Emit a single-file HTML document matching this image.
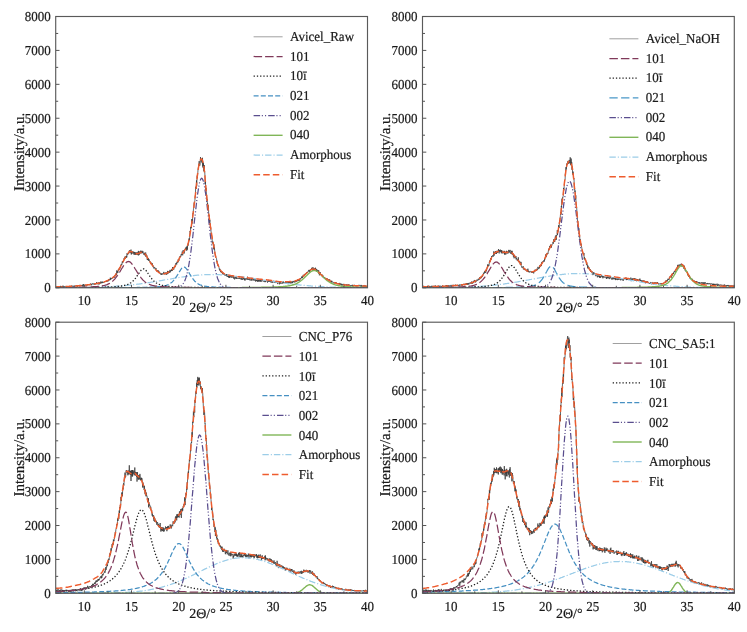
<!DOCTYPE html>
<html><head><meta charset="utf-8"><style>
html,body{margin:0;padding:0;background:#fff;}
svg{display:block;text-rendering:geometricPrecision;will-change:transform;}
.t{font-family:"Liberation Serif", serif;font-size:13px;fill:#1a1a1a;stroke:#1a1a1a;stroke-width:0.2px;}
.xl{font-family:"Liberation Serif", serif;font-size:14px;fill:#1a1a1a;stroke:#1a1a1a;stroke-width:0.2px;}
.yl{font-family:"Liberation Serif", serif;font-size:15px;fill:#1a1a1a;stroke:#1a1a1a;stroke-width:0.2px;}
</style></head><body>
<svg width="747" height="632" viewBox="0 0 747 632">
<clipPath id="c1"><rect x="56" y="16.5" width="311.5" height="271.3"/></clipPath>
<g clip-path="url(#c1)">
<path d="M56,286.8 56.2,286.6 56.4,286.7 56.7,287.4 56.9,286.5 57.1,286.7 57.3,287.1 57.6,286.6 57.8,286.7 58,286.7 58.2,286.8 58.4,286.6 58.7,287.1 58.9,286.9 59.1,287 59.3,286.6 59.6,286.8 59.8,286.9 60,287.1 60.2,286.9 60.5,286.8 60.7,286.9 60.9,286.2 61.1,286.3 61.3,287.8 61.6,287.5 61.8,286.8 62,286.9 62.2,286.6 62.5,286.6 62.7,285.8 62.9,287.1 63.1,286.8 63.3,285.8 63.6,286.4 63.8,286.4 64,286.8 64.2,287.3 64.5,286.5 64.7,286.5 64.9,287.1 65.1,286.8 65.4,286.6 65.6,286.9 65.8,286.6 66,286.5 66.2,286.5 66.5,286.7 66.7,286.2 66.9,286.1 67.1,286.3 67.4,286.8 67.6,286.1 67.8,286.6 68,286.1 68.2,286.9 68.5,286 68.7,286.4 68.9,286.9 69.1,286.5 69.4,286.3 69.6,286.2 69.8,286.7 70,286.8 70.3,286.2 70.5,286.5 70.7,286.2 70.9,285.9 71.1,286.9 71.4,286.1 71.6,285.7 71.8,286.3 72,286.5 72.3,285.9 72.5,286.1 72.7,285.8 72.9,286.3 73.1,286.8 73.4,286.2 73.6,286.3 73.8,285.8 74,286 74.3,286.8 74.5,286.6 74.7,285.6 74.9,285.7 75.1,286.3 75.4,286 75.6,285.8 75.8,285.7 76,285.5 76.3,285.8 76.5,285.9 76.7,286 76.9,285.4 77.2,286.8 77.4,285.9 77.6,285.8 77.8,286.4 78,285.6 78.3,286.1 78.5,285.4 78.7,285.8 78.9,285.4 79.2,285.1 79.4,285.5 79.6,286 79.8,286.3 80,284.8 80.3,285.6 80.5,285.9 80.7,285.5 80.9,285.6 81.2,285.1 81.4,285.5 81.6,285.5 81.8,285.8 82.1,285.2 82.3,285.9 82.5,285.1 82.7,284.6 82.9,286 83.2,286.5 83.4,285 83.6,284.1 83.8,285.7 84.1,285.8 84.3,284.9 84.5,285.6 84.7,285.4 84.9,285.3 85.2,284.8 85.4,285.3 85.6,284.9 85.8,285.1 86.1,285.4 86.3,285.1 86.5,285.4 86.7,284.9 86.9,285.4 87.2,285.4 87.4,284.1 87.6,284.8 87.8,284.8 88.1,284.5 88.3,284.9 88.5,284.8 88.7,284.5 89,284.5 89.2,285.2 89.4,284.2 89.6,284.9 89.8,285.1 90.1,285 90.3,284.7 90.5,283.6 90.7,285 91,284.3 91.2,285.4 91.4,284.3 91.6,283.8 91.8,284.4 92.1,284.6 92.3,284.1 92.5,283.8 92.7,283.8 93,283.1 93.2,284 93.4,284.4 93.6,284.1 93.9,284 94.1,283.9 94.3,283.9 94.5,283.8 94.7,284.7 95,283.4 95.2,284.1 95.4,284.4 95.6,283.4 95.9,283 96.1,283.4 96.3,283.5 96.5,284.1 96.7,282 97,283 97.2,284.1 97.4,283.8 97.6,283.3 97.9,284.2 98.1,283.2 98.3,283.5 98.5,282.5 98.8,282.6 99,284.6 99.2,283.1 99.4,283.9 99.6,282.4 99.9,282.9 100.1,282.6 100.3,283.5 100.5,281.8 100.8,281.6 101,283.3 101.2,282.5 101.4,283 101.6,282.6 101.9,283.2 102.1,281.4 102.3,282.9 102.5,282.5 102.8,282 103,282.6 103.2,282.3 103.4,282.4 103.6,282.1 103.9,282.6 104.1,282.1 104.3,281.9 104.5,281.9 104.8,281.6 105,281.8 105.2,281.1 105.4,281.6 105.7,281.4 105.9,281.7 106.1,281.5 106.3,281.9 106.5,280.7 106.8,281.6 107,281.2 107.2,280.5 107.4,280.3 107.7,280.7 107.9,281.6 108.1,280 108.3,279.9 108.5,280.9 108.8,279.4 109,280.2 109.2,280.3 109.4,279.4 109.7,279.4 109.9,279 110.1,280.1 110.3,277.7 110.6,279.2 110.8,279.7 111,278.2 111.2,278.7 111.4,278.1 111.7,278.5 111.9,278.2 112.1,277.8 112.3,278.4 112.6,277.3 112.8,277.9 113,278.1 113.2,277.2 113.4,276.8 113.7,277.1 113.9,277.4 114.1,276.1 114.3,277.6 114.6,276.8 114.8,275.7 115,276.5 115.2,275.2 115.4,274.9 115.7,273.9 115.9,275 116.1,274.4 116.3,273.3 116.6,275.3 116.8,270.4 117,273.2 117.2,272.8 117.5,271.1 117.7,271.5 117.9,272.7 118.1,270.2 118.3,269.6 118.6,270.4 118.8,269.8 119,268.8 119.2,269.6 119.5,268 119.7,267.8 119.9,268.2 120.1,268.5 120.3,267 120.6,267.2 120.8,264.9 121,265.3 121.2,264.3 121.5,264.5 121.7,263.9 121.9,264.6 122.1,262.7 122.4,261.1 122.6,262.8 122.8,262.7 123,261.9 123.2,261.8 123.5,261.6 123.7,260.3 123.9,260.4 124.1,258.1 124.4,259.3 124.6,258.6 124.8,257.5 125,258.6 125.2,256.3 125.5,258.3 125.7,258.1 125.9,257.3 126.1,256.6 126.4,257.7 126.6,255.8 126.8,257.3 127,253.3 127.3,254.6 127.5,254.9 127.7,254.9 127.9,253.9 128.1,253.3 128.4,254 128.6,253.6 128.8,252.4 129,252.6 129.3,250.6 129.5,250.3 129.7,251.5 129.9,250.9 130.1,253.1 130.4,250.7 130.6,251.6 130.8,251 131,249.6 131.3,254.5 131.5,251.4 131.7,253.2 131.9,251.2 132.1,253.6 132.4,252.7 132.6,252 132.8,251.6 133,252.3 133.3,253.5 133.5,253.3 133.7,251.7 133.9,252.9 134.2,255 134.4,252.1 134.6,252.7 134.8,252.2 135,253.8 135.3,252.5 135.5,254.8 135.7,252.9 135.9,254.2 136.2,252.9 136.4,252.5 136.6,254.6 136.8,253.8 137,253.7 137.3,252.3 137.5,252.8 137.7,255.1 137.9,253 138.2,252.6 138.4,250.9 138.6,255.4 138.8,253.9 139.1,251.6 139.3,254.7 139.5,254.4 139.7,252.3 139.9,251.6 140.2,253.5 140.4,251.9 140.6,252.4 140.8,250.6 141.1,252.4 141.3,251.1 141.5,253.3 141.7,252.4 141.9,252.3 142.2,250.8 142.4,251.5 142.6,253.2 142.8,251.5 143.1,251.4 143.3,252.6 143.5,252.9 143.7,253 144,254.9 144.2,252.9 144.4,253 144.6,254.5 144.8,252.8 145.1,255.6 145.3,254.9 145.5,255.1 145.7,252.5 146,257 146.2,254.8 146.4,254.7 146.6,255.7 146.8,255.2 147.1,258.1 147.3,259.9 147.5,256.9 147.7,259.5 148,258.9 148.2,260.2 148.4,258.2 148.6,258.8 148.8,260.9 149.1,259.5 149.3,260.7 149.5,261.3 149.7,261.5 150,262.1 150.2,261.6 150.4,262.3 150.6,263.3 150.9,262.2 151.1,264.2 151.3,263.6 151.5,263.8 151.7,263 152,265.2 152.2,263.3 152.4,265.1 152.6,265.8 152.9,266.5 153.1,265.6 153.3,266.4 153.5,267.8 153.7,268.2 154,267.9 154.2,268.3 154.4,267 154.6,267 154.9,267.8 155.1,268.6 155.3,269.5 155.5,269.4 155.8,268.9 156,268.1 156.2,269.4 156.4,270.7 156.6,270.7 156.9,271.3 157.1,271.8 157.3,271.5 157.5,271.3 157.8,270.1 158,271.8 158.2,270.9 158.4,270.7 158.6,272.3 158.9,271.2 159.1,272 159.3,273.1 159.5,272.7 159.8,273.1 160,273.4 160.2,273.5 160.4,273.3 160.6,273.2 160.9,274.4 161.1,273.7 161.3,275 161.5,273.7 161.8,273.4 162,273.9 162.2,273.8 162.4,273.6 162.7,274.6 162.9,274.2 163.1,273.6 163.3,273.2 163.5,273.6 163.8,271.9 164,274 164.2,273 164.4,272.8 164.7,273.8 164.9,274.3 165.1,274.6 165.3,273.4 165.5,272.6 165.8,273.2 166,273.2 166.2,273.5 166.4,272.7 166.7,274.8 166.9,272.8 167.1,272.9 167.3,273.9 167.6,270.9 167.8,273.7 168,273.4 168.2,273.4 168.4,271.3 168.7,272.9 168.9,271.5 169.1,271.4 169.3,271.5 169.6,272.7 169.8,272 170,269.9 170.2,272.3 170.4,271.8 170.7,271 170.9,270 171.1,270.3 171.3,269.7 171.6,271.1 171.8,269.1 172,269.2 172.2,271 172.5,267.9 172.7,267 172.9,269.5 173.1,268.5 173.3,267.1 173.6,269.4 173.8,269.6 174,268.7 174.2,267.8 174.5,267.5 174.7,266.1 174.9,266.1 175.1,267.2 175.3,265.1 175.6,263.5 175.8,263.8 176,263.6 176.2,264.2 176.5,262.9 176.7,264.5 176.9,262.3 177.1,262.8 177.3,261.1 177.6,261.4 177.8,262.6 178,260.9 178.2,259.4 178.5,261.4 178.7,260.4 178.9,260.2 179.1,260.6 179.4,257.4 179.6,256.6 179.8,256.8 180,257 180.2,257 180.5,256.2 180.7,257 180.9,254.7 181.1,254.2 181.4,254 181.6,255.3 181.8,254.3 182,254.2 182.2,251.6 182.5,253.2 182.7,255.3 182.9,252.3 183.1,250.2 183.4,251.3 183.6,250.7 183.8,251.5 184,253.6 184.3,253.1 184.5,252.1 184.7,250.4 184.9,249.6 185.1,248.8 185.4,249.8 185.6,247.8 185.8,249 186,249.2 186.3,246.9 186.5,248.7 186.7,250.7 186.9,248.1 187.1,246.1 187.4,249.7 187.6,245.6 187.8,244.9 188,245.7 188.3,245.1 188.5,242.9 188.7,242.1 188.9,238.5 189.2,238.6 189.4,240.3 189.6,237.9 189.8,234.3 190,231.1 190.3,232 190.5,230.7 190.7,226.9 190.9,228.5 191.2,227.6 191.4,228 191.6,225.1 191.8,219.1 192,223.7 192.3,219.6 192.5,220.5 192.7,216.2 192.9,213.1 193.2,213.5 193.4,209.9 193.6,208.2 193.8,206.9 194,202.6 194.3,202.6 194.5,202.9 194.7,201.8 194.9,200.3 195.2,195.7 195.4,195.4 195.6,187 195.8,186.7 196.1,189 196.3,187 196.5,180.4 196.7,186.2 196.9,180.9 197.2,175.6 197.4,177.9 197.6,174.9 197.8,172.8 198.1,168.6 198.3,168.3 198.5,166.2 198.7,164.5 198.9,164.8 199.2,161.1 199.4,164.7 199.6,165.7 199.8,165.8 200.1,164.8 200.3,161.5 200.5,157.1 200.7,158.9 201,160.6 201.2,161.7 201.4,160.2 201.6,160 201.8,160.6 202.1,163.1 202.3,161.1 202.5,157.8 202.7,166.6 203,162.5 203.2,168.1 203.4,163.3 203.6,166.7 203.8,171.3 204.1,167.4 204.3,165.1 204.5,171.3 204.7,171.1 205,176.5 205.2,183.9 205.4,180.6 205.6,185.4 205.8,190.3 206.1,188.1 206.3,191.7 206.5,195.8 206.7,195.1 207,200.5 207.2,199.4 207.4,204.4 207.6,203.3 207.9,208.3 208.1,205.1 208.3,209.2 208.5,208.8 208.7,214.7 209,215.8 209.2,215.2 209.4,223.1 209.6,221.9 209.9,219.9 210.1,222.6 210.3,223.4 210.5,227.1 210.7,227.3 211,231 211.2,233.5 211.4,235.5 211.6,235.1 211.9,236.5 212.1,237.9 212.3,243.4 212.5,242.4 212.8,241.5 213,241.6 213.2,244 213.4,245.6 213.6,248.7 213.9,244.3 214.1,249.6 214.3,247.4 214.5,248.9 214.8,251.7 215,253.9 215.2,254.2 215.4,256.8 215.6,256.2 215.9,257.5 216.1,257.9 216.3,258.3 216.5,258.4 216.8,261.5 217,260.8 217.2,263.5 217.4,264.3 217.7,264.7 217.9,265.8 218.1,264.5 218.3,265.1 218.5,265.4 218.8,267.2 219,267.4 219.2,268.7 219.4,269.7 219.7,268.7 219.9,269.2 220.1,270.9 220.3,269.7 220.5,272.1 220.8,271.1 221,271.8 221.2,272 221.4,272.7 221.7,271.3 221.9,271.9 222.1,271.6 222.3,272.7 222.5,274.1 222.8,273.5 223,274.3 223.2,273.2 223.4,272.7 223.7,273.6 223.9,274.5 224.1,274.5 224.3,274.1 224.6,275.6 224.8,274.4 225,274.5 225.2,275.2 225.4,275.2 225.7,274.8 225.9,275.7 226.1,275.8 226.3,274.6 226.6,275.1 226.8,274 227,276.2 227.2,276.9 227.4,274.8 227.7,274.9 227.9,276.3 228.1,276.9 228.3,275.9 228.6,277.3 228.8,276.2 229,277.7 229.2,276.3 229.5,277.8 229.7,276.4 229.9,275.1 230.1,276.6 230.3,275.8 230.6,277 230.8,277.2 231,277.7 231.2,275.9 231.5,276.7 231.7,275.5 231.9,277.7 232.1,277 232.3,276.9 232.6,275.9 232.8,275.7 233,277.6 233.2,278 233.5,278.5 233.7,276.3 233.9,277.4 234.1,277.8 234.3,277.5 234.6,279.4 234.8,278.8 235,276.9 235.2,277.3 235.5,277.6 235.7,278.5 235.9,277.3 236.1,276.5 236.4,278.8 236.6,277.9 236.8,278.3 237,277.7 237.2,278 237.5,278.2 237.7,278.7 237.9,278.2 238.1,278.6 238.4,278.3 238.6,278.3 238.8,277.8 239,278.7 239.2,278.6 239.5,277.6 239.7,278.6 239.9,278.6 240.1,277.9 240.4,278.3 240.6,278.5 240.8,278.4 241,279.5 241.3,278.3 241.5,277.7 241.7,278.3 241.9,279.8 242.1,278.5 242.4,279.4 242.6,278.9 242.8,278.7 243,279.7 243.3,277.9 243.5,278.9 243.7,278.3 243.9,278.5 244.1,278 244.4,278.1 244.6,280.1 244.8,279 245,280.6 245.3,279.4 245.5,278.6 245.7,278.5 245.9,278.2 246.2,279.4 246.4,279 246.6,279.2 246.8,278.4 247,278.2 247.3,279.6 247.5,276.7 247.7,279.4 247.9,279.6 248.2,279 248.4,278.9 248.6,279.1 248.8,279.9 249,278.5 249.3,279.5 249.5,278.5 249.7,278.6 249.9,280.5 250.2,280.3 250.4,280.3 250.6,279.5 250.8,279.6 251,279.5 251.3,280.3 251.5,279.5 251.7,278.8 251.9,280.7 252.2,279.9 252.4,279.7 252.6,280 252.8,280 253.1,278.7 253.3,279.1 253.5,279.4 253.7,280.5 253.9,278.5 254.2,279.8 254.4,280.4 254.6,280.3 254.8,280.4 255.1,278.7 255.3,280 255.5,280.1 255.7,281.6 255.9,279.7 256.2,280.9 256.4,281 256.6,279.9 256.8,280.9 257.1,279.8 257.3,279.6 257.5,281.6 257.7,280.5 258,281.5 258.2,280.5 258.4,279.9 258.6,281.4 258.8,279.3 259.1,280.7 259.3,281.3 259.5,280.7 259.7,280.1 260,281.5 260.2,280.6 260.4,281.6 260.6,279.9 260.8,280.6 261.1,281 261.3,280 261.5,281.6 261.7,281 262,279.6 262.2,280.9 262.4,279.9 262.6,280.7 262.9,281.3 263.1,281 263.3,280.8 263.5,281.2 263.7,281.4 264,281.4 264.2,281.9 264.4,280.9 264.6,280.7 264.9,280.5 265.1,282.2 265.3,280.5 265.5,281.1 265.7,282 266,281 266.2,280.6 266.4,280.8 266.6,280.7 266.9,280.5 267.1,280.6 267.3,281.2 267.5,282.6 267.7,281.7 268,281 268.2,281.6 268.4,280.9 268.6,280.8 268.9,281.3 269.1,280.2 269.3,282 269.5,280.9 269.8,281.8 270,282 270.2,281.2 270.4,282 270.6,281.1 270.9,282.4 271.1,281.7 271.3,282.2 271.5,281.9 271.8,282 272,282.5 272.2,281.4 272.4,282.7 272.6,282.5 272.9,281.4 273.1,281.4 273.3,281.6 273.5,281.9 273.8,280.7 274,282.9 274.2,282.6 274.4,282.8 274.7,281.7 274.9,282.1 275.1,281.6 275.3,281.7 275.5,282.5 275.8,282.9 276,283 276.2,281.1 276.4,281.9 276.7,282.2 276.9,282.8 277.1,282.7 277.3,282.8 277.5,282.8 277.8,284.1 278,282.7 278.2,282.9 278.4,282.5 278.7,282.6 278.9,282.2 279.1,282.8 279.3,282.3 279.5,284.3 279.8,283.4 280,281.8 280.2,283.5 280.4,283 280.7,282.4 280.9,283.3 281.1,282.4 281.3,283.6 281.6,283.9 281.8,283.6 282,283.8 282.2,282.8 282.4,283 282.7,282.6 282.9,283.4 283.1,281.3 283.3,282.8 283.6,282.8 283.8,282.5 284,282.9 284.2,283.1 284.4,282.6 284.7,282.1 284.9,282.3 285.1,282.1 285.3,283 285.6,283.1 285.8,281.4 286,282.8 286.2,282.3 286.5,282.2 286.7,281.7 286.9,283.4 287.1,282.8 287.3,282.8 287.6,282.7 287.8,284 288,282.6 288.2,284.2 288.5,282.3 288.7,282.2 288.9,282.1 289.1,283.2 289.3,281.9 289.6,282.9 289.8,283.1 290,283 290.2,282.9 290.5,282.3 290.7,281.9 290.9,283.6 291.1,282.6 291.4,281.7 291.6,282.1 291.8,281.9 292,283.1 292.2,281.6 292.5,283.1 292.7,282 292.9,281.2 293.1,280.9 293.4,281.7 293.6,281.4 293.8,282.3 294,282.2 294.2,281.1 294.5,281.8 294.7,281.8 294.9,282.5 295.1,281.5 295.4,281.1 295.6,281.9 295.8,281.7 296,280.3 296.2,281.1 296.5,281.3 296.7,281.8 296.9,281.4 297.1,281 297.4,279.9 297.6,281.1 297.8,279.4 298,281 298.3,280.6 298.5,279.7 298.7,280.2 298.9,280.5 299.1,279.9 299.4,279.3 299.6,280.6 299.8,279.5 300,279.2 300.3,279.3 300.5,278.3 300.7,279 300.9,278.7 301.1,278.2 301.4,277.6 301.6,278 301.8,276.6 302,278.1 302.3,276.3 302.5,277.7 302.7,277 302.9,276.4 303.2,274.9 303.4,275.5 303.6,276.3 303.8,274.8 304,275.7 304.3,275.9 304.5,274.7 304.7,274.8 304.9,273.9 305.2,274.9 305.4,273.9 305.6,273.5 305.8,273.6 306,273.6 306.3,273.9 306.5,272.4 306.7,272.9 306.9,272.4 307.2,272.9 307.4,272.4 307.6,273 307.8,271.9 308.1,271.2 308.3,271.5 308.5,270.7 308.7,271 308.9,269.9 309.2,271.1 309.4,272.1 309.6,270.2 309.8,270.6 310.1,271.1 310.3,269.6 310.5,269.8 310.7,269.5 310.9,270 311.2,269.5 311.4,269.3 311.6,267.8 311.8,270 312.1,269.3 312.3,268.9 312.5,270.7 312.7,270.5 312.9,267.1 313.2,270.6 313.4,268.5 313.6,269.8 313.8,269.7 314.1,270.8 314.3,269.9 314.5,268.5 314.7,270.5 315,268.8 315.2,269.1 315.4,267.7 315.6,270 315.8,268.6 316.1,269.1 316.3,270.3 316.5,271.7 316.7,269.1 317,271.7 317.2,271.2 317.4,270.2 317.6,270.2 317.8,272.1 318.1,271.6 318.3,272 318.5,271 318.7,270.2 319,274 319.2,271.9 319.4,275.3 319.6,273.2 319.9,274.3 320.1,272 320.3,273.7 320.5,274.7 320.7,274.7 321,275 321.2,274.6 321.4,275.1 321.6,274.7 321.9,274.2 322.1,275 322.3,276.7 322.5,277.2 322.7,276.7 323,275.6 323.2,276.8 323.4,277.2 323.6,276.8 323.9,278.1 324.1,278.1 324.3,277.1 324.5,277.8 324.7,278.1 325,277.7 325.2,278.5 325.4,278.7 325.6,278.7 325.9,278.1 326.1,278.6 326.3,279.6 326.5,279.1 326.8,278.6 327,278 327.2,280.1 327.4,279.3 327.6,279.8 327.9,279.2 328.1,279.6 328.3,279.1 328.5,279.8 328.8,280.6 329,280.8 329.2,280.3 329.4,280.4 329.6,279.3 329.9,279.9 330.1,281.7 330.3,280.9 330.5,282 330.8,282.3 331,281 331.2,281.2 331.4,282.2 331.7,280.7 331.9,282.4 332.1,282.6 332.3,281.6 332.5,281.9 332.8,282.2 333,282.2 333.2,282.2 333.4,282.4 333.7,282.5 333.9,283.6 334.1,283.4 334.3,282.3 334.5,283.1 334.8,282.5 335,282.2 335.2,283.2 335.4,282.9 335.7,282 335.9,282.8 336.1,282.3 336.3,282.5 336.6,283 336.8,283.5 337,284 337.2,284.2 337.4,283.4 337.7,283.5 337.9,283.9 338.1,283.4 338.3,284.2 338.6,283.4 338.8,284 339,284 339.2,284.1 339.4,284.2 339.7,282.9 339.9,285 340.1,284.2 340.3,283.7 340.6,284 340.8,284.5 341,283.5 341.2,285 341.4,285.1 341.7,284.2 341.9,285.3 342.1,285.8 342.3,284.2 342.6,284.3 342.8,284.3 343,284.9 343.2,284.6 343.5,285.2 343.7,283.9 343.9,284.4 344.1,284.5 344.3,285.8 344.6,284.5 344.8,284.2 345,284.3 345.2,284.6 345.5,285 345.7,285.2 345.9,284.7 346.1,284.9 346.3,285 346.6,285.2 346.8,284.3 347,285.7 347.2,285.2 347.5,285.4 347.7,284.7 347.9,284.5 348.1,284.6 348.4,284.9 348.6,285.9 348.8,284.3 349,285 349.2,285.4 349.5,285.3 349.7,285.5 349.9,285.2 350.1,285.2 350.4,285.5 350.6,286.6 350.8,285.4 351,285.2 351.2,285.2 351.5,285.5 351.7,285.3 351.9,285 352.1,285.7 352.4,284.8 352.6,286.4 352.8,286.1 353,286 353.2,286.7 353.5,286 353.7,285 353.9,285 354.1,285.6 354.4,284.8 354.6,285.5 354.8,285.9 355,285.5 355.3,285.7 355.5,285.3 355.7,286.4 355.9,285.2 356.1,285.9 356.4,285.3 356.6,286.4 356.8,285.9 357,285.7 357.3,285.3 357.5,286.3 357.7,285 357.9,285.6 358.1,286 358.4,285.3 358.6,285.8 358.8,285.3 359,284.8 359.3,285.5 359.5,286.1 359.7,286 359.9,285.6 360.2,285.7 360.4,286.2 360.6,286.2 360.8,285.6 361,284.9 361.3,287.1 361.5,285.6 361.7,286 361.9,285.6 362.2,285.6 362.4,285.9 362.6,286.4 362.8,286.6 363,286.8 363.3,285.4 363.5,286.1 363.7,286.2 363.9,286.1 364.2,286.6 364.4,285.9 364.6,285.4 364.8,285.5 365.1,286.7 365.3,285.5 365.5,286.4 365.7,286.9 365.9,286.6 366.2,286.5 366.4,286.1 366.6,286.5 366.8,286.7 367.1,286.2 367.3,285.3 367.5,286.4" fill="none" stroke="#383838" stroke-width="0.75"/>
<path d="M56,287.8 56.5,287.8 57,287.8 57.6,287.8 58.1,287.7 58.6,287.7 59.1,287.7 59.6,287.7 60.2,287.7 60.7,287.7 61.2,287.7 61.7,287.7 62.2,287.7 62.8,287.7 63.3,287.7 63.8,287.7 64.3,287.7 64.8,287.7 65.4,287.7 65.9,287.7 66.4,287.7 66.9,287.7 67.4,287.7 68,287.7 68.5,287.7 69,287.7 69.5,287.7 70,287.7 70.6,287.7 71.1,287.7 71.6,287.7 72.1,287.7 72.6,287.7 73.2,287.7 73.7,287.7 74.2,287.6 74.7,287.6 75.2,287.6 75.8,287.6 76.3,287.6 76.8,287.6 77.3,287.6 77.8,287.6 78.4,287.6 78.9,287.6 79.4,287.6 79.9,287.6 80.4,287.6 81,287.6 81.5,287.6 82,287.5 82.5,287.5 83,287.5 83.6,287.5 84.1,287.5 84.6,287.5 85.1,287.5 85.6,287.5 86.2,287.5 86.7,287.5 87.2,287.5 87.7,287.4 88.2,287.4 88.8,287.4 89.3,287.4 89.8,287.4 90.3,287.4 90.8,287.4 91.4,287.4 91.9,287.4 92.4,287.3 92.9,287.3 93.4,287.3 94,287.3 94.5,287.3 95,287.3 95.5,287.2 96,287.2 96.6,287.2 97.1,287.2 97.6,287.2 98.1,287.2 98.6,287.1 99.2,287.1 99.7,287.1 100.2,287.1 100.7,287.1 101.2,287.1 101.8,287 102.3,287 102.8,287 103.3,287 103.8,286.9 104.4,286.9 104.9,286.9 105.4,286.9 105.9,286.9 106.4,286.8 107,286.8 107.5,286.8 108,286.7 108.5,286.7 109,286.7 109.6,286.7 110.1,286.6 110.6,286.6 111.1,286.6 111.6,286.5 112.2,286.5 112.7,286.5 113.2,286.5 113.7,286.4 114.2,286.4 114.8,286.4 115.3,286.3 115.8,286.3 116.3,286.2 116.8,286.2 117.4,286.2 117.9,286.1 118.4,286.1 118.9,286.1 119.4,286 120,286 120.5,285.9 121,285.9 121.5,285.9 122,285.8 122.6,285.8 123.1,285.7 123.6,285.7 124.1,285.6 124.6,285.6 125.2,285.5 125.7,285.5 126.2,285.4 126.7,285.4 127.2,285.3 127.8,285.3 128.3,285.2 128.8,285.2 129.3,285.1 129.8,285.1 130.4,285 130.9,285 131.4,284.9 131.9,284.8 132.4,284.8 133,284.7 133.5,284.7 134,284.6 134.5,284.5 135,284.5 135.6,284.4 136.1,284.4 136.6,284.3 137.1,284.2 137.6,284.2 138.2,284.1 138.7,284 139.2,284 139.7,283.9 140.2,283.8 140.8,283.8 141.3,283.7 141.8,283.6 142.3,283.5 142.8,283.5 143.4,283.4 143.9,283.3 144.4,283.3 144.9,283.2 145.4,283.1 146,283 146.5,282.9 147,282.9 147.5,282.8 148,282.7 148.6,282.6 149.1,282.5 149.6,282.5 150.1,282.4 150.6,282.3 151.2,282.2 151.7,282.1 152.2,282.1 152.7,282 153.2,281.9 153.8,281.8 154.3,281.7 154.8,281.6 155.3,281.5 155.8,281.5 156.4,281.4 156.9,281.3 157.4,281.2 157.9,281.1 158.4,281 159,280.9 159.5,280.8 160,280.8 160.5,280.7 161,280.6 161.6,280.5 162.1,280.4 162.6,280.3 163.1,280.2 163.6,280.1 164.2,280 164.7,279.9 165.2,279.9 165.7,279.8 166.2,279.7 166.8,279.6 167.3,279.5 167.8,279.4 168.3,279.3 168.8,279.2 169.4,279.1 169.9,279 170.4,279 170.9,278.9 171.4,278.8 172,278.7 172.5,278.6 173,278.5 173.5,278.4 174,278.3 174.6,278.2 175.1,278.2 175.6,278.1 176.1,278 176.6,277.9 177.2,277.8 177.7,277.7 178.2,277.7 178.7,277.6 179.2,277.5 179.8,277.4 180.3,277.3 180.8,277.2 181.3,277.2 181.8,277.1 182.4,277 182.9,276.9 183.4,276.9 183.9,276.8 184.4,276.7 185,276.6 185.5,276.6 186,276.5 186.5,276.4 187,276.3 187.6,276.3 188.1,276.2 188.6,276.1 189.1,276.1 189.6,276 190.2,275.9 190.7,275.9 191.2,275.8 191.7,275.8 192.2,275.7 192.8,275.6 193.3,275.6 193.8,275.5 194.3,275.5 194.8,275.4 195.4,275.4 195.9,275.3 196.4,275.3 196.9,275.2 197.4,275.2 198,275.2 198.5,275.1 199,275.1 199.5,275 200,275 200.6,275 201.1,274.9 201.6,274.9 202.1,274.9 202.6,274.8 203.2,274.8 203.7,274.8 204.2,274.7 204.7,274.7 205.2,274.7 205.8,274.7 206.3,274.7 206.8,274.6 207.3,274.6 207.8,274.6 208.4,274.6 208.9,274.6 209.4,274.6 209.9,274.6 210.4,274.6 211,274.6 211.5,274.6 212,274.6 212.5,274.6 213.1,274.6 213.6,274.6 214.1,274.6 214.6,274.6 215.1,274.6 215.7,274.6 216.2,274.6 216.7,274.6 217.2,274.7 217.7,274.7 218.3,274.7 218.8,274.7 219.3,274.7 219.8,274.7 220.3,274.8 220.9,274.8 221.4,274.8 221.9,274.8 222.4,274.9 222.9,274.9 223.5,274.9 224,275 224.5,275 225,275 225.5,275.1 226.1,275.1 226.6,275.1 227.1,275.2 227.6,275.2 228.1,275.3 228.7,275.3 229.2,275.3 229.7,275.4 230.2,275.4 230.7,275.5 231.3,275.5 231.8,275.6 232.3,275.6 232.8,275.7 233.3,275.7 233.9,275.8 234.4,275.9 234.9,275.9 235.4,276 235.9,276 236.5,276.1 237,276.1 237.5,276.2 238,276.3 238.5,276.3 239.1,276.4 239.6,276.5 240.1,276.5 240.6,276.6 241.1,276.7 241.7,276.7 242.2,276.8 242.7,276.9 243.2,276.9 243.7,277 244.3,277.1 244.8,277.2 245.3,277.2 245.8,277.3 246.3,277.4 246.9,277.5 247.4,277.5 247.9,277.6 248.4,277.7 248.9,277.8 249.5,277.8 250,277.9 250.5,278 251,278.1 251.5,278.1 252.1,278.2 252.6,278.3 253.1,278.4 253.6,278.5 254.1,278.6 254.7,278.6 255.2,278.7 255.7,278.8 256.2,278.9 256.7,279 257.3,279 257.8,279.1 258.3,279.2 258.8,279.3 259.3,279.4 259.9,279.5 260.4,279.5 260.9,279.6 261.4,279.7 261.9,279.8 262.5,279.9 263,280 263.5,280 264,280.1 264.5,280.2 265.1,280.3 265.6,280.4 266.1,280.5 266.6,280.5 267.1,280.6 267.7,280.7 268.2,280.8 268.7,280.9 269.2,280.9 269.7,281 270.3,281.1 270.8,281.2 271.3,281.3 271.8,281.4 272.3,281.4 272.9,281.5 273.4,281.6 273.9,281.7 274.4,281.7 274.9,281.8 275.5,281.9 276,282 276.5,282.1 277,282.1 277.5,282.2 278.1,282.3 278.6,282.4 279.1,282.4 279.6,282.5 280.1,282.6 280.7,282.7 281.2,282.7 281.7,282.8 282.2,282.9 282.7,283 283.3,283 283.8,283.1 284.3,283.2 284.8,283.2 285.3,283.3 285.9,283.4 286.4,283.4 286.9,283.5 287.4,283.6 287.9,283.6 288.5,283.7 289,283.8 289.5,283.8 290,283.9 290.5,284 291.1,284 291.6,284.1 292.1,284.1 292.6,284.2 293.1,284.3 293.7,284.3 294.2,284.4 294.7,284.4 295.2,284.5 295.7,284.6 296.3,284.6 296.8,284.7 297.3,284.7 297.8,284.8 298.3,284.8 298.9,284.9 299.4,284.9 299.9,285 300.4,285 300.9,285.1 301.5,285.1 302,285.2 302.5,285.2 303,285.3 303.5,285.3 304.1,285.4 304.6,285.4 305.1,285.5 305.6,285.5 306.1,285.6 306.7,285.6 307.2,285.6 307.7,285.7 308.2,285.7 308.7,285.8 309.3,285.8 309.8,285.8 310.3,285.9 310.8,285.9 311.3,286 311.9,286 312.4,286 312.9,286.1 313.4,286.1 313.9,286.1 314.5,286.2 315,286.2 315.5,286.2 316,286.3 316.5,286.3 317.1,286.3 317.6,286.4 318.1,286.4 318.6,286.4 319.1,286.5 319.7,286.5 320.2,286.5 320.7,286.6 321.2,286.6 321.7,286.6 322.3,286.6 322.8,286.7 323.3,286.7 323.8,286.7 324.3,286.7 324.9,286.8 325.4,286.8 325.9,286.8 326.4,286.8 326.9,286.9 327.5,286.9 328,286.9 328.5,286.9 329,286.9 329.5,287 330.1,287 330.6,287 331.1,287 331.6,287 332.1,287.1 332.7,287.1 333.2,287.1 333.7,287.1 334.2,287.1 334.7,287.1 335.3,287.2 335.8,287.2 336.3,287.2 336.8,287.2 337.3,287.2 337.9,287.2 338.4,287.3 338.9,287.3 339.4,287.3 339.9,287.3 340.5,287.3 341,287.3 341.5,287.3 342,287.3 342.5,287.4 343.1,287.4 343.6,287.4 344.1,287.4 344.6,287.4 345.1,287.4 345.7,287.4 346.2,287.4 346.7,287.4 347.2,287.5 347.7,287.5 348.3,287.5 348.8,287.5 349.3,287.5 349.8,287.5 350.3,287.5 350.9,287.5 351.4,287.5 351.9,287.5 352.4,287.5 352.9,287.6 353.5,287.6 354,287.6 354.5,287.6 355,287.6 355.5,287.6 356.1,287.6 356.6,287.6 357.1,287.6 357.6,287.6 358.1,287.6 358.7,287.6 359.2,287.6 359.7,287.6 360.2,287.6 360.7,287.6 361.3,287.6 361.8,287.7 362.3,287.7 362.8,287.7 363.3,287.7 363.9,287.7 364.4,287.7 364.9,287.7 365.4,287.7 365.9,287.7 366.5,287.7 367,287.7 367.5,287.7" fill="none" stroke="#9ccde8" stroke-width="1.25" stroke-dasharray="6.4 2 1.1 2"/>
<path d="M56,287.8 56.5,287.8 57,287.8 57.6,287.8 58.1,287.8 58.6,287.8 59.1,287.8 59.6,287.8 60.2,287.8 60.7,287.8 61.2,287.8 61.7,287.8 62.2,287.8 62.8,287.8 63.3,287.8 63.8,287.8 64.3,287.8 64.8,287.8 65.4,287.8 65.9,287.8 66.4,287.8 66.9,287.8 67.4,287.8 68,287.8 68.5,287.8 69,287.8 69.5,287.8 70,287.8 70.6,287.8 71.1,287.8 71.6,287.8 72.1,287.8 72.6,287.8 73.2,287.8 73.7,287.8 74.2,287.8 74.7,287.8 75.2,287.8 75.8,287.8 76.3,287.8 76.8,287.8 77.3,287.8 77.8,287.8 78.4,287.8 78.9,287.8 79.4,287.8 79.9,287.8 80.4,287.8 81,287.8 81.5,287.8 82,287.8 82.5,287.8 83,287.8 83.6,287.8 84.1,287.8 84.6,287.8 85.1,287.8 85.6,287.8 86.2,287.8 86.7,287.8 87.2,287.8 87.7,287.8 88.2,287.8 88.8,287.8 89.3,287.8 89.8,287.8 90.3,287.8 90.8,287.8 91.4,287.8 91.9,287.8 92.4,287.8 92.9,287.8 93.4,287.8 94,287.8 94.5,287.8 95,287.8 95.5,287.8 96,287.8 96.6,287.8 97.1,287.8 97.6,287.8 98.1,287.8 98.6,287.8 99.2,287.8 99.7,287.8 100.2,287.8 100.7,287.8 101.2,287.8 101.8,287.8 102.3,287.8 102.8,287.8 103.3,287.8 103.8,287.8 104.4,287.8 104.9,287.8 105.4,287.8 105.9,287.8 106.4,287.8 107,287.8 107.5,287.8 108,287.8 108.5,287.8 109,287.8 109.6,287.8 110.1,287.8 110.6,287.8 111.1,287.8 111.6,287.8 112.2,287.8 112.7,287.8 113.2,287.8 113.7,287.8 114.2,287.8 114.8,287.8 115.3,287.8 115.8,287.8 116.3,287.8 116.8,287.8 117.4,287.8 117.9,287.8 118.4,287.8 118.9,287.8 119.4,287.8 120,287.8 120.5,287.8 121,287.8 121.5,287.8 122,287.8 122.6,287.8 123.1,287.8 123.6,287.8 124.1,287.8 124.6,287.8 125.2,287.8 125.7,287.8 126.2,287.8 126.7,287.8 127.2,287.8 127.8,287.8 128.3,287.8 128.8,287.8 129.3,287.8 129.8,287.8 130.4,287.8 130.9,287.8 131.4,287.8 131.9,287.8 132.4,287.8 133,287.8 133.5,287.8 134,287.8 134.5,287.8 135,287.8 135.6,287.8 136.1,287.8 136.6,287.8 137.1,287.8 137.6,287.8 138.2,287.8 138.7,287.8 139.2,287.8 139.7,287.8 140.2,287.8 140.8,287.8 141.3,287.8 141.8,287.8 142.3,287.8 142.8,287.8 143.4,287.8 143.9,287.8 144.4,287.8 144.9,287.8 145.4,287.8 146,287.8 146.5,287.8 147,287.8 147.5,287.8 148,287.8 148.6,287.8 149.1,287.8 149.6,287.8 150.1,287.8 150.6,287.8 151.2,287.8 151.7,287.7 152.2,287.7 152.7,287.7 153.2,287.7 153.8,287.7 154.3,287.7 154.8,287.7 155.3,287.7 155.8,287.7 156.4,287.7 156.9,287.7 157.4,287.7 157.9,287.7 158.4,287.7 159,287.7 159.5,287.7 160,287.7 160.5,287.7 161,287.7 161.6,287.7 162.1,287.7 162.6,287.7 163.1,287.7 163.6,287.7 164.2,287.7 164.7,287.7 165.2,287.7 165.7,287.7 166.2,287.7 166.8,287.7 167.3,287.7 167.8,287.7 168.3,287.7 168.8,287.7 169.4,287.7 169.9,287.7 170.4,287.7 170.9,287.7 171.4,287.7 172,287.7 172.5,287.7 173,287.7 173.5,287.7 174,287.7 174.6,287.7 175.1,287.7 175.6,287.7 176.1,287.7 176.6,287.7 177.2,287.7 177.7,287.7 178.2,287.7 178.7,287.7 179.2,287.7 179.8,287.7 180.3,287.7 180.8,287.7 181.3,287.7 181.8,287.7 182.4,287.7 182.9,287.7 183.4,287.7 183.9,287.7 184.4,287.7 185,287.7 185.5,287.7 186,287.7 186.5,287.7 187,287.7 187.6,287.7 188.1,287.7 188.6,287.7 189.1,287.7 189.6,287.7 190.2,287.7 190.7,287.7 191.2,287.7 191.7,287.7 192.2,287.7 192.8,287.7 193.3,287.7 193.8,287.7 194.3,287.7 194.8,287.7 195.4,287.7 195.9,287.7 196.4,287.7 196.9,287.7 197.4,287.7 198,287.7 198.5,287.7 199,287.7 199.5,287.7 200,287.7 200.6,287.7 201.1,287.7 201.6,287.7 202.1,287.7 202.6,287.7 203.2,287.7 203.7,287.7 204.2,287.7 204.7,287.7 205.2,287.7 205.8,287.7 206.3,287.7 206.8,287.7 207.3,287.7 207.8,287.7 208.4,287.7 208.9,287.7 209.4,287.7 209.9,287.7 210.4,287.7 211,287.7 211.5,287.7 212,287.7 212.5,287.7 213.1,287.7 213.6,287.7 214.1,287.7 214.6,287.7 215.1,287.7 215.7,287.7 216.2,287.7 216.7,287.7 217.2,287.7 217.7,287.7 218.3,287.7 218.8,287.7 219.3,287.7 219.8,287.7 220.3,287.7 220.9,287.6 221.4,287.6 221.9,287.6 222.4,287.6 222.9,287.6 223.5,287.6 224,287.6 224.5,287.6 225,287.6 225.5,287.6 226.1,287.6 226.6,287.6 227.1,287.6 227.6,287.6 228.1,287.6 228.7,287.6 229.2,287.6 229.7,287.6 230.2,287.6 230.7,287.6 231.3,287.6 231.8,287.6 232.3,287.6 232.8,287.6 233.3,287.6 233.9,287.6 234.4,287.6 234.9,287.6 235.4,287.6 235.9,287.6 236.5,287.6 237,287.6 237.5,287.6 238,287.6 238.5,287.6 239.1,287.6 239.6,287.6 240.1,287.6 240.6,287.6 241.1,287.6 241.7,287.6 242.2,287.5 242.7,287.5 243.2,287.5 243.7,287.5 244.3,287.5 244.8,287.5 245.3,287.5 245.8,287.5 246.3,287.5 246.9,287.5 247.4,287.5 247.9,287.5 248.4,287.5 248.9,287.5 249.5,287.5 250,287.5 250.5,287.5 251,287.5 251.5,287.5 252.1,287.5 252.6,287.5 253.1,287.5 253.6,287.4 254.1,287.4 254.7,287.4 255.2,287.4 255.7,287.4 256.2,287.4 256.7,287.4 257.3,287.4 257.8,287.4 258.3,287.4 258.8,287.4 259.3,287.4 259.9,287.4 260.4,287.4 260.9,287.4 261.4,287.3 261.9,287.3 262.5,287.3 263,287.3 263.5,287.3 264,287.3 264.5,287.3 265.1,287.3 265.6,287.3 266.1,287.3 266.6,287.2 267.1,287.2 267.7,287.2 268.2,287.2 268.7,287.2 269.2,287.2 269.7,287.2 270.3,287.2 270.8,287.1 271.3,287.1 271.8,287.1 272.3,287.1 272.9,287.1 273.4,287.1 273.9,287 274.4,287 274.9,287 275.5,287 276,287 276.5,286.9 277,286.9 277.5,286.9 278.1,286.9 278.6,286.8 279.1,286.8 279.6,286.8 280.1,286.8 280.7,286.7 281.2,286.7 281.7,286.7 282.2,286.6 282.7,286.6 283.3,286.5 283.8,286.5 284.3,286.4 284.8,286.4 285.3,286.3 285.9,286.3 286.4,286.2 286.9,286.1 287.4,286.1 287.9,286 288.5,285.9 289,285.8 289.5,285.7 290,285.6 290.5,285.5 291.1,285.4 291.6,285.3 292.1,285.1 292.6,285 293.1,284.8 293.7,284.7 294.2,284.5 294.7,284.3 295.2,284.1 295.7,283.9 296.3,283.6 296.8,283.4 297.3,283.1 297.8,282.8 298.3,282.5 298.9,282.2 299.4,281.8 299.9,281.5 300.4,281.1 300.9,280.7 301.5,280.3 302,279.9 302.5,279.5 303,279 303.5,278.5 304.1,278 304.6,277.5 305.1,277 305.6,276.5 306.1,276 306.7,275.5 307.2,275 307.7,274.5 308.2,274 308.7,273.5 309.3,273 309.8,272.5 310.3,272.1 310.8,271.7 311.3,271.4 311.9,271.1 312.4,270.9 312.9,270.7 313.4,270.6 313.9,270.5 314.5,270.5 315,270.6 315.5,270.7 316,270.9 316.5,271.1 317.1,271.4 317.6,271.8 318.1,272.2 318.6,272.6 319.1,273 319.7,273.5 320.2,274 320.7,274.5 321.2,275 321.7,275.5 322.3,276.1 322.8,276.6 323.3,277.1 323.8,277.6 324.3,278.1 324.9,278.6 325.4,279 325.9,279.5 326.4,279.9 326.9,280.4 327.5,280.8 328,281.2 328.5,281.5 329,281.9 329.5,282.2 330.1,282.5 330.6,282.8 331.1,283.1 331.6,283.4 332.1,283.6 332.7,283.9 333.2,284.1 333.7,284.3 334.2,284.5 334.7,284.7 335.3,284.9 335.8,285 336.3,285.2 336.8,285.3 337.3,285.4 337.9,285.5 338.4,285.6 338.9,285.7 339.4,285.8 339.9,285.9 340.5,286 341,286.1 341.5,286.2 342,286.2 342.5,286.3 343.1,286.3 343.6,286.4 344.1,286.4 344.6,286.5 345.1,286.5 345.7,286.6 346.2,286.6 346.7,286.7 347.2,286.7 347.7,286.7 348.3,286.8 348.8,286.8 349.3,286.8 349.8,286.8 350.3,286.9 350.9,286.9 351.4,286.9 351.9,286.9 352.4,287 352.9,287 353.5,287 354,287 354.5,287 355,287.1 355.5,287.1 356.1,287.1 356.6,287.1 357.1,287.1 357.6,287.1 358.1,287.2 358.7,287.2 359.2,287.2 359.7,287.2 360.2,287.2 360.7,287.2 361.3,287.2 361.8,287.2 362.3,287.3 362.8,287.3 363.3,287.3 363.9,287.3 364.4,287.3 364.9,287.3 365.4,287.3 365.9,287.3 366.5,287.3 367,287.3 367.5,287.4" fill="none" stroke="#80b658" stroke-width="1.4"/>
<path d="M56,287.8 56.5,287.8 57,287.8 57.6,287.8 58.1,287.7 58.6,287.7 59.1,287.7 59.6,287.7 60.2,287.7 60.7,287.7 61.2,287.7 61.7,287.7 62.2,287.7 62.8,287.7 63.3,287.7 63.8,287.7 64.3,287.7 64.8,287.7 65.4,287.7 65.9,287.7 66.4,287.7 66.9,287.7 67.4,287.7 68,287.7 68.5,287.7 69,287.7 69.5,287.7 70,287.7 70.6,287.7 71.1,287.7 71.6,287.7 72.1,287.7 72.6,287.7 73.2,287.7 73.7,287.7 74.2,287.7 74.7,287.7 75.2,287.7 75.8,287.7 76.3,287.7 76.8,287.7 77.3,287.7 77.8,287.7 78.4,287.7 78.9,287.7 79.4,287.7 79.9,287.7 80.4,287.7 81,287.7 81.5,287.7 82,287.7 82.5,287.7 83,287.7 83.6,287.7 84.1,287.7 84.6,287.7 85.1,287.7 85.6,287.7 86.2,287.7 86.7,287.7 87.2,287.7 87.7,287.7 88.2,287.7 88.8,287.7 89.3,287.7 89.8,287.7 90.3,287.7 90.8,287.7 91.4,287.7 91.9,287.7 92.4,287.7 92.9,287.7 93.4,287.7 94,287.7 94.5,287.7 95,287.7 95.5,287.7 96,287.7 96.6,287.7 97.1,287.7 97.6,287.7 98.1,287.7 98.6,287.7 99.2,287.7 99.7,287.7 100.2,287.7 100.7,287.7 101.2,287.7 101.8,287.7 102.3,287.7 102.8,287.7 103.3,287.7 103.8,287.7 104.4,287.7 104.9,287.7 105.4,287.7 105.9,287.7 106.4,287.7 107,287.7 107.5,287.7 108,287.7 108.5,287.7 109,287.7 109.6,287.7 110.1,287.7 110.6,287.7 111.1,287.7 111.6,287.6 112.2,287.6 112.7,287.6 113.2,287.6 113.7,287.6 114.2,287.6 114.8,287.6 115.3,287.6 115.8,287.6 116.3,287.6 116.8,287.6 117.4,287.6 117.9,287.6 118.4,287.6 118.9,287.6 119.4,287.6 120,287.6 120.5,287.6 121,287.6 121.5,287.6 122,287.6 122.6,287.6 123.1,287.6 123.6,287.6 124.1,287.6 124.6,287.6 125.2,287.6 125.7,287.6 126.2,287.6 126.7,287.6 127.2,287.6 127.8,287.6 128.3,287.5 128.8,287.5 129.3,287.5 129.8,287.5 130.4,287.5 130.9,287.5 131.4,287.5 131.9,287.5 132.4,287.5 133,287.5 133.5,287.5 134,287.5 134.5,287.5 135,287.5 135.6,287.5 136.1,287.5 136.6,287.5 137.1,287.4 137.6,287.4 138.2,287.4 138.7,287.4 139.2,287.4 139.7,287.4 140.2,287.4 140.8,287.4 141.3,287.4 141.8,287.4 142.3,287.4 142.8,287.3 143.4,287.3 143.9,287.3 144.4,287.3 144.9,287.3 145.4,287.3 146,287.3 146.5,287.3 147,287.2 147.5,287.2 148,287.2 148.6,287.2 149.1,287.2 149.6,287.2 150.1,287.1 150.6,287.1 151.2,287.1 151.7,287.1 152.2,287.1 152.7,287 153.2,287 153.8,287 154.3,287 154.8,286.9 155.3,286.9 155.8,286.9 156.4,286.8 156.9,286.8 157.4,286.8 157.9,286.7 158.4,286.7 159,286.6 159.5,286.6 160,286.5 160.5,286.5 161,286.4 161.6,286.3 162.1,286.3 162.6,286.2 163.1,286.1 163.6,286 164.2,285.9 164.7,285.8 165.2,285.7 165.7,285.5 166.2,285.4 166.8,285.2 167.3,285 167.8,284.8 168.3,284.6 168.8,284.3 169.4,284.1 169.9,283.7 170.4,283.4 170.9,283 171.4,282.6 172,282.2 172.5,281.7 173,281.1 173.5,280.6 174,279.9 174.6,279.3 175.1,278.6 175.6,277.9 176.1,277.1 176.6,276.3 177.2,275.4 177.7,274.6 178.2,273.7 178.7,272.8 179.2,272 179.8,271.1 180.3,270.3 180.8,269.5 181.3,268.8 181.8,268.2 182.4,267.8 182.9,267.4 183.4,267.2 183.9,267.1 184.4,267.2 185,267.4 185.5,267.8 186,268.3 186.5,268.9 187,269.6 187.6,270.4 188.1,271.2 188.6,272 189.1,272.9 189.6,273.8 190.2,274.7 190.7,275.5 191.2,276.4 191.7,277.2 192.2,277.9 192.8,278.7 193.3,279.4 193.8,280 194.3,280.6 194.8,281.2 195.4,281.7 195.9,282.2 196.4,282.6 196.9,283.1 197.4,283.4 198,283.8 198.5,284.1 199,284.4 199.5,284.6 200,284.8 200.6,285 201.1,285.2 201.6,285.4 202.1,285.6 202.6,285.7 203.2,285.8 203.7,285.9 204.2,286 204.7,286.1 205.2,286.2 205.8,286.3 206.3,286.3 206.8,286.4 207.3,286.5 207.8,286.5 208.4,286.6 208.9,286.6 209.4,286.7 209.9,286.7 210.4,286.8 211,286.8 211.5,286.8 212,286.9 212.5,286.9 213.1,286.9 213.6,287 214.1,287 214.6,287 215.1,287 215.7,287.1 216.2,287.1 216.7,287.1 217.2,287.1 217.7,287.1 218.3,287.2 218.8,287.2 219.3,287.2 219.8,287.2 220.3,287.2 220.9,287.2 221.4,287.3 221.9,287.3 222.4,287.3 222.9,287.3 223.5,287.3 224,287.3 224.5,287.3 225,287.3 225.5,287.4 226.1,287.4 226.6,287.4 227.1,287.4 227.6,287.4 228.1,287.4 228.7,287.4 229.2,287.4 229.7,287.4 230.2,287.4 230.7,287.4 231.3,287.5 231.8,287.5 232.3,287.5 232.8,287.5 233.3,287.5 233.9,287.5 234.4,287.5 234.9,287.5 235.4,287.5 235.9,287.5 236.5,287.5 237,287.5 237.5,287.5 238,287.5 238.5,287.5 239.1,287.5 239.6,287.5 240.1,287.6 240.6,287.6 241.1,287.6 241.7,287.6 242.2,287.6 242.7,287.6 243.2,287.6 243.7,287.6 244.3,287.6 244.8,287.6 245.3,287.6 245.8,287.6 246.3,287.6 246.9,287.6 247.4,287.6 247.9,287.6 248.4,287.6 248.9,287.6 249.5,287.6 250,287.6 250.5,287.6 251,287.6 251.5,287.6 252.1,287.6 252.6,287.6 253.1,287.6 253.6,287.6 254.1,287.6 254.7,287.6 255.2,287.6 255.7,287.6 256.2,287.6 256.7,287.7 257.3,287.7 257.8,287.7 258.3,287.7 258.8,287.7 259.3,287.7 259.9,287.7 260.4,287.7 260.9,287.7 261.4,287.7 261.9,287.7 262.5,287.7 263,287.7 263.5,287.7 264,287.7 264.5,287.7 265.1,287.7 265.6,287.7 266.1,287.7 266.6,287.7 267.1,287.7 267.7,287.7 268.2,287.7 268.7,287.7 269.2,287.7 269.7,287.7 270.3,287.7 270.8,287.7 271.3,287.7 271.8,287.7 272.3,287.7 272.9,287.7 273.4,287.7 273.9,287.7 274.4,287.7 274.9,287.7 275.5,287.7 276,287.7 276.5,287.7 277,287.7 277.5,287.7 278.1,287.7 278.6,287.7 279.1,287.7 279.6,287.7 280.1,287.7 280.7,287.7 281.2,287.7 281.7,287.7 282.2,287.7 282.7,287.7 283.3,287.7 283.8,287.7 284.3,287.7 284.8,287.7 285.3,287.7 285.9,287.7 286.4,287.7 286.9,287.7 287.4,287.7 287.9,287.7 288.5,287.7 289,287.7 289.5,287.7 290,287.7 290.5,287.7 291.1,287.7 291.6,287.7 292.1,287.7 292.6,287.7 293.1,287.7 293.7,287.7 294.2,287.7 294.7,287.7 295.2,287.7 295.7,287.7 296.3,287.7 296.8,287.7 297.3,287.7 297.8,287.7 298.3,287.7 298.9,287.7 299.4,287.7 299.9,287.7 300.4,287.7 300.9,287.7 301.5,287.7 302,287.7 302.5,287.7 303,287.7 303.5,287.7 304.1,287.7 304.6,287.7 305.1,287.7 305.6,287.7 306.1,287.7 306.7,287.7 307.2,287.7 307.7,287.7 308.2,287.7 308.7,287.7 309.3,287.7 309.8,287.7 310.3,287.8 310.8,287.8 311.3,287.8 311.9,287.8 312.4,287.8 312.9,287.8 313.4,287.8 313.9,287.8 314.5,287.8 315,287.8 315.5,287.8 316,287.8 316.5,287.8 317.1,287.8 317.6,287.8 318.1,287.8 318.6,287.8 319.1,287.8 319.7,287.8 320.2,287.8 320.7,287.8 321.2,287.8 321.7,287.8 322.3,287.8 322.8,287.8 323.3,287.8 323.8,287.8 324.3,287.8 324.9,287.8 325.4,287.8 325.9,287.8 326.4,287.8 326.9,287.8 327.5,287.8 328,287.8 328.5,287.8 329,287.8 329.5,287.8 330.1,287.8 330.6,287.8 331.1,287.8 331.6,287.8 332.1,287.8 332.7,287.8 333.2,287.8 333.7,287.8 334.2,287.8 334.7,287.8 335.3,287.8 335.8,287.8 336.3,287.8 336.8,287.8 337.3,287.8 337.9,287.8 338.4,287.8 338.9,287.8 339.4,287.8 339.9,287.8 340.5,287.8 341,287.8 341.5,287.8 342,287.8 342.5,287.8 343.1,287.8 343.6,287.8 344.1,287.8 344.6,287.8 345.1,287.8 345.7,287.8 346.2,287.8 346.7,287.8 347.2,287.8 347.7,287.8 348.3,287.8 348.8,287.8 349.3,287.8 349.8,287.8 350.3,287.8 350.9,287.8 351.4,287.8 351.9,287.8 352.4,287.8 352.9,287.8 353.5,287.8 354,287.8 354.5,287.8 355,287.8 355.5,287.8 356.1,287.8 356.6,287.8 357.1,287.8 357.6,287.8 358.1,287.8 358.7,287.8 359.2,287.8 359.7,287.8 360.2,287.8 360.7,287.8 361.3,287.8 361.8,287.8 362.3,287.8 362.8,287.8 363.3,287.8 363.9,287.8 364.4,287.8 364.9,287.8 365.4,287.8 365.9,287.8 366.5,287.8 367,287.8 367.5,287.8" fill="none" stroke="#4690c2" stroke-width="1.25" stroke-dasharray="5 2.2"/>
<path d="M56,287.7 56.5,287.7 57,287.7 57.6,287.7 58.1,287.7 58.6,287.7 59.1,287.7 59.6,287.7 60.2,287.7 60.7,287.7 61.2,287.7 61.7,287.7 62.2,287.7 62.8,287.7 63.3,287.6 63.8,287.6 64.3,287.6 64.8,287.6 65.4,287.6 65.9,287.6 66.4,287.6 66.9,287.6 67.4,287.6 68,287.6 68.5,287.6 69,287.6 69.5,287.6 70,287.6 70.6,287.6 71.1,287.6 71.6,287.6 72.1,287.6 72.6,287.6 73.2,287.6 73.7,287.6 74.2,287.6 74.7,287.6 75.2,287.6 75.8,287.6 76.3,287.6 76.8,287.6 77.3,287.6 77.8,287.6 78.4,287.6 78.9,287.6 79.4,287.6 79.9,287.6 80.4,287.6 81,287.6 81.5,287.6 82,287.5 82.5,287.5 83,287.5 83.6,287.5 84.1,287.5 84.6,287.5 85.1,287.5 85.6,287.5 86.2,287.5 86.7,287.5 87.2,287.5 87.7,287.5 88.2,287.5 88.8,287.5 89.3,287.5 89.8,287.5 90.3,287.5 90.8,287.5 91.4,287.4 91.9,287.4 92.4,287.4 92.9,287.4 93.4,287.4 94,287.4 94.5,287.4 95,287.4 95.5,287.4 96,287.4 96.6,287.4 97.1,287.4 97.6,287.3 98.1,287.3 98.6,287.3 99.2,287.3 99.7,287.3 100.2,287.3 100.7,287.3 101.2,287.3 101.8,287.3 102.3,287.2 102.8,287.2 103.3,287.2 103.8,287.2 104.4,287.2 104.9,287.2 105.4,287.2 105.9,287.1 106.4,287.1 107,287.1 107.5,287.1 108,287.1 108.5,287 109,287 109.6,287 110.1,287 110.6,286.9 111.1,286.9 111.6,286.9 112.2,286.9 112.7,286.8 113.2,286.8 113.7,286.8 114.2,286.7 114.8,286.7 115.3,286.7 115.8,286.6 116.3,286.6 116.8,286.5 117.4,286.5 117.9,286.4 118.4,286.4 118.9,286.3 119.4,286.3 120,286.2 120.5,286.1 121,286.1 121.5,286 122,285.9 122.6,285.8 123.1,285.7 123.6,285.6 124.1,285.5 124.6,285.4 125.2,285.2 125.7,285.1 126.2,284.9 126.7,284.8 127.2,284.6 127.8,284.4 128.3,284.2 128.8,283.9 129.3,283.6 129.8,283.4 130.4,283 130.9,282.7 131.4,282.3 131.9,281.9 132.4,281.5 133,281 133.5,280.5 134,280 134.5,279.4 135,278.8 135.6,278.1 136.1,277.4 136.6,276.7 137.1,275.9 137.6,275.2 138.2,274.4 138.7,273.6 139.2,272.8 139.7,272 140.2,271.3 140.8,270.6 141.3,270 141.8,269.6 142.3,269.2 142.8,269 143.4,268.9 143.9,268.9 144.4,269.1 144.9,269.5 145.4,270 146,270.5 146.5,271.2 147,271.9 147.5,272.7 148,273.4 148.6,274.2 149.1,275 149.6,275.8 150.1,276.6 150.6,277.3 151.2,278 151.7,278.7 152.2,279.3 152.7,279.9 153.2,280.4 153.8,280.9 154.3,281.4 154.8,281.8 155.3,282.3 155.8,282.6 156.4,283 156.9,283.3 157.4,283.6 157.9,283.9 158.4,284.1 159,284.3 159.5,284.5 160,284.7 160.5,284.9 161,285.1 161.6,285.2 162.1,285.4 162.6,285.5 163.1,285.6 163.6,285.7 164.2,285.8 164.7,285.9 165.2,286 165.7,286 166.2,286.1 166.8,286.2 167.3,286.3 167.8,286.3 168.3,286.4 168.8,286.4 169.4,286.5 169.9,286.5 170.4,286.6 170.9,286.6 171.4,286.7 172,286.7 172.5,286.7 173,286.8 173.5,286.8 174,286.8 174.6,286.9 175.1,286.9 175.6,286.9 176.1,286.9 176.6,287 177.2,287 177.7,287 178.2,287 178.7,287.1 179.2,287.1 179.8,287.1 180.3,287.1 180.8,287.1 181.3,287.2 181.8,287.2 182.4,287.2 182.9,287.2 183.4,287.2 183.9,287.2 184.4,287.2 185,287.3 185.5,287.3 186,287.3 186.5,287.3 187,287.3 187.6,287.3 188.1,287.3 188.6,287.3 189.1,287.3 189.6,287.4 190.2,287.4 190.7,287.4 191.2,287.4 191.7,287.4 192.2,287.4 192.8,287.4 193.3,287.4 193.8,287.4 194.3,287.4 194.8,287.4 195.4,287.4 195.9,287.5 196.4,287.5 196.9,287.5 197.4,287.5 198,287.5 198.5,287.5 199,287.5 199.5,287.5 200,287.5 200.6,287.5 201.1,287.5 201.6,287.5 202.1,287.5 202.6,287.5 203.2,287.5 203.7,287.5 204.2,287.5 204.7,287.5 205.2,287.5 205.8,287.6 206.3,287.6 206.8,287.6 207.3,287.6 207.8,287.6 208.4,287.6 208.9,287.6 209.4,287.6 209.9,287.6 210.4,287.6 211,287.6 211.5,287.6 212,287.6 212.5,287.6 213.1,287.6 213.6,287.6 214.1,287.6 214.6,287.6 215.1,287.6 215.7,287.6 216.2,287.6 216.7,287.6 217.2,287.6 217.7,287.6 218.3,287.6 218.8,287.6 219.3,287.6 219.8,287.6 220.3,287.6 220.9,287.6 221.4,287.6 221.9,287.6 222.4,287.6 222.9,287.6 223.5,287.6 224,287.7 224.5,287.7 225,287.7 225.5,287.7 226.1,287.7 226.6,287.7 227.1,287.7 227.6,287.7 228.1,287.7 228.7,287.7 229.2,287.7 229.7,287.7 230.2,287.7 230.7,287.7 231.3,287.7 231.8,287.7 232.3,287.7 232.8,287.7 233.3,287.7 233.9,287.7 234.4,287.7 234.9,287.7 235.4,287.7 235.9,287.7 236.5,287.7 237,287.7 237.5,287.7 238,287.7 238.5,287.7 239.1,287.7 239.6,287.7 240.1,287.7 240.6,287.7 241.1,287.7 241.7,287.7 242.2,287.7 242.7,287.7 243.2,287.7 243.7,287.7 244.3,287.7 244.8,287.7 245.3,287.7 245.8,287.7 246.3,287.7 246.9,287.7 247.4,287.7 247.9,287.7 248.4,287.7 248.9,287.7 249.5,287.7 250,287.7 250.5,287.7 251,287.7 251.5,287.7 252.1,287.7 252.6,287.7 253.1,287.7 253.6,287.7 254.1,287.7 254.7,287.7 255.2,287.7 255.7,287.7 256.2,287.7 256.7,287.7 257.3,287.7 257.8,287.7 258.3,287.7 258.8,287.7 259.3,287.7 259.9,287.7 260.4,287.7 260.9,287.7 261.4,287.7 261.9,287.7 262.5,287.7 263,287.7 263.5,287.7 264,287.7 264.5,287.7 265.1,287.7 265.6,287.7 266.1,287.7 266.6,287.7 267.1,287.7 267.7,287.7 268.2,287.7 268.7,287.7 269.2,287.7 269.7,287.7 270.3,287.7 270.8,287.7 271.3,287.7 271.8,287.7 272.3,287.7 272.9,287.7 273.4,287.7 273.9,287.7 274.4,287.7 274.9,287.7 275.5,287.7 276,287.7 276.5,287.7 277,287.7 277.5,287.7 278.1,287.7 278.6,287.7 279.1,287.7 279.6,287.7 280.1,287.7 280.7,287.7 281.2,287.7 281.7,287.7 282.2,287.7 282.7,287.7 283.3,287.8 283.8,287.8 284.3,287.8 284.8,287.8 285.3,287.8 285.9,287.8 286.4,287.8 286.9,287.8 287.4,287.8 287.9,287.8 288.5,287.8 289,287.8 289.5,287.8 290,287.8 290.5,287.8 291.1,287.8 291.6,287.8 292.1,287.8 292.6,287.8 293.1,287.8 293.7,287.8 294.2,287.8 294.7,287.8 295.2,287.8 295.7,287.8 296.3,287.8 296.8,287.8 297.3,287.8 297.8,287.8 298.3,287.8 298.9,287.8 299.4,287.8 299.9,287.8 300.4,287.8 300.9,287.8 301.5,287.8 302,287.8 302.5,287.8 303,287.8 303.5,287.8 304.1,287.8 304.6,287.8 305.1,287.8 305.6,287.8 306.1,287.8 306.7,287.8 307.2,287.8 307.7,287.8 308.2,287.8 308.7,287.8 309.3,287.8 309.8,287.8 310.3,287.8 310.8,287.8 311.3,287.8 311.9,287.8 312.4,287.8 312.9,287.8 313.4,287.8 313.9,287.8 314.5,287.8 315,287.8 315.5,287.8 316,287.8 316.5,287.8 317.1,287.8 317.6,287.8 318.1,287.8 318.6,287.8 319.1,287.8 319.7,287.8 320.2,287.8 320.7,287.8 321.2,287.8 321.7,287.8 322.3,287.8 322.8,287.8 323.3,287.8 323.8,287.8 324.3,287.8 324.9,287.8 325.4,287.8 325.9,287.8 326.4,287.8 326.9,287.8 327.5,287.8 328,287.8 328.5,287.8 329,287.8 329.5,287.8 330.1,287.8 330.6,287.8 331.1,287.8 331.6,287.8 332.1,287.8 332.7,287.8 333.2,287.8 333.7,287.8 334.2,287.8 334.7,287.8 335.3,287.8 335.8,287.8 336.3,287.8 336.8,287.8 337.3,287.8 337.9,287.8 338.4,287.8 338.9,287.8 339.4,287.8 339.9,287.8 340.5,287.8 341,287.8 341.5,287.8 342,287.8 342.5,287.8 343.1,287.8 343.6,287.8 344.1,287.8 344.6,287.8 345.1,287.8 345.7,287.8 346.2,287.8 346.7,287.8 347.2,287.8 347.7,287.8 348.3,287.8 348.8,287.8 349.3,287.8 349.8,287.8 350.3,287.8 350.9,287.8 351.4,287.8 351.9,287.8 352.4,287.8 352.9,287.8 353.5,287.8 354,287.8 354.5,287.8 355,287.8 355.5,287.8 356.1,287.8 356.6,287.8 357.1,287.8 357.6,287.8 358.1,287.8 358.7,287.8 359.2,287.8 359.7,287.8 360.2,287.8 360.7,287.8 361.3,287.8 361.8,287.8 362.3,287.8 362.8,287.8 363.3,287.8 363.9,287.8 364.4,287.8 364.9,287.8 365.4,287.8 365.9,287.8 366.5,287.8 367,287.8 367.5,287.8" fill="none" stroke="#1e1e1e" stroke-width="1.3" stroke-dasharray="1.3 1.95"/>
<path d="M56,287.5 56.5,287.5 57,287.5 57.6,287.5 58.1,287.5 58.6,287.5 59.1,287.5 59.6,287.5 60.2,287.5 60.7,287.5 61.2,287.5 61.7,287.5 62.2,287.5 62.8,287.5 63.3,287.5 63.8,287.5 64.3,287.5 64.8,287.5 65.4,287.5 65.9,287.4 66.4,287.4 66.9,287.4 67.4,287.4 68,287.4 68.5,287.4 69,287.4 69.5,287.4 70,287.4 70.6,287.4 71.1,287.4 71.6,287.4 72.1,287.4 72.6,287.4 73.2,287.4 73.7,287.3 74.2,287.3 74.7,287.3 75.2,287.3 75.8,287.3 76.3,287.3 76.8,287.3 77.3,287.3 77.8,287.3 78.4,287.3 78.9,287.2 79.4,287.2 79.9,287.2 80.4,287.2 81,287.2 81.5,287.2 82,287.2 82.5,287.2 83,287.1 83.6,287.1 84.1,287.1 84.6,287.1 85.1,287.1 85.6,287.1 86.2,287.1 86.7,287 87.2,287 87.7,287 88.2,287 88.8,287 89.3,286.9 89.8,286.9 90.3,286.9 90.8,286.9 91.4,286.8 91.9,286.8 92.4,286.8 92.9,286.8 93.4,286.7 94,286.7 94.5,286.7 95,286.6 95.5,286.6 96,286.6 96.6,286.5 97.1,286.5 97.6,286.4 98.1,286.4 98.6,286.3 99.2,286.3 99.7,286.2 100.2,286.2 100.7,286.1 101.2,286 101.8,285.9 102.3,285.8 102.8,285.7 103.3,285.6 103.8,285.5 104.4,285.4 104.9,285.3 105.4,285.1 105.9,285 106.4,284.8 107,284.6 107.5,284.4 108,284.2 108.5,283.9 109,283.7 109.6,283.4 110.1,283.1 110.6,282.7 111.1,282.4 111.6,282 112.2,281.6 112.7,281.1 113.2,280.6 113.7,280.1 114.2,279.6 114.8,279 115.3,278.4 115.8,277.7 116.3,277.1 116.8,276.4 117.4,275.6 117.9,274.9 118.4,274.1 118.9,273.3 119.4,272.4 120,271.6 120.5,270.7 121,269.8 121.5,269 122,268.1 122.6,267.3 123.1,266.4 123.6,265.6 124.1,264.9 124.6,264.2 125.2,263.5 125.7,263 126.2,262.5 126.7,262.1 127.2,261.8 127.8,261.6 128.3,261.5 128.8,261.6 129.3,261.7 129.8,261.9 130.4,262.3 130.9,262.7 131.4,263.3 131.9,263.9 132.4,264.6 133,265.3 133.5,266.1 134,266.9 134.5,267.7 135,268.6 135.6,269.5 136.1,270.3 136.6,271.2 137.1,272 137.6,272.9 138.2,273.7 138.7,274.5 139.2,275.3 139.7,276 140.2,276.8 140.8,277.4 141.3,278.1 141.8,278.7 142.3,279.3 142.8,279.9 143.4,280.4 143.9,280.9 144.4,281.4 144.9,281.8 145.4,282.2 146,282.6 146.5,282.9 147,283.3 147.5,283.6 148,283.8 148.6,284.1 149.1,284.3 149.6,284.5 150.1,284.7 150.6,284.9 151.2,285.1 151.7,285.2 152.2,285.4 152.7,285.5 153.2,285.6 153.8,285.7 154.3,285.8 154.8,285.9 155.3,286 155.8,286.1 156.4,286.1 156.9,286.2 157.4,286.2 157.9,286.3 158.4,286.4 159,286.4 159.5,286.5 160,286.5 160.5,286.5 161,286.6 161.6,286.6 162.1,286.7 162.6,286.7 163.1,286.7 163.6,286.7 164.2,286.8 164.7,286.8 165.2,286.8 165.7,286.9 166.2,286.9 166.8,286.9 167.3,286.9 167.8,286.9 168.3,287 168.8,287 169.4,287 169.9,287 170.4,287 170.9,287.1 171.4,287.1 172,287.1 172.5,287.1 173,287.1 173.5,287.1 174,287.2 174.6,287.2 175.1,287.2 175.6,287.2 176.1,287.2 176.6,287.2 177.2,287.2 177.7,287.2 178.2,287.3 178.7,287.3 179.2,287.3 179.8,287.3 180.3,287.3 180.8,287.3 181.3,287.3 181.8,287.3 182.4,287.3 182.9,287.3 183.4,287.3 183.9,287.4 184.4,287.4 185,287.4 185.5,287.4 186,287.4 186.5,287.4 187,287.4 187.6,287.4 188.1,287.4 188.6,287.4 189.1,287.4 189.6,287.4 190.2,287.4 190.7,287.4 191.2,287.5 191.7,287.5 192.2,287.5 192.8,287.5 193.3,287.5 193.8,287.5 194.3,287.5 194.8,287.5 195.4,287.5 195.9,287.5 196.4,287.5 196.9,287.5 197.4,287.5 198,287.5 198.5,287.5 199,287.5 199.5,287.5 200,287.5 200.6,287.5 201.1,287.5 201.6,287.5 202.1,287.5 202.6,287.5 203.2,287.6 203.7,287.6 204.2,287.6 204.7,287.6 205.2,287.6 205.8,287.6 206.3,287.6 206.8,287.6 207.3,287.6 207.8,287.6 208.4,287.6 208.9,287.6 209.4,287.6 209.9,287.6 210.4,287.6 211,287.6 211.5,287.6 212,287.6 212.5,287.6 213.1,287.6 213.6,287.6 214.1,287.6 214.6,287.6 215.1,287.6 215.7,287.6 216.2,287.6 216.7,287.6 217.2,287.6 217.7,287.6 218.3,287.6 218.8,287.6 219.3,287.6 219.8,287.6 220.3,287.6 220.9,287.6 221.4,287.6 221.9,287.6 222.4,287.6 222.9,287.6 223.5,287.6 224,287.6 224.5,287.6 225,287.6 225.5,287.7 226.1,287.7 226.6,287.7 227.1,287.7 227.6,287.7 228.1,287.7 228.7,287.7 229.2,287.7 229.7,287.7 230.2,287.7 230.7,287.7 231.3,287.7 231.8,287.7 232.3,287.7 232.8,287.7 233.3,287.7 233.9,287.7 234.4,287.7 234.9,287.7 235.4,287.7 235.9,287.7 236.5,287.7 237,287.7 237.5,287.7 238,287.7 238.5,287.7 239.1,287.7 239.6,287.7 240.1,287.7 240.6,287.7 241.1,287.7 241.7,287.7 242.2,287.7 242.7,287.7 243.2,287.7 243.7,287.7 244.3,287.7 244.8,287.7 245.3,287.7 245.8,287.7 246.3,287.7 246.9,287.7 247.4,287.7 247.9,287.7 248.4,287.7 248.9,287.7 249.5,287.7 250,287.7 250.5,287.7 251,287.7 251.5,287.7 252.1,287.7 252.6,287.7 253.1,287.7 253.6,287.7 254.1,287.7 254.7,287.7 255.2,287.7 255.7,287.7 256.2,287.7 256.7,287.7 257.3,287.7 257.8,287.7 258.3,287.7 258.8,287.7 259.3,287.7 259.9,287.7 260.4,287.7 260.9,287.7 261.4,287.7 261.9,287.7 262.5,287.7 263,287.7 263.5,287.7 264,287.7 264.5,287.7 265.1,287.7 265.6,287.7 266.1,287.7 266.6,287.7 267.1,287.7 267.7,287.7 268.2,287.7 268.7,287.7 269.2,287.7 269.7,287.7 270.3,287.7 270.8,287.7 271.3,287.7 271.8,287.7 272.3,287.7 272.9,287.7 273.4,287.7 273.9,287.7 274.4,287.7 274.9,287.7 275.5,287.7 276,287.7 276.5,287.7 277,287.7 277.5,287.7 278.1,287.7 278.6,287.7 279.1,287.7 279.6,287.7 280.1,287.7 280.7,287.7 281.2,287.7 281.7,287.7 282.2,287.7 282.7,287.7 283.3,287.7 283.8,287.7 284.3,287.7 284.8,287.7 285.3,287.7 285.9,287.7 286.4,287.7 286.9,287.7 287.4,287.7 287.9,287.7 288.5,287.7 289,287.7 289.5,287.7 290,287.7 290.5,287.7 291.1,287.7 291.6,287.7 292.1,287.7 292.6,287.7 293.1,287.7 293.7,287.7 294.2,287.7 294.7,287.7 295.2,287.7 295.7,287.7 296.3,287.7 296.8,287.8 297.3,287.8 297.8,287.8 298.3,287.8 298.9,287.8 299.4,287.8 299.9,287.8 300.4,287.8 300.9,287.8 301.5,287.8 302,287.8 302.5,287.8 303,287.8 303.5,287.8 304.1,287.8 304.6,287.8 305.1,287.8 305.6,287.8 306.1,287.8 306.7,287.8 307.2,287.8 307.7,287.8 308.2,287.8 308.7,287.8 309.3,287.8 309.8,287.8 310.3,287.8 310.8,287.8 311.3,287.8 311.9,287.8 312.4,287.8 312.9,287.8 313.4,287.8 313.9,287.8 314.5,287.8 315,287.8 315.5,287.8 316,287.8 316.5,287.8 317.1,287.8 317.6,287.8 318.1,287.8 318.6,287.8 319.1,287.8 319.7,287.8 320.2,287.8 320.7,287.8 321.2,287.8 321.7,287.8 322.3,287.8 322.8,287.8 323.3,287.8 323.8,287.8 324.3,287.8 324.9,287.8 325.4,287.8 325.9,287.8 326.4,287.8 326.9,287.8 327.5,287.8 328,287.8 328.5,287.8 329,287.8 329.5,287.8 330.1,287.8 330.6,287.8 331.1,287.8 331.6,287.8 332.1,287.8 332.7,287.8 333.2,287.8 333.7,287.8 334.2,287.8 334.7,287.8 335.3,287.8 335.8,287.8 336.3,287.8 336.8,287.8 337.3,287.8 337.9,287.8 338.4,287.8 338.9,287.8 339.4,287.8 339.9,287.8 340.5,287.8 341,287.8 341.5,287.8 342,287.8 342.5,287.8 343.1,287.8 343.6,287.8 344.1,287.8 344.6,287.8 345.1,287.8 345.7,287.8 346.2,287.8 346.7,287.8 347.2,287.8 347.7,287.8 348.3,287.8 348.8,287.8 349.3,287.8 349.8,287.8 350.3,287.8 350.9,287.8 351.4,287.8 351.9,287.8 352.4,287.8 352.9,287.8 353.5,287.8 354,287.8 354.5,287.8 355,287.8 355.5,287.8 356.1,287.8 356.6,287.8 357.1,287.8 357.6,287.8 358.1,287.8 358.7,287.8 359.2,287.8 359.7,287.8 360.2,287.8 360.7,287.8 361.3,287.8 361.8,287.8 362.3,287.8 362.8,287.8 363.3,287.8 363.9,287.8 364.4,287.8 364.9,287.8 365.4,287.8 365.9,287.8 366.5,287.8 367,287.8 367.5,287.8" fill="none" stroke="#80395a" stroke-width="1.25" stroke-dasharray="8.5 3"/>
<path d="M56,287.8 56.5,287.8 57,287.8 57.6,287.8 58.1,287.8 58.6,287.8 59.1,287.8 59.6,287.8 60.2,287.8 60.7,287.8 61.2,287.8 61.7,287.8 62.2,287.8 62.8,287.8 63.3,287.8 63.8,287.8 64.3,287.8 64.8,287.8 65.4,287.8 65.9,287.8 66.4,287.8 66.9,287.8 67.4,287.8 68,287.8 68.5,287.8 69,287.8 69.5,287.8 70,287.8 70.6,287.8 71.1,287.8 71.6,287.8 72.1,287.8 72.6,287.8 73.2,287.8 73.7,287.8 74.2,287.8 74.7,287.8 75.2,287.8 75.8,287.8 76.3,287.8 76.8,287.8 77.3,287.8 77.8,287.8 78.4,287.8 78.9,287.8 79.4,287.8 79.9,287.8 80.4,287.8 81,287.8 81.5,287.8 82,287.8 82.5,287.8 83,287.8 83.6,287.8 84.1,287.8 84.6,287.8 85.1,287.8 85.6,287.8 86.2,287.8 86.7,287.8 87.2,287.8 87.7,287.8 88.2,287.8 88.8,287.8 89.3,287.8 89.8,287.8 90.3,287.8 90.8,287.8 91.4,287.8 91.9,287.8 92.4,287.8 92.9,287.8 93.4,287.8 94,287.8 94.5,287.8 95,287.8 95.5,287.8 96,287.8 96.6,287.8 97.1,287.8 97.6,287.8 98.1,287.8 98.6,287.8 99.2,287.8 99.7,287.8 100.2,287.8 100.7,287.8 101.2,287.8 101.8,287.8 102.3,287.8 102.8,287.8 103.3,287.8 103.8,287.8 104.4,287.8 104.9,287.8 105.4,287.8 105.9,287.8 106.4,287.8 107,287.8 107.5,287.8 108,287.8 108.5,287.8 109,287.8 109.6,287.8 110.1,287.8 110.6,287.8 111.1,287.8 111.6,287.8 112.2,287.8 112.7,287.8 113.2,287.8 113.7,287.8 114.2,287.8 114.8,287.8 115.3,287.8 115.8,287.8 116.3,287.8 116.8,287.8 117.4,287.8 117.9,287.8 118.4,287.8 118.9,287.8 119.4,287.8 120,287.8 120.5,287.8 121,287.8 121.5,287.8 122,287.8 122.6,287.8 123.1,287.8 123.6,287.8 124.1,287.8 124.6,287.8 125.2,287.8 125.7,287.8 126.2,287.8 126.7,287.8 127.2,287.8 127.8,287.8 128.3,287.8 128.8,287.8 129.3,287.8 129.8,287.8 130.4,287.8 130.9,287.8 131.4,287.8 131.9,287.8 132.4,287.8 133,287.8 133.5,287.8 134,287.8 134.5,287.8 135,287.8 135.6,287.8 136.1,287.8 136.6,287.8 137.1,287.8 137.6,287.8 138.2,287.8 138.7,287.8 139.2,287.8 139.7,287.8 140.2,287.8 140.8,287.8 141.3,287.8 141.8,287.8 142.3,287.8 142.8,287.8 143.4,287.8 143.9,287.8 144.4,287.8 144.9,287.8 145.4,287.8 146,287.8 146.5,287.8 147,287.8 147.5,287.8 148,287.8 148.6,287.8 149.1,287.8 149.6,287.8 150.1,287.8 150.6,287.8 151.2,287.8 151.7,287.8 152.2,287.8 152.7,287.8 153.2,287.8 153.8,287.8 154.3,287.8 154.8,287.8 155.3,287.8 155.8,287.8 156.4,287.8 156.9,287.8 157.4,287.8 157.9,287.8 158.4,287.8 159,287.8 159.5,287.8 160,287.8 160.5,287.8 161,287.8 161.6,287.8 162.1,287.8 162.6,287.8 163.1,287.8 163.6,287.8 164.2,287.8 164.7,287.8 165.2,287.8 165.7,287.8 166.2,287.8 166.8,287.8 167.3,287.8 167.8,287.8 168.3,287.8 168.8,287.8 169.4,287.8 169.9,287.8 170.4,287.8 170.9,287.8 171.4,287.8 172,287.8 172.5,287.8 173,287.8 173.5,287.7 174,287.7 174.6,287.7 175.1,287.7 175.6,287.6 176.1,287.6 176.6,287.5 177.2,287.5 177.7,287.4 178.2,287.2 178.7,287.1 179.2,286.9 179.8,286.7 180.3,286.4 180.8,286.1 181.3,285.7 181.8,285.3 182.4,284.7 182.9,284.1 183.4,283.3 183.9,282.4 184.4,281.4 185,280.2 185.5,278.9 186,277.4 186.5,275.6 187,273.7 187.6,271.5 188.1,269.1 188.6,266.4 189.1,263.5 189.6,260.3 190.2,256.9 190.7,253.3 191.2,249.4 191.7,245.2 192.2,240.9 192.8,236.4 193.3,231.8 193.8,227.1 194.3,222.3 194.8,217.6 195.4,212.8 195.9,208.2 196.4,203.7 196.9,199.4 197.4,195.3 198,191.6 198.5,188.3 199,185.4 199.5,182.9 200,180.9 200.6,179.5 201.1,178.6 201.6,178.3 202.1,178.5 202.6,179.3 203.2,180.7 203.7,182.6 204.2,184.9 204.7,187.8 205.2,191.1 205.8,194.7 206.3,198.7 206.8,203 207.3,207.4 207.8,212.1 208.4,216.8 208.9,221.6 209.4,226.4 209.9,231.1 210.4,235.7 211,240.2 211.5,244.6 212,248.7 212.5,252.7 213.1,256.4 213.6,259.8 214.1,263 214.6,266 215.1,268.7 215.7,271.1 216.2,273.3 216.7,275.3 217.2,277.1 217.7,278.7 218.3,280 218.8,281.2 219.3,282.3 219.8,283.2 220.3,284 220.9,284.6 221.4,285.2 221.9,285.7 222.4,286.1 222.9,286.4 223.5,286.7 224,286.9 224.5,287.1 225,287.2 225.5,287.3 226.1,287.4 226.6,287.5 227.1,287.6 227.6,287.6 228.1,287.7 228.7,287.7 229.2,287.7 229.7,287.7 230.2,287.8 230.7,287.8 231.3,287.8 231.8,287.8 232.3,287.8 232.8,287.8 233.3,287.8 233.9,287.8 234.4,287.8 234.9,287.8 235.4,287.8 235.9,287.8 236.5,287.8 237,287.8 237.5,287.8 238,287.8 238.5,287.8 239.1,287.8 239.6,287.8 240.1,287.8 240.6,287.8 241.1,287.8 241.7,287.8 242.2,287.8 242.7,287.8 243.2,287.8 243.7,287.8 244.3,287.8 244.8,287.8 245.3,287.8 245.8,287.8 246.3,287.8 246.9,287.8 247.4,287.8 247.9,287.8 248.4,287.8 248.9,287.8 249.5,287.8 250,287.8 250.5,287.8 251,287.8 251.5,287.8 252.1,287.8 252.6,287.8 253.1,287.8 253.6,287.8 254.1,287.8 254.7,287.8 255.2,287.8 255.7,287.8 256.2,287.8 256.7,287.8 257.3,287.8 257.8,287.8 258.3,287.8 258.8,287.8 259.3,287.8 259.9,287.8 260.4,287.8 260.9,287.8 261.4,287.8 261.9,287.8 262.5,287.8 263,287.8 263.5,287.8 264,287.8 264.5,287.8 265.1,287.8 265.6,287.8 266.1,287.8 266.6,287.8 267.1,287.8 267.7,287.8 268.2,287.8 268.7,287.8 269.2,287.8 269.7,287.8 270.3,287.8 270.8,287.8 271.3,287.8 271.8,287.8 272.3,287.8 272.9,287.8 273.4,287.8 273.9,287.8 274.4,287.8 274.9,287.8 275.5,287.8 276,287.8 276.5,287.8 277,287.8 277.5,287.8 278.1,287.8 278.6,287.8 279.1,287.8 279.6,287.8 280.1,287.8 280.7,287.8 281.2,287.8 281.7,287.8 282.2,287.8 282.7,287.8 283.3,287.8 283.8,287.8 284.3,287.8 284.8,287.8 285.3,287.8 285.9,287.8 286.4,287.8 286.9,287.8 287.4,287.8 287.9,287.8 288.5,287.8 289,287.8 289.5,287.8 290,287.8 290.5,287.8 291.1,287.8 291.6,287.8 292.1,287.8 292.6,287.8 293.1,287.8 293.7,287.8 294.2,287.8 294.7,287.8 295.2,287.8 295.7,287.8 296.3,287.8 296.8,287.8 297.3,287.8 297.8,287.8 298.3,287.8 298.9,287.8 299.4,287.8 299.9,287.8 300.4,287.8 300.9,287.8 301.5,287.8 302,287.8 302.5,287.8 303,287.8 303.5,287.8 304.1,287.8 304.6,287.8 305.1,287.8 305.6,287.8 306.1,287.8 306.7,287.8 307.2,287.8 307.7,287.8 308.2,287.8 308.7,287.8 309.3,287.8 309.8,287.8 310.3,287.8 310.8,287.8 311.3,287.8 311.9,287.8 312.4,287.8 312.9,287.8 313.4,287.8 313.9,287.8 314.5,287.8 315,287.8 315.5,287.8 316,287.8 316.5,287.8 317.1,287.8 317.6,287.8 318.1,287.8 318.6,287.8 319.1,287.8 319.7,287.8 320.2,287.8 320.7,287.8 321.2,287.8 321.7,287.8 322.3,287.8 322.8,287.8 323.3,287.8 323.8,287.8 324.3,287.8 324.9,287.8 325.4,287.8 325.9,287.8 326.4,287.8 326.9,287.8 327.5,287.8 328,287.8 328.5,287.8 329,287.8 329.5,287.8 330.1,287.8 330.6,287.8 331.1,287.8 331.6,287.8 332.1,287.8 332.7,287.8 333.2,287.8 333.7,287.8 334.2,287.8 334.7,287.8 335.3,287.8 335.8,287.8 336.3,287.8 336.8,287.8 337.3,287.8 337.9,287.8 338.4,287.8 338.9,287.8 339.4,287.8 339.9,287.8 340.5,287.8 341,287.8 341.5,287.8 342,287.8 342.5,287.8 343.1,287.8 343.6,287.8 344.1,287.8 344.6,287.8 345.1,287.8 345.7,287.8 346.2,287.8 346.7,287.8 347.2,287.8 347.7,287.8 348.3,287.8 348.8,287.8 349.3,287.8 349.8,287.8 350.3,287.8 350.9,287.8 351.4,287.8 351.9,287.8 352.4,287.8 352.9,287.8 353.5,287.8 354,287.8 354.5,287.8 355,287.8 355.5,287.8 356.1,287.8 356.6,287.8 357.1,287.8 357.6,287.8 358.1,287.8 358.7,287.8 359.2,287.8 359.7,287.8 360.2,287.8 360.7,287.8 361.3,287.8 361.8,287.8 362.3,287.8 362.8,287.8 363.3,287.8 363.9,287.8 364.4,287.8 364.9,287.8 365.4,287.8 365.9,287.8 366.5,287.8 367,287.8 367.5,287.8" fill="none" stroke="#5a4e8e" stroke-width="1.25" stroke-dasharray="6.5 1.7 1.1 2.1 1.1 2.1"/>
<path d="M56,286.9 56.5,286.9 57,286.9 57.6,286.8 58.1,286.8 58.6,286.8 59.1,286.8 59.6,286.8 60.2,286.8 60.7,286.7 61.2,286.7 61.7,286.7 62.2,286.7 62.8,286.7 63.3,286.6 63.8,286.6 64.3,286.6 64.8,286.6 65.4,286.6 65.9,286.5 66.4,286.5 66.9,286.5 67.4,286.5 68,286.4 68.5,286.4 69,286.4 69.5,286.3 70,286.3 70.6,286.3 71.1,286.3 71.6,286.2 72.1,286.2 72.6,286.2 73.2,286.1 73.7,286.1 74.2,286.1 74.7,286 75.2,286 75.8,286 76.3,285.9 76.8,285.9 77.3,285.8 77.8,285.8 78.4,285.8 78.9,285.7 79.4,285.7 79.9,285.6 80.4,285.6 81,285.5 81.5,285.5 82,285.4 82.5,285.4 83,285.3 83.6,285.3 84.1,285.2 84.6,285.1 85.1,285.1 85.6,285 86.2,285 86.7,284.9 87.2,284.9 87.7,284.8 88.2,284.7 88.8,284.7 89.3,284.6 89.8,284.5 90.3,284.5 90.8,284.4 91.4,284.3 91.9,284.3 92.4,284.2 92.9,284.1 93.4,284 94,284 94.5,283.9 95,283.8 95.5,283.7 96,283.6 96.6,283.6 97.1,283.5 97.6,283.4 98.1,283.3 98.6,283.2 99.2,283.1 99.7,283 100.2,282.9 100.7,282.8 101.2,282.7 101.8,282.5 102.3,282.4 102.8,282.3 103.3,282.1 103.8,282 104.4,281.8 104.9,281.6 105.4,281.4 105.9,281.2 106.4,281 107,280.8 107.5,280.6 108,280.3 108.5,280 109,279.7 109.6,279.4 110.1,279 110.6,278.8 111.1,278.5 111.6,278.3 112.2,278 112.7,277.7 113.2,277.3 113.7,276.9 114.2,276.4 114.8,275.8 115.3,275.1 115.8,274.4 116.3,273.6 116.8,272.8 117.4,272 117.9,271.2 118.4,270.3 118.9,269.4 119.4,268.4 120,267.5 120.5,266.5 121,265.5 121.5,264.5 122,263.5 122.6,262.5 123.1,261.6 123.6,260.6 124.1,259.7 124.6,258.8 125.2,258 125.7,257.2 126.2,256.4 126.7,255.5 127.2,254.6 127.8,253.7 128.3,252.9 128.8,252.2 129.3,251.7 129.8,251.5 130.4,251.5 130.9,251.6 131.4,251.7 131.9,251.9 132.4,252.1 133,252.4 133.5,252.7 134,252.9 134.5,253.2 135,253.4 135.6,253.5 136.1,253.7 136.6,253.7 137.1,253.7 137.6,253.6 138.2,253.5 138.7,253.3 139.2,253.1 139.7,252.9 140.2,252.7 140.8,252.5 141.3,252.3 141.8,252.2 142.3,252.2 142.8,252.3 143.4,252.5 143.9,252.9 144.4,253.3 144.9,253.8 145.4,254.4 146,255.1 146.5,255.9 147,256.8 147.5,257.8 148,258.7 148.6,259.6 149.1,260.5 149.6,261.3 150.1,262.2 150.6,263 151.2,263.7 151.7,264.4 152.2,265 152.7,265.7 153.2,266.4 153.8,267.1 154.3,267.8 154.8,268.5 155.3,269.2 155.8,269.8 156.4,270.4 156.9,270.9 157.4,271.4 157.9,271.8 158.4,272.2 159,272.6 159.5,272.9 160,273.2 160.5,273.5 161,273.7 161.6,273.9 162.1,274 162.6,274 163.1,274 163.6,273.9 164.2,273.8 164.7,273.7 165.2,273.6 165.7,273.4 166.2,273.2 166.8,273 167.3,272.8 167.8,272.6 168.3,272.3 168.8,272 169.4,271.7 169.9,271.4 170.4,271.1 170.9,270.7 171.4,270.3 172,269.8 172.5,269.3 173,268.7 173.5,268.1 174,267.5 174.6,266.8 175.1,266 175.6,265.3 176.1,264.4 176.6,263.6 177.2,262.6 177.7,261.7 178.2,260.7 178.7,259.7 179.2,258.7 179.8,257.7 180.3,256.8 180.8,255.9 181.3,255.1 181.8,254.3 182.4,253.5 182.9,252.8 183.4,252.1 183.9,251.3 184.4,250.6 185,249.9 185.5,249.2 186,248.4 186.5,247.5 187,246.4 187.6,245.1 188.1,243.6 188.6,241.8 189.1,239.3 189.6,236.4 190.2,233.2 190.7,230 191.2,226.8 191.7,223.4 192.2,219.8 192.8,216 193.3,212 193.8,207.9 194.3,203.6 194.8,199.3 195.4,194.9 195.9,190.1 196.4,185 196.9,180 197.4,175.2 198,170.9 198.5,167.3 199,164.6 199.5,162.4 200,160.7 200.6,159.6 201.1,159 201.6,159 202.1,159.6 202.6,160.8 203.2,162.7 203.7,165.2 204.2,168.8 204.7,173.8 205.2,179.8 205.8,186.2 206.3,192.3 206.8,197.5 207.3,201.8 207.8,206.1 208.4,210.3 208.9,214.4 209.4,218.3 209.9,222.2 210.4,226 211,229.8 211.5,233.4 212,236.6 212.5,239.5 213.1,242.4 213.6,245.3 214.1,248.2 214.6,251.2 215.1,254 215.7,256.5 216.2,258.8 216.7,260.8 217.2,262.6 217.7,264.3 218.3,265.7 218.8,267 219.3,268.1 219.8,269.1 220.3,270 220.9,270.7 221.4,271.4 221.9,272 222.4,272.4 222.9,272.9 223.5,273.2 224,273.5 224.5,273.8 225,274 225.5,274.2 226.1,274.4 226.6,274.5 227.1,274.7 227.6,274.8 228.1,274.9 228.7,275.1 229.2,275.2 229.7,275.3 230.2,275.4 230.7,275.5 231.3,275.6 231.8,275.6 232.3,275.7 232.8,275.8 233.3,275.9 233.9,276 234.4,276.1 234.9,276.2 235.4,276.2 235.9,276.3 236.5,276.4 237,276.5 237.5,276.6 238,276.6 238.5,276.7 239.1,276.8 239.6,276.8 240.1,276.9 240.6,277 241.1,277 241.7,277.1 242.2,277.2 242.7,277.2 243.2,277.3 243.7,277.4 244.3,277.4 244.8,277.5 245.3,277.5 245.8,277.6 246.3,277.7 246.9,277.7 247.4,277.8 247.9,277.8 248.4,277.9 248.9,278 249.5,278 250,278.1 250.5,278.1 251,278.2 251.5,278.3 252.1,278.3 252.6,278.4 253.1,278.4 253.6,278.5 254.1,278.6 254.7,278.6 255.2,278.7 255.7,278.7 256.2,278.8 256.7,278.8 257.3,278.9 257.8,279 258.3,279 258.8,279.1 259.3,279.1 259.9,279.2 260.4,279.2 260.9,279.3 261.4,279.3 261.9,279.4 262.5,279.4 263,279.5 263.5,279.5 264,279.6 264.5,279.6 265.1,279.6 265.6,279.7 266.1,279.7 266.6,279.8 267.1,279.9 267.7,279.9 268.2,280 268.7,280 269.2,280.1 269.7,280.2 270.3,280.3 270.8,280.4 271.3,280.5 271.8,280.5 272.3,280.6 272.9,280.7 273.4,280.8 273.9,280.9 274.4,281 274.9,281.1 275.5,281.2 276,281.3 276.5,281.3 277,281.4 277.5,281.5 278.1,281.5 278.6,281.6 279.1,281.6 279.6,281.7 280.1,281.7 280.7,281.7 281.2,281.7 281.7,281.7 282.2,281.7 282.7,281.7 283.3,281.7 283.8,281.7 284.3,281.7 284.8,281.7 285.3,281.7 285.9,281.7 286.4,281.6 286.9,281.6 287.4,281.6 287.9,281.6 288.5,281.6 289,281.6 289.5,281.5 290,281.5 290.5,281.5 291.1,281.5 291.6,281.4 292.1,281.4 292.6,281.3 293.1,281.2 293.7,281.2 294.2,281.1 294.7,281 295.2,280.8 295.7,280.7 296.3,280.5 296.8,280.4 297.3,280.2 297.8,279.9 298.3,279.7 298.9,279.4 299.4,279.1 299.9,278.8 300.4,278.5 300.9,278.1 301.5,277.7 302,277.3 302.5,276.8 303,276.4 303.5,275.9 304.1,275.4 304.6,275 305.1,274.5 305.6,274 306.1,273.5 306.7,273 307.2,272.6 307.7,272.1 308.2,271.7 308.7,271.2 309.3,270.8 309.8,270.5 310.3,270.1 310.8,269.8 311.3,269.5 311.9,269.3 312.4,269.2 312.9,269.1 313.4,269 313.9,269.1 314.5,269.1 315,269.3 315.5,269.6 316,269.9 316.5,270.2 317.1,270.6 317.6,271.1 318.1,271.6 318.6,272.1 319.1,272.7 319.7,273.2 320.2,273.7 320.7,274.3 321.2,274.8 321.7,275.3 322.3,275.7 322.8,276.2 323.3,276.6 323.8,277 324.3,277.4 324.9,277.8 325.4,278.2 325.9,278.5 326.4,278.9 326.9,279.2 327.5,279.5 328,279.8 328.5,280.1 329,280.4 329.5,280.7 330.1,281 330.6,281.2 331.1,281.5 331.6,281.7 332.1,281.9 332.7,282.1 333.2,282.3 333.7,282.5 334.2,282.6 334.7,282.8 335.3,283 335.8,283.2 336.3,283.3 336.8,283.5 337.3,283.6 337.9,283.8 338.4,283.9 338.9,284 339.4,284.1 339.9,284.2 340.5,284.3 341,284.4 341.5,284.5 342,284.6 342.5,284.6 343.1,284.7 343.6,284.8 344.1,284.8 344.6,284.9 345.1,284.9 345.7,285 346.2,285.1 346.7,285.1 347.2,285.1 347.7,285.2 348.3,285.2 348.8,285.3 349.3,285.3 349.8,285.3 350.3,285.4 350.9,285.4 351.4,285.4 351.9,285.5 352.4,285.5 352.9,285.5 353.5,285.6 354,285.6 354.5,285.6 355,285.6 355.5,285.7 356.1,285.7 356.6,285.7 357.1,285.7 357.6,285.8 358.1,285.8 358.7,285.8 359.2,285.8 359.7,285.9 360.2,285.9 360.7,285.9 361.3,285.9 361.8,285.9 362.3,285.9 362.8,286 363.3,286 363.9,286 364.4,286 364.9,286 365.4,286 365.9,286.1 366.5,286.1 367,286.1 367.5,286.1" fill="none" stroke="#ee5c2e" stroke-width="1.45" stroke-dasharray="6.5 3.1"/>
</g>
<rect x="55.7" y="16.5" width="311.8" height="271.3" fill="none" stroke="#5a5a5a" stroke-width="1.15"/>
<line x1="56" y1="287.8" x2="59.5" y2="287.8" stroke="#555" stroke-width="1"/>
<text transform="translate(50.8,292.4) scale(1,1.05)" text-anchor="end" class="t">0</text>
<line x1="56" y1="270.84" x2="58.2" y2="270.84" stroke="#555" stroke-width="1"/>
<line x1="56" y1="253.89" x2="59.5" y2="253.89" stroke="#555" stroke-width="1"/>
<text transform="translate(50.8,258.49) scale(1,1.05)" text-anchor="end" class="t">1000</text>
<line x1="56" y1="236.93" x2="58.2" y2="236.93" stroke="#555" stroke-width="1"/>
<line x1="56" y1="219.98" x2="59.5" y2="219.98" stroke="#555" stroke-width="1"/>
<text transform="translate(50.8,224.58) scale(1,1.05)" text-anchor="end" class="t">2000</text>
<line x1="56" y1="203.02" x2="58.2" y2="203.02" stroke="#555" stroke-width="1"/>
<line x1="56" y1="186.06" x2="59.5" y2="186.06" stroke="#555" stroke-width="1"/>
<text transform="translate(50.8,190.66) scale(1,1.05)" text-anchor="end" class="t">3000</text>
<line x1="56" y1="169.11" x2="58.2" y2="169.11" stroke="#555" stroke-width="1"/>
<line x1="56" y1="152.15" x2="59.5" y2="152.15" stroke="#555" stroke-width="1"/>
<text transform="translate(50.8,156.75) scale(1,1.05)" text-anchor="end" class="t">4000</text>
<line x1="56" y1="135.19" x2="58.2" y2="135.19" stroke="#555" stroke-width="1"/>
<line x1="56" y1="118.24" x2="59.5" y2="118.24" stroke="#555" stroke-width="1"/>
<text transform="translate(50.8,122.84) scale(1,1.05)" text-anchor="end" class="t">5000</text>
<line x1="56" y1="101.28" x2="58.2" y2="101.28" stroke="#555" stroke-width="1"/>
<line x1="56" y1="84.33" x2="59.5" y2="84.33" stroke="#555" stroke-width="1"/>
<text transform="translate(50.8,88.93) scale(1,1.05)" text-anchor="end" class="t">6000</text>
<line x1="56" y1="67.37" x2="58.2" y2="67.37" stroke="#555" stroke-width="1"/>
<line x1="56" y1="50.41" x2="59.5" y2="50.41" stroke="#555" stroke-width="1"/>
<text transform="translate(50.8,55.01) scale(1,1.05)" text-anchor="end" class="t">7000</text>
<line x1="56" y1="33.46" x2="58.2" y2="33.46" stroke="#555" stroke-width="1"/>
<line x1="56" y1="16.5" x2="59.5" y2="16.5" stroke="#555" stroke-width="1"/>
<text transform="translate(50.8,21.1) scale(1,1.05)" text-anchor="end" class="t">8000</text>
<line x1="60.72" y1="287.8" x2="60.72" y2="285.8" stroke="#555" stroke-width="1"/>
<line x1="84.32" y1="287.8" x2="84.32" y2="284.8" stroke="#555" stroke-width="1"/>
<text transform="translate(84.32,305.1) scale(1,1.05)" text-anchor="middle" class="t">10</text>
<line x1="107.92" y1="287.8" x2="107.92" y2="285.8" stroke="#555" stroke-width="1"/>
<line x1="131.52" y1="287.8" x2="131.52" y2="284.8" stroke="#555" stroke-width="1"/>
<text transform="translate(131.52,305.1) scale(1,1.05)" text-anchor="middle" class="t">15</text>
<line x1="155.11" y1="287.8" x2="155.11" y2="285.8" stroke="#555" stroke-width="1"/>
<line x1="178.71" y1="287.8" x2="178.71" y2="284.8" stroke="#555" stroke-width="1"/>
<text transform="translate(178.71,305.1) scale(1,1.05)" text-anchor="middle" class="t">20</text>
<line x1="202.31" y1="287.8" x2="202.31" y2="285.8" stroke="#555" stroke-width="1"/>
<line x1="225.91" y1="287.8" x2="225.91" y2="284.8" stroke="#555" stroke-width="1"/>
<text transform="translate(225.91,305.1) scale(1,1.05)" text-anchor="middle" class="t">25</text>
<line x1="249.51" y1="287.8" x2="249.51" y2="285.8" stroke="#555" stroke-width="1"/>
<line x1="273.11" y1="287.8" x2="273.11" y2="284.8" stroke="#555" stroke-width="1"/>
<text transform="translate(273.11,305.1) scale(1,1.05)" text-anchor="middle" class="t">30</text>
<line x1="296.7" y1="287.8" x2="296.7" y2="285.8" stroke="#555" stroke-width="1"/>
<line x1="320.3" y1="287.8" x2="320.3" y2="284.8" stroke="#555" stroke-width="1"/>
<text transform="translate(320.3,305.1) scale(1,1.05)" text-anchor="middle" class="t">35</text>
<line x1="343.9" y1="287.8" x2="343.9" y2="285.8" stroke="#555" stroke-width="1"/>
<line x1="367.5" y1="287.8" x2="367.5" y2="284.8" stroke="#555" stroke-width="1"/>
<text transform="translate(367.5,305.1) scale(1,1.05)" text-anchor="middle" class="t">40</text>
<text x="202.5" y="312.1" text-anchor="middle" class="xl">2Θ/°</text>
<text transform="translate(23.5,151.85) rotate(-90)" text-anchor="middle" class="yl">Intensity/a.u.</text>
<line x1="253.6" y1="36.8" x2="282.6" y2="36.8" fill="none" stroke="#a0a0a0" stroke-width="1.0"/>
<text transform="translate(290,40.8) scale(1,1.05)" class="t">Avicel_Raw</text>
<line x1="253.6" y1="56.5" x2="282.6" y2="56.5" fill="none" stroke="#80395a" stroke-width="1.25" stroke-dasharray="8.5 3"/>
<text transform="translate(290,60.5) scale(1,1.05)" class="t">101</text>
<line x1="253.6" y1="76.2" x2="282.6" y2="76.2" fill="none" stroke="#1e1e1e" stroke-width="1.3" stroke-dasharray="1.3 1.95"/>
<text transform="translate(290,80.2) scale(1,1.05)" class="t">10ī</text>
<line x1="253.6" y1="95.9" x2="282.6" y2="95.9" fill="none" stroke="#4690c2" stroke-width="1.25" stroke-dasharray="5 2.2"/>
<text transform="translate(290,99.9) scale(1,1.05)" class="t">021</text>
<line x1="253.6" y1="115.6" x2="282.6" y2="115.6" fill="none" stroke="#5a4e8e" stroke-width="1.25" stroke-dasharray="6.5 1.7 1.1 2.1 1.1 2.1"/>
<text transform="translate(290,119.6) scale(1,1.05)" class="t">002</text>
<line x1="253.6" y1="135.3" x2="282.6" y2="135.3" fill="none" stroke="#80b658" stroke-width="1.4"/>
<text transform="translate(290,139.3) scale(1,1.05)" class="t">040</text>
<line x1="253.6" y1="155" x2="282.6" y2="155" fill="none" stroke="#9ccde8" stroke-width="1.25" stroke-dasharray="6.4 2 1.1 2"/>
<text transform="translate(290,159) scale(1,1.05)" class="t">Amorphous</text>
<line x1="253.6" y1="174.7" x2="282.6" y2="174.7" fill="none" stroke="#ee5c2e" stroke-width="1.45" stroke-dasharray="6.5 3.1"/>
<text transform="translate(290,178.7) scale(1,1.05)" class="t">Fit</text>
<clipPath id="c2"><rect x="422.8" y="16.5" width="311.5" height="271.3"/></clipPath>
<g clip-path="url(#c2)">
<path d="M422.8,286.5 423,286.8 423.2,286.7 423.5,287.6 423.7,285.8 423.9,286.1 424.1,286.7 424.4,286.3 424.6,286.5 424.8,286.8 425,286.2 425.2,286.7 425.5,286.7 425.7,286.9 425.9,286.4 426.1,286.6 426.4,286.3 426.6,286.8 426.8,286.5 427,286.9 427.3,286.2 427.5,286.5 427.7,286.4 427.9,286.4 428.1,286.9 428.4,286.2 428.6,285.7 428.8,287.2 429,287.2 429.3,287.1 429.5,286.2 429.7,286.5 429.9,286.1 430.1,286.2 430.4,286.4 430.6,286.4 430.8,286.6 431,286.1 431.3,287 431.5,286.7 431.7,286.4 431.9,285.7 432.2,286.8 432.4,286.9 432.6,286.7 432.8,286.1 433,286.6 433.3,285.9 433.5,287.2 433.7,286 433.9,286 434.2,287 434.4,286.4 434.6,285.9 434.8,286.4 435,286 435.3,285.4 435.5,286.3 435.7,286.5 435.9,286.7 436.2,286.1 436.4,286.5 436.6,286.5 436.8,286.4 437.1,286.1 437.3,286.8 437.5,287 437.7,287.4 437.9,285.8 438.2,286.3 438.4,285.7 438.6,286.3 438.8,286.6 439.1,286.1 439.3,286.3 439.5,286.8 439.7,286.7 439.9,285.6 440.2,286.1 440.4,286.1 440.6,286.4 440.8,286.6 441.1,285.9 441.3,286.3 441.5,286.6 441.7,286.3 441.9,286.6 442.2,286.1 442.4,285.7 442.6,286.6 442.8,285.6 443.1,286.5 443.3,286.1 443.5,286.5 443.7,286.3 444,286.1 444.2,286.3 444.4,286.4 444.6,286.4 444.8,286.5 445.1,286.8 445.3,286.2 445.5,285.9 445.7,285.7 446,285.8 446.2,285 446.4,285.9 446.6,286.2 446.8,285.2 447.1,286.5 447.3,285.6 447.5,286.4 447.7,285.8 448,286.8 448.2,285.6 448.4,286 448.6,286.4 448.9,285.2 449.1,285.6 449.3,285.9 449.5,286.2 449.7,285.9 450,285.9 450.2,285.5 450.4,285.5 450.6,286.1 450.9,286 451.1,286 451.3,286.4 451.5,286 451.7,285.8 452,285.4 452.2,285.1 452.4,286.1 452.6,285.4 452.9,285.9 453.1,284.7 453.3,285.7 453.5,285.4 453.7,286 454,285.9 454.2,285.5 454.4,285.7 454.6,285.4 454.9,286.2 455.1,285.2 455.3,285.9 455.5,284.7 455.8,285.6 456,284.9 456.2,286 456.4,285.2 456.6,285.8 456.9,285.6 457.1,285.3 457.3,285.4 457.5,285.2 457.8,284.9 458,284.9 458.2,285.3 458.4,285.8 458.6,285.5 458.9,285.2 459.1,286.1 459.3,284.7 459.5,285.2 459.8,285.2 460,284.6 460.2,284.7 460.4,284.9 460.7,285.4 460.9,284.8 461.1,284.7 461.3,285.3 461.5,284.3 461.8,284.6 462,285.7 462.2,284.7 462.4,285.3 462.7,284.1 462.9,284.3 463.1,285.2 463.3,285 463.5,284.5 463.8,284.7 464,283.7 464.2,284.1 464.4,284.6 464.7,284.1 464.9,285.4 465.1,284.2 465.3,283.9 465.6,284.3 465.8,284.6 466,283.9 466.2,283.1 466.4,284 466.7,284.6 466.9,283.3 467.1,284.9 467.3,283.7 467.6,284.2 467.8,283.3 468,284.2 468.2,283 468.4,283.5 468.7,284.5 468.9,284.6 469.1,283.7 469.3,282.8 469.6,283.3 469.8,283.3 470,283.4 470.2,282.8 470.4,282.9 470.7,282.9 470.9,283.6 471.1,282.3 471.3,282.1 471.6,283.5 471.8,281.4 472,282.2 472.2,282.8 472.5,283.6 472.7,282 472.9,282 473.1,282.5 473.3,283.1 473.6,281.3 473.8,282.2 474,282.1 474.2,280 474.5,280.3 474.7,280.9 474.9,281.6 475.1,280.8 475.3,282.5 475.6,280.9 475.8,281.3 476,281.5 476.2,281.6 476.5,280.2 476.7,280.3 476.9,280.2 477.1,279.6 477.4,280.5 477.6,280.7 477.8,280.9 478,279.8 478.2,278.9 478.5,279.4 478.7,278.7 478.9,279.7 479.1,279.1 479.4,279.1 479.6,279.3 479.8,277 480,277.5 480.2,278.4 480.5,278.2 480.7,277.5 480.9,278.3 481.1,276.7 481.4,277.7 481.6,276.8 481.8,277 482,276.4 482.2,276.7 482.5,276.7 482.7,275.9 482.9,275.4 483.1,274.8 483.4,274.2 483.6,272.8 483.8,273 484,273.5 484.3,272.4 484.5,273.2 484.7,271 484.9,271.4 485.1,272.7 485.4,270.5 485.6,270 485.8,272.7 486,270.6 486.3,270 486.5,270.8 486.7,269.7 486.9,269.1 487.1,267.4 487.4,267.1 487.6,264.5 487.8,266.8 488,264.9 488.3,265.4 488.5,264.7 488.7,265.6 488.9,265.9 489.2,264.2 489.4,262.1 489.6,260.7 489.8,261.2 490,260.8 490.3,261.6 490.5,258.6 490.7,258.2 490.9,259.8 491.2,258.7 491.4,259.3 491.6,256.1 491.8,256.8 492,256.9 492.3,255.9 492.5,255.4 492.7,256 492.9,256.6 493.2,256.3 493.4,256.5 493.6,253.6 493.8,251.3 494.1,255.7 494.3,253.2 494.5,252.7 494.7,254.1 494.9,252.5 495.2,253.9 495.4,251 495.6,253 495.8,252 496.1,251.2 496.3,252.5 496.5,254 496.7,252.4 496.9,250.8 497.2,251.8 497.4,251.3 497.6,252.9 497.8,251.4 498.1,250.6 498.3,251.4 498.5,249.1 498.7,251.7 498.9,252.7 499.2,253.4 499.4,250.1 499.6,251.6 499.8,250.3 500.1,251 500.3,249.6 500.5,250.1 500.7,252.1 501,251.4 501.2,250.4 501.4,253.3 501.6,250.1 501.8,250.4 502.1,250.7 502.3,252.2 502.5,251.6 502.7,253.4 503,252 503.2,252.8 503.4,252 503.6,252.8 503.8,251.8 504.1,250.8 504.3,253.8 504.5,251.1 504.7,254.7 505,254.9 505.2,252.5 505.4,252.3 505.6,251.8 505.9,254.4 506.1,252.4 506.3,252.2 506.5,250.8 506.7,252.5 507,251.7 507.2,253.5 507.4,252.5 507.6,252.8 507.9,251.4 508.1,253.4 508.3,253.2 508.5,251.5 508.7,249.9 509,251.6 509.2,251.7 509.4,252.5 509.6,250.7 509.9,251.4 510.1,249.9 510.3,251.7 510.5,253.3 510.8,252.9 511,253.5 511.2,253.9 511.4,250.9 511.6,251.6 511.9,254.3 512.1,250.8 512.3,252.8 512.5,254.5 512.8,253.1 513,253.9 513.2,255 513.4,256.6 513.6,254.6 513.9,254.6 514.1,258.3 514.3,254.9 514.5,255.1 514.8,256.7 515,256.3 515.2,257 515.4,257.9 515.6,257.6 515.9,256 516.1,259.4 516.3,257.8 516.5,258.1 516.8,259.3 517,259.3 517.2,260.6 517.4,260.3 517.7,259.6 517.9,259.6 518.1,261.2 518.3,257.3 518.5,261.5 518.8,261.1 519,261.8 519.2,262.3 519.4,260.9 519.7,263.1 519.9,261.6 520.1,262.1 520.3,264.7 520.5,262.9 520.8,265 521,261.9 521.2,265.3 521.4,266.2 521.7,267.4 521.9,267.1 522.1,266.7 522.3,267.4 522.6,267.9 522.8,267.7 523,267.5 523.2,266.2 523.4,269.3 523.7,268.5 523.9,269.1 524.1,269.8 524.3,269.8 524.6,269.7 524.8,268.4 525,269.4 525.2,269.9 525.4,269.1 525.7,269.6 525.9,270.2 526.1,269.8 526.3,271 526.6,269.9 526.8,270.2 527,271.2 527.2,272 527.4,269.8 527.7,271.1 527.9,268.7 528.1,272 528.3,270.8 528.6,272 528.8,271.5 529,271.1 529.2,272.5 529.5,271.9 529.7,271.8 529.9,271.8 530.1,271.4 530.3,271.1 530.6,271.2 530.8,271.7 531,272.2 531.2,272.8 531.5,272.5 531.7,272.3 531.9,271.2 532.1,272.1 532.3,272.8 532.6,271.2 532.8,272.3 533,272.2 533.2,271.7 533.5,271.1 533.7,273.4 533.9,272.3 534.1,271.1 534.4,271.5 534.6,271.8 534.8,271.4 535,269.7 535.2,271.1 535.5,270 535.7,269.8 535.9,270.7 536.1,269.8 536.4,270.4 536.6,270.4 536.8,270.6 537,268.7 537.2,269.6 537.5,269.5 537.7,269.8 537.9,266.9 538.1,267.6 538.4,268.2 538.6,268.4 538.8,269 539,267 539.3,266.7 539.5,268.1 539.7,265.4 539.9,265.4 540.1,266.8 540.4,266.2 540.6,265.8 540.8,264.9 541,264.9 541.3,266.1 541.5,262.7 541.7,263.5 541.9,262.3 542.1,261.9 542.4,263.1 542.6,262.2 542.8,261.4 543,261 543.3,261.6 543.5,261.7 543.7,260.6 543.9,261 544.1,260.4 544.4,261.5 544.6,258.8 544.8,259.6 545,258.6 545.3,257.6 545.5,256.7 545.7,254.4 545.9,255.8 546.2,257.2 546.4,254.9 546.6,255.2 546.8,253.6 547,254.4 547.3,254 547.5,253.2 547.7,252.9 547.9,253.9 548.2,252.1 548.4,250.8 548.6,248.8 548.8,250.3 549,249.9 549.3,248.3 549.5,247.9 549.7,246.1 549.9,247 550.2,247.4 550.4,245.2 550.6,244.6 550.8,246.8 551.1,245.6 551.3,247.7 551.5,245.6 551.7,245.9 551.9,244.6 552.2,244.6 552.4,243.8 552.6,243.4 552.8,242.2 553.1,242.2 553.3,242.9 553.5,243.6 553.7,239.7 553.9,239.1 554.2,241.3 554.4,239.4 554.6,242 554.8,241.7 555.1,239.5 555.3,236.6 555.5,239.9 555.7,239.2 556,235.2 556.2,239.9 556.4,235.6 556.6,235.3 556.8,235.7 557.1,234.5 557.3,230.1 557.5,234.9 557.7,232.8 558,231.7 558.2,231.3 558.4,231.2 558.6,225.2 558.8,226.1 559.1,228 559.3,224.9 559.5,221.6 559.7,220.1 560,221.8 560.2,217.9 560.4,215.6 560.6,213.8 560.8,212.1 561.1,214.5 561.3,206 561.5,207.3 561.7,202.5 562,198.6 562.2,202.8 562.4,203.2 562.6,197.2 562.9,197.6 563.1,196.3 563.3,195.6 563.5,187.9 563.7,190.4 564,190.4 564.2,186.2 564.4,185.7 564.6,180.7 564.9,180 565.1,179.5 565.3,173.8 565.5,174.9 565.7,169.9 566,167.1 566.2,169.6 566.4,169.1 566.6,166 566.9,163.4 567.1,164.8 567.3,163.8 567.5,163.6 567.8,162.2 568,160.9 568.2,163.9 568.4,163 568.6,161.5 568.9,163.1 569.1,161 569.3,159.9 569.5,161.4 569.8,163 570,163.5 570.2,157.3 570.4,159.8 570.6,165.2 570.9,164.9 571.1,158.5 571.3,160 571.5,164.2 571.8,162.4 572,169.8 572.2,167.2 572.4,166.7 572.6,174.5 572.9,173.5 573.1,171.6 573.3,172.7 573.5,178.8 573.8,178.9 574,178.2 574.2,184.9 574.4,189.3 574.7,188.8 574.9,191.9 575.1,190.6 575.3,195.3 575.5,199.5 575.8,195.3 576,203.4 576.2,203.8 576.4,205.7 576.7,207.9 576.9,211.3 577.1,212.9 577.3,216.4 577.5,221 577.8,221.1 578,223.2 578.2,225.2 578.4,226.6 578.7,229.7 578.9,228.4 579.1,229.8 579.3,237.2 579.6,235.4 579.8,238 580,242.2 580.2,239.3 580.4,242.1 580.7,243.1 580.9,244.8 581.1,243.8 581.3,244.8 581.6,247.2 581.8,247.7 582,249.6 582.2,250.2 582.4,252.1 582.7,251.9 582.9,253.7 583.1,253.2 583.3,253.4 583.6,254.7 583.8,254.3 584,253.1 584.2,259.2 584.5,257.3 584.7,258.4 584.9,258.8 585.1,260.3 585.3,259.3 585.6,260.2 585.8,261.2 586,261.4 586.2,262.4 586.5,264.9 586.7,262.1 586.9,264.1 587.1,265.3 587.3,264.7 587.6,266.2 587.8,268.2 588,265.7 588.2,268.6 588.5,267.7 588.7,267.9 588.9,267.2 589.1,267.7 589.3,269 589.6,270.2 589.8,270.3 590,269.3 590.2,269 590.5,270.4 590.7,271.7 590.9,270.5 591.1,271.9 591.4,272.2 591.6,272.3 591.8,271.8 592,272.2 592.2,271.8 592.5,271.8 592.7,272.6 592.9,275.1 593.1,274.8 593.4,273.4 593.6,273.7 593.8,272.1 594,274 594.2,274.3 594.5,273.5 594.7,273.6 594.9,274.7 595.1,274.3 595.4,275.7 595.6,275.6 595.8,274 596,276.2 596.3,274.5 596.5,274.7 596.7,274.8 596.9,274.7 597.1,275.1 597.4,277.3 597.6,276.4 597.8,276.2 598,275.1 598.3,276.7 598.5,276.4 598.7,276.2 598.9,275 599.1,277.2 599.4,277.2 599.6,275.7 599.8,277.9 600,276 600.3,276.7 600.5,277.6 600.7,276.7 600.9,277.2 601.1,276.4 601.4,276.3 601.6,275.4 601.8,276.6 602,276.6 602.3,277.1 602.5,276.8 602.7,276 602.9,278.3 603.2,276.4 603.4,277.3 603.6,276.9 603.8,276.8 604,276.4 604.3,276.9 604.5,277.4 604.7,276.9 604.9,277.2 605.2,277.4 605.4,277.1 605.6,276.7 605.8,277.3 606,277.3 606.3,278.4 606.5,277.6 606.7,278.9 606.9,277 607.2,278.3 607.4,276.7 607.6,275.4 607.8,278 608.1,276.7 608.3,277.5 608.5,278.2 608.7,278.5 608.9,277.5 609.2,276.9 609.4,277.7 609.6,279.1 609.8,278.8 610.1,278.2 610.3,277.1 610.5,277.9 610.7,277.9 610.9,277.3 611.2,278.4 611.4,278.3 611.6,278.4 611.8,279.6 612.1,278 612.3,278.1 612.5,277.7 612.7,279.3 613,279.1 613.2,277.8 613.4,278.3 613.6,277.6 613.8,279.2 614.1,278.5 614.3,279.2 614.5,278.5 614.7,279.1 615,278.4 615.2,278 615.4,278.3 615.6,280.1 615.8,278.2 616.1,278.5 616.3,279.6 616.5,279.5 616.7,278.9 617,278.5 617.2,279.3 617.4,280.1 617.6,278.8 617.8,278.9 618.1,277.3 618.3,280 618.5,277.3 618.7,277.9 619,278.9 619.2,278 619.4,279.1 619.6,278.5 619.9,279.7 620.1,279.1 620.3,279.9 620.5,280.3 620.7,279.4 621,279.7 621.2,278.8 621.4,278.4 621.6,279.4 621.9,279.2 622.1,279.1 622.3,280.4 622.5,279.1 622.7,279.3 623,279.3 623.2,280 623.4,280.7 623.6,279.5 623.9,279.1 624.1,278.4 624.3,278.5 624.5,278.3 624.8,279 625,278.5 625.2,279.4 625.4,278.8 625.6,278.6 625.9,277.4 626.1,279.1 626.3,280.1 626.5,278.3 626.8,279.8 627,279.3 627.2,279.4 627.4,279.9 627.6,278.3 627.9,278.8 628.1,279.6 628.3,279.1 628.5,279.5 628.8,278.8 629,279.4 629.2,279.7 629.4,279.6 629.7,279.5 629.9,279 630.1,279.8 630.3,279.2 630.5,278.9 630.8,277.6 631,278.6 631.2,281.2 631.4,279.5 631.7,279.5 631.9,279 632.1,278.2 632.3,278.7 632.5,280.8 632.8,279.1 633,279.2 633.2,279 633.4,278.4 633.7,280.1 633.9,278.7 634.1,280.5 634.3,279.4 634.5,279.3 634.8,278 635,280 635.2,280.7 635.4,279.2 635.7,280.1 635.9,278.7 636.1,280.3 636.3,280.4 636.6,279.1 636.8,279.9 637,279.3 637.2,281 637.4,279 637.7,280.5 637.9,279.7 638.1,280.9 638.3,281.2 638.6,280.5 638.8,280.2 639,279.4 639.2,280.2 639.4,280 639.7,280.1 639.9,278.6 640.1,281.1 640.3,279.9 640.6,280.8 640.8,280.6 641,281.1 641.2,280.1 641.5,281.7 641.7,281.8 641.9,281.1 642.1,281.7 642.3,280.6 642.6,280.6 642.8,281.6 643,280.7 643.2,281.7 643.5,281.3 643.7,281.4 643.9,280.3 644.1,281.5 644.3,282.1 644.6,282.1 644.8,280.9 645,282.7 645.2,282 645.5,282 645.7,283.3 645.9,282.2 646.1,281.4 646.3,281.9 646.6,282.6 646.8,281.7 647,281.9 647.2,281.1 647.5,282.7 647.7,282.6 647.9,282.4 648.1,282.5 648.4,282.4 648.6,282.6 648.8,283 649,283.5 649.2,283 649.5,283.5 649.7,283.4 649.9,283.1 650.1,282.6 650.4,282.4 650.6,283.5 650.8,282.8 651,282.5 651.2,283 651.5,284 651.7,284.3 651.9,282.7 652.1,282.6 652.4,283 652.6,283.7 652.8,282.4 653,282.5 653.3,283.2 653.5,283.3 653.7,284.3 653.9,282.8 654.1,284.1 654.4,282.8 654.6,282.8 654.8,283.1 655,282.3 655.3,283.3 655.5,282.8 655.7,282.7 655.9,283 656.1,283.4 656.4,282.5 656.6,283 656.8,283.3 657,283.3 657.3,283.2 657.5,282.1 657.7,283.3 657.9,283.5 658.2,284 658.4,284.1 658.6,284.5 658.8,283.4 659,283.5 659.3,284.1 659.5,284.4 659.7,283.8 659.9,284 660.2,284.4 660.4,283.6 660.6,283.7 660.8,283.8 661,283.4 661.3,284.1 661.5,283 661.7,284.3 661.9,283.5 662.2,283.4 662.4,283.8 662.6,283.4 662.8,284.3 663,284.3 663.3,283.5 663.5,283.7 663.7,282.9 663.9,283 664.2,282.6 664.4,282.6 664.6,282.5 664.8,282.4 665.1,282.5 665.3,282.4 665.5,280.7 665.7,282.8 665.9,281.7 666.2,280.8 666.4,280.9 666.6,280.1 666.8,280.5 667.1,281.4 667.3,280.6 667.5,281.1 667.7,279.3 667.9,278.8 668.2,279.8 668.4,278.9 668.6,279.3 668.8,279.7 669.1,278.7 669.3,279.3 669.5,278.3 669.7,277.4 670,276.8 670.2,276.1 670.4,277 670.6,276.3 670.8,275.8 671.1,275.4 671.3,277.7 671.5,275.8 671.7,274.3 672,275.5 672.2,274.2 672.4,273.4 672.6,275.3 672.8,273.7 673.1,273.1 673.3,273 673.5,274 673.7,272.2 674,272.6 674.2,271.2 674.4,271.3 674.6,271.8 674.9,270.9 675.1,271.4 675.3,271.1 675.5,271.6 675.7,270.1 676,268.9 676.2,269.2 676.4,269 676.6,269.3 676.9,268.9 677.1,267.4 677.3,269.2 677.5,265.5 677.7,267.2 678,264.8 678.2,265.4 678.4,266.7 678.6,265.3 678.9,265.5 679.1,265.1 679.3,264.5 679.5,265.7 679.7,265.5 680,265.2 680.2,266 680.4,264.8 680.6,264.2 680.9,264.2 681.1,264.2 681.3,264.8 681.5,263.7 681.8,266.6 682,265 682.2,265.1 682.4,264.1 682.6,264.5 682.9,264.6 683.1,265.6 683.3,265 683.5,267.2 683.8,266.5 684,268.9 684.2,265.6 684.4,266.1 684.6,268.6 684.9,269.2 685.1,270.7 685.3,270.6 685.5,269.5 685.8,270.2 686,271.7 686.2,271.3 686.4,271.8 686.7,271.3 686.9,271.5 687.1,272.7 687.3,272.8 687.5,273.3 687.8,275.4 688,274 688.2,274.6 688.4,274.3 688.7,276.7 688.9,275.1 689.1,276.6 689.3,276.3 689.5,275.9 689.8,278.2 690,278.4 690.2,277.2 690.4,279 690.7,279.1 690.9,278.4 691.1,279.2 691.3,278.8 691.5,279.4 691.8,279.8 692,279.4 692.2,278.8 692.4,280.4 692.7,279.6 692.9,280 693.1,280.7 693.3,280.6 693.6,281.6 693.8,281.5 694,281 694.2,281.3 694.4,280.6 694.7,282.2 694.9,281.7 695.1,281.9 695.3,281.7 695.6,281 695.8,282.4 696,281.3 696.2,282.2 696.4,282.1 696.7,281.4 696.9,282.2 697.1,281.7 697.3,282.1 697.6,282.3 697.8,282.5 698,283.3 698.2,282.8 698.5,282.4 698.7,282.4 698.9,283.4 699.1,282.1 699.3,282.3 699.6,283.4 699.8,283.3 700,282.5 700.2,283.7 700.5,283.2 700.7,282.9 700.9,282.9 701.1,282.9 701.3,282.7 701.6,283.4 701.8,283.2 702,282 702.2,283.7 702.5,283.3 702.7,283 702.9,283.4 703.1,282.5 703.4,283.1 703.6,282.7 703.8,284.4 704,282.6 704.2,282.6 704.5,283.6 704.7,282.6 704.9,283.1 705.1,282.8 705.4,282.4 705.6,283.3 705.8,283.8 706,283.4 706.2,284 706.5,283.8 706.7,283.8 706.9,283.8 707.1,283 707.4,283.2 707.6,284 707.8,283.1 708,284.4 708.2,284 708.5,283.8 708.7,283.2 708.9,283.4 709.1,283.6 709.4,283.2 709.6,283.5 709.8,283.2 710,284.3 710.3,284.7 710.5,284.1 710.7,283.6 710.9,283.9 711.1,283.6 711.4,283.7 711.6,283.9 711.8,283.8 712,284.5 712.3,283.7 712.5,284.7 712.7,284.3 712.9,284.9 713.1,284.1 713.4,285 713.6,283.7 713.8,285 714,284.3 714.3,284.5 714.5,284.8 714.7,283.9 714.9,284.7 715.2,283.9 715.4,285 715.6,284.9 715.8,285.5 716,284.4 716.3,284.2 716.5,284.5 716.7,284.7 716.9,285.1 717.2,283.7 717.4,284.4 717.6,285.6 717.8,284.9 718,286 718.3,284.2 718.5,284 718.7,284.3 718.9,285 719.2,285.2 719.4,285.6 719.6,284.8 719.8,285.4 720,285.2 720.3,285.4 720.5,285.3 720.7,284.8 720.9,284.4 721.2,285.1 721.4,285.2 721.6,285.7 721.8,285.8 722.1,285.8 722.3,284.9 722.5,285.2 722.7,285 722.9,285.2 723.2,285.6 723.4,286 723.6,285.6 723.8,286.1 724.1,284.6 724.3,285.4 724.5,285.7 724.7,284.7 724.9,285.7 725.2,285.3 725.4,285.7 725.6,285.5 725.8,285.8 726.1,285.4 726.3,285.1 726.5,286.2 726.7,286.6 727,285.1 727.2,285.6 727.4,285.4 727.6,285.9 727.8,285.1 728.1,285 728.3,286.3 728.5,285.5 728.7,286.1 729,286.5 729.2,286 729.4,285.6 729.6,286.4 729.8,286.4 730.1,285.4 730.3,285.9 730.5,285.7 730.7,286.4 731,286.2 731.2,285.9 731.4,285.9 731.6,285.9 731.9,285.3 732.1,285.9 732.3,286.6 732.5,286.4 732.7,286 733,285.5 733.2,286.3 733.4,286.2 733.6,286.1 733.9,286.3 734.1,286.4 734.3,286.2" fill="none" stroke="#383838" stroke-width="0.75"/>
<path d="M422.8,287.8 423.3,287.8 423.8,287.7 424.4,287.7 424.9,287.7 425.4,287.7 425.9,287.7 426.4,287.7 427,287.7 427.5,287.7 428,287.7 428.5,287.7 429,287.7 429.6,287.7 430.1,287.7 430.6,287.7 431.1,287.7 431.6,287.7 432.2,287.7 432.7,287.7 433.2,287.7 433.7,287.7 434.2,287.7 434.8,287.7 435.3,287.7 435.8,287.7 436.3,287.7 436.8,287.7 437.4,287.7 437.9,287.7 438.4,287.7 438.9,287.7 439.4,287.6 440,287.6 440.5,287.6 441,287.6 441.5,287.6 442,287.6 442.6,287.6 443.1,287.6 443.6,287.6 444.1,287.6 444.6,287.6 445.2,287.6 445.7,287.6 446.2,287.6 446.7,287.6 447.2,287.6 447.8,287.5 448.3,287.5 448.8,287.5 449.3,287.5 449.8,287.5 450.4,287.5 450.9,287.5 451.4,287.5 451.9,287.5 452.4,287.5 453,287.5 453.5,287.4 454,287.4 454.5,287.4 455,287.4 455.6,287.4 456.1,287.4 456.6,287.4 457.1,287.4 457.6,287.3 458.2,287.3 458.7,287.3 459.2,287.3 459.7,287.3 460.2,287.3 460.8,287.3 461.3,287.2 461.8,287.2 462.3,287.2 462.8,287.2 463.4,287.2 463.9,287.2 464.4,287.1 464.9,287.1 465.4,287.1 466,287.1 466.5,287.1 467,287 467.5,287 468,287 468.6,287 469.1,287 469.6,286.9 470.1,286.9 470.6,286.9 471.2,286.9 471.7,286.8 472.2,286.8 472.7,286.8 473.2,286.8 473.8,286.7 474.3,286.7 474.8,286.7 475.3,286.6 475.8,286.6 476.4,286.6 476.9,286.5 477.4,286.5 477.9,286.5 478.4,286.5 479,286.4 479.5,286.4 480,286.4 480.5,286.3 481,286.3 481.6,286.2 482.1,286.2 482.6,286.2 483.1,286.1 483.6,286.1 484.2,286 484.7,286 485.2,286 485.7,285.9 486.2,285.9 486.8,285.8 487.3,285.8 487.8,285.7 488.3,285.7 488.8,285.7 489.4,285.6 489.9,285.6 490.4,285.5 490.9,285.5 491.4,285.4 492,285.4 492.5,285.3 493,285.3 493.5,285.2 494,285.1 494.6,285.1 495.1,285 495.6,285 496.1,284.9 496.6,284.9 497.2,284.8 497.7,284.7 498.2,284.7 498.7,284.6 499.2,284.6 499.8,284.5 500.3,284.4 500.8,284.4 501.3,284.3 501.8,284.2 502.4,284.2 502.9,284.1 503.4,284 503.9,284 504.4,283.9 505,283.8 505.5,283.7 506,283.7 506.5,283.6 507,283.5 507.6,283.4 508.1,283.4 508.6,283.3 509.1,283.2 509.6,283.1 510.2,283.1 510.7,283 511.2,282.9 511.7,282.8 512.2,282.7 512.8,282.7 513.3,282.6 513.8,282.5 514.3,282.4 514.8,282.3 515.4,282.2 515.9,282.1 516.4,282.1 516.9,282 517.4,281.9 518,281.8 518.5,281.7 519,281.6 519.5,281.5 520,281.4 520.6,281.3 521.1,281.3 521.6,281.2 522.1,281.1 522.6,281 523.2,280.9 523.7,280.8 524.2,280.7 524.7,280.6 525.2,280.5 525.8,280.4 526.3,280.3 526.8,280.2 527.3,280.1 527.8,280 528.4,279.9 528.9,279.8 529.4,279.7 529.9,279.6 530.4,279.5 531,279.4 531.5,279.3 532,279.2 532.5,279.1 533,279 533.6,279 534.1,278.9 534.6,278.8 535.1,278.7 535.6,278.6 536.2,278.5 536.7,278.4 537.2,278.3 537.7,278.2 538.2,278.1 538.8,278 539.3,277.9 539.8,277.8 540.3,277.7 540.8,277.6 541.4,277.5 541.9,277.4 542.4,277.3 542.9,277.2 543.4,277.1 544,277.1 544.5,277 545,276.9 545.5,276.8 546,276.7 546.6,276.6 547.1,276.5 547.6,276.4 548.1,276.3 548.6,276.3 549.2,276.2 549.7,276.1 550.2,276 550.7,275.9 551.2,275.8 551.8,275.8 552.3,275.7 552.8,275.6 553.3,275.5 553.8,275.5 554.4,275.4 554.9,275.3 555.4,275.2 555.9,275.2 556.4,275.1 557,275 557.5,275 558,274.9 558.5,274.8 559,274.8 559.6,274.7 560.1,274.7 560.6,274.6 561.1,274.5 561.6,274.5 562.2,274.4 562.7,274.4 563.2,274.3 563.7,274.3 564.2,274.2 564.8,274.2 565.3,274.1 565.8,274.1 566.3,274 566.8,274 567.4,274 567.9,273.9 568.4,273.9 568.9,273.9 569.4,273.8 570,273.8 570.5,273.8 571,273.7 571.5,273.7 572,273.7 572.6,273.7 573.1,273.7 573.6,273.6 574.1,273.6 574.6,273.6 575.2,273.6 575.7,273.6 576.2,273.6 576.7,273.6 577.2,273.6 577.8,273.6 578.3,273.6 578.8,273.6 579.3,273.6 579.9,273.6 580.4,273.6 580.9,273.6 581.4,273.6 581.9,273.6 582.5,273.6 583,273.6 583.5,273.6 584,273.7 584.5,273.7 585.1,273.7 585.6,273.7 586.1,273.7 586.6,273.8 587.1,273.8 587.7,273.8 588.2,273.9 588.7,273.9 589.2,273.9 589.7,274 590.3,274 590.8,274 591.3,274.1 591.8,274.1 592.3,274.2 592.9,274.2 593.4,274.3 593.9,274.3 594.4,274.4 594.9,274.4 595.5,274.5 596,274.5 596.5,274.6 597,274.7 597.5,274.7 598.1,274.8 598.6,274.8 599.1,274.9 599.6,275 600.1,275 600.7,275.1 601.2,275.2 601.7,275.2 602.2,275.3 602.7,275.4 603.3,275.5 603.8,275.5 604.3,275.6 604.8,275.7 605.3,275.8 605.9,275.8 606.4,275.9 606.9,276 607.4,276.1 607.9,276.2 608.5,276.3 609,276.3 609.5,276.4 610,276.5 610.5,276.6 611.1,276.7 611.6,276.8 612.1,276.9 612.6,277 613.1,277.1 613.7,277.1 614.2,277.2 614.7,277.3 615.2,277.4 615.7,277.5 616.3,277.6 616.8,277.7 617.3,277.8 617.8,277.9 618.3,278 618.9,278.1 619.4,278.2 619.9,278.3 620.4,278.4 620.9,278.5 621.5,278.6 622,278.7 622.5,278.8 623,278.9 623.5,279 624.1,279 624.6,279.1 625.1,279.2 625.6,279.3 626.1,279.4 626.7,279.5 627.2,279.6 627.7,279.7 628.2,279.8 628.7,279.9 629.3,280 629.8,280.1 630.3,280.2 630.8,280.3 631.3,280.4 631.9,280.5 632.4,280.6 632.9,280.7 633.4,280.8 633.9,280.9 634.5,281 635,281.1 635.5,281.2 636,281.3 636.5,281.3 637.1,281.4 637.6,281.5 638.1,281.6 638.6,281.7 639.1,281.8 639.7,281.9 640.2,282 640.7,282.1 641.2,282.1 641.7,282.2 642.3,282.3 642.8,282.4 643.3,282.5 643.8,282.6 644.3,282.7 644.9,282.7 645.4,282.8 645.9,282.9 646.4,283 646.9,283.1 647.5,283.1 648,283.2 648.5,283.3 649,283.4 649.5,283.4 650.1,283.5 650.6,283.6 651.1,283.7 651.6,283.7 652.1,283.8 652.7,283.9 653.2,284 653.7,284 654.2,284.1 654.7,284.2 655.3,284.2 655.8,284.3 656.3,284.4 656.8,284.4 657.3,284.5 657.9,284.6 658.4,284.6 658.9,284.7 659.4,284.7 659.9,284.8 660.5,284.9 661,284.9 661.5,285 662,285 662.5,285.1 663.1,285.1 663.6,285.2 664.1,285.3 664.6,285.3 665.1,285.4 665.7,285.4 666.2,285.5 666.7,285.5 667.2,285.6 667.7,285.6 668.3,285.7 668.8,285.7 669.3,285.7 669.8,285.8 670.3,285.8 670.9,285.9 671.4,285.9 671.9,286 672.4,286 672.9,286 673.5,286.1 674,286.1 674.5,286.2 675,286.2 675.5,286.2 676.1,286.3 676.6,286.3 677.1,286.4 677.6,286.4 678.1,286.4 678.7,286.5 679.2,286.5 679.7,286.5 680.2,286.5 680.7,286.6 681.3,286.6 681.8,286.6 682.3,286.7 682.8,286.7 683.3,286.7 683.9,286.8 684.4,286.8 684.9,286.8 685.4,286.8 685.9,286.9 686.5,286.9 687,286.9 687.5,286.9 688,287 688.5,287 689.1,287 689.6,287 690.1,287 690.6,287.1 691.1,287.1 691.7,287.1 692.2,287.1 692.7,287.1 693.2,287.2 693.7,287.2 694.3,287.2 694.8,287.2 695.3,287.2 695.8,287.2 696.3,287.3 696.9,287.3 697.4,287.3 697.9,287.3 698.4,287.3 698.9,287.3 699.5,287.3 700,287.4 700.5,287.4 701,287.4 701.5,287.4 702.1,287.4 702.6,287.4 703.1,287.4 703.6,287.4 704.1,287.5 704.7,287.5 705.2,287.5 705.7,287.5 706.2,287.5 706.7,287.5 707.3,287.5 707.8,287.5 708.3,287.5 708.8,287.5 709.3,287.5 709.9,287.6 710.4,287.6 710.9,287.6 711.4,287.6 711.9,287.6 712.5,287.6 713,287.6 713.5,287.6 714,287.6 714.5,287.6 715.1,287.6 715.6,287.6 716.1,287.6 716.6,287.6 717.1,287.6 717.7,287.6 718.2,287.7 718.7,287.7 719.2,287.7 719.7,287.7 720.3,287.7 720.8,287.7 721.3,287.7 721.8,287.7 722.3,287.7 722.9,287.7 723.4,287.7 723.9,287.7 724.4,287.7 724.9,287.7 725.5,287.7 726,287.7 726.5,287.7 727,287.7 727.5,287.7 728.1,287.7 728.6,287.7 729.1,287.7 729.6,287.7 730.1,287.7 730.7,287.7 731.2,287.7 731.7,287.7 732.2,287.7 732.7,287.7 733.3,287.7 733.8,287.8 734.3,287.8" fill="none" stroke="#9ccde8" stroke-width="1.25" stroke-dasharray="6.4 2 1.1 2"/>
<path d="M422.8,287.8 423.3,287.8 423.8,287.8 424.4,287.8 424.9,287.8 425.4,287.8 425.9,287.8 426.4,287.8 427,287.8 427.5,287.8 428,287.8 428.5,287.8 429,287.8 429.6,287.8 430.1,287.8 430.6,287.8 431.1,287.8 431.6,287.8 432.2,287.8 432.7,287.8 433.2,287.8 433.7,287.8 434.2,287.8 434.8,287.8 435.3,287.8 435.8,287.8 436.3,287.8 436.8,287.8 437.4,287.8 437.9,287.8 438.4,287.8 438.9,287.8 439.4,287.8 440,287.8 440.5,287.8 441,287.8 441.5,287.8 442,287.8 442.6,287.8 443.1,287.8 443.6,287.8 444.1,287.8 444.6,287.8 445.2,287.8 445.7,287.8 446.2,287.8 446.7,287.8 447.2,287.8 447.8,287.8 448.3,287.8 448.8,287.8 449.3,287.8 449.8,287.8 450.4,287.8 450.9,287.8 451.4,287.8 451.9,287.8 452.4,287.8 453,287.8 453.5,287.8 454,287.8 454.5,287.8 455,287.8 455.6,287.8 456.1,287.8 456.6,287.8 457.1,287.8 457.6,287.8 458.2,287.8 458.7,287.8 459.2,287.8 459.7,287.8 460.2,287.8 460.8,287.8 461.3,287.8 461.8,287.8 462.3,287.8 462.8,287.8 463.4,287.8 463.9,287.8 464.4,287.8 464.9,287.8 465.4,287.8 466,287.8 466.5,287.8 467,287.8 467.5,287.8 468,287.8 468.6,287.8 469.1,287.8 469.6,287.8 470.1,287.8 470.6,287.8 471.2,287.8 471.7,287.8 472.2,287.8 472.7,287.8 473.2,287.8 473.8,287.8 474.3,287.8 474.8,287.8 475.3,287.8 475.8,287.8 476.4,287.8 476.9,287.8 477.4,287.8 477.9,287.8 478.4,287.8 479,287.8 479.5,287.8 480,287.8 480.5,287.8 481,287.8 481.6,287.8 482.1,287.8 482.6,287.8 483.1,287.8 483.6,287.8 484.2,287.8 484.7,287.8 485.2,287.8 485.7,287.8 486.2,287.8 486.8,287.8 487.3,287.8 487.8,287.8 488.3,287.8 488.8,287.8 489.4,287.8 489.9,287.8 490.4,287.8 490.9,287.8 491.4,287.8 492,287.8 492.5,287.8 493,287.8 493.5,287.8 494,287.8 494.6,287.8 495.1,287.8 495.6,287.8 496.1,287.8 496.6,287.8 497.2,287.8 497.7,287.8 498.2,287.8 498.7,287.8 499.2,287.8 499.8,287.8 500.3,287.8 500.8,287.8 501.3,287.8 501.8,287.8 502.4,287.8 502.9,287.8 503.4,287.8 503.9,287.8 504.4,287.8 505,287.8 505.5,287.8 506,287.8 506.5,287.8 507,287.8 507.6,287.8 508.1,287.8 508.6,287.8 509.1,287.8 509.6,287.8 510.2,287.8 510.7,287.8 511.2,287.8 511.7,287.8 512.2,287.8 512.8,287.8 513.3,287.8 513.8,287.8 514.3,287.8 514.8,287.8 515.4,287.8 515.9,287.8 516.4,287.8 516.9,287.8 517.4,287.8 518,287.8 518.5,287.8 519,287.8 519.5,287.8 520,287.8 520.6,287.8 521.1,287.8 521.6,287.8 522.1,287.8 522.6,287.8 523.2,287.8 523.7,287.8 524.2,287.8 524.7,287.8 525.2,287.8 525.8,287.8 526.3,287.8 526.8,287.8 527.3,287.8 527.8,287.8 528.4,287.8 528.9,287.8 529.4,287.8 529.9,287.8 530.4,287.8 531,287.8 531.5,287.8 532,287.8 532.5,287.8 533,287.8 533.6,287.8 534.1,287.8 534.6,287.8 535.1,287.8 535.6,287.8 536.2,287.8 536.7,287.8 537.2,287.8 537.7,287.8 538.2,287.8 538.8,287.8 539.3,287.8 539.8,287.8 540.3,287.8 540.8,287.8 541.4,287.8 541.9,287.8 542.4,287.8 542.9,287.8 543.4,287.8 544,287.8 544.5,287.8 545,287.8 545.5,287.8 546,287.8 546.6,287.8 547.1,287.8 547.6,287.7 548.1,287.7 548.6,287.7 549.2,287.7 549.7,287.7 550.2,287.7 550.7,287.7 551.2,287.7 551.8,287.7 552.3,287.7 552.8,287.7 553.3,287.7 553.8,287.7 554.4,287.7 554.9,287.7 555.4,287.7 555.9,287.7 556.4,287.7 557,287.7 557.5,287.7 558,287.7 558.5,287.7 559,287.7 559.6,287.7 560.1,287.7 560.6,287.7 561.1,287.7 561.6,287.7 562.2,287.7 562.7,287.7 563.2,287.7 563.7,287.7 564.2,287.7 564.8,287.7 565.3,287.7 565.8,287.7 566.3,287.7 566.8,287.7 567.4,287.7 567.9,287.7 568.4,287.7 568.9,287.7 569.4,287.7 570,287.7 570.5,287.7 571,287.7 571.5,287.7 572,287.7 572.6,287.7 573.1,287.7 573.6,287.7 574.1,287.7 574.6,287.7 575.2,287.7 575.7,287.7 576.2,287.7 576.7,287.7 577.2,287.7 577.8,287.7 578.3,287.7 578.8,287.7 579.3,287.7 579.9,287.7 580.4,287.7 580.9,287.7 581.4,287.7 581.9,287.7 582.5,287.7 583,287.7 583.5,287.7 584,287.7 584.5,287.7 585.1,287.7 585.6,287.7 586.1,287.7 586.6,287.7 587.1,287.7 587.7,287.7 588.2,287.7 588.7,287.7 589.2,287.7 589.7,287.7 590.3,287.7 590.8,287.7 591.3,287.7 591.8,287.7 592.3,287.7 592.9,287.7 593.4,287.7 593.9,287.7 594.4,287.7 594.9,287.7 595.5,287.7 596,287.7 596.5,287.7 597,287.7 597.5,287.7 598.1,287.7 598.6,287.7 599.1,287.7 599.6,287.7 600.1,287.7 600.7,287.7 601.2,287.7 601.7,287.7 602.2,287.7 602.7,287.7 603.3,287.7 603.8,287.7 604.3,287.7 604.8,287.6 605.3,287.6 605.9,287.6 606.4,287.6 606.9,287.6 607.4,287.6 607.9,287.6 608.5,287.6 609,287.6 609.5,287.6 610,287.6 610.5,287.6 611.1,287.6 611.6,287.6 612.1,287.6 612.6,287.6 613.1,287.6 613.7,287.6 614.2,287.6 614.7,287.6 615.2,287.6 615.7,287.6 616.3,287.6 616.8,287.6 617.3,287.6 617.8,287.6 618.3,287.6 618.9,287.6 619.4,287.6 619.9,287.6 620.4,287.6 620.9,287.6 621.5,287.6 622,287.5 622.5,287.5 623,287.5 623.5,287.5 624.1,287.5 624.6,287.5 625.1,287.5 625.6,287.5 626.1,287.5 626.7,287.5 627.2,287.5 627.7,287.5 628.2,287.5 628.7,287.5 629.3,287.5 629.8,287.5 630.3,287.5 630.8,287.5 631.3,287.5 631.9,287.4 632.4,287.4 632.9,287.4 633.4,287.4 633.9,287.4 634.5,287.4 635,287.4 635.5,287.4 636,287.4 636.5,287.4 637.1,287.4 637.6,287.3 638.1,287.3 638.6,287.3 639.1,287.3 639.7,287.3 640.2,287.3 640.7,287.3 641.2,287.3 641.7,287.3 642.3,287.2 642.8,287.2 643.3,287.2 643.8,287.2 644.3,287.2 644.9,287.2 645.4,287.1 645.9,287.1 646.4,287.1 646.9,287.1 647.5,287.1 648,287 648.5,287 649,287 649.5,287 650.1,286.9 650.6,286.9 651.1,286.9 651.6,286.9 652.1,286.8 652.7,286.8 653.2,286.8 653.7,286.7 654.2,286.7 654.7,286.6 655.3,286.6 655.8,286.5 656.3,286.5 656.8,286.4 657.3,286.4 657.9,286.3 658.4,286.3 658.9,286.2 659.4,286.1 659.9,286 660.5,285.9 661,285.8 661.5,285.7 662,285.6 662.5,285.4 663.1,285.3 663.6,285.1 664.1,284.9 664.6,284.7 665.1,284.5 665.7,284.3 666.2,284 666.7,283.7 667.2,283.3 667.7,283 668.3,282.6 668.8,282.1 669.3,281.6 669.8,281.1 670.3,280.6 670.9,280 671.4,279.3 671.9,278.6 672.4,277.9 672.9,277.2 673.5,276.3 674,275.5 674.5,274.6 675,273.8 675.5,272.9 676.1,271.9 676.6,271 677.1,270.2 677.6,269.3 678.1,268.5 678.7,267.8 679.2,267.1 679.7,266.6 680.2,266.2 680.7,265.9 681.3,265.8 681.8,265.8 682.3,266 682.8,266.3 683.3,266.7 683.9,267.3 684.4,268 684.9,268.7 685.4,269.6 685.9,270.4 686.5,271.3 687,272.2 687.5,273.1 688,274 688.5,274.9 689.1,275.8 689.6,276.6 690.1,277.4 690.6,278.1 691.1,278.8 691.7,279.5 692.2,280.2 692.7,280.7 693.2,281.3 693.7,281.8 694.3,282.3 694.8,282.7 695.3,283.1 695.8,283.4 696.3,283.8 696.9,284.1 697.4,284.3 697.9,284.6 698.4,284.8 698.9,285 699.5,285.2 700,285.3 700.5,285.5 701,285.6 701.5,285.7 702.1,285.9 702.6,286 703.1,286 703.6,286.1 704.1,286.2 704.7,286.3 705.2,286.3 705.7,286.4 706.2,286.5 706.7,286.5 707.3,286.6 707.8,286.6 708.3,286.7 708.8,286.7 709.3,286.7 709.9,286.8 710.4,286.8 710.9,286.8 711.4,286.9 711.9,286.9 712.5,286.9 713,287 713.5,287 714,287 714.5,287 715.1,287 715.6,287.1 716.1,287.1 716.6,287.1 717.1,287.1 717.7,287.1 718.2,287.2 718.7,287.2 719.2,287.2 719.7,287.2 720.3,287.2 720.8,287.2 721.3,287.3 721.8,287.3 722.3,287.3 722.9,287.3 723.4,287.3 723.9,287.3 724.4,287.3 724.9,287.3 725.5,287.4 726,287.4 726.5,287.4 727,287.4 727.5,287.4 728.1,287.4 728.6,287.4 729.1,287.4 729.6,287.4 730.1,287.4 730.7,287.4 731.2,287.4 731.7,287.5 732.2,287.5 732.7,287.5 733.3,287.5 733.8,287.5 734.3,287.5" fill="none" stroke="#80b658" stroke-width="1.4"/>
<path d="M422.8,287.8 423.3,287.8 423.8,287.8 424.4,287.8 424.9,287.8 425.4,287.8 425.9,287.8 426.4,287.8 427,287.8 427.5,287.8 428,287.8 428.5,287.8 429,287.8 429.6,287.8 430.1,287.7 430.6,287.7 431.1,287.7 431.6,287.7 432.2,287.7 432.7,287.7 433.2,287.7 433.7,287.7 434.2,287.7 434.8,287.7 435.3,287.7 435.8,287.7 436.3,287.7 436.8,287.7 437.4,287.7 437.9,287.7 438.4,287.7 438.9,287.7 439.4,287.7 440,287.7 440.5,287.7 441,287.7 441.5,287.7 442,287.7 442.6,287.7 443.1,287.7 443.6,287.7 444.1,287.7 444.6,287.7 445.2,287.7 445.7,287.7 446.2,287.7 446.7,287.7 447.2,287.7 447.8,287.7 448.3,287.7 448.8,287.7 449.3,287.7 449.8,287.7 450.4,287.7 450.9,287.7 451.4,287.7 451.9,287.7 452.4,287.7 453,287.7 453.5,287.7 454,287.7 454.5,287.7 455,287.7 455.6,287.7 456.1,287.7 456.6,287.7 457.1,287.7 457.6,287.7 458.2,287.7 458.7,287.7 459.2,287.7 459.7,287.7 460.2,287.7 460.8,287.7 461.3,287.7 461.8,287.7 462.3,287.7 462.8,287.7 463.4,287.7 463.9,287.7 464.4,287.7 464.9,287.7 465.4,287.7 466,287.7 466.5,287.7 467,287.7 467.5,287.7 468,287.7 468.6,287.7 469.1,287.7 469.6,287.7 470.1,287.7 470.6,287.7 471.2,287.7 471.7,287.7 472.2,287.7 472.7,287.7 473.2,287.7 473.8,287.7 474.3,287.7 474.8,287.7 475.3,287.7 475.8,287.7 476.4,287.7 476.9,287.7 477.4,287.7 477.9,287.7 478.4,287.7 479,287.7 479.5,287.7 480,287.7 480.5,287.7 481,287.7 481.6,287.6 482.1,287.6 482.6,287.6 483.1,287.6 483.6,287.6 484.2,287.6 484.7,287.6 485.2,287.6 485.7,287.6 486.2,287.6 486.8,287.6 487.3,287.6 487.8,287.6 488.3,287.6 488.8,287.6 489.4,287.6 489.9,287.6 490.4,287.6 490.9,287.6 491.4,287.6 492,287.6 492.5,287.6 493,287.6 493.5,287.6 494,287.6 494.6,287.6 495.1,287.6 495.6,287.6 496.1,287.6 496.6,287.6 497.2,287.6 497.7,287.5 498.2,287.5 498.7,287.5 499.2,287.5 499.8,287.5 500.3,287.5 500.8,287.5 501.3,287.5 501.8,287.5 502.4,287.5 502.9,287.5 503.4,287.5 503.9,287.5 504.4,287.5 505,287.5 505.5,287.5 506,287.4 506.5,287.4 507,287.4 507.6,287.4 508.1,287.4 508.6,287.4 509.1,287.4 509.6,287.4 510.2,287.4 510.7,287.4 511.2,287.4 511.7,287.3 512.2,287.3 512.8,287.3 513.3,287.3 513.8,287.3 514.3,287.3 514.8,287.3 515.4,287.2 515.9,287.2 516.4,287.2 516.9,287.2 517.4,287.2 518,287.2 518.5,287.1 519,287.1 519.5,287.1 520,287.1 520.6,287.1 521.1,287 521.6,287 522.1,287 522.6,287 523.2,286.9 523.7,286.9 524.2,286.9 524.7,286.8 525.2,286.8 525.8,286.7 526.3,286.7 526.8,286.7 527.3,286.6 527.8,286.6 528.4,286.5 528.9,286.4 529.4,286.4 529.9,286.3 530.4,286.2 531,286.2 531.5,286.1 532,286 532.5,285.9 533,285.7 533.6,285.6 534.1,285.4 534.6,285.3 535.1,285.1 535.6,284.9 536.2,284.6 536.7,284.4 537.2,284.1 537.7,283.7 538.2,283.4 538.8,283 539.3,282.5 539.8,282.1 540.3,281.5 540.8,280.9 541.4,280.3 541.9,279.6 542.4,278.9 542.9,278.1 543.4,277.3 544,276.5 544.5,275.6 545,274.6 545.5,273.7 546,272.7 546.6,271.7 547.1,270.8 547.6,269.9 548.1,269 548.6,268.2 549.2,267.5 549.7,267 550.2,266.6 550.7,266.3 551.2,266.3 551.8,266.4 552.3,266.7 552.8,267.1 553.3,267.7 553.8,268.4 554.4,269.2 554.9,270.1 555.4,271 555.9,272 556.4,273 557,273.9 557.5,274.9 558,275.8 558.5,276.7 559,277.6 559.6,278.4 560.1,279.1 560.6,279.8 561.1,280.5 561.6,281.1 562.2,281.7 562.7,282.2 563.2,282.7 563.7,283.1 564.2,283.5 564.8,283.8 565.3,284.2 565.8,284.4 566.3,284.7 566.8,284.9 567.4,285.1 567.9,285.3 568.4,285.5 568.9,285.6 569.4,285.8 570,285.9 570.5,286 571,286.1 571.5,286.2 572,286.3 572.6,286.3 573.1,286.4 573.6,286.5 574.1,286.5 574.6,286.6 575.2,286.6 575.7,286.7 576.2,286.7 576.7,286.8 577.2,286.8 577.8,286.8 578.3,286.9 578.8,286.9 579.3,286.9 579.9,287 580.4,287 580.9,287 581.4,287 581.9,287.1 582.5,287.1 583,287.1 583.5,287.1 584,287.2 584.5,287.2 585.1,287.2 585.6,287.2 586.1,287.2 586.6,287.2 587.1,287.3 587.7,287.3 588.2,287.3 588.7,287.3 589.2,287.3 589.7,287.3 590.3,287.3 590.8,287.3 591.3,287.4 591.8,287.4 592.3,287.4 592.9,287.4 593.4,287.4 593.9,287.4 594.4,287.4 594.9,287.4 595.5,287.4 596,287.4 596.5,287.5 597,287.5 597.5,287.5 598.1,287.5 598.6,287.5 599.1,287.5 599.6,287.5 600.1,287.5 600.7,287.5 601.2,287.5 601.7,287.5 602.2,287.5 602.7,287.5 603.3,287.5 603.8,287.5 604.3,287.5 604.8,287.5 605.3,287.6 605.9,287.6 606.4,287.6 606.9,287.6 607.4,287.6 607.9,287.6 608.5,287.6 609,287.6 609.5,287.6 610,287.6 610.5,287.6 611.1,287.6 611.6,287.6 612.1,287.6 612.6,287.6 613.1,287.6 613.7,287.6 614.2,287.6 614.7,287.6 615.2,287.6 615.7,287.6 616.3,287.6 616.8,287.6 617.3,287.6 617.8,287.6 618.3,287.6 618.9,287.6 619.4,287.6 619.9,287.6 620.4,287.6 620.9,287.7 621.5,287.7 622,287.7 622.5,287.7 623,287.7 623.5,287.7 624.1,287.7 624.6,287.7 625.1,287.7 625.6,287.7 626.1,287.7 626.7,287.7 627.2,287.7 627.7,287.7 628.2,287.7 628.7,287.7 629.3,287.7 629.8,287.7 630.3,287.7 630.8,287.7 631.3,287.7 631.9,287.7 632.4,287.7 632.9,287.7 633.4,287.7 633.9,287.7 634.5,287.7 635,287.7 635.5,287.7 636,287.7 636.5,287.7 637.1,287.7 637.6,287.7 638.1,287.7 638.6,287.7 639.1,287.7 639.7,287.7 640.2,287.7 640.7,287.7 641.2,287.7 641.7,287.7 642.3,287.7 642.8,287.7 643.3,287.7 643.8,287.7 644.3,287.7 644.9,287.7 645.4,287.7 645.9,287.7 646.4,287.7 646.9,287.7 647.5,287.7 648,287.7 648.5,287.7 649,287.7 649.5,287.7 650.1,287.7 650.6,287.7 651.1,287.7 651.6,287.7 652.1,287.7 652.7,287.7 653.2,287.7 653.7,287.7 654.2,287.7 654.7,287.7 655.3,287.7 655.8,287.7 656.3,287.7 656.8,287.7 657.3,287.7 657.9,287.7 658.4,287.7 658.9,287.7 659.4,287.7 659.9,287.7 660.5,287.7 661,287.7 661.5,287.7 662,287.7 662.5,287.7 663.1,287.7 663.6,287.7 664.1,287.7 664.6,287.7 665.1,287.7 665.7,287.7 666.2,287.7 666.7,287.7 667.2,287.7 667.7,287.7 668.3,287.7 668.8,287.7 669.3,287.7 669.8,287.7 670.3,287.7 670.9,287.7 671.4,287.7 671.9,287.7 672.4,287.8 672.9,287.8 673.5,287.8 674,287.8 674.5,287.8 675,287.8 675.5,287.8 676.1,287.8 676.6,287.8 677.1,287.8 677.6,287.8 678.1,287.8 678.7,287.8 679.2,287.8 679.7,287.8 680.2,287.8 680.7,287.8 681.3,287.8 681.8,287.8 682.3,287.8 682.8,287.8 683.3,287.8 683.9,287.8 684.4,287.8 684.9,287.8 685.4,287.8 685.9,287.8 686.5,287.8 687,287.8 687.5,287.8 688,287.8 688.5,287.8 689.1,287.8 689.6,287.8 690.1,287.8 690.6,287.8 691.1,287.8 691.7,287.8 692.2,287.8 692.7,287.8 693.2,287.8 693.7,287.8 694.3,287.8 694.8,287.8 695.3,287.8 695.8,287.8 696.3,287.8 696.9,287.8 697.4,287.8 697.9,287.8 698.4,287.8 698.9,287.8 699.5,287.8 700,287.8 700.5,287.8 701,287.8 701.5,287.8 702.1,287.8 702.6,287.8 703.1,287.8 703.6,287.8 704.1,287.8 704.7,287.8 705.2,287.8 705.7,287.8 706.2,287.8 706.7,287.8 707.3,287.8 707.8,287.8 708.3,287.8 708.8,287.8 709.3,287.8 709.9,287.8 710.4,287.8 710.9,287.8 711.4,287.8 711.9,287.8 712.5,287.8 713,287.8 713.5,287.8 714,287.8 714.5,287.8 715.1,287.8 715.6,287.8 716.1,287.8 716.6,287.8 717.1,287.8 717.7,287.8 718.2,287.8 718.7,287.8 719.2,287.8 719.7,287.8 720.3,287.8 720.8,287.8 721.3,287.8 721.8,287.8 722.3,287.8 722.9,287.8 723.4,287.8 723.9,287.8 724.4,287.8 724.9,287.8 725.5,287.8 726,287.8 726.5,287.8 727,287.8 727.5,287.8 728.1,287.8 728.6,287.8 729.1,287.8 729.6,287.8 730.1,287.8 730.7,287.8 731.2,287.8 731.7,287.8 732.2,287.8 732.7,287.8 733.3,287.8 733.8,287.8 734.3,287.8" fill="none" stroke="#4a98c8" stroke-width="1.25" stroke-dasharray="8.3 3.4"/>
<path d="M422.8,287.7 423.3,287.7 423.8,287.7 424.4,287.7 424.9,287.7 425.4,287.7 425.9,287.6 426.4,287.6 427,287.6 427.5,287.6 428,287.6 428.5,287.6 429,287.6 429.6,287.6 430.1,287.6 430.6,287.6 431.1,287.6 431.6,287.6 432.2,287.6 432.7,287.6 433.2,287.6 433.7,287.6 434.2,287.6 434.8,287.6 435.3,287.6 435.8,287.6 436.3,287.6 436.8,287.6 437.4,287.6 437.9,287.6 438.4,287.6 438.9,287.6 439.4,287.6 440,287.6 440.5,287.6 441,287.6 441.5,287.6 442,287.6 442.6,287.6 443.1,287.6 443.6,287.6 444.1,287.6 444.6,287.6 445.2,287.5 445.7,287.5 446.2,287.5 446.7,287.5 447.2,287.5 447.8,287.5 448.3,287.5 448.8,287.5 449.3,287.5 449.8,287.5 450.4,287.5 450.9,287.5 451.4,287.5 451.9,287.5 452.4,287.5 453,287.5 453.5,287.5 454,287.5 454.5,287.5 455,287.5 455.6,287.4 456.1,287.4 456.6,287.4 457.1,287.4 457.6,287.4 458.2,287.4 458.7,287.4 459.2,287.4 459.7,287.4 460.2,287.4 460.8,287.4 461.3,287.4 461.8,287.4 462.3,287.3 462.8,287.3 463.4,287.3 463.9,287.3 464.4,287.3 464.9,287.3 465.4,287.3 466,287.3 466.5,287.3 467,287.3 467.5,287.2 468,287.2 468.6,287.2 469.1,287.2 469.6,287.2 470.1,287.2 470.6,287.2 471.2,287.1 471.7,287.1 472.2,287.1 472.7,287.1 473.2,287.1 473.8,287.1 474.3,287 474.8,287 475.3,287 475.8,287 476.4,286.9 476.9,286.9 477.4,286.9 477.9,286.9 478.4,286.8 479,286.8 479.5,286.8 480,286.7 480.5,286.7 481,286.7 481.6,286.6 482.1,286.6 482.6,286.6 483.1,286.5 483.6,286.5 484.2,286.4 484.7,286.4 485.2,286.3 485.7,286.3 486.2,286.2 486.8,286.1 487.3,286.1 487.8,286 488.3,285.9 488.8,285.8 489.4,285.7 489.9,285.7 490.4,285.5 490.9,285.4 491.4,285.3 492,285.2 492.5,285 493,284.9 493.5,284.7 494,284.5 494.6,284.3 495.1,284 495.6,283.8 496.1,283.5 496.6,283.2 497.2,282.9 497.7,282.5 498.2,282.1 498.7,281.7 499.2,281.2 499.8,280.7 500.3,280.2 500.8,279.6 501.3,279 501.8,278.3 502.4,277.6 502.9,276.9 503.4,276.1 503.9,275.3 504.4,274.5 505,273.7 505.5,272.8 506,271.9 506.5,271 507,270.1 507.6,269.3 508.1,268.5 508.6,267.8 509.1,267.1 509.6,266.5 510.2,266.1 510.7,265.8 511.2,265.6 511.7,265.6 512.2,265.7 512.8,266 513.3,266.4 513.8,267 514.3,267.6 514.8,268.3 515.4,269.1 515.9,269.9 516.4,270.8 516.9,271.7 517.4,272.6 518,273.4 518.5,274.3 519,275.1 519.5,275.9 520,276.7 520.6,277.5 521.1,278.2 521.6,278.8 522.1,279.4 522.6,280 523.2,280.6 523.7,281.1 524.2,281.6 524.7,282 525.2,282.4 525.8,282.8 526.3,283.1 526.8,283.4 527.3,283.7 527.8,284 528.4,284.2 528.9,284.4 529.4,284.6 529.9,284.8 530.4,285 531,285.1 531.5,285.3 532,285.4 532.5,285.5 533,285.6 533.6,285.7 534.1,285.8 534.6,285.9 535.1,286 535.6,286.1 536.2,286.1 536.7,286.2 537.2,286.3 537.7,286.3 538.2,286.4 538.8,286.4 539.3,286.5 539.8,286.5 540.3,286.6 540.8,286.6 541.4,286.6 541.9,286.7 542.4,286.7 542.9,286.7 543.4,286.8 544,286.8 544.5,286.8 545,286.9 545.5,286.9 546,286.9 546.6,286.9 547.1,287 547.6,287 548.1,287 548.6,287 549.2,287 549.7,287.1 550.2,287.1 550.7,287.1 551.2,287.1 551.8,287.1 552.3,287.2 552.8,287.2 553.3,287.2 553.8,287.2 554.4,287.2 554.9,287.2 555.4,287.2 555.9,287.3 556.4,287.3 557,287.3 557.5,287.3 558,287.3 558.5,287.3 559,287.3 559.6,287.3 560.1,287.3 560.6,287.3 561.1,287.4 561.6,287.4 562.2,287.4 562.7,287.4 563.2,287.4 563.7,287.4 564.2,287.4 564.8,287.4 565.3,287.4 565.8,287.4 566.3,287.4 566.8,287.4 567.4,287.4 567.9,287.5 568.4,287.5 568.9,287.5 569.4,287.5 570,287.5 570.5,287.5 571,287.5 571.5,287.5 572,287.5 572.6,287.5 573.1,287.5 573.6,287.5 574.1,287.5 574.6,287.5 575.2,287.5 575.7,287.5 576.2,287.5 576.7,287.5 577.2,287.5 577.8,287.5 578.3,287.6 578.8,287.6 579.3,287.6 579.9,287.6 580.4,287.6 580.9,287.6 581.4,287.6 581.9,287.6 582.5,287.6 583,287.6 583.5,287.6 584,287.6 584.5,287.6 585.1,287.6 585.6,287.6 586.1,287.6 586.6,287.6 587.1,287.6 587.7,287.6 588.2,287.6 588.7,287.6 589.2,287.6 589.7,287.6 590.3,287.6 590.8,287.6 591.3,287.6 591.8,287.6 592.3,287.6 592.9,287.6 593.4,287.6 593.9,287.6 594.4,287.6 594.9,287.6 595.5,287.6 596,287.6 596.5,287.6 597,287.6 597.5,287.6 598.1,287.7 598.6,287.7 599.1,287.7 599.6,287.7 600.1,287.7 600.7,287.7 601.2,287.7 601.7,287.7 602.2,287.7 602.7,287.7 603.3,287.7 603.8,287.7 604.3,287.7 604.8,287.7 605.3,287.7 605.9,287.7 606.4,287.7 606.9,287.7 607.4,287.7 607.9,287.7 608.5,287.7 609,287.7 609.5,287.7 610,287.7 610.5,287.7 611.1,287.7 611.6,287.7 612.1,287.7 612.6,287.7 613.1,287.7 613.7,287.7 614.2,287.7 614.7,287.7 615.2,287.7 615.7,287.7 616.3,287.7 616.8,287.7 617.3,287.7 617.8,287.7 618.3,287.7 618.9,287.7 619.4,287.7 619.9,287.7 620.4,287.7 620.9,287.7 621.5,287.7 622,287.7 622.5,287.7 623,287.7 623.5,287.7 624.1,287.7 624.6,287.7 625.1,287.7 625.6,287.7 626.1,287.7 626.7,287.7 627.2,287.7 627.7,287.7 628.2,287.7 628.7,287.7 629.3,287.7 629.8,287.7 630.3,287.7 630.8,287.7 631.3,287.7 631.9,287.7 632.4,287.7 632.9,287.7 633.4,287.7 633.9,287.7 634.5,287.7 635,287.7 635.5,287.7 636,287.7 636.5,287.7 637.1,287.7 637.6,287.7 638.1,287.7 638.6,287.7 639.1,287.7 639.7,287.7 640.2,287.7 640.7,287.7 641.2,287.7 641.7,287.7 642.3,287.7 642.8,287.7 643.3,287.7 643.8,287.7 644.3,287.7 644.9,287.7 645.4,287.7 645.9,287.7 646.4,287.7 646.9,287.7 647.5,287.7 648,287.7 648.5,287.7 649,287.7 649.5,287.7 650.1,287.7 650.6,287.7 651.1,287.7 651.6,287.7 652.1,287.7 652.7,287.7 653.2,287.7 653.7,287.7 654.2,287.7 654.7,287.7 655.3,287.7 655.8,287.7 656.3,287.7 656.8,287.7 657.3,287.7 657.9,287.7 658.4,287.7 658.9,287.7 659.4,287.7 659.9,287.7 660.5,287.7 661,287.7 661.5,287.8 662,287.8 662.5,287.8 663.1,287.8 663.6,287.8 664.1,287.8 664.6,287.8 665.1,287.8 665.7,287.8 666.2,287.8 666.7,287.8 667.2,287.8 667.7,287.8 668.3,287.8 668.8,287.8 669.3,287.8 669.8,287.8 670.3,287.8 670.9,287.8 671.4,287.8 671.9,287.8 672.4,287.8 672.9,287.8 673.5,287.8 674,287.8 674.5,287.8 675,287.8 675.5,287.8 676.1,287.8 676.6,287.8 677.1,287.8 677.6,287.8 678.1,287.8 678.7,287.8 679.2,287.8 679.7,287.8 680.2,287.8 680.7,287.8 681.3,287.8 681.8,287.8 682.3,287.8 682.8,287.8 683.3,287.8 683.9,287.8 684.4,287.8 684.9,287.8 685.4,287.8 685.9,287.8 686.5,287.8 687,287.8 687.5,287.8 688,287.8 688.5,287.8 689.1,287.8 689.6,287.8 690.1,287.8 690.6,287.8 691.1,287.8 691.7,287.8 692.2,287.8 692.7,287.8 693.2,287.8 693.7,287.8 694.3,287.8 694.8,287.8 695.3,287.8 695.8,287.8 696.3,287.8 696.9,287.8 697.4,287.8 697.9,287.8 698.4,287.8 698.9,287.8 699.5,287.8 700,287.8 700.5,287.8 701,287.8 701.5,287.8 702.1,287.8 702.6,287.8 703.1,287.8 703.6,287.8 704.1,287.8 704.7,287.8 705.2,287.8 705.7,287.8 706.2,287.8 706.7,287.8 707.3,287.8 707.8,287.8 708.3,287.8 708.8,287.8 709.3,287.8 709.9,287.8 710.4,287.8 710.9,287.8 711.4,287.8 711.9,287.8 712.5,287.8 713,287.8 713.5,287.8 714,287.8 714.5,287.8 715.1,287.8 715.6,287.8 716.1,287.8 716.6,287.8 717.1,287.8 717.7,287.8 718.2,287.8 718.7,287.8 719.2,287.8 719.7,287.8 720.3,287.8 720.8,287.8 721.3,287.8 721.8,287.8 722.3,287.8 722.9,287.8 723.4,287.8 723.9,287.8 724.4,287.8 724.9,287.8 725.5,287.8 726,287.8 726.5,287.8 727,287.8 727.5,287.8 728.1,287.8 728.6,287.8 729.1,287.8 729.6,287.8 730.1,287.8 730.7,287.8 731.2,287.8 731.7,287.8 732.2,287.8 732.7,287.8 733.3,287.8 733.8,287.8 734.3,287.8" fill="none" stroke="#1e1e1e" stroke-width="1.3" stroke-dasharray="1.3 1.95"/>
<path d="M422.8,287.6 423.3,287.6 423.8,287.6 424.4,287.6 424.9,287.6 425.4,287.6 425.9,287.5 426.4,287.5 427,287.5 427.5,287.5 428,287.5 428.5,287.5 429,287.5 429.6,287.5 430.1,287.5 430.6,287.5 431.1,287.5 431.6,287.5 432.2,287.5 432.7,287.5 433.2,287.5 433.7,287.5 434.2,287.5 434.8,287.5 435.3,287.5 435.8,287.5 436.3,287.5 436.8,287.5 437.4,287.4 437.9,287.4 438.4,287.4 438.9,287.4 439.4,287.4 440,287.4 440.5,287.4 441,287.4 441.5,287.4 442,287.4 442.6,287.4 443.1,287.4 443.6,287.4 444.1,287.4 444.6,287.3 445.2,287.3 445.7,287.3 446.2,287.3 446.7,287.3 447.2,287.3 447.8,287.3 448.3,287.3 448.8,287.3 449.3,287.2 449.8,287.2 450.4,287.2 450.9,287.2 451.4,287.2 451.9,287.2 452.4,287.2 453,287.2 453.5,287.1 454,287.1 454.5,287.1 455,287.1 455.6,287.1 456.1,287.1 456.6,287 457.1,287 457.6,287 458.2,287 458.7,287 459.2,286.9 459.7,286.9 460.2,286.9 460.8,286.9 461.3,286.8 461.8,286.8 462.3,286.8 462.8,286.8 463.4,286.7 463.9,286.7 464.4,286.7 464.9,286.6 465.4,286.6 466,286.5 466.5,286.5 467,286.4 467.5,286.4 468,286.3 468.6,286.3 469.1,286.2 469.6,286.1 470.1,286.1 470.6,286 471.2,285.9 471.7,285.8 472.2,285.7 472.7,285.6 473.2,285.5 473.8,285.3 474.3,285.2 474.8,285 475.3,284.8 475.8,284.7 476.4,284.4 476.9,284.2 477.4,284 477.9,283.7 478.4,283.4 479,283 479.5,282.7 480,282.3 480.5,281.9 481,281.4 481.6,280.9 482.1,280.4 482.6,279.9 483.1,279.3 483.6,278.7 484.2,278 484.7,277.3 485.2,276.6 485.7,275.8 486.2,275 486.8,274.2 487.3,273.4 487.8,272.5 488.3,271.6 488.8,270.8 489.4,269.9 489.9,269 490.4,268.1 490.9,267.2 491.4,266.4 492,265.6 492.5,264.9 493,264.2 493.5,263.6 494,263.1 494.6,262.6 495.1,262.3 495.6,262.1 496.1,262 496.6,262.1 497.2,262.2 497.7,262.5 498.2,262.9 498.7,263.3 499.2,263.9 499.8,264.6 500.3,265.3 500.8,266 501.3,266.9 501.8,267.7 502.4,268.6 502.9,269.5 503.4,270.4 503.9,271.3 504.4,272.1 505,273 505.5,273.9 506,274.7 506.5,275.5 507,276.3 507.6,277 508.1,277.7 508.6,278.4 509.1,279 509.6,279.6 510.2,280.2 510.7,280.7 511.2,281.2 511.7,281.7 512.2,282.1 512.8,282.5 513.3,282.9 513.8,283.2 514.3,283.5 514.8,283.8 515.4,284.1 515.9,284.3 516.4,284.6 516.9,284.8 517.4,285 518,285.1 518.5,285.3 519,285.4 519.5,285.5 520,285.7 520.6,285.8 521.1,285.9 521.6,286 522.1,286 522.6,286.1 523.2,286.2 523.7,286.3 524.2,286.3 524.7,286.4 525.2,286.4 525.8,286.5 526.3,286.5 526.8,286.6 527.3,286.6 527.8,286.6 528.4,286.7 528.9,286.7 529.4,286.7 529.9,286.8 530.4,286.8 531,286.8 531.5,286.9 532,286.9 532.5,286.9 533,286.9 533.6,287 534.1,287 534.6,287 535.1,287 535.6,287 536.2,287.1 536.7,287.1 537.2,287.1 537.7,287.1 538.2,287.1 538.8,287.1 539.3,287.2 539.8,287.2 540.3,287.2 540.8,287.2 541.4,287.2 541.9,287.2 542.4,287.2 542.9,287.2 543.4,287.3 544,287.3 544.5,287.3 545,287.3 545.5,287.3 546,287.3 546.6,287.3 547.1,287.3 547.6,287.3 548.1,287.3 548.6,287.4 549.2,287.4 549.7,287.4 550.2,287.4 550.7,287.4 551.2,287.4 551.8,287.4 552.3,287.4 552.8,287.4 553.3,287.4 553.8,287.4 554.4,287.4 554.9,287.4 555.4,287.4 555.9,287.5 556.4,287.5 557,287.5 557.5,287.5 558,287.5 558.5,287.5 559,287.5 559.6,287.5 560.1,287.5 560.6,287.5 561.1,287.5 561.6,287.5 562.2,287.5 562.7,287.5 563.2,287.5 563.7,287.5 564.2,287.5 564.8,287.5 565.3,287.5 565.8,287.5 566.3,287.5 566.8,287.6 567.4,287.6 567.9,287.6 568.4,287.6 568.9,287.6 569.4,287.6 570,287.6 570.5,287.6 571,287.6 571.5,287.6 572,287.6 572.6,287.6 573.1,287.6 573.6,287.6 574.1,287.6 574.6,287.6 575.2,287.6 575.7,287.6 576.2,287.6 576.7,287.6 577.2,287.6 577.8,287.6 578.3,287.6 578.8,287.6 579.3,287.6 579.9,287.6 580.4,287.6 580.9,287.6 581.4,287.6 581.9,287.6 582.5,287.6 583,287.6 583.5,287.6 584,287.6 584.5,287.6 585.1,287.6 585.6,287.6 586.1,287.6 586.6,287.6 587.1,287.6 587.7,287.7 588.2,287.7 588.7,287.7 589.2,287.7 589.7,287.7 590.3,287.7 590.8,287.7 591.3,287.7 591.8,287.7 592.3,287.7 592.9,287.7 593.4,287.7 593.9,287.7 594.4,287.7 594.9,287.7 595.5,287.7 596,287.7 596.5,287.7 597,287.7 597.5,287.7 598.1,287.7 598.6,287.7 599.1,287.7 599.6,287.7 600.1,287.7 600.7,287.7 601.2,287.7 601.7,287.7 602.2,287.7 602.7,287.7 603.3,287.7 603.8,287.7 604.3,287.7 604.8,287.7 605.3,287.7 605.9,287.7 606.4,287.7 606.9,287.7 607.4,287.7 607.9,287.7 608.5,287.7 609,287.7 609.5,287.7 610,287.7 610.5,287.7 611.1,287.7 611.6,287.7 612.1,287.7 612.6,287.7 613.1,287.7 613.7,287.7 614.2,287.7 614.7,287.7 615.2,287.7 615.7,287.7 616.3,287.7 616.8,287.7 617.3,287.7 617.8,287.7 618.3,287.7 618.9,287.7 619.4,287.7 619.9,287.7 620.4,287.7 620.9,287.7 621.5,287.7 622,287.7 622.5,287.7 623,287.7 623.5,287.7 624.1,287.7 624.6,287.7 625.1,287.7 625.6,287.7 626.1,287.7 626.7,287.7 627.2,287.7 627.7,287.7 628.2,287.7 628.7,287.7 629.3,287.7 629.8,287.7 630.3,287.7 630.8,287.7 631.3,287.7 631.9,287.7 632.4,287.7 632.9,287.7 633.4,287.7 633.9,287.7 634.5,287.7 635,287.7 635.5,287.7 636,287.7 636.5,287.7 637.1,287.7 637.6,287.7 638.1,287.7 638.6,287.7 639.1,287.7 639.7,287.7 640.2,287.7 640.7,287.7 641.2,287.7 641.7,287.7 642.3,287.7 642.8,287.7 643.3,287.7 643.8,287.7 644.3,287.7 644.9,287.7 645.4,287.7 645.9,287.7 646.4,287.7 646.9,287.7 647.5,287.7 648,287.7 648.5,287.7 649,287.7 649.5,287.7 650.1,287.7 650.6,287.7 651.1,287.7 651.6,287.7 652.1,287.7 652.7,287.7 653.2,287.7 653.7,287.7 654.2,287.7 654.7,287.7 655.3,287.8 655.8,287.8 656.3,287.8 656.8,287.8 657.3,287.8 657.9,287.8 658.4,287.8 658.9,287.8 659.4,287.8 659.9,287.8 660.5,287.8 661,287.8 661.5,287.8 662,287.8 662.5,287.8 663.1,287.8 663.6,287.8 664.1,287.8 664.6,287.8 665.1,287.8 665.7,287.8 666.2,287.8 666.7,287.8 667.2,287.8 667.7,287.8 668.3,287.8 668.8,287.8 669.3,287.8 669.8,287.8 670.3,287.8 670.9,287.8 671.4,287.8 671.9,287.8 672.4,287.8 672.9,287.8 673.5,287.8 674,287.8 674.5,287.8 675,287.8 675.5,287.8 676.1,287.8 676.6,287.8 677.1,287.8 677.6,287.8 678.1,287.8 678.7,287.8 679.2,287.8 679.7,287.8 680.2,287.8 680.7,287.8 681.3,287.8 681.8,287.8 682.3,287.8 682.8,287.8 683.3,287.8 683.9,287.8 684.4,287.8 684.9,287.8 685.4,287.8 685.9,287.8 686.5,287.8 687,287.8 687.5,287.8 688,287.8 688.5,287.8 689.1,287.8 689.6,287.8 690.1,287.8 690.6,287.8 691.1,287.8 691.7,287.8 692.2,287.8 692.7,287.8 693.2,287.8 693.7,287.8 694.3,287.8 694.8,287.8 695.3,287.8 695.8,287.8 696.3,287.8 696.9,287.8 697.4,287.8 697.9,287.8 698.4,287.8 698.9,287.8 699.5,287.8 700,287.8 700.5,287.8 701,287.8 701.5,287.8 702.1,287.8 702.6,287.8 703.1,287.8 703.6,287.8 704.1,287.8 704.7,287.8 705.2,287.8 705.7,287.8 706.2,287.8 706.7,287.8 707.3,287.8 707.8,287.8 708.3,287.8 708.8,287.8 709.3,287.8 709.9,287.8 710.4,287.8 710.9,287.8 711.4,287.8 711.9,287.8 712.5,287.8 713,287.8 713.5,287.8 714,287.8 714.5,287.8 715.1,287.8 715.6,287.8 716.1,287.8 716.6,287.8 717.1,287.8 717.7,287.8 718.2,287.8 718.7,287.8 719.2,287.8 719.7,287.8 720.3,287.8 720.8,287.8 721.3,287.8 721.8,287.8 722.3,287.8 722.9,287.8 723.4,287.8 723.9,287.8 724.4,287.8 724.9,287.8 725.5,287.8 726,287.8 726.5,287.8 727,287.8 727.5,287.8 728.1,287.8 728.6,287.8 729.1,287.8 729.6,287.8 730.1,287.8 730.7,287.8 731.2,287.8 731.7,287.8 732.2,287.8 732.7,287.8 733.3,287.8 733.8,287.8 734.3,287.8" fill="none" stroke="#80395a" stroke-width="1.25" stroke-dasharray="8.5 3"/>
<path d="M422.8,287.8 423.3,287.8 423.8,287.8 424.4,287.8 424.9,287.8 425.4,287.8 425.9,287.8 426.4,287.8 427,287.8 427.5,287.8 428,287.8 428.5,287.8 429,287.8 429.6,287.8 430.1,287.8 430.6,287.8 431.1,287.8 431.6,287.8 432.2,287.8 432.7,287.8 433.2,287.8 433.7,287.8 434.2,287.8 434.8,287.8 435.3,287.8 435.8,287.8 436.3,287.8 436.8,287.8 437.4,287.8 437.9,287.8 438.4,287.8 438.9,287.8 439.4,287.8 440,287.8 440.5,287.8 441,287.8 441.5,287.8 442,287.8 442.6,287.8 443.1,287.8 443.6,287.8 444.1,287.8 444.6,287.8 445.2,287.8 445.7,287.8 446.2,287.8 446.7,287.8 447.2,287.8 447.8,287.8 448.3,287.8 448.8,287.8 449.3,287.8 449.8,287.8 450.4,287.8 450.9,287.8 451.4,287.8 451.9,287.8 452.4,287.8 453,287.8 453.5,287.8 454,287.8 454.5,287.8 455,287.8 455.6,287.8 456.1,287.8 456.6,287.8 457.1,287.8 457.6,287.8 458.2,287.8 458.7,287.8 459.2,287.8 459.7,287.8 460.2,287.8 460.8,287.8 461.3,287.8 461.8,287.8 462.3,287.8 462.8,287.8 463.4,287.8 463.9,287.8 464.4,287.8 464.9,287.8 465.4,287.8 466,287.8 466.5,287.8 467,287.8 467.5,287.8 468,287.8 468.6,287.8 469.1,287.8 469.6,287.8 470.1,287.8 470.6,287.8 471.2,287.8 471.7,287.8 472.2,287.8 472.7,287.8 473.2,287.8 473.8,287.8 474.3,287.8 474.8,287.8 475.3,287.8 475.8,287.8 476.4,287.8 476.9,287.8 477.4,287.8 477.9,287.8 478.4,287.8 479,287.8 479.5,287.8 480,287.8 480.5,287.8 481,287.8 481.6,287.8 482.1,287.8 482.6,287.8 483.1,287.8 483.6,287.8 484.2,287.8 484.7,287.8 485.2,287.8 485.7,287.8 486.2,287.8 486.8,287.8 487.3,287.8 487.8,287.8 488.3,287.8 488.8,287.8 489.4,287.8 489.9,287.8 490.4,287.8 490.9,287.8 491.4,287.8 492,287.8 492.5,287.8 493,287.8 493.5,287.8 494,287.8 494.6,287.8 495.1,287.8 495.6,287.8 496.1,287.8 496.6,287.8 497.2,287.8 497.7,287.8 498.2,287.8 498.7,287.8 499.2,287.8 499.8,287.8 500.3,287.8 500.8,287.8 501.3,287.8 501.8,287.8 502.4,287.8 502.9,287.8 503.4,287.8 503.9,287.8 504.4,287.8 505,287.8 505.5,287.8 506,287.8 506.5,287.8 507,287.8 507.6,287.8 508.1,287.8 508.6,287.8 509.1,287.8 509.6,287.8 510.2,287.8 510.7,287.8 511.2,287.8 511.7,287.8 512.2,287.8 512.8,287.8 513.3,287.8 513.8,287.8 514.3,287.8 514.8,287.8 515.4,287.8 515.9,287.8 516.4,287.8 516.9,287.8 517.4,287.8 518,287.8 518.5,287.8 519,287.8 519.5,287.8 520,287.8 520.6,287.8 521.1,287.8 521.6,287.8 522.1,287.8 522.6,287.8 523.2,287.8 523.7,287.8 524.2,287.8 524.7,287.8 525.2,287.8 525.8,287.8 526.3,287.8 526.8,287.8 527.3,287.8 527.8,287.8 528.4,287.8 528.9,287.8 529.4,287.8 529.9,287.8 530.4,287.8 531,287.8 531.5,287.8 532,287.8 532.5,287.8 533,287.8 533.6,287.8 534.1,287.8 534.6,287.8 535.1,287.8 535.6,287.8 536.2,287.8 536.7,287.8 537.2,287.8 537.7,287.8 538.2,287.7 538.8,287.7 539.3,287.7 539.8,287.7 540.3,287.7 540.8,287.6 541.4,287.6 541.9,287.5 542.4,287.4 542.9,287.3 543.4,287.2 544,287.1 544.5,286.9 545,286.8 545.5,286.5 546,286.3 546.6,285.9 547.1,285.6 547.6,285.1 548.1,284.6 548.6,284 549.2,283.4 549.7,282.6 550.2,281.7 550.7,280.7 551.2,279.6 551.8,278.3 552.3,276.8 552.8,275.2 553.3,273.5 553.8,271.5 554.4,269.4 554.9,267 555.4,264.5 555.9,261.8 556.4,258.8 557,255.7 557.5,252.4 558,248.9 558.5,245.2 559,241.4 559.6,237.5 560.1,233.4 560.6,229.3 561.1,225.1 561.6,220.9 562.2,216.7 562.7,212.6 563.2,208.6 563.7,204.7 564.2,201 564.8,197.5 565.3,194.2 565.8,191.3 566.3,188.6 566.8,186.4 567.4,184.5 567.9,183 568.4,181.9 568.9,181.3 569.4,181.1 570,181.4 570.5,182.1 571,183.3 571.5,184.8 572,186.8 572.6,189.2 573.1,191.9 573.6,194.9 574.1,198.2 574.6,201.7 575.2,205.5 575.7,209.4 576.2,213.5 576.7,217.6 577.2,221.8 577.8,226 578.3,230.2 578.8,234.3 579.3,238.3 579.9,242.2 580.4,246 580.9,249.6 581.4,253.1 581.9,256.4 582.5,259.5 583,262.4 583.5,265.1 584,267.6 584.5,269.9 585.1,272 585.6,273.9 586.1,275.6 586.6,277.2 587.1,278.6 587.7,279.8 588.2,280.9 588.7,281.9 589.2,282.8 589.7,283.5 590.3,284.2 590.8,284.8 591.3,285.2 591.8,285.7 592.3,286 592.9,286.3 593.4,286.6 593.9,286.8 594.4,287 594.9,287.1 595.5,287.3 596,287.4 596.5,287.4 597,287.5 597.5,287.6 598.1,287.6 598.6,287.7 599.1,287.7 599.6,287.7 600.1,287.7 600.7,287.7 601.2,287.8 601.7,287.8 602.2,287.8 602.7,287.8 603.3,287.8 603.8,287.8 604.3,287.8 604.8,287.8 605.3,287.8 605.9,287.8 606.4,287.8 606.9,287.8 607.4,287.8 607.9,287.8 608.5,287.8 609,287.8 609.5,287.8 610,287.8 610.5,287.8 611.1,287.8 611.6,287.8 612.1,287.8 612.6,287.8 613.1,287.8 613.7,287.8 614.2,287.8 614.7,287.8 615.2,287.8 615.7,287.8 616.3,287.8 616.8,287.8 617.3,287.8 617.8,287.8 618.3,287.8 618.9,287.8 619.4,287.8 619.9,287.8 620.4,287.8 620.9,287.8 621.5,287.8 622,287.8 622.5,287.8 623,287.8 623.5,287.8 624.1,287.8 624.6,287.8 625.1,287.8 625.6,287.8 626.1,287.8 626.7,287.8 627.2,287.8 627.7,287.8 628.2,287.8 628.7,287.8 629.3,287.8 629.8,287.8 630.3,287.8 630.8,287.8 631.3,287.8 631.9,287.8 632.4,287.8 632.9,287.8 633.4,287.8 633.9,287.8 634.5,287.8 635,287.8 635.5,287.8 636,287.8 636.5,287.8 637.1,287.8 637.6,287.8 638.1,287.8 638.6,287.8 639.1,287.8 639.7,287.8 640.2,287.8 640.7,287.8 641.2,287.8 641.7,287.8 642.3,287.8 642.8,287.8 643.3,287.8 643.8,287.8 644.3,287.8 644.9,287.8 645.4,287.8 645.9,287.8 646.4,287.8 646.9,287.8 647.5,287.8 648,287.8 648.5,287.8 649,287.8 649.5,287.8 650.1,287.8 650.6,287.8 651.1,287.8 651.6,287.8 652.1,287.8 652.7,287.8 653.2,287.8 653.7,287.8 654.2,287.8 654.7,287.8 655.3,287.8 655.8,287.8 656.3,287.8 656.8,287.8 657.3,287.8 657.9,287.8 658.4,287.8 658.9,287.8 659.4,287.8 659.9,287.8 660.5,287.8 661,287.8 661.5,287.8 662,287.8 662.5,287.8 663.1,287.8 663.6,287.8 664.1,287.8 664.6,287.8 665.1,287.8 665.7,287.8 666.2,287.8 666.7,287.8 667.2,287.8 667.7,287.8 668.3,287.8 668.8,287.8 669.3,287.8 669.8,287.8 670.3,287.8 670.9,287.8 671.4,287.8 671.9,287.8 672.4,287.8 672.9,287.8 673.5,287.8 674,287.8 674.5,287.8 675,287.8 675.5,287.8 676.1,287.8 676.6,287.8 677.1,287.8 677.6,287.8 678.1,287.8 678.7,287.8 679.2,287.8 679.7,287.8 680.2,287.8 680.7,287.8 681.3,287.8 681.8,287.8 682.3,287.8 682.8,287.8 683.3,287.8 683.9,287.8 684.4,287.8 684.9,287.8 685.4,287.8 685.9,287.8 686.5,287.8 687,287.8 687.5,287.8 688,287.8 688.5,287.8 689.1,287.8 689.6,287.8 690.1,287.8 690.6,287.8 691.1,287.8 691.7,287.8 692.2,287.8 692.7,287.8 693.2,287.8 693.7,287.8 694.3,287.8 694.8,287.8 695.3,287.8 695.8,287.8 696.3,287.8 696.9,287.8 697.4,287.8 697.9,287.8 698.4,287.8 698.9,287.8 699.5,287.8 700,287.8 700.5,287.8 701,287.8 701.5,287.8 702.1,287.8 702.6,287.8 703.1,287.8 703.6,287.8 704.1,287.8 704.7,287.8 705.2,287.8 705.7,287.8 706.2,287.8 706.7,287.8 707.3,287.8 707.8,287.8 708.3,287.8 708.8,287.8 709.3,287.8 709.9,287.8 710.4,287.8 710.9,287.8 711.4,287.8 711.9,287.8 712.5,287.8 713,287.8 713.5,287.8 714,287.8 714.5,287.8 715.1,287.8 715.6,287.8 716.1,287.8 716.6,287.8 717.1,287.8 717.7,287.8 718.2,287.8 718.7,287.8 719.2,287.8 719.7,287.8 720.3,287.8 720.8,287.8 721.3,287.8 721.8,287.8 722.3,287.8 722.9,287.8 723.4,287.8 723.9,287.8 724.4,287.8 724.9,287.8 725.5,287.8 726,287.8 726.5,287.8 727,287.8 727.5,287.8 728.1,287.8 728.6,287.8 729.1,287.8 729.6,287.8 730.1,287.8 730.7,287.8 731.2,287.8 731.7,287.8 732.2,287.8 732.7,287.8 733.3,287.8 733.8,287.8 734.3,287.8" fill="none" stroke="#5a4e8e" stroke-width="1.25" stroke-dasharray="6.5 1.7 1.1 2.1 1.1 2.1"/>
<path d="M422.8,286.6 423.3,286.6 423.8,286.6 424.4,286.6 424.9,286.6 425.4,286.6 425.9,286.6 426.4,286.6 427,286.6 427.5,286.5 428,286.5 428.5,286.5 429,286.5 429.6,286.5 430.1,286.5 430.6,286.5 431.1,286.5 431.6,286.5 432.2,286.5 432.7,286.5 433.2,286.5 433.7,286.4 434.2,286.4 434.8,286.4 435.3,286.4 435.8,286.4 436.3,286.4 436.8,286.4 437.4,286.4 437.9,286.4 438.4,286.3 438.9,286.3 439.4,286.3 440,286.3 440.5,286.3 441,286.3 441.5,286.2 442,286.2 442.6,286.2 443.1,286.2 443.6,286.2 444.1,286.1 444.6,286.1 445.2,286.1 445.7,286.1 446.2,286.1 446.7,286 447.2,286 447.8,286 448.3,286 448.8,285.9 449.3,285.9 449.8,285.9 450.4,285.8 450.9,285.8 451.4,285.8 451.9,285.7 452.4,285.7 453,285.7 453.5,285.6 454,285.6 454.5,285.5 455,285.5 455.6,285.5 456.1,285.4 456.6,285.4 457.1,285.3 457.6,285.3 458.2,285.2 458.7,285.2 459.2,285.1 459.7,285.1 460.2,285 460.8,284.9 461.3,284.9 461.8,284.8 462.3,284.7 462.8,284.7 463.4,284.6 463.9,284.5 464.4,284.4 464.9,284.4 465.4,284.3 466,284.2 466.5,284.1 467,284 467.5,283.9 468,283.8 468.6,283.6 469.1,283.5 469.6,283.4 470.1,283.2 470.6,283.1 471.2,282.9 471.7,282.8 472.2,282.6 472.7,282.4 473.2,282.1 473.8,281.9 474.3,281.6 474.8,281.4 475.3,281.1 475.8,280.8 476.4,280.6 476.9,280.3 477.4,280 477.9,279.6 478.4,279.3 479,278.9 479.5,278.5 480,278.1 480.5,277.6 481,277.1 481.6,276.5 482.1,275.9 482.6,275.3 483.1,274.6 483.6,273.9 484.2,273.1 484.7,272.3 485.2,271.4 485.7,270.5 486.2,269.6 486.8,268.6 487.3,267.6 487.8,266.5 488.3,265.3 488.8,264.1 489.4,262.9 489.9,261.7 490.4,260.4 490.9,259.2 491.4,258 492,256.9 492.5,256 493,255.1 493.5,254.3 494,253.6 494.6,253.1 495.1,252.6 495.6,252.3 496.1,252 496.6,251.8 497.2,251.7 497.7,251.6 498.2,251.5 498.7,251.4 499.2,251.5 499.8,251.5 500.3,251.6 500.8,251.7 501.3,251.8 501.8,251.9 502.4,252 502.9,252 503.4,252.1 503.9,252.2 504.4,252.3 505,252.3 505.5,252.4 506,252.4 506.5,252.4 507,252.3 507.6,252.3 508.1,252.2 508.6,252.1 509.1,252.1 509.6,252 510.2,252.1 510.7,252.2 511.2,252.4 511.7,252.7 512.2,253.1 512.8,253.6 513.3,254.2 513.8,254.9 514.3,255.6 514.8,256.2 515.4,256.9 515.9,257.5 516.4,258.1 516.9,258.7 517.4,259.4 518,260.1 518.5,260.8 519,261.6 519.5,262.4 520,263.2 520.6,264 521.1,264.8 521.6,265.5 522.1,266.2 522.6,266.8 523.2,267.5 523.7,268 524.2,268.5 524.7,269 525.2,269.4 525.8,269.9 526.3,270.3 526.8,270.7 527.3,271 527.8,271.3 528.4,271.5 528.9,271.7 529.4,271.9 529.9,271.9 530.4,271.9 531,271.9 531.5,271.9 532,271.8 532.5,271.7 533,271.6 533.6,271.4 534.1,271.3 534.6,271 535.1,270.8 535.6,270.5 536.2,270.2 536.7,269.7 537.2,269.3 537.7,268.7 538.2,268.2 538.8,267.6 539.3,267 539.8,266.3 540.3,265.7 540.8,265 541.4,264.3 541.9,263.6 542.4,262.8 542.9,262 543.4,261.1 544,260.1 544.5,259.1 545,258 545.5,256.9 546,255.8 546.6,254.6 547.1,253.5 547.6,252.4 548.1,251.3 548.6,250.2 549.2,249.2 549.7,248.2 550.2,247.3 550.7,246.4 551.2,245.5 551.8,244.6 552.3,243.8 552.8,242.9 553.3,242.1 553.8,241.2 554.4,240.3 554.9,239.4 555.4,238.5 555.9,237.6 556.4,236.5 557,235.1 557.5,233.3 558,231.1 558.5,228.3 559,225.2 559.6,221.9 560.1,218.3 560.6,214.6 561.1,210.7 561.6,206.7 562.2,202.6 562.7,198.5 563.2,194.2 563.7,189.5 564.2,184.7 564.8,179.8 565.3,175.3 565.8,171.2 566.3,167.9 566.8,165.6 567.4,163.9 567.9,162.7 568.4,161.8 568.9,161.4 569.4,161.3 570,161.6 570.5,162.1 571,163 571.5,164.5 572,166.5 572.6,169.4 573.1,173.4 573.6,178.1 574.1,183.2 574.6,188.7 575.2,194.1 575.7,199.3 576.2,204.6 576.7,210.1 577.2,215.5 577.8,220.7 578.3,225.6 578.8,229.9 579.3,233.8 579.9,237.5 580.4,240.8 580.9,244 581.4,246.8 581.9,249.2 582.5,251.2 583,253.1 583.5,254.8 584,256.2 584.5,257.5 585.1,258.7 585.6,259.9 586.1,261.4 586.6,263 587.1,264.4 587.7,265.7 588.2,266.9 588.7,268 589.2,268.9 589.7,269.7 590.3,270.4 590.8,271 591.3,271.4 591.8,271.9 592.3,272.2 592.9,272.5 593.4,272.8 593.9,273.1 594.4,273.3 594.9,273.5 595.5,273.7 596,273.9 596.5,274 597,274.1 597.5,274.3 598.1,274.4 598.6,274.5 599.1,274.6 599.6,274.7 600.1,274.8 600.7,274.8 601.2,274.9 601.7,275 602.2,275.1 602.7,275.2 603.3,275.2 603.8,275.3 604.3,275.4 604.8,275.4 605.3,275.5 605.9,275.6 606.4,275.7 606.9,275.7 607.4,275.8 607.9,275.9 608.5,276 609,276 609.5,276.1 610,276.2 610.5,276.3 611.1,276.4 611.6,276.4 612.1,276.5 612.6,276.6 613.1,276.7 613.7,276.8 614.2,276.8 614.7,276.9 615.2,277 615.7,277.1 616.3,277.1 616.8,277.2 617.3,277.3 617.8,277.4 618.3,277.5 618.9,277.5 619.4,277.6 619.9,277.7 620.4,277.8 620.9,277.8 621.5,277.9 622,277.9 622.5,278 623,278 623.5,278.1 624.1,278.1 624.6,278.2 625.1,278.2 625.6,278.2 626.1,278.3 626.7,278.3 627.2,278.4 627.7,278.4 628.2,278.5 628.7,278.5 629.3,278.6 629.8,278.6 630.3,278.7 630.8,278.8 631.3,278.9 631.9,279 632.4,279.1 632.9,279.2 633.4,279.3 633.9,279.4 634.5,279.5 635,279.6 635.5,279.7 636,279.8 636.5,279.9 637.1,280 637.6,280.1 638.1,280.2 638.6,280.3 639.1,280.4 639.7,280.5 640.2,280.6 640.7,280.7 641.2,280.9 641.7,281 642.3,281.1 642.8,281.2 643.3,281.3 643.8,281.4 644.3,281.5 644.9,281.7 645.4,281.8 645.9,281.9 646.4,282 646.9,282.2 647.5,282.3 648,282.4 648.5,282.5 649,282.6 649.5,282.7 650.1,282.8 650.6,282.9 651.1,283 651.6,283.1 652.1,283.1 652.7,283.2 653.2,283.2 653.7,283.2 654.2,283.2 654.7,283.2 655.3,283.1 655.8,283.1 656.3,283.2 656.8,283.2 657.3,283.3 657.9,283.4 658.4,283.4 658.9,283.5 659.4,283.6 659.9,283.7 660.5,283.7 661,283.7 661.5,283.7 662,283.7 662.5,283.6 663.1,283.5 663.6,283.2 664.1,282.9 664.6,282.6 665.1,282.2 665.7,281.8 666.2,281.4 666.7,280.9 667.2,280.5 667.7,279.9 668.3,279.4 668.8,278.8 669.3,278.1 669.8,277.5 670.3,276.8 670.9,276.1 671.4,275.4 671.9,274.7 672.4,274 672.9,273.4 673.5,272.8 674,272.1 674.5,271.5 675,270.8 675.5,270.1 676.1,269.4 676.6,268.7 677.1,268 677.6,267.3 678.1,266.6 678.7,265.9 679.2,265.3 679.7,264.9 680.2,264.5 680.7,264.3 681.3,264.3 681.8,264.4 682.3,264.7 682.8,265.2 683.3,265.8 683.9,266.6 684.4,267.4 684.9,268.3 685.4,269.2 685.9,270.2 686.5,271.2 687,272.1 687.5,273.1 688,274.1 688.5,275 689.1,275.9 689.6,276.8 690.1,277.6 690.6,278.3 691.1,279 691.7,279.6 692.2,280.1 692.7,280.5 693.2,280.9 693.7,281.2 694.3,281.5 694.8,281.7 695.3,282 695.8,282.2 696.3,282.5 696.9,282.7 697.4,283 697.9,283.2 698.4,283.4 698.9,283.6 699.5,283.7 700,283.9 700.5,284 701,284.2 701.5,284.3 702.1,284.4 702.6,284.5 703.1,284.6 703.6,284.7 704.1,284.8 704.7,284.8 705.2,284.9 705.7,285 706.2,285.1 706.7,285.1 707.3,285.2 707.8,285.2 708.3,285.3 708.8,285.4 709.3,285.4 709.9,285.5 710.4,285.5 710.9,285.6 711.4,285.6 711.9,285.6 712.5,285.7 713,285.7 713.5,285.8 714,285.8 714.5,285.8 715.1,285.8 715.6,285.9 716.1,285.9 716.6,285.9 717.1,285.9 717.7,286 718.2,286 718.7,286 719.2,286 719.7,286.1 720.3,286.1 720.8,286.1 721.3,286.1 721.8,286.1 722.3,286.1 722.9,286.2 723.4,286.2 723.9,286.2 724.4,286.2 724.9,286.2 725.5,286.2 726,286.2 726.5,286.3 727,286.3 727.5,286.3 728.1,286.3 728.6,286.3 729.1,286.3 729.6,286.3 730.1,286.3 730.7,286.3 731.2,286.3 731.7,286.3 732.2,286.3 732.7,286.3 733.3,286.3 733.8,286.4 734.3,286.4" fill="none" stroke="#ee5c2e" stroke-width="1.45" stroke-dasharray="6.5 3.1"/>
</g>
<rect x="422.5" y="16.5" width="311.8" height="271.3" fill="none" stroke="#5a5a5a" stroke-width="1.15"/>
<line x1="422.8" y1="287.8" x2="426.3" y2="287.8" stroke="#555" stroke-width="1"/>
<text transform="translate(417.6,292.4) scale(1,1.05)" text-anchor="end" class="t">0</text>
<line x1="422.8" y1="270.84" x2="425" y2="270.84" stroke="#555" stroke-width="1"/>
<line x1="422.8" y1="253.89" x2="426.3" y2="253.89" stroke="#555" stroke-width="1"/>
<text transform="translate(417.6,258.49) scale(1,1.05)" text-anchor="end" class="t">1000</text>
<line x1="422.8" y1="236.93" x2="425" y2="236.93" stroke="#555" stroke-width="1"/>
<line x1="422.8" y1="219.98" x2="426.3" y2="219.98" stroke="#555" stroke-width="1"/>
<text transform="translate(417.6,224.58) scale(1,1.05)" text-anchor="end" class="t">2000</text>
<line x1="422.8" y1="203.02" x2="425" y2="203.02" stroke="#555" stroke-width="1"/>
<line x1="422.8" y1="186.06" x2="426.3" y2="186.06" stroke="#555" stroke-width="1"/>
<text transform="translate(417.6,190.66) scale(1,1.05)" text-anchor="end" class="t">3000</text>
<line x1="422.8" y1="169.11" x2="425" y2="169.11" stroke="#555" stroke-width="1"/>
<line x1="422.8" y1="152.15" x2="426.3" y2="152.15" stroke="#555" stroke-width="1"/>
<text transform="translate(417.6,156.75) scale(1,1.05)" text-anchor="end" class="t">4000</text>
<line x1="422.8" y1="135.19" x2="425" y2="135.19" stroke="#555" stroke-width="1"/>
<line x1="422.8" y1="118.24" x2="426.3" y2="118.24" stroke="#555" stroke-width="1"/>
<text transform="translate(417.6,122.84) scale(1,1.05)" text-anchor="end" class="t">5000</text>
<line x1="422.8" y1="101.28" x2="425" y2="101.28" stroke="#555" stroke-width="1"/>
<line x1="422.8" y1="84.33" x2="426.3" y2="84.33" stroke="#555" stroke-width="1"/>
<text transform="translate(417.6,88.93) scale(1,1.05)" text-anchor="end" class="t">6000</text>
<line x1="422.8" y1="67.37" x2="425" y2="67.37" stroke="#555" stroke-width="1"/>
<line x1="422.8" y1="50.41" x2="426.3" y2="50.41" stroke="#555" stroke-width="1"/>
<text transform="translate(417.6,55.01) scale(1,1.05)" text-anchor="end" class="t">7000</text>
<line x1="422.8" y1="33.46" x2="425" y2="33.46" stroke="#555" stroke-width="1"/>
<line x1="422.8" y1="16.5" x2="426.3" y2="16.5" stroke="#555" stroke-width="1"/>
<text transform="translate(417.6,21.1) scale(1,1.05)" text-anchor="end" class="t">8000</text>
<line x1="427.52" y1="287.8" x2="427.52" y2="285.8" stroke="#555" stroke-width="1"/>
<line x1="451.12" y1="287.8" x2="451.12" y2="284.8" stroke="#555" stroke-width="1"/>
<text transform="translate(451.12,305.1) scale(1,1.05)" text-anchor="middle" class="t">10</text>
<line x1="474.72" y1="287.8" x2="474.72" y2="285.8" stroke="#555" stroke-width="1"/>
<line x1="498.32" y1="287.8" x2="498.32" y2="284.8" stroke="#555" stroke-width="1"/>
<text transform="translate(498.32,305.1) scale(1,1.05)" text-anchor="middle" class="t">15</text>
<line x1="521.91" y1="287.8" x2="521.91" y2="285.8" stroke="#555" stroke-width="1"/>
<line x1="545.51" y1="287.8" x2="545.51" y2="284.8" stroke="#555" stroke-width="1"/>
<text transform="translate(545.51,305.1) scale(1,1.05)" text-anchor="middle" class="t">20</text>
<line x1="569.11" y1="287.8" x2="569.11" y2="285.8" stroke="#555" stroke-width="1"/>
<line x1="592.71" y1="287.8" x2="592.71" y2="284.8" stroke="#555" stroke-width="1"/>
<text transform="translate(592.71,305.1) scale(1,1.05)" text-anchor="middle" class="t">25</text>
<line x1="616.31" y1="287.8" x2="616.31" y2="285.8" stroke="#555" stroke-width="1"/>
<line x1="639.91" y1="287.8" x2="639.91" y2="284.8" stroke="#555" stroke-width="1"/>
<text transform="translate(639.91,305.1) scale(1,1.05)" text-anchor="middle" class="t">30</text>
<line x1="663.5" y1="287.8" x2="663.5" y2="285.8" stroke="#555" stroke-width="1"/>
<line x1="687.1" y1="287.8" x2="687.1" y2="284.8" stroke="#555" stroke-width="1"/>
<text transform="translate(687.1,305.1) scale(1,1.05)" text-anchor="middle" class="t">35</text>
<line x1="710.7" y1="287.8" x2="710.7" y2="285.8" stroke="#555" stroke-width="1"/>
<line x1="734.3" y1="287.8" x2="734.3" y2="284.8" stroke="#555" stroke-width="1"/>
<text transform="translate(734.3,305.1) scale(1,1.05)" text-anchor="middle" class="t">40</text>
<text x="569.3" y="312.1" text-anchor="middle" class="xl">2Θ/°</text>
<text transform="translate(390.3,151.85) rotate(-90)" text-anchor="middle" class="yl">Intensity/a.u.</text>
<line x1="609.4" y1="38.8" x2="638.4" y2="38.8" fill="none" stroke="#a0a0a0" stroke-width="1.0"/>
<text transform="translate(645.8,42.8) scale(1,1.05)" class="t">Avicel_NaOH</text>
<line x1="609.4" y1="58.5" x2="638.4" y2="58.5" fill="none" stroke="#80395a" stroke-width="1.25" stroke-dasharray="8.5 3"/>
<text transform="translate(645.8,62.5) scale(1,1.05)" class="t">101</text>
<line x1="609.4" y1="78.2" x2="638.4" y2="78.2" fill="none" stroke="#1e1e1e" stroke-width="1.3" stroke-dasharray="1.3 1.95"/>
<text transform="translate(645.8,82.2) scale(1,1.05)" class="t">10ī</text>
<line x1="609.4" y1="97.9" x2="638.4" y2="97.9" fill="none" stroke="#4a98c8" stroke-width="1.25" stroke-dasharray="8.3 3.4"/>
<text transform="translate(645.8,101.9) scale(1,1.05)" class="t">021</text>
<line x1="609.4" y1="117.6" x2="638.4" y2="117.6" fill="none" stroke="#5a4e8e" stroke-width="1.25" stroke-dasharray="6.5 1.7 1.1 2.1 1.1 2.1"/>
<text transform="translate(645.8,121.6) scale(1,1.05)" class="t">002</text>
<line x1="609.4" y1="137.3" x2="638.4" y2="137.3" fill="none" stroke="#80b658" stroke-width="1.4"/>
<text transform="translate(645.8,141.3) scale(1,1.05)" class="t">040</text>
<line x1="609.4" y1="157" x2="638.4" y2="157" fill="none" stroke="#9ccde8" stroke-width="1.25" stroke-dasharray="6.4 2 1.1 2"/>
<text transform="translate(645.8,161) scale(1,1.05)" class="t">Amorphous</text>
<line x1="609.4" y1="176.7" x2="638.4" y2="176.7" fill="none" stroke="#ee5c2e" stroke-width="1.45" stroke-dasharray="6.5 3.1"/>
<text transform="translate(645.8,180.7) scale(1,1.05)" class="t">Fit</text>
<clipPath id="c3"><rect x="56" y="322.2" width="311.5" height="271.1"/></clipPath>
<g clip-path="url(#c3)">
<path d="M56,589.1 56.2,591.7 56.4,590 56.7,590.6 56.9,590.5 57.1,590.4 57.3,591.5 57.6,590.5 57.8,590.8 58,588.5 58.2,590.2 58.4,590.6 58.7,590.5 58.9,590.8 59.1,591 59.3,590.6 59.6,590.2 59.8,590.6 60,589.9 60.2,590.6 60.5,590.4 60.7,589.6 60.9,590.2 61.1,590.8 61.3,590.6 61.6,590.2 61.8,589.4 62,590.7 62.2,590.7 62.5,590 62.7,591 62.9,590.7 63.1,590 63.3,590.2 63.6,590.5 63.8,590.2 64,592.2 64.2,590 64.5,591.1 64.7,591.5 64.9,590.4 65.1,590.1 65.4,590.8 65.6,591.2 65.8,590.5 66,590.6 66.2,589.7 66.5,590.1 66.7,590.4 66.9,589.9 67.1,590.7 67.4,591.1 67.6,590.2 67.8,590.2 68,590.7 68.2,591 68.5,590.4 68.7,592 68.9,590.1 69.1,590.2 69.4,591.5 69.6,590.5 69.8,591.1 70,590.1 70.3,591.8 70.5,591.1 70.7,590.1 70.9,589.8 71.1,591.9 71.4,590.8 71.6,590.3 71.8,590.9 72,589.5 72.3,591.2 72.5,590.3 72.7,591.1 72.9,589.6 73.1,590.5 73.4,590.7 73.6,591.5 73.8,589.4 74,589.9 74.3,589.9 74.5,589.6 74.7,590.1 74.9,590.7 75.1,590.8 75.4,590.8 75.6,589.4 75.8,591.2 76,590.6 76.3,590.4 76.5,590 76.7,589.8 76.9,590.9 77.2,591.2 77.4,590.1 77.6,589.3 77.8,589.5 78,589.9 78.3,590.2 78.5,589.8 78.7,590.1 78.9,589.4 79.2,590.4 79.4,589.8 79.6,589.9 79.8,589.4 80,589.6 80.3,588 80.5,588.7 80.7,588.7 80.9,591 81.2,589.8 81.4,590 81.6,589.2 81.8,591 82.1,588.6 82.3,588.6 82.5,590.2 82.7,590 82.9,589.8 83.2,589.1 83.4,588.7 83.6,587.6 83.8,589.1 84.1,588.4 84.3,588.7 84.5,587.5 84.7,588.2 84.9,587.7 85.2,589.3 85.4,588.6 85.6,589 85.8,587.2 86.1,587.8 86.3,588.4 86.5,588.4 86.7,587.6 86.9,588.4 87.2,588.5 87.4,587.4 87.6,585.8 87.8,587.7 88.1,587.8 88.3,588.2 88.5,588.2 88.7,586.8 89,586.4 89.2,586.9 89.4,586.6 89.6,586.7 89.8,586.5 90.1,587.7 90.3,586.8 90.5,586.2 90.7,586.8 91,586.5 91.2,586.6 91.4,586.1 91.6,585.1 91.8,585.9 92.1,585.6 92.3,584.7 92.5,584.7 92.7,583.8 93,586.7 93.2,584.2 93.4,585.1 93.6,584.5 93.9,583.8 94.1,583.4 94.3,583.3 94.5,583.9 94.7,582.5 95,583.8 95.2,583.5 95.4,582.5 95.6,583.4 95.9,580.9 96.1,581.6 96.3,580.4 96.5,582 96.7,582 97,581.3 97.2,580.6 97.4,581.5 97.6,580.4 97.9,580.5 98.1,578.9 98.3,580.6 98.5,579 98.8,580.2 99,580.3 99.2,579.9 99.4,580.1 99.6,578.7 99.9,577.7 100.1,578.2 100.3,577.6 100.5,576.4 100.8,577.4 101,577.2 101.2,577.3 101.4,578.3 101.6,575.8 101.9,577.8 102.1,575.2 102.3,575.5 102.5,574.1 102.8,574.9 103,575.3 103.2,573.8 103.4,574.3 103.6,573.5 103.9,572.9 104.1,572.6 104.3,572.2 104.5,572.4 104.8,571.2 105,572.7 105.2,570.2 105.4,570.7 105.7,567.7 105.9,567 106.1,569.9 106.3,567 106.5,566.7 106.8,567.1 107,564.7 107.2,565.2 107.4,566 107.7,563.6 107.9,562.8 108.1,561.8 108.3,562.6 108.5,559.7 108.8,558.7 109,560.2 109.2,558.8 109.4,557.3 109.7,557.1 109.9,553.3 110.1,554.4 110.3,555.2 110.6,554 110.8,552.3 111,548.3 111.2,550.8 111.4,549.6 111.7,548.2 111.9,548.2 112.1,544.1 112.3,547.2 112.6,544.6 112.8,544.5 113,543 113.2,544.7 113.4,539.5 113.7,541.4 113.9,540.2 114.1,540.7 114.3,539.4 114.6,536.4 114.8,534.7 115,534 115.2,532.1 115.4,531.8 115.7,531.8 115.9,529.4 116.1,528.7 116.3,528.7 116.6,526.2 116.8,524.2 117,524.8 117.2,524.7 117.5,521.7 117.7,518.4 117.9,521 118.1,519.5 118.3,518.4 118.6,514.6 118.8,519 119,513.5 119.2,510.6 119.5,513 119.7,507.1 119.9,507.5 120.1,508.1 120.3,505.1 120.6,507.1 120.8,503.5 121,497 121.2,501.1 121.5,493.7 121.7,496.2 121.9,492.3 122.1,492.8 122.4,496.3 122.6,491.1 122.8,487.9 123,489.5 123.2,488.5 123.5,483.3 123.7,484.3 123.9,485.5 124.1,482 124.4,477.2 124.6,479.3 124.8,475 125,472.6 125.2,475.3 125.5,477.4 125.7,477.1 125.9,473.3 126.1,470.5 126.4,471.5 126.6,470.5 126.8,472.6 127,470.6 127.3,472.4 127.5,472.1 127.7,474.5 127.9,475.3 128.1,472.7 128.4,474.4 128.6,474.2 128.8,470.4 129,472.5 129.3,465.3 129.5,470.3 129.7,474.3 129.9,471 130.1,472.2 130.4,474.9 130.6,470.7 130.8,475.4 131,481 131.3,471.7 131.5,475.2 131.7,470.1 131.9,475.4 132.1,476.6 132.4,470 132.6,476.3 132.8,473.2 133,470.1 133.3,473.3 133.5,473.7 133.7,473.1 133.9,471.3 134.2,475.2 134.4,471.7 134.6,471.8 134.8,467.5 135,474 135.3,475.6 135.5,471.9 135.7,475.1 135.9,473.8 136.2,474.4 136.4,472.1 136.6,476.7 136.8,475.5 137,481.6 137.3,477.8 137.5,472.1 137.7,477.6 137.9,477.8 138.2,479.3 138.4,475.1 138.6,476.3 138.8,479.7 139.1,475.5 139.3,476.7 139.5,475.8 139.7,479.3 139.9,473.9 140.2,477.4 140.4,478.9 140.6,480.2 140.8,479.9 141.1,477.6 141.3,480.7 141.5,478 141.7,479.6 141.9,478.3 142.2,480.1 142.4,482.7 142.6,487.5 142.8,483 143.1,482.6 143.3,484.7 143.5,484.5 143.7,487.6 144,488.1 144.2,490.1 144.4,485.8 144.6,489.3 144.8,491.5 145.1,494.2 145.3,492.5 145.5,489.8 145.7,492.8 146,496.3 146.2,492.5 146.4,493.3 146.6,495 146.8,496.2 147.1,496.2 147.3,498.1 147.5,498.3 147.7,502.2 148,498.2 148.2,501.4 148.4,498.4 148.6,507.3 148.8,502.3 149.1,502.3 149.3,505.6 149.5,504.6 149.7,504.6 150,505.6 150.2,508.5 150.4,508.3 150.6,506.7 150.9,506.9 151.1,509.9 151.3,510.6 151.5,511 151.7,510 152,514.6 152.2,515.7 152.4,513.6 152.6,516.5 152.9,516.1 153.1,515.4 153.3,515.2 153.5,518.6 153.7,515.7 154,520.9 154.2,517.2 154.4,521.5 154.6,521.4 154.9,518.4 155.1,520.8 155.3,522 155.5,521.8 155.8,520.6 156,522 156.2,522.4 156.4,520.9 156.6,524.4 156.9,524.3 157.1,524.8 157.3,522.1 157.5,522.8 157.8,522.6 158,525.2 158.2,525.7 158.4,524.2 158.6,526.6 158.9,524.8 159.1,525.2 159.3,527.8 159.5,527 159.8,527.2 160,524.2 160.2,523 160.4,527.7 160.6,527.6 160.9,531.6 161.1,527.5 161.3,528 161.5,530 161.8,527 162,531.1 162.2,528.9 162.4,528.4 162.7,530.9 162.9,527.5 163.1,527.2 163.3,531.4 163.5,531.5 163.8,528.2 164,529.4 164.2,531.4 164.4,529.9 164.7,529.6 164.9,529.7 165.1,528.1 165.3,528.8 165.5,526.5 165.8,527.1 166,528.2 166.2,527.5 166.4,527 166.7,528 166.9,531.2 167.1,527.6 167.3,528.9 167.6,526.3 167.8,528.8 168,528 168.2,528.2 168.4,525.9 168.7,528.3 168.9,528.9 169.1,527.9 169.3,529 169.6,527.8 169.8,528 170,527.3 170.2,524.4 170.4,528.1 170.7,527.2 170.9,527.4 171.1,525.6 171.3,528.5 171.6,527.4 171.8,526 172,524.7 172.2,525.4 172.5,525.9 172.7,526.1 172.9,523.4 173.1,521.3 173.3,522.9 173.6,522.7 173.8,521.8 174,523.9 174.2,522.4 174.5,521.9 174.7,520.5 174.9,520.7 175.1,522.4 175.3,517.8 175.6,516.4 175.8,519.6 176,518 176.2,517.9 176.5,516.6 176.7,520.4 176.9,514.4 177.1,517.9 177.3,514.4 177.6,516.3 177.8,516.9 178,516.1 178.2,513.9 178.5,516.9 178.7,515.7 178.9,515.6 179.1,517.7 179.4,511.7 179.6,512.8 179.8,513.7 180,511.1 180.2,514.9 180.5,512.9 180.7,509.2 180.9,510.3 181.1,516.1 181.4,517.9 181.6,513.2 181.8,508.7 182,511.3 182.2,510.4 182.5,508.3 182.7,510.7 182.9,508 183.1,506.3 183.4,506.3 183.6,505.8 183.8,507.1 184,504.1 184.3,505.2 184.5,500.9 184.7,497.3 184.9,503.2 185.1,505.1 185.4,500.4 185.6,497.5 185.8,494.7 186,493 186.3,495.2 186.5,493.3 186.7,486.7 186.9,489.8 187.1,482.6 187.4,483.3 187.6,478.7 187.8,476.4 188,473.9 188.3,471.5 188.5,473.7 188.7,468.3 188.9,466.9 189.2,464.1 189.4,459.5 189.6,461.2 189.8,460.1 190,457.9 190.3,454.5 190.5,449.3 190.7,451.2 190.9,443.3 191.2,443.3 191.4,442.3 191.6,443.1 191.8,436 192,432.2 192.3,437 192.5,425.6 192.7,421.7 192.9,423.1 193.2,420.1 193.4,411.6 193.6,412.8 193.8,417.1 194,411.9 194.3,410 194.5,407.6 194.7,412.6 194.9,400.1 195.2,402.6 195.4,397.9 195.6,396.9 195.8,391.5 196.1,393.7 196.3,393.7 196.5,387.4 196.7,382.8 196.9,387.5 197.2,380.2 197.4,383 197.6,385 197.8,376.9 198.1,384.8 198.3,377.9 198.5,383 198.7,379.5 198.9,385.6 199.2,384.2 199.4,377.6 199.6,381 199.8,381.9 200.1,384.1 200.3,381.6 200.5,388.8 200.7,388.7 201,386.2 201.2,389.6 201.4,390.3 201.6,389.4 201.8,391 202.1,392.8 202.3,388 202.5,392 202.7,393.2 203,399.4 203.2,403 203.4,408.3 203.6,406.9 203.8,414.9 204.1,412.4 204.3,410.6 204.5,410.5 204.7,415.2 205,424.1 205.2,423.6 205.4,431.4 205.6,430.8 205.8,437.7 206.1,439 206.3,438 206.5,446 206.7,445 207,453.6 207.2,457.6 207.4,455.8 207.6,457.3 207.9,465.8 208.1,466.8 208.3,473.3 208.5,472.9 208.7,472.9 209,477.9 209.2,481.6 209.4,486.1 209.6,484.5 209.9,486.1 210.1,488.9 210.3,492.1 210.5,497.7 210.7,493.5 211,499.6 211.2,501.9 211.4,502.2 211.6,510.1 211.9,507.8 212.1,509.9 212.3,510.8 212.5,510.7 212.8,514.1 213,520.1 213.2,518.9 213.4,519.5 213.6,521.1 213.9,525 214.1,527 214.3,524.5 214.5,526.1 214.8,528 215,532 215.2,527.3 215.4,536 215.6,532.9 215.9,529.9 216.1,534.4 216.3,534.7 216.5,537.8 216.8,534.7 217,539.6 217.2,538.1 217.4,539 217.7,541.6 217.9,539.4 218.1,543.5 218.3,543.1 218.5,542.8 218.8,543.9 219,543.2 219.2,543.1 219.4,545.4 219.7,546.2 219.9,546.5 220.1,546.7 220.3,545.4 220.5,547.2 220.8,546.6 221,547.6 221.2,548.9 221.4,546.8 221.7,549.7 221.9,548.5 222.1,546.7 222.3,550.5 222.5,549.3 222.8,551.7 223,550.4 223.2,552 223.4,550.7 223.7,551.1 223.9,550.4 224.1,548.7 224.3,550.6 224.6,550.3 224.8,551.4 225,551.9 225.2,552.8 225.4,554.2 225.7,551.9 225.9,549.9 226.1,551.6 226.3,553 226.6,550.2 226.8,553.1 227,553.4 227.2,554.3 227.4,554.1 227.7,553.2 227.9,550.3 228.1,553.3 228.3,554.5 228.6,554.1 228.8,553.6 229,555.7 229.2,553.4 229.5,552.7 229.7,553.3 229.9,553 230.1,555.5 230.3,556.2 230.6,552.3 230.8,552.6 231,556.2 231.2,553.9 231.5,554.3 231.7,553.6 231.9,554.1 232.1,555.1 232.3,554.3 232.6,554.4 232.8,554.7 233,557.1 233.2,558.7 233.5,555.8 233.7,557 233.9,554.6 234.1,554 234.3,554.6 234.6,555.5 234.8,554.9 235,553.5 235.2,556 235.5,553.9 235.7,554.2 235.9,554.8 236.1,553.2 236.4,556.1 236.6,553.9 236.8,556.3 237,556.1 237.2,556.5 237.5,554.6 237.7,556.4 237.9,555.1 238.1,556.6 238.4,553.8 238.6,552.8 238.8,554.9 239,553 239.2,554.4 239.5,552.3 239.7,555 239.9,557.2 240.1,553.2 240.4,555.3 240.6,556.5 240.8,556 241,557.3 241.3,555.4 241.5,556.6 241.7,553.3 241.9,554.3 242.1,557.3 242.4,557.1 242.6,555.9 242.8,557.7 243,555.3 243.3,555.3 243.5,556.2 243.7,555.9 243.9,554.6 244.1,553.4 244.4,553.3 244.6,555.2 244.8,554.2 245,556.2 245.3,554.8 245.5,556.5 245.7,554.4 245.9,556.9 246.2,556.6 246.4,555.3 246.6,554.6 246.8,557.2 247,556 247.3,555.2 247.5,555.1 247.7,556.5 247.9,555.3 248.2,555.8 248.4,553.6 248.6,554.7 248.8,557.1 249,558.3 249.3,555.3 249.5,554 249.7,555.3 249.9,554.4 250.2,556.1 250.4,557.3 250.6,554.6 250.8,555.5 251,554.7 251.3,557.4 251.5,555.4 251.7,556.5 251.9,554.7 252.2,556.4 252.4,556.5 252.6,556.5 252.8,554.2 253.1,555.8 253.3,556.8 253.5,557.2 253.7,557.2 253.9,554.1 254.2,558.2 254.4,557.1 254.6,555.2 254.8,554.6 255.1,556.3 255.3,555.2 255.5,555.2 255.7,555 255.9,556.2 256.2,554.2 256.4,556 256.6,554.4 256.8,557.7 257.1,555.2 257.3,558 257.5,558.3 257.7,555.9 258,557.6 258.2,556 258.4,557.9 258.6,554.7 258.8,556.7 259.1,558.1 259.3,556.5 259.5,555.7 259.7,557.8 260,556.3 260.2,554.4 260.4,555.9 260.6,557 260.8,557.8 261.1,556.4 261.3,559 261.5,560.9 261.7,558.1 262,558.7 262.2,555.3 262.4,557.3 262.6,558.7 262.9,559 263.1,557 263.3,558.7 263.5,558.5 263.7,558 264,557.8 264.2,557.9 264.4,558 264.6,556.6 264.9,556.2 265.1,560.3 265.3,555.3 265.5,558.3 265.7,557.1 266,559.6 266.2,558.4 266.4,558.6 266.6,558.8 266.9,558 267.1,558.4 267.3,560.4 267.5,559.5 267.7,558.6 268,558.7 268.2,560 268.4,560.1 268.6,560 268.9,561.3 269.1,561.6 269.3,558.4 269.5,560.8 269.8,560.3 270,561.4 270.2,559.1 270.4,558.7 270.6,561.1 270.9,560.4 271.1,562 271.3,559.2 271.5,560.3 271.8,562.4 272,560.2 272.2,561.3 272.4,561.4 272.6,561.6 272.9,562.8 273.1,562.8 273.3,561.6 273.5,562.5 273.8,563.6 274,560.4 274.2,563 274.4,563.5 274.7,563.8 274.9,562.4 275.1,562.2 275.3,563.1 275.5,562.5 275.8,565.3 276,564.1 276.2,564.3 276.4,563.9 276.7,563.5 276.9,566.4 277.1,560.8 277.3,565.3 277.5,564.1 277.8,563.7 278,563.8 278.2,564.6 278.4,568.1 278.7,566.2 278.9,564.3 279.1,566.3 279.3,566.5 279.5,568 279.8,564.3 280,565.2 280.2,566.8 280.4,566.1 280.7,566.2 280.9,567.4 281.1,566.6 281.3,566.1 281.6,565.9 281.8,565.3 282,566.7 282.2,567.3 282.4,566.6 282.7,567.7 282.9,568.5 283.1,566.1 283.3,567.8 283.6,567.4 283.8,567 284,568.9 284.2,567.2 284.4,567.5 284.7,568.2 284.9,567.8 285.1,569.1 285.3,570.7 285.6,568.8 285.8,569.6 286,567.9 286.2,568.6 286.5,569.5 286.7,569 286.9,567.7 287.1,568 287.3,568.9 287.6,568.9 287.8,569.6 288,569.5 288.2,568.9 288.5,569.6 288.7,569.3 288.9,570.7 289.1,571.3 289.3,571.4 289.6,570.2 289.8,568.5 290,568.7 290.2,570.9 290.5,571.5 290.7,569.2 290.9,569.6 291.1,571.5 291.4,569.2 291.6,570.1 291.8,569.1 292,570.2 292.2,569.7 292.5,570.4 292.7,571.8 292.9,571.2 293.1,571.8 293.4,570.5 293.6,572.4 293.8,573.1 294,571.1 294.2,570.8 294.5,570.7 294.7,571.1 294.9,573.7 295.1,573.1 295.4,573 295.6,572.6 295.8,574.7 296,572.8 296.2,572.5 296.5,573.7 296.7,572.8 296.9,571.8 297.1,572.9 297.4,571.9 297.6,571.9 297.8,572.5 298,572.5 298.3,573.2 298.5,571.6 298.7,573.2 298.9,573.3 299.1,572 299.4,573.3 299.6,572.1 299.8,571.5 300,572.3 300.3,572.3 300.5,571.4 300.7,571.5 300.9,573.7 301.1,573.4 301.4,570.8 301.6,571.7 301.8,574 302,573.2 302.3,571.8 302.5,572.7 302.7,571.3 302.9,571.6 303.2,571.2 303.4,572.7 303.6,570.9 303.8,569.6 304,572.2 304.3,570.1 304.5,570.3 304.7,570.6 304.9,571.2 305.2,572.2 305.4,571.9 305.6,570.3 305.8,570.1 306,569.8 306.3,570 306.5,570 306.7,571.3 306.9,572.1 307.2,570.7 307.4,570.4 307.6,570.8 307.8,572.4 308.1,571.5 308.3,572.4 308.5,570.9 308.7,572.1 308.9,571.3 309.2,570.9 309.4,571.2 309.6,570.1 309.8,572.5 310.1,573.7 310.3,570.8 310.5,570.5 310.7,570.5 310.9,571.8 311.2,571.7 311.4,572.2 311.6,573.7 311.8,573.2 312.1,572.4 312.3,573.5 312.5,571.4 312.7,574.8 312.9,574 313.2,572.8 313.4,574.5 313.6,575.2 313.8,575.7 314.1,575.3 314.3,573.5 314.5,574.7 314.7,574.9 315,576 315.2,575.1 315.4,576 315.6,577.1 315.8,576.9 316.1,576.6 316.3,576 316.5,577.3 316.7,577.1 317,576 317.2,578.6 317.4,579.2 317.6,577.6 317.8,578.3 318.1,579 318.3,578.9 318.5,579.6 318.7,579.2 319,580.1 319.2,579.4 319.4,581.2 319.6,581.1 319.9,580.6 320.1,581.3 320.3,580.6 320.5,581.3 320.7,581.9 321,581.5 321.2,582.2 321.4,583.2 321.6,583 321.9,583 322.1,582.9 322.3,582.6 322.5,582.2 322.7,582.6 323,581.9 323.2,582.4 323.4,583.6 323.6,582.4 323.9,582.9 324.1,584.2 324.3,583.8 324.5,583.4 324.7,584.1 325,583.6 325.2,584.2 325.4,584.1 325.6,584.9 325.9,584.5 326.1,585.1 326.3,584.5 326.5,586.2 326.8,584.9 327,584.4 327.2,584.9 327.4,585.4 327.6,585.1 327.9,586.1 328.1,586.2 328.3,585.9 328.5,585.9 328.8,585.3 329,586.5 329.2,585.4 329.4,587.1 329.6,586.7 329.9,586.3 330.1,585.6 330.3,586.8 330.5,587.8 330.8,586.3 331,586.6 331.2,587.3 331.4,587.3 331.7,587.2 331.9,586.8 332.1,586.5 332.3,587.9 332.5,585.7 332.8,587.1 333,587.4 333.2,586.8 333.4,587.2 333.7,586 333.9,586.8 334.1,587.7 334.3,587.7 334.5,587.9 334.8,587.8 335,587.3 335.2,588.1 335.4,586.9 335.7,587.9 335.9,588 336.1,587.4 336.3,589.1 336.6,588.6 336.8,587.8 337,588.2 337.2,588.2 337.4,588 337.7,588.6 337.9,588.5 338.1,589.2 338.3,589.5 338.6,587.8 338.8,589.1 339,589 339.2,587.9 339.4,588.1 339.7,589 339.9,589.1 340.1,588.9 340.3,589.4 340.6,588.6 340.8,588.9 341,589 341.2,588.7 341.4,588.7 341.7,588.2 341.9,588.4 342.1,590.1 342.3,588.8 342.6,589.9 342.8,590.1 343,589 343.2,589.8 343.5,589.6 343.7,589 343.9,589.9 344.1,590 344.3,589.4 344.6,589 344.8,589.4 345,590.5 345.2,590.1 345.5,589.9 345.7,588.8 345.9,589.4 346.1,589.4 346.3,589.3 346.6,590.1 346.8,589.7 347,589.7 347.2,590.5 347.5,590.1 347.7,589.8 347.9,590.6 348.1,589.7 348.4,589.8 348.6,589.7 348.8,590.6 349,590.2 349.2,589.5 349.5,589.9 349.7,590.7 349.9,590.2 350.1,589.6 350.4,590.4 350.6,590.2 350.8,589.1 351,590.4 351.2,590.5 351.5,590.9 351.7,590.7 351.9,589.7 352.1,590.5 352.4,591 352.6,590.9 352.8,590.5 353,590.2 353.2,590.9 353.5,590.2 353.7,590.8 353.9,590.4 354.1,590.3 354.4,590.3 354.6,590.8 354.8,590.7 355,590.4 355.3,591.3 355.5,590.6 355.7,590.4 355.9,590.2 356.1,590.7 356.4,590.8 356.6,590.6 356.8,591.1 357,590.8 357.3,590.5 357.5,590.6 357.7,591.2 357.9,590.9 358.1,591.7 358.4,590.4 358.6,591 358.8,590.7 359,591.3 359.3,590.8 359.5,590.6 359.7,590.3 359.9,591.4 360.2,590.4 360.4,590.9 360.6,591.2 360.8,590.6 361,591 361.3,591 361.5,591.2 361.7,590.8 361.9,590.9 362.2,591 362.4,591.3 362.6,591.1 362.8,590.7 363,590.3 363.3,590.9 363.5,590.3 363.7,590.9 363.9,591.4 364.2,590.6 364.4,591.4 364.6,590.7 364.8,590.4 365.1,591.1 365.3,591 365.5,589.8 365.7,590.8 365.9,590.8 366.2,590.6 366.4,591 366.6,591 366.8,590.8 367.1,592 367.3,590.3 367.5,591.4" fill="none" stroke="#383838" stroke-width="0.75"/>
<path d="M56,593.3 56.5,593.3 57,593.3 57.6,593.3 58.1,593.3 58.6,593.3 59.1,593.3 59.6,593.3 60.2,593.3 60.7,593.3 61.2,593.3 61.7,593.3 62.2,593.3 62.8,593.3 63.3,593.3 63.8,593.3 64.3,593.3 64.8,593.3 65.4,593.3 65.9,593.3 66.4,593.3 66.9,593.3 67.4,593.3 68,593.3 68.5,593.3 69,593.3 69.5,593.3 70,593.3 70.6,593.3 71.1,593.3 71.6,593.3 72.1,593.3 72.6,593.3 73.2,593.3 73.7,593.3 74.2,593.3 74.7,593.3 75.2,593.3 75.8,593.3 76.3,593.3 76.8,593.3 77.3,593.3 77.8,593.3 78.4,593.3 78.9,593.3 79.4,593.3 79.9,593.3 80.4,593.3 81,593.3 81.5,593.3 82,593.3 82.5,593.3 83,593.3 83.6,593.3 84.1,593.3 84.6,593.3 85.1,593.3 85.6,593.3 86.2,593.2 86.7,593.2 87.2,593.2 87.7,593.2 88.2,593.2 88.8,593.2 89.3,593.2 89.8,593.2 90.3,593.2 90.8,593.2 91.4,593.2 91.9,593.2 92.4,593.2 92.9,593.2 93.4,593.2 94,593.2 94.5,593.2 95,593.2 95.5,593.2 96,593.2 96.6,593.2 97.1,593.2 97.6,593.2 98.1,593.2 98.6,593.2 99.2,593.2 99.7,593.2 100.2,593.1 100.7,593.1 101.2,593.1 101.8,593.1 102.3,593.1 102.8,593.1 103.3,593.1 103.8,593.1 104.4,593.1 104.9,593.1 105.4,593.1 105.9,593.1 106.4,593.1 107,593 107.5,593 108,593 108.5,593 109,593 109.6,593 110.1,593 110.6,593 111.1,593 111.6,592.9 112.2,592.9 112.7,592.9 113.2,592.9 113.7,592.9 114.2,592.9 114.8,592.9 115.3,592.8 115.8,592.8 116.3,592.8 116.8,592.8 117.4,592.8 117.9,592.7 118.4,592.7 118.9,592.7 119.4,592.7 120,592.7 120.5,592.6 121,592.6 121.5,592.6 122,592.6 122.6,592.6 123.1,592.5 123.6,592.5 124.1,592.5 124.6,592.4 125.2,592.4 125.7,592.4 126.2,592.4 126.7,592.3 127.2,592.3 127.8,592.3 128.3,592.2 128.8,592.2 129.3,592.2 129.8,592.1 130.4,592.1 130.9,592 131.4,592 131.9,592 132.4,591.9 133,591.9 133.5,591.8 134,591.8 134.5,591.7 135,591.7 135.6,591.7 136.1,591.6 136.6,591.6 137.1,591.5 137.6,591.4 138.2,591.4 138.7,591.3 139.2,591.3 139.7,591.2 140.2,591.2 140.8,591.1 141.3,591 141.8,591 142.3,590.9 142.8,590.8 143.4,590.8 143.9,590.7 144.4,590.6 144.9,590.6 145.4,590.5 146,590.4 146.5,590.3 147,590.2 147.5,590.2 148,590.1 148.6,590 149.1,589.9 149.6,589.8 150.1,589.7 150.6,589.6 151.2,589.5 151.7,589.4 152.2,589.3 152.7,589.2 153.2,589.1 153.8,589 154.3,588.9 154.8,588.8 155.3,588.7 155.8,588.6 156.4,588.5 156.9,588.4 157.4,588.2 157.9,588.1 158.4,588 159,587.9 159.5,587.7 160,587.6 160.5,587.5 161,587.3 161.6,587.2 162.1,587.1 162.6,586.9 163.1,586.8 163.6,586.6 164.2,586.5 164.7,586.3 165.2,586.2 165.7,586 166.2,585.9 166.8,585.7 167.3,585.6 167.8,585.4 168.3,585.2 168.8,585.1 169.4,584.9 169.9,584.7 170.4,584.5 170.9,584.4 171.4,584.2 172,584 172.5,583.8 173,583.6 173.5,583.4 174,583.3 174.6,583.1 175.1,582.9 175.6,582.7 176.1,582.5 176.6,582.3 177.2,582.1 177.7,581.9 178.2,581.6 178.7,581.4 179.2,581.2 179.8,581 180.3,580.8 180.8,580.6 181.3,580.4 181.8,580.1 182.4,579.9 182.9,579.7 183.4,579.5 183.9,579.2 184.4,579 185,578.8 185.5,578.5 186,578.3 186.5,578.1 187,577.8 187.6,577.6 188.1,577.3 188.6,577.1 189.1,576.8 189.6,576.6 190.2,576.4 190.7,576.1 191.2,575.9 191.7,575.6 192.2,575.4 192.8,575.1 193.3,574.8 193.8,574.6 194.3,574.3 194.8,574.1 195.4,573.8 195.9,573.6 196.4,573.3 196.9,573.1 197.4,572.8 198,572.5 198.5,572.3 199,572 199.5,571.8 200,571.5 200.6,571.2 201.1,571 201.6,570.7 202.1,570.5 202.6,570.2 203.2,569.9 203.7,569.7 204.2,569.4 204.7,569.2 205.2,568.9 205.8,568.7 206.3,568.4 206.8,568.2 207.3,567.9 207.8,567.7 208.4,567.4 208.9,567.2 209.4,566.9 209.9,566.7 210.4,566.4 211,566.2 211.5,566 212,565.7 212.5,565.5 213.1,565.2 213.6,565 214.1,564.8 214.6,564.6 215.1,564.3 215.7,564.1 216.2,563.9 216.7,563.7 217.2,563.5 217.7,563.3 218.3,563 218.8,562.8 219.3,562.6 219.8,562.4 220.3,562.2 220.9,562 221.4,561.9 221.9,561.7 222.4,561.5 222.9,561.3 223.5,561.1 224,561 224.5,560.8 225,560.6 225.5,560.5 226.1,560.3 226.6,560.2 227.1,560 227.6,559.9 228.1,559.7 228.7,559.6 229.2,559.5 229.7,559.3 230.2,559.2 230.7,559.1 231.3,559 231.8,558.9 232.3,558.8 232.8,558.7 233.3,558.6 233.9,558.5 234.4,558.4 234.9,558.3 235.4,558.2 235.9,558.2 236.5,558.1 237,558.1 237.5,558 238,557.9 238.5,557.9 239.1,557.9 239.6,557.8 240.1,557.8 240.6,557.8 241.1,557.7 241.7,557.7 242.2,557.7 242.7,557.7 243.2,557.7 243.7,557.7 244.3,557.7 244.8,557.7 245.3,557.8 245.8,557.8 246.3,557.8 246.9,557.8 247.4,557.9 247.9,557.9 248.4,558 248.9,558 249.5,558.1 250,558.1 250.5,558.2 251,558.3 251.5,558.3 252.1,558.4 252.6,558.5 253.1,558.6 253.6,558.7 254.1,558.8 254.7,558.9 255.2,559 255.7,559.1 256.2,559.2 256.7,559.3 257.3,559.4 257.8,559.5 258.3,559.6 258.8,559.8 259.3,559.9 259.9,560 260.4,560.2 260.9,560.3 261.4,560.5 261.9,560.6 262.5,560.8 263,560.9 263.5,561.1 264,561.3 264.5,561.4 265.1,561.6 265.6,561.8 266.1,561.9 266.6,562.1 267.1,562.3 267.7,562.5 268.2,562.7 268.7,562.9 269.2,563.1 269.7,563.3 270.3,563.5 270.8,563.7 271.3,563.9 271.8,564.1 272.3,564.3 272.9,564.5 273.4,564.7 273.9,564.9 274.4,565.1 274.9,565.4 275.5,565.6 276,565.8 276.5,566 277,566.2 277.5,566.5 278.1,566.7 278.6,566.9 279.1,567.2 279.6,567.4 280.1,567.6 280.7,567.9 281.2,568.1 281.7,568.3 282.2,568.6 282.7,568.8 283.3,569 283.8,569.3 284.3,569.5 284.8,569.8 285.3,570 285.9,570.2 286.4,570.5 286.9,570.7 287.4,571 287.9,571.2 288.5,571.5 289,571.7 289.5,572 290,572.2 290.5,572.4 291.1,572.7 291.6,572.9 292.1,573.2 292.6,573.4 293.1,573.7 293.7,573.9 294.2,574.1 294.7,574.4 295.2,574.6 295.7,574.9 296.3,575.1 296.8,575.3 297.3,575.6 297.8,575.8 298.3,576 298.9,576.3 299.4,576.5 299.9,576.7 300.4,577 300.9,577.2 301.5,577.4 302,577.6 302.5,577.9 303,578.1 303.5,578.3 304.1,578.5 304.6,578.8 305.1,579 305.6,579.2 306.1,579.4 306.7,579.6 307.2,579.8 307.7,580.1 308.2,580.3 308.7,580.5 309.3,580.7 309.8,580.9 310.3,581.1 310.8,581.3 311.3,581.5 311.9,581.7 312.4,581.9 312.9,582.1 313.4,582.3 313.9,582.4 314.5,582.6 315,582.8 315.5,583 316,583.2 316.5,583.4 317.1,583.5 317.6,583.7 318.1,583.9 318.6,584.1 319.1,584.2 319.7,584.4 320.2,584.6 320.7,584.7 321.2,584.9 321.7,585.1 322.3,585.2 322.8,585.4 323.3,585.5 323.8,585.7 324.3,585.8 324.9,586 325.4,586.1 325.9,586.3 326.4,586.4 326.9,586.5 327.5,586.7 328,586.8 328.5,587 329,587.1 329.5,587.2 330.1,587.3 330.6,587.5 331.1,587.6 331.6,587.7 332.1,587.8 332.7,588 333.2,588.1 333.7,588.2 334.2,588.3 334.7,588.4 335.3,588.5 335.8,588.6 336.3,588.7 336.8,588.8 337.3,588.9 337.9,589 338.4,589.1 338.9,589.2 339.4,589.3 339.9,589.4 340.5,589.5 341,589.6 341.5,589.7 342,589.8 342.5,589.9 343.1,589.9 343.6,590 344.1,590.1 344.6,590.2 345.1,590.3 345.7,590.3 346.2,590.4 346.7,590.5 347.2,590.6 347.7,590.6 348.3,590.7 348.8,590.8 349.3,590.8 349.8,590.9 350.3,590.9 350.9,591 351.4,591.1 351.9,591.1 352.4,591.2 352.9,591.2 353.5,591.3 354,591.3 354.5,591.4 355,591.5 355.5,591.5 356.1,591.6 356.6,591.6 357.1,591.6 357.6,591.7 358.1,591.7 358.7,591.8 359.2,591.8 359.7,591.9 360.2,591.9 360.7,591.9 361.3,592 361.8,592 362.3,592.1 362.8,592.1 363.3,592.1 363.9,592.2 364.4,592.2 364.9,592.2 365.4,592.3 365.9,592.3 366.5,592.3 367,592.3 367.5,592.4" fill="none" stroke="#9ccde8" stroke-width="1.25" stroke-dasharray="6.4 2 1.1 2"/>
<path d="M56,593.3 56.5,593.3 57,593.3 57.6,593.3 58.1,593.3 58.6,593.3 59.1,593.3 59.6,593.3 60.2,593.3 60.7,593.3 61.2,593.3 61.7,593.3 62.2,593.3 62.8,593.3 63.3,593.3 63.8,593.3 64.3,593.3 64.8,593.3 65.4,593.3 65.9,593.3 66.4,593.3 66.9,593.3 67.4,593.3 68,593.3 68.5,593.3 69,593.3 69.5,593.3 70,593.3 70.6,593.3 71.1,593.3 71.6,593.3 72.1,593.3 72.6,593.3 73.2,593.3 73.7,593.3 74.2,593.3 74.7,593.3 75.2,593.3 75.8,593.3 76.3,593.3 76.8,593.3 77.3,593.3 77.8,593.3 78.4,593.3 78.9,593.3 79.4,593.3 79.9,593.3 80.4,593.3 81,593.3 81.5,593.3 82,593.3 82.5,593.3 83,593.3 83.6,593.3 84.1,593.3 84.6,593.3 85.1,593.3 85.6,593.3 86.2,593.3 86.7,593.3 87.2,593.3 87.7,593.3 88.2,593.3 88.8,593.3 89.3,593.3 89.8,593.3 90.3,593.3 90.8,593.3 91.4,593.3 91.9,593.3 92.4,593.3 92.9,593.3 93.4,593.3 94,593.3 94.5,593.3 95,593.3 95.5,593.3 96,593.3 96.6,593.3 97.1,593.3 97.6,593.3 98.1,593.3 98.6,593.3 99.2,593.3 99.7,593.3 100.2,593.3 100.7,593.3 101.2,593.3 101.8,593.3 102.3,593.3 102.8,593.3 103.3,593.3 103.8,593.3 104.4,593.3 104.9,593.3 105.4,593.3 105.9,593.3 106.4,593.3 107,593.3 107.5,593.3 108,593.3 108.5,593.3 109,593.3 109.6,593.3 110.1,593.3 110.6,593.3 111.1,593.3 111.6,593.3 112.2,593.3 112.7,593.3 113.2,593.3 113.7,593.3 114.2,593.3 114.8,593.3 115.3,593.3 115.8,593.3 116.3,593.3 116.8,593.3 117.4,593.3 117.9,593.3 118.4,593.3 118.9,593.3 119.4,593.3 120,593.3 120.5,593.3 121,593.3 121.5,593.3 122,593.3 122.6,593.3 123.1,593.3 123.6,593.3 124.1,593.3 124.6,593.3 125.2,593.3 125.7,593.3 126.2,593.3 126.7,593.3 127.2,593.3 127.8,593.3 128.3,593.3 128.8,593.3 129.3,593.3 129.8,593.3 130.4,593.3 130.9,593.3 131.4,593.3 131.9,593.3 132.4,593.3 133,593.3 133.5,593.3 134,593.3 134.5,593.3 135,593.3 135.6,593.3 136.1,593.3 136.6,593.3 137.1,593.3 137.6,593.3 138.2,593.3 138.7,593.3 139.2,593.3 139.7,593.3 140.2,593.3 140.8,593.3 141.3,593.3 141.8,593.3 142.3,593.3 142.8,593.3 143.4,593.3 143.9,593.3 144.4,593.3 144.9,593.3 145.4,593.3 146,593.3 146.5,593.3 147,593.3 147.5,593.3 148,593.3 148.6,593.3 149.1,593.3 149.6,593.3 150.1,593.3 150.6,593.3 151.2,593.3 151.7,593.3 152.2,593.3 152.7,593.3 153.2,593.3 153.8,593.3 154.3,593.3 154.8,593.3 155.3,593.3 155.8,593.3 156.4,593.3 156.9,593.3 157.4,593.3 157.9,593.3 158.4,593.3 159,593.3 159.5,593.3 160,593.3 160.5,593.3 161,593.3 161.6,593.3 162.1,593.3 162.6,593.3 163.1,593.3 163.6,593.3 164.2,593.3 164.7,593.3 165.2,593.3 165.7,593.3 166.2,593.3 166.8,593.3 167.3,593.3 167.8,593.3 168.3,593.3 168.8,593.3 169.4,593.3 169.9,593.3 170.4,593.3 170.9,593.3 171.4,593.3 172,593.3 172.5,593.3 173,593.3 173.5,593.3 174,593.3 174.6,593.3 175.1,593.3 175.6,593.3 176.1,593.3 176.6,593.3 177.2,593.3 177.7,593.3 178.2,593.3 178.7,593.3 179.2,593.3 179.8,593.3 180.3,593.3 180.8,593.3 181.3,593.3 181.8,593.3 182.4,593.3 182.9,593.3 183.4,593.3 183.9,593.3 184.4,593.3 185,593.3 185.5,593.3 186,593.3 186.5,593.3 187,593.3 187.6,593.3 188.1,593.3 188.6,593.3 189.1,593.3 189.6,593.3 190.2,593.3 190.7,593.3 191.2,593.3 191.7,593.3 192.2,593.3 192.8,593.3 193.3,593.3 193.8,593.3 194.3,593.3 194.8,593.3 195.4,593.3 195.9,593.3 196.4,593.3 196.9,593.3 197.4,593.3 198,593.3 198.5,593.3 199,593.3 199.5,593.3 200,593.3 200.6,593.3 201.1,593.3 201.6,593.3 202.1,593.3 202.6,593.3 203.2,593.3 203.7,593.3 204.2,593.3 204.7,593.3 205.2,593.3 205.8,593.3 206.3,593.3 206.8,593.3 207.3,593.3 207.8,593.3 208.4,593.3 208.9,593.3 209.4,593.3 209.9,593.3 210.4,593.3 211,593.3 211.5,593.3 212,593.3 212.5,593.3 213.1,593.3 213.6,593.3 214.1,593.3 214.6,593.3 215.1,593.3 215.7,593.3 216.2,593.3 216.7,593.3 217.2,593.3 217.7,593.3 218.3,593.3 218.8,593.3 219.3,593.3 219.8,593.3 220.3,593.3 220.9,593.3 221.4,593.3 221.9,593.3 222.4,593.3 222.9,593.3 223.5,593.3 224,593.3 224.5,593.3 225,593.3 225.5,593.3 226.1,593.3 226.6,593.3 227.1,593.3 227.6,593.3 228.1,593.3 228.7,593.3 229.2,593.3 229.7,593.3 230.2,593.3 230.7,593.3 231.3,593.3 231.8,593.3 232.3,593.3 232.8,593.3 233.3,593.3 233.9,593.3 234.4,593.3 234.9,593.3 235.4,593.3 235.9,593.3 236.5,593.3 237,593.3 237.5,593.3 238,593.3 238.5,593.3 239.1,593.3 239.6,593.3 240.1,593.3 240.6,593.3 241.1,593.3 241.7,593.3 242.2,593.3 242.7,593.3 243.2,593.3 243.7,593.3 244.3,593.3 244.8,593.3 245.3,593.3 245.8,593.3 246.3,593.3 246.9,593.3 247.4,593.3 247.9,593.3 248.4,593.3 248.9,593.3 249.5,593.3 250,593.3 250.5,593.3 251,593.3 251.5,593.3 252.1,593.3 252.6,593.3 253.1,593.3 253.6,593.3 254.1,593.3 254.7,593.3 255.2,593.3 255.7,593.3 256.2,593.3 256.7,593.3 257.3,593.3 257.8,593.3 258.3,593.3 258.8,593.3 259.3,593.3 259.9,593.3 260.4,593.3 260.9,593.3 261.4,593.3 261.9,593.3 262.5,593.3 263,593.3 263.5,593.3 264,593.3 264.5,593.3 265.1,593.3 265.6,593.3 266.1,593.3 266.6,593.3 267.1,593.3 267.7,593.3 268.2,593.3 268.7,593.3 269.2,593.3 269.7,593.3 270.3,593.3 270.8,593.3 271.3,593.3 271.8,593.3 272.3,593.3 272.9,593.3 273.4,593.3 273.9,593.3 274.4,593.3 274.9,593.3 275.5,593.3 276,593.3 276.5,593.3 277,593.3 277.5,593.3 278.1,593.3 278.6,593.3 279.1,593.3 279.6,593.3 280.1,593.3 280.7,593.3 281.2,593.3 281.7,593.3 282.2,593.3 282.7,593.3 283.3,593.3 283.8,593.3 284.3,593.3 284.8,593.3 285.3,593.3 285.9,593.3 286.4,593.3 286.9,593.3 287.4,593.3 287.9,593.3 288.5,593.3 289,593.3 289.5,593.3 290,593.3 290.5,593.3 291.1,593.3 291.6,593.3 292.1,593.2 292.6,593.2 293.1,593.2 293.7,593.2 294.2,593.1 294.7,593.1 295.2,593 295.7,592.9 296.3,592.8 296.8,592.7 297.3,592.5 297.8,592.4 298.3,592.2 298.9,592 299.4,591.7 299.9,591.4 300.4,591.1 300.9,590.7 301.5,590.4 302,589.9 302.5,589.5 303,589.1 303.5,588.6 304.1,588.1 304.6,587.6 305.1,587.2 305.6,586.7 306.1,586.3 306.7,585.9 307.2,585.6 307.7,585.3 308.2,585.1 308.7,584.9 309.3,584.8 309.8,584.8 310.3,584.9 310.8,585 311.3,585.2 311.9,585.4 312.4,585.7 312.9,586.1 313.4,586.5 313.9,587 314.5,587.4 315,587.9 315.5,588.4 316,588.8 316.5,589.3 317.1,589.8 317.6,590.2 318.1,590.6 318.6,590.9 319.1,591.3 319.7,591.6 320.2,591.8 320.7,592.1 321.2,592.3 321.7,592.5 322.3,592.6 322.8,592.8 323.3,592.9 323.8,593 324.3,593 324.9,593.1 325.4,593.1 325.9,593.2 326.4,593.2 326.9,593.2 327.5,593.2 328,593.3 328.5,593.3 329,593.3 329.5,593.3 330.1,593.3 330.6,593.3 331.1,593.3 331.6,593.3 332.1,593.3 332.7,593.3 333.2,593.3 333.7,593.3 334.2,593.3 334.7,593.3 335.3,593.3 335.8,593.3 336.3,593.3 336.8,593.3 337.3,593.3 337.9,593.3 338.4,593.3 338.9,593.3 339.4,593.3 339.9,593.3 340.5,593.3 341,593.3 341.5,593.3 342,593.3 342.5,593.3 343.1,593.3 343.6,593.3 344.1,593.3 344.6,593.3 345.1,593.3 345.7,593.3 346.2,593.3 346.7,593.3 347.2,593.3 347.7,593.3 348.3,593.3 348.8,593.3 349.3,593.3 349.8,593.3 350.3,593.3 350.9,593.3 351.4,593.3 351.9,593.3 352.4,593.3 352.9,593.3 353.5,593.3 354,593.3 354.5,593.3 355,593.3 355.5,593.3 356.1,593.3 356.6,593.3 357.1,593.3 357.6,593.3 358.1,593.3 358.7,593.3 359.2,593.3 359.7,593.3 360.2,593.3 360.7,593.3 361.3,593.3 361.8,593.3 362.3,593.3 362.8,593.3 363.3,593.3 363.9,593.3 364.4,593.3 364.9,593.3 365.4,593.3 365.9,593.3 366.5,593.3 367,593.3 367.5,593.3" fill="none" stroke="#80b658" stroke-width="1.4"/>
<path d="M56,592.6 56.5,592.6 57,592.6 57.6,592.6 58.1,592.6 58.6,592.6 59.1,592.6 59.6,592.6 60.2,592.6 60.7,592.6 61.2,592.6 61.7,592.6 62.2,592.6 62.8,592.6 63.3,592.6 63.8,592.6 64.3,592.6 64.8,592.5 65.4,592.5 65.9,592.5 66.4,592.5 66.9,592.5 67.4,592.5 68,592.5 68.5,592.5 69,592.5 69.5,592.5 70,592.5 70.6,592.5 71.1,592.5 71.6,592.4 72.1,592.4 72.6,592.4 73.2,592.4 73.7,592.4 74.2,592.4 74.7,592.4 75.2,592.4 75.8,592.4 76.3,592.4 76.8,592.4 77.3,592.4 77.8,592.3 78.4,592.3 78.9,592.3 79.4,592.3 79.9,592.3 80.4,592.3 81,592.3 81.5,592.3 82,592.3 82.5,592.2 83,592.2 83.6,592.2 84.1,592.2 84.6,592.2 85.1,592.2 85.6,592.2 86.2,592.2 86.7,592.2 87.2,592.1 87.7,592.1 88.2,592.1 88.8,592.1 89.3,592.1 89.8,592.1 90.3,592.1 90.8,592 91.4,592 91.9,592 92.4,592 92.9,592 93.4,592 94,592 94.5,591.9 95,591.9 95.5,591.9 96,591.9 96.6,591.9 97.1,591.9 97.6,591.8 98.1,591.8 98.6,591.8 99.2,591.8 99.7,591.8 100.2,591.7 100.7,591.7 101.2,591.7 101.8,591.7 102.3,591.7 102.8,591.6 103.3,591.6 103.8,591.6 104.4,591.6 104.9,591.5 105.4,591.5 105.9,591.5 106.4,591.5 107,591.4 107.5,591.4 108,591.4 108.5,591.4 109,591.3 109.6,591.3 110.1,591.3 110.6,591.2 111.1,591.2 111.6,591.2 112.2,591.2 112.7,591.1 113.2,591.1 113.7,591.1 114.2,591 114.8,591 115.3,590.9 115.8,590.9 116.3,590.9 116.8,590.8 117.4,590.8 117.9,590.8 118.4,590.7 118.9,590.7 119.4,590.6 120,590.6 120.5,590.5 121,590.5 121.5,590.4 122,590.4 122.6,590.3 123.1,590.3 123.6,590.2 124.1,590.2 124.6,590.1 125.2,590.1 125.7,590 126.2,589.9 126.7,589.9 127.2,589.8 127.8,589.8 128.3,589.7 128.8,589.6 129.3,589.5 129.8,589.5 130.4,589.4 130.9,589.3 131.4,589.2 131.9,589.2 132.4,589.1 133,589 133.5,588.9 134,588.8 134.5,588.7 135,588.6 135.6,588.5 136.1,588.4 136.6,588.3 137.1,588.2 137.6,588.1 138.2,587.9 138.7,587.8 139.2,587.7 139.7,587.5 140.2,587.4 140.8,587.3 141.3,587.1 141.8,587 142.3,586.8 142.8,586.6 143.4,586.5 143.9,586.3 144.4,586.1 144.9,585.9 145.4,585.7 146,585.5 146.5,585.3 147,585.1 147.5,584.9 148,584.6 148.6,584.4 149.1,584.1 149.6,583.9 150.1,583.6 150.6,583.3 151.2,583 151.7,582.7 152.2,582.4 152.7,582 153.2,581.7 153.8,581.3 154.3,580.9 154.8,580.5 155.3,580.1 155.8,579.7 156.4,579.2 156.9,578.7 157.4,578.2 157.9,577.7 158.4,577.2 159,576.6 159.5,576 160,575.4 160.5,574.7 161,574.1 161.6,573.4 162.1,572.6 162.6,571.9 163.1,571.1 163.6,570.2 164.2,569.4 164.7,568.5 165.2,567.6 165.7,566.6 166.2,565.6 166.8,564.6 167.3,563.5 167.8,562.4 168.3,561.3 168.8,560.2 169.4,559 169.9,557.9 170.4,556.7 170.9,555.5 171.4,554.3 172,553.1 172.5,552 173,550.8 173.5,549.8 174,548.7 174.6,547.8 175.1,546.9 175.6,546 176.1,545.3 176.6,544.7 177.2,544.2 177.7,543.8 178.2,543.6 178.7,543.5 179.2,543.5 179.8,543.7 180.3,544 180.8,544.4 181.3,544.9 181.8,545.6 182.4,546.3 182.9,547.1 183.4,548.1 183.9,549.1 184.4,550.1 185,551.2 185.5,552.3 186,553.5 186.5,554.7 187,555.9 187.6,557.1 188.1,558.2 188.6,559.4 189.1,560.6 189.6,561.7 190.2,562.8 190.7,563.9 191.2,564.9 191.7,565.9 192.2,566.9 192.8,567.9 193.3,568.8 193.8,569.7 194.3,570.5 194.8,571.3 195.4,572.1 195.9,572.9 196.4,573.6 196.9,574.3 197.4,575 198,575.6 198.5,576.2 199,576.8 199.5,577.3 200,577.9 200.6,578.4 201.1,578.9 201.6,579.4 202.1,579.8 202.6,580.2 203.2,580.6 203.7,581 204.2,581.4 204.7,581.8 205.2,582.1 205.8,582.5 206.3,582.8 206.8,583.1 207.3,583.4 207.8,583.7 208.4,584 208.9,584.2 209.4,584.5 209.9,584.7 210.4,584.9 211,585.2 211.5,585.4 212,585.6 212.5,585.8 213.1,586 213.6,586.2 214.1,586.4 214.6,586.5 215.1,586.7 215.7,586.9 216.2,587 216.7,587.2 217.2,587.3 217.7,587.5 218.3,587.6 218.8,587.7 219.3,587.8 219.8,588 220.3,588.1 220.9,588.2 221.4,588.3 221.9,588.4 222.4,588.5 222.9,588.6 223.5,588.7 224,588.8 224.5,588.9 225,589 225.5,589.1 226.1,589.2 226.6,589.3 227.1,589.3 227.6,589.4 228.1,589.5 228.7,589.6 229.2,589.6 229.7,589.7 230.2,589.8 230.7,589.8 231.3,589.9 231.8,590 232.3,590 232.8,590.1 233.3,590.1 233.9,590.2 234.4,590.3 234.9,590.3 235.4,590.4 235.9,590.4 236.5,590.5 237,590.5 237.5,590.6 238,590.6 238.5,590.6 239.1,590.7 239.6,590.7 240.1,590.8 240.6,590.8 241.1,590.8 241.7,590.9 242.2,590.9 242.7,591 243.2,591 243.7,591 244.3,591.1 244.8,591.1 245.3,591.1 245.8,591.2 246.3,591.2 246.9,591.2 247.4,591.3 247.9,591.3 248.4,591.3 248.9,591.3 249.5,591.4 250,591.4 250.5,591.4 251,591.5 251.5,591.5 252.1,591.5 252.6,591.5 253.1,591.5 253.6,591.6 254.1,591.6 254.7,591.6 255.2,591.6 255.7,591.7 256.2,591.7 256.7,591.7 257.3,591.7 257.8,591.7 258.3,591.8 258.8,591.8 259.3,591.8 259.9,591.8 260.4,591.8 260.9,591.9 261.4,591.9 261.9,591.9 262.5,591.9 263,591.9 263.5,591.9 264,592 264.5,592 265.1,592 265.6,592 266.1,592 266.6,592 267.1,592 267.7,592.1 268.2,592.1 268.7,592.1 269.2,592.1 269.7,592.1 270.3,592.1 270.8,592.1 271.3,592.2 271.8,592.2 272.3,592.2 272.9,592.2 273.4,592.2 273.9,592.2 274.4,592.2 274.9,592.2 275.5,592.3 276,592.3 276.5,592.3 277,592.3 277.5,592.3 278.1,592.3 278.6,592.3 279.1,592.3 279.6,592.3 280.1,592.3 280.7,592.4 281.2,592.4 281.7,592.4 282.2,592.4 282.7,592.4 283.3,592.4 283.8,592.4 284.3,592.4 284.8,592.4 285.3,592.4 285.9,592.4 286.4,592.5 286.9,592.5 287.4,592.5 287.9,592.5 288.5,592.5 289,592.5 289.5,592.5 290,592.5 290.5,592.5 291.1,592.5 291.6,592.5 292.1,592.5 292.6,592.5 293.1,592.5 293.7,592.6 294.2,592.6 294.7,592.6 295.2,592.6 295.7,592.6 296.3,592.6 296.8,592.6 297.3,592.6 297.8,592.6 298.3,592.6 298.9,592.6 299.4,592.6 299.9,592.6 300.4,592.6 300.9,592.6 301.5,592.6 302,592.6 302.5,592.7 303,592.7 303.5,592.7 304.1,592.7 304.6,592.7 305.1,592.7 305.6,592.7 306.1,592.7 306.7,592.7 307.2,592.7 307.7,592.7 308.2,592.7 308.7,592.7 309.3,592.7 309.8,592.7 310.3,592.7 310.8,592.7 311.3,592.7 311.9,592.7 312.4,592.7 312.9,592.7 313.4,592.8 313.9,592.8 314.5,592.8 315,592.8 315.5,592.8 316,592.8 316.5,592.8 317.1,592.8 317.6,592.8 318.1,592.8 318.6,592.8 319.1,592.8 319.7,592.8 320.2,592.8 320.7,592.8 321.2,592.8 321.7,592.8 322.3,592.8 322.8,592.8 323.3,592.8 323.8,592.8 324.3,592.8 324.9,592.8 325.4,592.8 325.9,592.8 326.4,592.8 326.9,592.8 327.5,592.9 328,592.9 328.5,592.9 329,592.9 329.5,592.9 330.1,592.9 330.6,592.9 331.1,592.9 331.6,592.9 332.1,592.9 332.7,592.9 333.2,592.9 333.7,592.9 334.2,592.9 334.7,592.9 335.3,592.9 335.8,592.9 336.3,592.9 336.8,592.9 337.3,592.9 337.9,592.9 338.4,592.9 338.9,592.9 339.4,592.9 339.9,592.9 340.5,592.9 341,592.9 341.5,592.9 342,592.9 342.5,592.9 343.1,592.9 343.6,592.9 344.1,592.9 344.6,592.9 345.1,592.9 345.7,592.9 346.2,592.9 346.7,592.9 347.2,592.9 347.7,593 348.3,593 348.8,593 349.3,593 349.8,593 350.3,593 350.9,593 351.4,593 351.9,593 352.4,593 352.9,593 353.5,593 354,593 354.5,593 355,593 355.5,593 356.1,593 356.6,593 357.1,593 357.6,593 358.1,593 358.7,593 359.2,593 359.7,593 360.2,593 360.7,593 361.3,593 361.8,593 362.3,593 362.8,593 363.3,593 363.9,593 364.4,593 364.9,593 365.4,593 365.9,593 366.5,593 367,593 367.5,593" fill="none" stroke="#4690c2" stroke-width="1.25" stroke-dasharray="5 2.2"/>
<path d="M56,591.3 56.5,591.3 57,591.3 57.6,591.3 58.1,591.2 58.6,591.2 59.1,591.2 59.6,591.2 60.2,591.1 60.7,591.1 61.2,591.1 61.7,591.1 62.2,591 62.8,591 63.3,591 63.8,590.9 64.3,590.9 64.8,590.9 65.4,590.9 65.9,590.8 66.4,590.8 66.9,590.8 67.4,590.7 68,590.7 68.5,590.6 69,590.6 69.5,590.6 70,590.5 70.6,590.5 71.1,590.5 71.6,590.4 72.1,590.4 72.6,590.3 73.2,590.3 73.7,590.2 74.2,590.2 74.7,590.1 75.2,590.1 75.8,590 76.3,590 76.8,589.9 77.3,589.9 77.8,589.8 78.4,589.8 78.9,589.7 79.4,589.7 79.9,589.6 80.4,589.6 81,589.5 81.5,589.4 82,589.4 82.5,589.3 83,589.2 83.6,589.2 84.1,589.1 84.6,589 85.1,588.9 85.6,588.9 86.2,588.8 86.7,588.7 87.2,588.6 87.7,588.5 88.2,588.4 88.8,588.3 89.3,588.3 89.8,588.2 90.3,588.1 90.8,588 91.4,587.9 91.9,587.7 92.4,587.6 92.9,587.5 93.4,587.4 94,587.3 94.5,587.2 95,587 95.5,586.9 96,586.8 96.6,586.6 97.1,586.5 97.6,586.3 98.1,586.2 98.6,586 99.2,585.9 99.7,585.7 100.2,585.5 100.7,585.3 101.2,585.1 101.8,584.9 102.3,584.7 102.8,584.5 103.3,584.3 103.8,584.1 104.4,583.9 104.9,583.6 105.4,583.4 105.9,583.1 106.4,582.9 107,582.6 107.5,582.3 108,582 108.5,581.7 109,581.4 109.6,581 110.1,580.7 110.6,580.3 111.1,579.9 111.6,579.5 112.2,579.1 112.7,578.7 113.2,578.3 113.7,577.8 114.2,577.3 114.8,576.8 115.3,576.3 115.8,575.7 116.3,575.2 116.8,574.6 117.4,573.9 117.9,573.3 118.4,572.6 118.9,571.9 119.4,571.1 120,570.3 120.5,569.5 121,568.6 121.5,567.7 122,566.8 122.6,565.8 123.1,564.7 123.6,563.6 124.1,562.5 124.6,561.3 125.2,560 125.7,558.7 126.2,557.4 126.7,555.9 127.2,554.4 127.8,552.9 128.3,551.3 128.8,549.6 129.3,547.8 129.8,546 130.4,544.1 130.9,542.2 131.4,540.2 131.9,538.2 132.4,536.1 133,534 133.5,531.9 134,529.7 134.5,527.6 135,525.5 135.6,523.4 136.1,521.4 136.6,519.5 137.1,517.7 137.6,516 138.2,514.5 138.7,513.1 139.2,512 139.7,511.1 140.2,510.4 140.8,509.9 141.3,509.7 141.8,509.8 142.3,510.1 142.8,510.7 143.4,511.5 143.9,512.5 144.4,513.7 144.9,515.2 145.4,516.8 146,518.5 146.5,520.4 147,522.3 147.5,524.4 148,526.5 148.6,528.6 149.1,530.7 149.6,532.9 150.1,535 150.6,537.1 151.2,539.1 151.7,541.1 152.2,543.1 152.7,545 153.2,546.9 153.8,548.6 154.3,550.4 154.8,552 155.3,553.6 155.8,555.1 156.4,556.6 156.9,558 157.4,559.3 157.9,560.6 158.4,561.9 159,563 159.5,564.1 160,565.2 160.5,566.2 161,567.2 161.6,568.1 162.1,569 162.6,569.9 163.1,570.7 163.6,571.5 164.2,572.2 164.7,572.9 165.2,573.6 165.7,574.2 166.2,574.8 166.8,575.4 167.3,576 167.8,576.5 168.3,577 168.8,577.5 169.4,578 169.9,578.5 170.4,578.9 170.9,579.3 171.4,579.7 172,580.1 172.5,580.5 173,580.8 173.5,581.2 174,581.5 174.6,581.8 175.1,582.1 175.6,582.4 176.1,582.7 176.6,583 177.2,583.2 177.7,583.5 178.2,583.7 178.7,584 179.2,584.2 179.8,584.4 180.3,584.6 180.8,584.8 181.3,585 181.8,585.2 182.4,585.4 182.9,585.6 183.4,585.8 183.9,585.9 184.4,586.1 185,586.2 185.5,586.4 186,586.5 186.5,586.7 187,586.8 187.6,587 188.1,587.1 188.6,587.2 189.1,587.3 189.6,587.5 190.2,587.6 190.7,587.7 191.2,587.8 191.7,587.9 192.2,588 192.8,588.1 193.3,588.2 193.8,588.3 194.3,588.4 194.8,588.5 195.4,588.6 195.9,588.7 196.4,588.7 196.9,588.8 197.4,588.9 198,589 198.5,589 199,589.1 199.5,589.2 200,589.3 200.6,589.3 201.1,589.4 201.6,589.5 202.1,589.5 202.6,589.6 203.2,589.6 203.7,589.7 204.2,589.8 204.7,589.8 205.2,589.9 205.8,589.9 206.3,590 206.8,590 207.3,590.1 207.8,590.1 208.4,590.2 208.9,590.2 209.4,590.3 209.9,590.3 210.4,590.3 211,590.4 211.5,590.4 212,590.5 212.5,590.5 213.1,590.5 213.6,590.6 214.1,590.6 214.6,590.7 215.1,590.7 215.7,590.7 216.2,590.8 216.7,590.8 217.2,590.8 217.7,590.9 218.3,590.9 218.8,590.9 219.3,591 219.8,591 220.3,591 220.9,591 221.4,591.1 221.9,591.1 222.4,591.1 222.9,591.2 223.5,591.2 224,591.2 224.5,591.2 225,591.3 225.5,591.3 226.1,591.3 226.6,591.3 227.1,591.4 227.6,591.4 228.1,591.4 228.7,591.4 229.2,591.4 229.7,591.5 230.2,591.5 230.7,591.5 231.3,591.5 231.8,591.5 232.3,591.6 232.8,591.6 233.3,591.6 233.9,591.6 234.4,591.6 234.9,591.7 235.4,591.7 235.9,591.7 236.5,591.7 237,591.7 237.5,591.7 238,591.8 238.5,591.8 239.1,591.8 239.6,591.8 240.1,591.8 240.6,591.8 241.1,591.9 241.7,591.9 242.2,591.9 242.7,591.9 243.2,591.9 243.7,591.9 244.3,591.9 244.8,592 245.3,592 245.8,592 246.3,592 246.9,592 247.4,592 247.9,592 248.4,592 248.9,592.1 249.5,592.1 250,592.1 250.5,592.1 251,592.1 251.5,592.1 252.1,592.1 252.6,592.1 253.1,592.1 253.6,592.2 254.1,592.2 254.7,592.2 255.2,592.2 255.7,592.2 256.2,592.2 256.7,592.2 257.3,592.2 257.8,592.2 258.3,592.2 258.8,592.3 259.3,592.3 259.9,592.3 260.4,592.3 260.9,592.3 261.4,592.3 261.9,592.3 262.5,592.3 263,592.3 263.5,592.3 264,592.3 264.5,592.3 265.1,592.4 265.6,592.4 266.1,592.4 266.6,592.4 267.1,592.4 267.7,592.4 268.2,592.4 268.7,592.4 269.2,592.4 269.7,592.4 270.3,592.4 270.8,592.4 271.3,592.4 271.8,592.4 272.3,592.5 272.9,592.5 273.4,592.5 273.9,592.5 274.4,592.5 274.9,592.5 275.5,592.5 276,592.5 276.5,592.5 277,592.5 277.5,592.5 278.1,592.5 278.6,592.5 279.1,592.5 279.6,592.5 280.1,592.5 280.7,592.6 281.2,592.6 281.7,592.6 282.2,592.6 282.7,592.6 283.3,592.6 283.8,592.6 284.3,592.6 284.8,592.6 285.3,592.6 285.9,592.6 286.4,592.6 286.9,592.6 287.4,592.6 287.9,592.6 288.5,592.6 289,592.6 289.5,592.6 290,592.6 290.5,592.6 291.1,592.7 291.6,592.7 292.1,592.7 292.6,592.7 293.1,592.7 293.7,592.7 294.2,592.7 294.7,592.7 295.2,592.7 295.7,592.7 296.3,592.7 296.8,592.7 297.3,592.7 297.8,592.7 298.3,592.7 298.9,592.7 299.4,592.7 299.9,592.7 300.4,592.7 300.9,592.7 301.5,592.7 302,592.7 302.5,592.7 303,592.7 303.5,592.7 304.1,592.8 304.6,592.8 305.1,592.8 305.6,592.8 306.1,592.8 306.7,592.8 307.2,592.8 307.7,592.8 308.2,592.8 308.7,592.8 309.3,592.8 309.8,592.8 310.3,592.8 310.8,592.8 311.3,592.8 311.9,592.8 312.4,592.8 312.9,592.8 313.4,592.8 313.9,592.8 314.5,592.8 315,592.8 315.5,592.8 316,592.8 316.5,592.8 317.1,592.8 317.6,592.8 318.1,592.8 318.6,592.8 319.1,592.8 319.7,592.8 320.2,592.8 320.7,592.8 321.2,592.9 321.7,592.9 322.3,592.9 322.8,592.9 323.3,592.9 323.8,592.9 324.3,592.9 324.9,592.9 325.4,592.9 325.9,592.9 326.4,592.9 326.9,592.9 327.5,592.9 328,592.9 328.5,592.9 329,592.9 329.5,592.9 330.1,592.9 330.6,592.9 331.1,592.9 331.6,592.9 332.1,592.9 332.7,592.9 333.2,592.9 333.7,592.9 334.2,592.9 334.7,592.9 335.3,592.9 335.8,592.9 336.3,592.9 336.8,592.9 337.3,592.9 337.9,592.9 338.4,592.9 338.9,592.9 339.4,592.9 339.9,592.9 340.5,592.9 341,592.9 341.5,592.9 342,592.9 342.5,592.9 343.1,592.9 343.6,592.9 344.1,592.9 344.6,592.9 345.1,592.9 345.7,593 346.2,593 346.7,593 347.2,593 347.7,593 348.3,593 348.8,593 349.3,593 349.8,593 350.3,593 350.9,593 351.4,593 351.9,593 352.4,593 352.9,593 353.5,593 354,593 354.5,593 355,593 355.5,593 356.1,593 356.6,593 357.1,593 357.6,593 358.1,593 358.7,593 359.2,593 359.7,593 360.2,593 360.7,593 361.3,593 361.8,593 362.3,593 362.8,593 363.3,593 363.9,593 364.4,593 364.9,593 365.4,593 365.9,593 366.5,593 367,593 367.5,593" fill="none" stroke="#1e1e1e" stroke-width="1.3" stroke-dasharray="1.3 1.95"/>
<path d="M56,591.6 56.5,591.6 57,591.6 57.6,591.5 58.1,591.5 58.6,591.5 59.1,591.5 59.6,591.4 60.2,591.4 60.7,591.4 61.2,591.3 61.7,591.3 62.2,591.3 62.8,591.3 63.3,591.2 63.8,591.2 64.3,591.2 64.8,591.1 65.4,591.1 65.9,591 66.4,591 66.9,591 67.4,590.9 68,590.9 68.5,590.8 69,590.8 69.5,590.7 70,590.7 70.6,590.7 71.1,590.6 71.6,590.6 72.1,590.5 72.6,590.5 73.2,590.4 73.7,590.3 74.2,590.3 74.7,590.2 75.2,590.2 75.8,590.1 76.3,590 76.8,590 77.3,589.9 77.8,589.8 78.4,589.8 78.9,589.7 79.4,589.6 79.9,589.5 80.4,589.4 81,589.4 81.5,589.3 82,589.2 82.5,589.1 83,589 83.6,588.9 84.1,588.8 84.6,588.7 85.1,588.6 85.6,588.4 86.2,588.3 86.7,588.2 87.2,588.1 87.7,587.9 88.2,587.8 88.8,587.6 89.3,587.5 89.8,587.3 90.3,587.2 90.8,587 91.4,586.8 91.9,586.7 92.4,586.5 92.9,586.3 93.4,586.1 94,585.8 94.5,585.6 95,585.4 95.5,585.1 96,584.9 96.6,584.6 97.1,584.3 97.6,584 98.1,583.7 98.6,583.4 99.2,583 99.7,582.7 100.2,582.3 100.7,581.9 101.2,581.5 101.8,581.1 102.3,580.6 102.8,580.1 103.3,579.6 103.8,579.1 104.4,578.5 104.9,577.9 105.4,577.3 105.9,576.6 106.4,575.9 107,575.1 107.5,574.3 108,573.5 108.5,572.6 109,571.6 109.6,570.6 110.1,569.5 110.6,568.4 111.1,567.2 111.6,565.9 112.2,564.5 112.7,563.1 113.2,561.5 113.7,559.9 114.2,558.1 114.8,556.3 115.3,554.4 115.8,552.3 116.3,550.2 116.8,547.9 117.4,545.5 117.9,543.1 118.4,540.6 118.9,537.9 119.4,535.3 120,532.6 120.5,529.9 121,527.2 121.5,524.6 122,522.2 122.6,519.8 123.1,517.8 123.6,515.9 124.1,514.4 124.6,513.3 125.2,512.5 125.7,512.2 126.2,512.3 126.7,513 127.2,514.4 127.8,516.3 128.3,518.6 128.8,521.3 129.3,524.3 129.8,527.5 130.4,530.8 130.9,534.1 131.4,537.4 131.9,540.6 132.4,543.7 133,546.7 133.5,549.5 134,552.2 134.5,554.7 135,557.1 135.6,559.2 136.1,561.3 136.6,563.2 137.1,565 137.6,566.6 138.2,568.1 138.7,569.5 139.2,570.8 139.7,572.1 140.2,573.2 140.8,574.3 141.3,575.2 141.8,576.1 142.3,577 142.8,577.8 143.4,578.5 143.9,579.2 144.4,579.9 144.9,580.5 145.4,581.1 146,581.6 146.5,582.1 147,582.6 147.5,583 148,583.4 148.6,583.8 149.1,584.2 149.6,584.5 150.1,584.9 150.6,585.2 151.2,585.5 151.7,585.8 152.2,586 152.7,586.3 153.2,586.5 153.8,586.8 154.3,587 154.8,587.2 155.3,587.4 155.8,587.6 156.4,587.8 156.9,587.9 157.4,588.1 157.9,588.3 158.4,588.4 159,588.5 159.5,588.7 160,588.8 160.5,588.9 161,589.1 161.6,589.2 162.1,589.3 162.6,589.4 163.1,589.5 163.6,589.6 164.2,589.7 164.7,589.8 165.2,589.9 165.7,590 166.2,590 166.8,590.1 167.3,590.2 167.8,590.3 168.3,590.3 168.8,590.4 169.4,590.5 169.9,590.5 170.4,590.6 170.9,590.7 171.4,590.7 172,590.8 172.5,590.8 173,590.9 173.5,590.9 174,591 174.6,591 175.1,591.1 175.6,591.1 176.1,591.2 176.6,591.2 177.2,591.3 177.7,591.3 178.2,591.3 178.7,591.4 179.2,591.4 179.8,591.4 180.3,591.5 180.8,591.5 181.3,591.5 181.8,591.6 182.4,591.6 182.9,591.6 183.4,591.7 183.9,591.7 184.4,591.7 185,591.7 185.5,591.8 186,591.8 186.5,591.8 187,591.8 187.6,591.9 188.1,591.9 188.6,591.9 189.1,591.9 189.6,592 190.2,592 190.7,592 191.2,592 191.7,592 192.2,592.1 192.8,592.1 193.3,592.1 193.8,592.1 194.3,592.1 194.8,592.2 195.4,592.2 195.9,592.2 196.4,592.2 196.9,592.2 197.4,592.2 198,592.2 198.5,592.3 199,592.3 199.5,592.3 200,592.3 200.6,592.3 201.1,592.3 201.6,592.3 202.1,592.4 202.6,592.4 203.2,592.4 203.7,592.4 204.2,592.4 204.7,592.4 205.2,592.4 205.8,592.4 206.3,592.5 206.8,592.5 207.3,592.5 207.8,592.5 208.4,592.5 208.9,592.5 209.4,592.5 209.9,592.5 210.4,592.5 211,592.5 211.5,592.6 212,592.6 212.5,592.6 213.1,592.6 213.6,592.6 214.1,592.6 214.6,592.6 215.1,592.6 215.7,592.6 216.2,592.6 216.7,592.6 217.2,592.6 217.7,592.6 218.3,592.7 218.8,592.7 219.3,592.7 219.8,592.7 220.3,592.7 220.9,592.7 221.4,592.7 221.9,592.7 222.4,592.7 222.9,592.7 223.5,592.7 224,592.7 224.5,592.7 225,592.7 225.5,592.7 226.1,592.8 226.6,592.8 227.1,592.8 227.6,592.8 228.1,592.8 228.7,592.8 229.2,592.8 229.7,592.8 230.2,592.8 230.7,592.8 231.3,592.8 231.8,592.8 232.3,592.8 232.8,592.8 233.3,592.8 233.9,592.8 234.4,592.8 234.9,592.8 235.4,592.8 235.9,592.8 236.5,592.8 237,592.9 237.5,592.9 238,592.9 238.5,592.9 239.1,592.9 239.6,592.9 240.1,592.9 240.6,592.9 241.1,592.9 241.7,592.9 242.2,592.9 242.7,592.9 243.2,592.9 243.7,592.9 244.3,592.9 244.8,592.9 245.3,592.9 245.8,592.9 246.3,592.9 246.9,592.9 247.4,592.9 247.9,592.9 248.4,592.9 248.9,592.9 249.5,592.9 250,592.9 250.5,592.9 251,592.9 251.5,593 252.1,593 252.6,593 253.1,593 253.6,593 254.1,593 254.7,593 255.2,593 255.7,593 256.2,593 256.7,593 257.3,593 257.8,593 258.3,593 258.8,593 259.3,593 259.9,593 260.4,593 260.9,593 261.4,593 261.9,593 262.5,593 263,593 263.5,593 264,593 264.5,593 265.1,593 265.6,593 266.1,593 266.6,593 267.1,593 267.7,593 268.2,593 268.7,593 269.2,593 269.7,593 270.3,593 270.8,593 271.3,593 271.8,593 272.3,593 272.9,593 273.4,593 273.9,593 274.4,593 274.9,593.1 275.5,593.1 276,593.1 276.5,593.1 277,593.1 277.5,593.1 278.1,593.1 278.6,593.1 279.1,593.1 279.6,593.1 280.1,593.1 280.7,593.1 281.2,593.1 281.7,593.1 282.2,593.1 282.7,593.1 283.3,593.1 283.8,593.1 284.3,593.1 284.8,593.1 285.3,593.1 285.9,593.1 286.4,593.1 286.9,593.1 287.4,593.1 287.9,593.1 288.5,593.1 289,593.1 289.5,593.1 290,593.1 290.5,593.1 291.1,593.1 291.6,593.1 292.1,593.1 292.6,593.1 293.1,593.1 293.7,593.1 294.2,593.1 294.7,593.1 295.2,593.1 295.7,593.1 296.3,593.1 296.8,593.1 297.3,593.1 297.8,593.1 298.3,593.1 298.9,593.1 299.4,593.1 299.9,593.1 300.4,593.1 300.9,593.1 301.5,593.1 302,593.1 302.5,593.1 303,593.1 303.5,593.1 304.1,593.1 304.6,593.1 305.1,593.1 305.6,593.1 306.1,593.1 306.7,593.1 307.2,593.1 307.7,593.1 308.2,593.1 308.7,593.1 309.3,593.1 309.8,593.1 310.3,593.1 310.8,593.1 311.3,593.1 311.9,593.1 312.4,593.1 312.9,593.1 313.4,593.1 313.9,593.1 314.5,593.1 315,593.1 315.5,593.1 316,593.1 316.5,593.1 317.1,593.1 317.6,593.1 318.1,593.2 318.6,593.2 319.1,593.2 319.7,593.2 320.2,593.2 320.7,593.2 321.2,593.2 321.7,593.2 322.3,593.2 322.8,593.2 323.3,593.2 323.8,593.2 324.3,593.2 324.9,593.2 325.4,593.2 325.9,593.2 326.4,593.2 326.9,593.2 327.5,593.2 328,593.2 328.5,593.2 329,593.2 329.5,593.2 330.1,593.2 330.6,593.2 331.1,593.2 331.6,593.2 332.1,593.2 332.7,593.2 333.2,593.2 333.7,593.2 334.2,593.2 334.7,593.2 335.3,593.2 335.8,593.2 336.3,593.2 336.8,593.2 337.3,593.2 337.9,593.2 338.4,593.2 338.9,593.2 339.4,593.2 339.9,593.2 340.5,593.2 341,593.2 341.5,593.2 342,593.2 342.5,593.2 343.1,593.2 343.6,593.2 344.1,593.2 344.6,593.2 345.1,593.2 345.7,593.2 346.2,593.2 346.7,593.2 347.2,593.2 347.7,593.2 348.3,593.2 348.8,593.2 349.3,593.2 349.8,593.2 350.3,593.2 350.9,593.2 351.4,593.2 351.9,593.2 352.4,593.2 352.9,593.2 353.5,593.2 354,593.2 354.5,593.2 355,593.2 355.5,593.2 356.1,593.2 356.6,593.2 357.1,593.2 357.6,593.2 358.1,593.2 358.7,593.2 359.2,593.2 359.7,593.2 360.2,593.2 360.7,593.2 361.3,593.2 361.8,593.2 362.3,593.2 362.8,593.2 363.3,593.2 363.9,593.2 364.4,593.2 364.9,593.2 365.4,593.2 365.9,593.2 366.5,593.2 367,593.2 367.5,593.2" fill="none" stroke="#80395a" stroke-width="1.25" stroke-dasharray="8.5 3"/>
<path d="M56,593.3 56.5,593.3 57,593.3 57.6,593.3 58.1,593.3 58.6,593.3 59.1,593.3 59.6,593.3 60.2,593.3 60.7,593.3 61.2,593.3 61.7,593.3 62.2,593.3 62.8,593.3 63.3,593.3 63.8,593.3 64.3,593.3 64.8,593.3 65.4,593.3 65.9,593.3 66.4,593.3 66.9,593.3 67.4,593.3 68,593.3 68.5,593.3 69,593.3 69.5,593.3 70,593.3 70.6,593.3 71.1,593.3 71.6,593.3 72.1,593.3 72.6,593.3 73.2,593.3 73.7,593.3 74.2,593.3 74.7,593.3 75.2,593.3 75.8,593.3 76.3,593.3 76.8,593.3 77.3,593.3 77.8,593.3 78.4,593.3 78.9,593.3 79.4,593.3 79.9,593.3 80.4,593.3 81,593.3 81.5,593.3 82,593.3 82.5,593.3 83,593.3 83.6,593.3 84.1,593.3 84.6,593.3 85.1,593.3 85.6,593.3 86.2,593.3 86.7,593.3 87.2,593.3 87.7,593.3 88.2,593.3 88.8,593.3 89.3,593.3 89.8,593.3 90.3,593.3 90.8,593.3 91.4,593.3 91.9,593.3 92.4,593.3 92.9,593.3 93.4,593.3 94,593.3 94.5,593.3 95,593.3 95.5,593.3 96,593.3 96.6,593.3 97.1,593.3 97.6,593.3 98.1,593.3 98.6,593.3 99.2,593.3 99.7,593.3 100.2,593.3 100.7,593.3 101.2,593.3 101.8,593.3 102.3,593.3 102.8,593.3 103.3,593.3 103.8,593.3 104.4,593.3 104.9,593.3 105.4,593.3 105.9,593.3 106.4,593.3 107,593.3 107.5,593.3 108,593.3 108.5,593.3 109,593.3 109.6,593.3 110.1,593.3 110.6,593.3 111.1,593.3 111.6,593.3 112.2,593.3 112.7,593.3 113.2,593.3 113.7,593.3 114.2,593.3 114.8,593.3 115.3,593.3 115.8,593.3 116.3,593.3 116.8,593.3 117.4,593.3 117.9,593.3 118.4,593.3 118.9,593.3 119.4,593.3 120,593.3 120.5,593.3 121,593.3 121.5,593.3 122,593.3 122.6,593.3 123.1,593.3 123.6,593.3 124.1,593.3 124.6,593.3 125.2,593.3 125.7,593.3 126.2,593.3 126.7,593.3 127.2,593.3 127.8,593.3 128.3,593.3 128.8,593.3 129.3,593.3 129.8,593.3 130.4,593.3 130.9,593.3 131.4,593.3 131.9,593.3 132.4,593.3 133,593.3 133.5,593.3 134,593.3 134.5,593.3 135,593.3 135.6,593.3 136.1,593.3 136.6,593.3 137.1,593.3 137.6,593.3 138.2,593.3 138.7,593.3 139.2,593.3 139.7,593.3 140.2,593.3 140.8,593.3 141.3,593.3 141.8,593.3 142.3,593.3 142.8,593.3 143.4,593.3 143.9,593.3 144.4,593.3 144.9,593.3 145.4,593.3 146,593.3 146.5,593.3 147,593.3 147.5,593.3 148,593.3 148.6,593.3 149.1,593.3 149.6,593.3 150.1,593.3 150.6,593.3 151.2,593.3 151.7,593.3 152.2,593.3 152.7,593.3 153.2,593.3 153.8,593.3 154.3,593.3 154.8,593.3 155.3,593.3 155.8,593.3 156.4,593.3 156.9,593.3 157.4,593.3 157.9,593.3 158.4,593.3 159,593.3 159.5,593.3 160,593.3 160.5,593.3 161,593.3 161.6,593.3 162.1,593.3 162.6,593.3 163.1,593.3 163.6,593.3 164.2,593.3 164.7,593.3 165.2,593.3 165.7,593.3 166.2,593.3 166.8,593.3 167.3,593.3 167.8,593.3 168.3,593.3 168.8,593.3 169.4,593.3 169.9,593.3 170.4,593.2 170.9,593.2 171.4,593.2 172,593.2 172.5,593.1 173,593.1 173.5,593 174,592.9 174.6,592.8 175.1,592.6 175.6,592.5 176.1,592.3 176.6,592 177.2,591.7 177.7,591.3 178.2,590.9 178.7,590.4 179.2,589.7 179.8,589 180.3,588.1 180.8,587.1 181.3,585.9 181.8,584.5 182.4,582.9 182.9,581.1 183.4,579 183.9,576.7 184.4,574 185,571.1 185.5,567.9 186,564.3 186.5,560.3 187,556.1 187.6,551.5 188.1,546.5 188.6,541.2 189.1,535.6 189.6,529.7 190.2,523.6 190.7,517.2 191.2,510.7 191.7,504 192.2,497.3 192.8,490.6 193.3,483.9 193.8,477.4 194.3,471.1 194.8,465.1 195.4,459.5 195.9,454.3 196.4,449.5 196.9,445.4 197.4,441.9 198,439.1 198.5,437 199,435.6 199.5,435 200,435.2 200.6,436.1 201.1,437.9 201.6,440.3 202.1,443.5 202.6,447.3 203.2,451.7 203.7,456.6 204.2,462.1 204.7,467.9 205.2,474 205.8,480.4 206.3,487 206.8,493.7 207.3,500.5 207.8,507.2 208.4,513.8 208.9,520.2 209.4,526.5 209.9,532.5 210.4,538.3 211,543.7 211.5,548.9 212,553.7 212.5,558.1 213.1,562.2 213.6,566 214.1,569.4 214.6,572.5 215.1,575.3 215.7,577.8 216.2,580 216.7,581.9 217.2,583.7 217.7,585.1 218.3,586.4 218.8,587.6 219.3,588.5 219.8,589.3 220.3,590 220.9,590.6 221.4,591.1 221.9,591.5 222.4,591.9 222.9,592.1 223.5,592.4 224,592.6 224.5,592.7 225,592.8 225.5,592.9 226.1,593 226.6,593.1 227.1,593.1 227.6,593.2 228.1,593.2 228.7,593.2 229.2,593.2 229.7,593.3 230.2,593.3 230.7,593.3 231.3,593.3 231.8,593.3 232.3,593.3 232.8,593.3 233.3,593.3 233.9,593.3 234.4,593.3 234.9,593.3 235.4,593.3 235.9,593.3 236.5,593.3 237,593.3 237.5,593.3 238,593.3 238.5,593.3 239.1,593.3 239.6,593.3 240.1,593.3 240.6,593.3 241.1,593.3 241.7,593.3 242.2,593.3 242.7,593.3 243.2,593.3 243.7,593.3 244.3,593.3 244.8,593.3 245.3,593.3 245.8,593.3 246.3,593.3 246.9,593.3 247.4,593.3 247.9,593.3 248.4,593.3 248.9,593.3 249.5,593.3 250,593.3 250.5,593.3 251,593.3 251.5,593.3 252.1,593.3 252.6,593.3 253.1,593.3 253.6,593.3 254.1,593.3 254.7,593.3 255.2,593.3 255.7,593.3 256.2,593.3 256.7,593.3 257.3,593.3 257.8,593.3 258.3,593.3 258.8,593.3 259.3,593.3 259.9,593.3 260.4,593.3 260.9,593.3 261.4,593.3 261.9,593.3 262.5,593.3 263,593.3 263.5,593.3 264,593.3 264.5,593.3 265.1,593.3 265.6,593.3 266.1,593.3 266.6,593.3 267.1,593.3 267.7,593.3 268.2,593.3 268.7,593.3 269.2,593.3 269.7,593.3 270.3,593.3 270.8,593.3 271.3,593.3 271.8,593.3 272.3,593.3 272.9,593.3 273.4,593.3 273.9,593.3 274.4,593.3 274.9,593.3 275.5,593.3 276,593.3 276.5,593.3 277,593.3 277.5,593.3 278.1,593.3 278.6,593.3 279.1,593.3 279.6,593.3 280.1,593.3 280.7,593.3 281.2,593.3 281.7,593.3 282.2,593.3 282.7,593.3 283.3,593.3 283.8,593.3 284.3,593.3 284.8,593.3 285.3,593.3 285.9,593.3 286.4,593.3 286.9,593.3 287.4,593.3 287.9,593.3 288.5,593.3 289,593.3 289.5,593.3 290,593.3 290.5,593.3 291.1,593.3 291.6,593.3 292.1,593.3 292.6,593.3 293.1,593.3 293.7,593.3 294.2,593.3 294.7,593.3 295.2,593.3 295.7,593.3 296.3,593.3 296.8,593.3 297.3,593.3 297.8,593.3 298.3,593.3 298.9,593.3 299.4,593.3 299.9,593.3 300.4,593.3 300.9,593.3 301.5,593.3 302,593.3 302.5,593.3 303,593.3 303.5,593.3 304.1,593.3 304.6,593.3 305.1,593.3 305.6,593.3 306.1,593.3 306.7,593.3 307.2,593.3 307.7,593.3 308.2,593.3 308.7,593.3 309.3,593.3 309.8,593.3 310.3,593.3 310.8,593.3 311.3,593.3 311.9,593.3 312.4,593.3 312.9,593.3 313.4,593.3 313.9,593.3 314.5,593.3 315,593.3 315.5,593.3 316,593.3 316.5,593.3 317.1,593.3 317.6,593.3 318.1,593.3 318.6,593.3 319.1,593.3 319.7,593.3 320.2,593.3 320.7,593.3 321.2,593.3 321.7,593.3 322.3,593.3 322.8,593.3 323.3,593.3 323.8,593.3 324.3,593.3 324.9,593.3 325.4,593.3 325.9,593.3 326.4,593.3 326.9,593.3 327.5,593.3 328,593.3 328.5,593.3 329,593.3 329.5,593.3 330.1,593.3 330.6,593.3 331.1,593.3 331.6,593.3 332.1,593.3 332.7,593.3 333.2,593.3 333.7,593.3 334.2,593.3 334.7,593.3 335.3,593.3 335.8,593.3 336.3,593.3 336.8,593.3 337.3,593.3 337.9,593.3 338.4,593.3 338.9,593.3 339.4,593.3 339.9,593.3 340.5,593.3 341,593.3 341.5,593.3 342,593.3 342.5,593.3 343.1,593.3 343.6,593.3 344.1,593.3 344.6,593.3 345.1,593.3 345.7,593.3 346.2,593.3 346.7,593.3 347.2,593.3 347.7,593.3 348.3,593.3 348.8,593.3 349.3,593.3 349.8,593.3 350.3,593.3 350.9,593.3 351.4,593.3 351.9,593.3 352.4,593.3 352.9,593.3 353.5,593.3 354,593.3 354.5,593.3 355,593.3 355.5,593.3 356.1,593.3 356.6,593.3 357.1,593.3 357.6,593.3 358.1,593.3 358.7,593.3 359.2,593.3 359.7,593.3 360.2,593.3 360.7,593.3 361.3,593.3 361.8,593.3 362.3,593.3 362.8,593.3 363.3,593.3 363.9,593.3 364.4,593.3 364.9,593.3 365.4,593.3 365.9,593.3 366.5,593.3 367,593.3 367.5,593.3" fill="none" stroke="#5a4e8e" stroke-width="1.25" stroke-dasharray="6.5 1.7 1.1 2.1 1.1 2.1"/>
<path d="M56,588.2 56.5,588.2 57,588.2 57.6,588.2 58.1,588.2 58.6,588.1 59.1,588.1 59.6,588.1 60.2,588 60.7,588 61.2,588 61.7,587.9 62.2,587.9 62.8,587.8 63.3,587.8 63.8,587.7 64.3,587.6 64.8,587.6 65.4,587.5 65.9,587.4 66.4,587.3 66.9,587.3 67.4,587.2 68,587.1 68.5,587 69,586.9 69.5,586.8 70,586.7 70.6,586.5 71.1,586.4 71.6,586.3 72.1,586.2 72.6,586.1 73.2,586 73.7,585.9 74.2,585.7 74.7,585.6 75.2,585.5 75.8,585.4 76.3,585.3 76.8,585.2 77.3,585 77.8,584.9 78.4,584.8 78.9,584.7 79.4,584.6 79.9,584.5 80.4,584.3 81,584.2 81.5,584.1 82,583.9 82.5,583.8 83,583.6 83.6,583.5 84.1,583.3 84.6,583.1 85.1,583 85.6,582.8 86.2,582.6 86.7,582.4 87.2,582.2 87.7,582 88.2,581.7 88.8,581.5 89.3,581.3 89.8,581 90.3,580.8 90.8,580.5 91.4,580.3 91.9,580 92.4,579.7 92.9,579.4 93.4,579.1 94,578.8 94.5,578.5 95,578.2 95.5,577.9 96,577.6 96.6,577.3 97.1,576.9 97.6,576.6 98.1,576.2 98.6,575.8 99.2,575.4 99.7,574.9 100.2,574.4 100.7,573.8 101.2,573.2 101.8,572.5 102.3,571.8 102.8,571 103.3,570.2 103.8,569.4 104.4,568.5 104.9,567.5 105.4,566.5 105.9,565.5 106.4,564.4 107,563.2 107.5,561.9 108,560.5 108.5,559 109,557.4 109.6,555.7 110.1,554.1 110.6,552.3 111.1,550.6 111.6,548.9 112.2,547.1 112.7,545.1 113.2,543.1 113.7,541 114.2,538.7 114.8,536.3 115.3,533.8 115.8,531.2 116.3,528.6 116.8,526.1 117.4,523.4 117.9,520.7 118.4,517.8 118.9,514.8 119.4,511.5 120,508.1 120.5,504.6 121,500.9 121.5,497.1 122,493.5 122.6,489.9 123.1,486.5 123.6,483.3 124.1,480.4 124.6,477.9 125.2,475.7 125.7,473.9 126.2,472.5 126.7,471.6 127.2,471.3 127.8,471.4 128.3,471.6 128.8,472 129.3,472.5 129.8,472.9 130.4,473.3 130.9,473.5 131.4,473.7 131.9,473.8 132.4,473.7 133,473.6 133.5,473.5 134,473.3 134.5,473.2 135,473.2 135.6,473.8 136.1,474.6 136.6,475.1 137.1,475.5 137.6,475.9 138.2,476.3 138.7,476.8 139.2,477.3 139.7,477.8 140.2,478.5 140.8,479.2 141.3,480.1 141.8,481.1 142.3,482.4 142.8,483.8 143.4,485.3 143.9,487 144.4,488.8 144.9,490.8 145.4,492.7 146,494.7 146.5,496.6 147,498.4 147.5,500 148,501.5 148.6,503 149.1,504.4 149.6,505.8 150.1,507.2 150.6,508.7 151.2,510.3 151.7,511.8 152.2,513.3 152.7,514.6 153.2,515.9 153.8,517.2 154.3,518.4 154.8,519.5 155.3,520.6 155.8,521.6 156.4,522.6 156.9,523.5 157.4,524.3 157.9,525.1 158.4,525.7 159,526.3 159.5,526.8 160,527.2 160.5,527.6 161,527.9 161.6,528.2 162.1,528.5 162.6,528.8 163.1,529 163.6,529.2 164.2,529.4 164.7,529.4 165.2,529.4 165.7,529.4 166.2,529.3 166.8,529.2 167.3,529 167.8,528.9 168.3,528.7 168.8,528.5 169.4,528.2 169.9,527.9 170.4,527.5 170.9,527 171.4,526.4 172,525.7 172.5,524.9 173,524 173.5,523.1 174,522.1 174.6,521.2 175.1,520.3 175.6,519.4 176.1,518.6 176.6,517.8 177.2,517 177.7,516.3 178.2,515.6 178.7,514.9 179.2,514.3 179.8,513.7 180.3,513 180.8,512.3 181.3,511.6 181.8,510.7 182.4,509.7 182.9,508.5 183.4,507.1 183.9,505.5 184.4,503.6 185,501.4 185.5,498.9 186,495.5 186.5,491.1 187,486.1 187.6,480.7 188.1,475.2 188.6,470 189.1,465.1 189.6,460 190.2,454.6 190.7,449.2 191.2,443.6 191.7,437.8 192.2,431.9 192.8,426 193.3,420.2 193.8,414.4 194.3,408.8 194.8,403.5 195.4,398.6 195.9,394 196.4,389.9 196.9,386.4 197.4,383.7 198,382 198.5,381.3 199,381.2 199.5,381.6 200,382.5 200.6,384.1 201.1,386.3 201.6,389.1 202.1,392.5 202.6,396.6 203.2,401.3 203.7,406.4 204.2,412.1 204.7,418.2 205.2,426.3 205.8,435.9 206.3,445.1 206.8,452.2 207.3,458.4 207.8,464.3 208.4,470.6 208.9,476.8 209.4,482.8 209.9,488.6 210.4,494.2 211,499.4 211.5,504.4 212,509 212.5,513.3 213.1,517.2 213.6,520.8 214.1,524.2 214.6,527.2 215.1,529.9 215.7,532.3 216.2,534.5 216.7,536.5 217.2,538.5 217.7,540.3 218.3,541.9 218.8,543.4 219.3,544.6 219.8,545.7 220.3,546.6 220.9,547.3 221.4,547.9 221.9,548.5 222.4,548.9 222.9,549.3 223.5,549.7 224,550 224.5,550.2 225,550.4 225.5,550.6 226.1,550.8 226.6,550.9 227.1,551.1 227.6,551.2 228.1,551.4 228.7,551.5 229.2,551.6 229.7,551.8 230.2,551.9 230.7,552 231.3,552.1 231.8,552.2 232.3,552.3 232.8,552.4 233.3,552.5 233.9,552.5 234.4,552.6 234.9,552.7 235.4,552.7 235.9,552.7 236.5,552.8 237,552.8 237.5,552.8 238,552.9 238.5,552.9 239.1,552.9 239.6,553 240.1,553 240.6,553.1 241.1,553.1 241.7,553.2 242.2,553.2 242.7,553.3 243.2,553.4 243.7,553.4 244.3,553.5 244.8,553.6 245.3,553.6 245.8,553.7 246.3,553.8 246.9,553.9 247.4,553.9 247.9,554 248.4,554.1 248.9,554.2 249.5,554.3 250,554.4 250.5,554.5 251,554.6 251.5,554.7 252.1,554.8 252.6,554.9 253.1,555 253.6,555.1 254.1,555.3 254.7,555.4 255.2,555.5 255.7,555.7 256.2,555.8 256.7,555.9 257.3,556.1 257.8,556.2 258.3,556.3 258.8,556.5 259.3,556.6 259.9,556.8 260.4,556.9 260.9,557.1 261.4,557.2 261.9,557.4 262.5,557.5 263,557.7 263.5,557.9 264,558 264.5,558.2 265.1,558.4 265.6,558.6 266.1,558.8 266.6,559 267.1,559.2 267.7,559.5 268.2,559.7 268.7,560 269.2,560.2 269.7,560.5 270.3,560.8 270.8,561 271.3,561.3 271.8,561.6 272.3,561.9 272.9,562.2 273.4,562.4 273.9,562.7 274.4,563 274.9,563.3 275.5,563.5 276,563.8 276.5,564 277,564.3 277.5,564.5 278.1,564.8 278.6,565.1 279.1,565.3 279.6,565.6 280.1,565.8 280.7,566.1 281.2,566.4 281.7,566.6 282.2,566.9 282.7,567.1 283.3,567.4 283.8,567.7 284.3,567.9 284.8,568.2 285.3,568.4 285.9,568.7 286.4,568.9 286.9,569.1 287.4,569.3 287.9,569.4 288.5,569.5 289,569.6 289.5,569.7 290,569.9 290.5,570 291.1,570.1 291.6,570.3 292.1,570.5 292.6,570.8 293.1,571.2 293.7,571.5 294.2,571.9 294.7,572.2 295.2,572.5 295.7,572.7 296.3,572.8 296.8,572.9 297.3,572.9 297.8,572.9 298.3,572.8 298.9,572.7 299.4,572.6 299.9,572.5 300.4,572.3 300.9,572.2 301.5,572.1 302,571.9 302.5,571.8 303,571.7 303.5,571.5 304.1,571.4 304.6,571.3 305.1,571.2 305.6,571.1 306.1,571 306.7,570.9 307.2,570.9 307.7,570.9 308.2,571 308.7,571.1 309.3,571.3 309.8,571.5 310.3,571.7 310.8,572 311.3,572.3 311.9,572.7 312.4,573.1 312.9,573.6 313.4,574 313.9,574.6 314.5,575.1 315,575.6 315.5,576.2 316,576.7 316.5,577.3 317.1,577.9 317.6,578.4 318.1,579 318.6,579.5 319.1,580 319.7,580.5 320.2,581 320.7,581.5 321.2,581.9 321.7,582.3 322.3,582.7 322.8,583.1 323.3,583.4 323.8,583.7 324.3,584 324.9,584.3 325.4,584.6 325.9,584.8 326.4,585 326.9,585.2 327.5,585.4 328,585.6 328.5,585.8 329,586 329.5,586.2 330.1,586.3 330.6,586.5 331.1,586.6 331.6,586.8 332.1,586.9 332.7,587.1 333.2,587.2 333.7,587.4 334.2,587.5 334.7,587.6 335.3,587.8 335.8,587.9 336.3,588 336.8,588.1 337.3,588.3 337.9,588.4 338.4,588.5 338.9,588.6 339.4,588.7 339.9,588.8 340.5,588.9 341,589 341.5,589.1 342,589.2 342.5,589.3 343.1,589.4 343.6,589.5 344.1,589.6 344.6,589.7 345.1,589.8 345.7,589.8 346.2,589.9 346.7,590 347.2,590 347.7,590.1 348.3,590.2 348.8,590.2 349.3,590.3 349.8,590.3 350.3,590.3 350.9,590.4 351.4,590.4 351.9,590.5 352.4,590.5 352.9,590.5 353.5,590.6 354,590.6 354.5,590.6 355,590.6 355.5,590.7 356.1,590.7 356.6,590.7 357.1,590.7 357.6,590.7 358.1,590.8 358.7,590.8 359.2,590.8 359.7,590.8 360.2,590.8 360.7,590.8 361.3,590.8 361.8,590.9 362.3,590.9 362.8,590.9 363.3,590.9 363.9,590.9 364.4,590.9 364.9,590.9 365.4,590.9 365.9,590.9 366.5,590.9 367,590.9 367.5,590.9" fill="none" stroke="#ee5c2e" stroke-width="1.45" stroke-dasharray="6.5 3.1"/>
</g>
<rect x="55.7" y="322.2" width="311.8" height="271.1" fill="none" stroke="#5a5a5a" stroke-width="1.15"/>
<line x1="56" y1="593.3" x2="59.5" y2="593.3" stroke="#555" stroke-width="1"/>
<text transform="translate(50.8,597.9) scale(1,1.05)" text-anchor="end" class="t">0</text>
<line x1="56" y1="576.36" x2="58.2" y2="576.36" stroke="#555" stroke-width="1"/>
<line x1="56" y1="559.41" x2="59.5" y2="559.41" stroke="#555" stroke-width="1"/>
<text transform="translate(50.8,564.01) scale(1,1.05)" text-anchor="end" class="t">1000</text>
<line x1="56" y1="542.47" x2="58.2" y2="542.47" stroke="#555" stroke-width="1"/>
<line x1="56" y1="525.52" x2="59.5" y2="525.52" stroke="#555" stroke-width="1"/>
<text transform="translate(50.8,530.12) scale(1,1.05)" text-anchor="end" class="t">2000</text>
<line x1="56" y1="508.58" x2="58.2" y2="508.58" stroke="#555" stroke-width="1"/>
<line x1="56" y1="491.64" x2="59.5" y2="491.64" stroke="#555" stroke-width="1"/>
<text transform="translate(50.8,496.24) scale(1,1.05)" text-anchor="end" class="t">3000</text>
<line x1="56" y1="474.69" x2="58.2" y2="474.69" stroke="#555" stroke-width="1"/>
<line x1="56" y1="457.75" x2="59.5" y2="457.75" stroke="#555" stroke-width="1"/>
<text transform="translate(50.8,462.35) scale(1,1.05)" text-anchor="end" class="t">4000</text>
<line x1="56" y1="440.81" x2="58.2" y2="440.81" stroke="#555" stroke-width="1"/>
<line x1="56" y1="423.86" x2="59.5" y2="423.86" stroke="#555" stroke-width="1"/>
<text transform="translate(50.8,428.46) scale(1,1.05)" text-anchor="end" class="t">5000</text>
<line x1="56" y1="406.92" x2="58.2" y2="406.92" stroke="#555" stroke-width="1"/>
<line x1="56" y1="389.98" x2="59.5" y2="389.98" stroke="#555" stroke-width="1"/>
<text transform="translate(50.8,394.58) scale(1,1.05)" text-anchor="end" class="t">6000</text>
<line x1="56" y1="373.03" x2="58.2" y2="373.03" stroke="#555" stroke-width="1"/>
<line x1="56" y1="356.09" x2="59.5" y2="356.09" stroke="#555" stroke-width="1"/>
<text transform="translate(50.8,360.69) scale(1,1.05)" text-anchor="end" class="t">7000</text>
<line x1="56" y1="339.14" x2="58.2" y2="339.14" stroke="#555" stroke-width="1"/>
<line x1="56" y1="322.2" x2="59.5" y2="322.2" stroke="#555" stroke-width="1"/>
<text transform="translate(50.8,326.8) scale(1,1.05)" text-anchor="end" class="t">8000</text>
<line x1="60.72" y1="593.3" x2="60.72" y2="591.3" stroke="#555" stroke-width="1"/>
<line x1="84.32" y1="593.3" x2="84.32" y2="590.3" stroke="#555" stroke-width="1"/>
<text transform="translate(84.32,610.6) scale(1,1.05)" text-anchor="middle" class="t">10</text>
<line x1="107.92" y1="593.3" x2="107.92" y2="591.3" stroke="#555" stroke-width="1"/>
<line x1="131.52" y1="593.3" x2="131.52" y2="590.3" stroke="#555" stroke-width="1"/>
<text transform="translate(131.52,610.6) scale(1,1.05)" text-anchor="middle" class="t">15</text>
<line x1="155.11" y1="593.3" x2="155.11" y2="591.3" stroke="#555" stroke-width="1"/>
<line x1="178.71" y1="593.3" x2="178.71" y2="590.3" stroke="#555" stroke-width="1"/>
<text transform="translate(178.71,610.6) scale(1,1.05)" text-anchor="middle" class="t">20</text>
<line x1="202.31" y1="593.3" x2="202.31" y2="591.3" stroke="#555" stroke-width="1"/>
<line x1="225.91" y1="593.3" x2="225.91" y2="590.3" stroke="#555" stroke-width="1"/>
<text transform="translate(225.91,610.6) scale(1,1.05)" text-anchor="middle" class="t">25</text>
<line x1="249.51" y1="593.3" x2="249.51" y2="591.3" stroke="#555" stroke-width="1"/>
<line x1="273.11" y1="593.3" x2="273.11" y2="590.3" stroke="#555" stroke-width="1"/>
<text transform="translate(273.11,610.6) scale(1,1.05)" text-anchor="middle" class="t">30</text>
<line x1="296.7" y1="593.3" x2="296.7" y2="591.3" stroke="#555" stroke-width="1"/>
<line x1="320.3" y1="593.3" x2="320.3" y2="590.3" stroke="#555" stroke-width="1"/>
<text transform="translate(320.3,610.6) scale(1,1.05)" text-anchor="middle" class="t">35</text>
<line x1="343.9" y1="593.3" x2="343.9" y2="591.3" stroke="#555" stroke-width="1"/>
<line x1="367.5" y1="593.3" x2="367.5" y2="590.3" stroke="#555" stroke-width="1"/>
<text transform="translate(367.5,610.6) scale(1,1.05)" text-anchor="middle" class="t">40</text>
<text x="202.5" y="617.6" text-anchor="middle" class="xl">2Θ/°</text>
<text transform="translate(23.5,457.45) rotate(-90)" text-anchor="middle" class="yl">Intensity/a.u.</text>
<line x1="262.4" y1="336.5" x2="291.4" y2="336.5" fill="none" stroke="#a0a0a0" stroke-width="1.0"/>
<text transform="translate(298.8,341.1) scale(1,1.05)" class="t">CNC_P76</text>
<line x1="262.4" y1="356.2" x2="291.4" y2="356.2" fill="none" stroke="#80395a" stroke-width="1.25" stroke-dasharray="8.5 3"/>
<text transform="translate(298.8,360.8) scale(1,1.05)" class="t">101</text>
<line x1="262.4" y1="375.9" x2="291.4" y2="375.9" fill="none" stroke="#1e1e1e" stroke-width="1.3" stroke-dasharray="1.3 1.95"/>
<text transform="translate(298.8,380.5) scale(1,1.05)" class="t">10ī</text>
<line x1="262.4" y1="395.6" x2="291.4" y2="395.6" fill="none" stroke="#4690c2" stroke-width="1.25" stroke-dasharray="5 2.2"/>
<text transform="translate(298.8,400.2) scale(1,1.05)" class="t">021</text>
<line x1="262.4" y1="415.3" x2="291.4" y2="415.3" fill="none" stroke="#5a4e8e" stroke-width="1.25" stroke-dasharray="6.5 1.7 1.1 2.1 1.1 2.1"/>
<text transform="translate(298.8,419.9) scale(1,1.05)" class="t">002</text>
<line x1="262.4" y1="435" x2="291.4" y2="435" fill="none" stroke="#80b658" stroke-width="1.4"/>
<text transform="translate(298.8,439.6) scale(1,1.05)" class="t">040</text>
<line x1="262.4" y1="454.7" x2="291.4" y2="454.7" fill="none" stroke="#9ccde8" stroke-width="1.25" stroke-dasharray="6.4 2 1.1 2"/>
<text transform="translate(298.8,459.3) scale(1,1.05)" class="t">Amorphous</text>
<line x1="262.4" y1="474.4" x2="291.4" y2="474.4" fill="none" stroke="#ee5c2e" stroke-width="1.45" stroke-dasharray="6.5 3.1"/>
<text transform="translate(298.8,479) scale(1,1.05)" class="t">Fit</text>
<clipPath id="c4"><rect x="422.8" y="322.2" width="311.5" height="271.1"/></clipPath>
<g clip-path="url(#c4)">
<path d="M422.8,590.8 423,590.6 423.2,589.6 423.5,590.1 423.7,591.4 423.9,590.5 424.1,590.9 424.4,590.5 424.6,591.5 424.8,590.4 425,590.5 425.2,589.7 425.5,590.4 425.7,590.3 425.9,591.5 426.1,589.4 426.4,591.7 426.6,590 426.8,590.8 427,591.2 427.3,591 427.5,591.1 427.7,590.5 427.9,590.8 428.1,589.8 428.4,591.8 428.6,590.7 428.8,591.2 429,590.3 429.3,592 429.5,590.9 429.7,590.6 429.9,591.6 430.1,590.2 430.4,590.6 430.6,590.2 430.8,590.2 431,591.3 431.3,591.2 431.5,590.9 431.7,590.3 431.9,590.3 432.2,591.2 432.4,591.1 432.6,591.3 432.8,591.1 433,590.9 433.3,590.9 433.5,589.5 433.7,591.1 433.9,591 434.2,590.5 434.4,591.4 434.6,591 434.8,590.8 435,590.3 435.3,591.6 435.5,589.9 435.7,591 435.9,590.6 436.2,590.2 436.4,590.3 436.6,590 436.8,590.6 437.1,590.7 437.3,590.5 437.5,591.3 437.7,589.9 437.9,591.1 438.2,591.4 438.4,589.3 438.6,590.7 438.8,591.4 439.1,589.4 439.3,590.8 439.5,589.9 439.7,591.1 439.9,590.7 440.2,591.6 440.4,591.8 440.6,591.2 440.8,590.6 441.1,590 441.3,588.9 441.5,591.2 441.7,589.8 441.9,590.9 442.2,590.6 442.4,591.4 442.6,591.4 442.8,591 443.1,591.3 443.3,590.5 443.5,590.9 443.7,589.6 444,590.4 444.2,590.4 444.4,589.7 444.6,590.1 444.8,590.5 445.1,590.5 445.3,590.6 445.5,589.7 445.7,589.9 446,590.2 446.2,589.9 446.4,590.9 446.6,590.1 446.8,591.4 447.1,589.5 447.3,590.4 447.5,590.3 447.7,590 448,590.4 448.2,590.5 448.4,589.5 448.6,590.2 448.9,590.9 449.1,589.9 449.3,591.4 449.5,588.9 449.7,590.2 450,590 450.2,588.3 450.4,588.3 450.6,589.8 450.9,589.3 451.1,588.9 451.3,588.4 451.5,589.6 451.7,589.3 452,588.4 452.2,589 452.4,588.6 452.6,588.6 452.9,589.8 453.1,589.5 453.3,590.7 453.5,588.8 453.7,587.4 454,589.2 454.2,587.3 454.4,587.3 454.6,588 454.9,587.8 455.1,587.6 455.3,588.2 455.5,587.6 455.8,587.3 456,586.7 456.2,586.4 456.4,587.4 456.6,586 456.9,587 457.1,586.4 457.3,585.7 457.5,585.8 457.8,585.7 458,585.1 458.2,585.5 458.4,585.4 458.6,584.8 458.9,583.6 459.1,584.2 459.3,582.3 459.5,583.5 459.8,585.9 460,583.6 460.2,581.6 460.4,582.8 460.7,583 460.9,583.2 461.1,581.2 461.3,581.3 461.5,581.4 461.8,581.4 462,580.4 462.2,580.7 462.4,582.3 462.7,580.4 462.9,580.8 463.1,580.8 463.3,579.9 463.5,580.3 463.8,582.8 464,578.6 464.2,578.8 464.4,579.7 464.7,579.7 464.9,578.9 465.1,580.1 465.3,578.4 465.6,578.6 465.8,578.5 466,578.7 466.2,578.2 466.4,576.2 466.7,575.6 466.9,576.1 467.1,576.3 467.3,576.7 467.6,574.8 467.8,573.6 468,576.3 468.2,573.2 468.4,576.1 468.7,573.9 468.9,572.8 469.1,574.2 469.3,574 469.6,571.9 469.8,570.9 470,571.9 470.2,569.7 470.4,571.6 470.7,568.7 470.9,570.1 471.1,569.7 471.3,569 471.6,569 471.8,567.2 472,566.5 472.2,568 472.5,568.5 472.7,569.3 472.9,568.6 473.1,567.4 473.3,567.2 473.6,566.9 473.8,566.5 474,565.6 474.2,567.2 474.5,566.4 474.7,563.6 474.9,563.4 475.1,564.5 475.3,561.8 475.6,563.5 475.8,562.4 476,563.6 476.2,559.8 476.5,560.1 476.7,558.1 476.9,557.7 477.1,557.7 477.4,556.8 477.6,554.8 477.8,555.6 478,554.8 478.2,553.7 478.5,551.9 478.7,550.9 478.9,548.7 479.1,550.5 479.4,547.8 479.6,549.6 479.8,546.9 480,546.6 480.2,543.4 480.5,543.9 480.7,544.4 480.9,541.9 481.1,541.2 481.4,541.1 481.6,540 481.8,539.9 482,533.1 482.2,536.1 482.5,533.7 482.7,536 482.9,534.9 483.1,532.3 483.4,531.2 483.6,528.6 483.8,530.5 484,526.8 484.3,524 484.5,527 484.7,522.6 484.9,524.7 485.1,521.2 485.4,519.9 485.6,516.1 485.8,519.2 486,516.3 486.3,513.2 486.5,516 486.7,512.3 486.9,512.5 487.1,510.6 487.4,506.3 487.6,504.7 487.8,499.3 488,500.1 488.3,498.6 488.5,500 488.7,498.7 488.9,496.3 489.2,499.9 489.4,489.9 489.6,493.4 489.8,492.8 490,490.1 490.3,485.7 490.5,483.5 490.7,485.9 490.9,482.7 491.2,482.7 491.4,483.7 491.6,479.8 491.8,479.1 492,481.8 492.3,474.5 492.5,480.1 492.7,474.9 492.9,477.2 493.2,476 493.4,475.1 493.6,471.1 493.8,475.4 494.1,472.4 494.3,467.8 494.5,473.1 494.7,471.3 494.9,469.4 495.2,472.4 495.4,469.7 495.6,472.4 495.8,469.1 496.1,470.6 496.3,473.1 496.5,467.4 496.7,471.1 496.9,471.6 497.2,473.3 497.4,472.2 497.6,471.3 497.8,470.7 498.1,468.5 498.3,474.5 498.5,472.1 498.7,468.3 498.9,470.8 499.2,470.2 499.4,467.3 499.6,470.3 499.8,469.9 500.1,471.1 500.3,466.6 500.5,468.2 500.7,472.5 501,469.2 501.2,473.3 501.4,467.6 501.6,468.5 501.8,470.4 502.1,470.9 502.3,474.7 502.5,469 502.7,471.8 503,472.8 503.2,470.3 503.4,473.8 503.6,473.6 503.8,473.8 504.1,475.4 504.3,466.1 504.5,472.4 504.7,472.7 505,469.5 505.2,479.4 505.4,471.6 505.6,471.4 505.9,473.7 506.1,470.1 506.3,476.1 506.5,471 506.7,468.8 507,476.4 507.2,474.5 507.4,471.3 507.6,471 507.9,472.6 508.1,470.2 508.3,470.6 508.5,474.6 508.7,471.6 509,474.5 509.2,476.6 509.4,477.5 509.6,469.2 509.9,472.2 510.1,467.2 510.3,475.9 510.5,473.5 510.8,472.1 511,473.7 511.2,472.6 511.4,474 511.6,476.5 511.9,481.3 512.1,478.7 512.3,473 512.5,476.1 512.8,475.5 513,481 513.2,481 513.4,483.5 513.6,481.4 513.9,483.2 514.1,483.2 514.3,481.2 514.5,488.1 514.8,485.6 515,491.4 515.2,486.7 515.4,491.2 515.6,491.4 515.9,491.9 516.1,489.5 516.3,494.2 516.5,496.1 516.8,498.5 517,496.3 517.2,499.6 517.4,499.7 517.7,499.6 517.9,499 518.1,502.7 518.3,500.7 518.5,499.3 518.8,506.8 519,501.8 519.2,501 519.4,507.4 519.7,505.8 519.9,510.5 520.1,507.9 520.3,510.1 520.5,509.6 520.8,512.8 521,513.4 521.2,513.4 521.4,514.7 521.7,515.3 521.9,515.2 522.1,517.7 522.3,516.6 522.6,516.1 522.8,522 523,518 523.2,520.4 523.4,521.8 523.7,522.8 523.9,522.5 524.1,522.9 524.3,521.5 524.6,524.9 524.8,521.4 525,525.2 525.2,523.1 525.4,522.9 525.7,527.4 525.9,523.9 526.1,522.4 526.3,527.4 526.6,526.1 526.8,527.8 527,527.8 527.2,528.7 527.4,529.7 527.7,528 527.9,528.1 528.1,529.9 528.3,527.8 528.6,528.8 528.8,529.7 529,532.3 529.2,528.2 529.5,529.4 529.7,535.2 529.9,533.6 530.1,532.7 530.3,530.4 530.6,530 530.8,532.5 531,531.6 531.2,530.9 531.5,534.1 531.7,531 531.9,532.4 532.1,531.6 532.3,531.9 532.6,533.7 532.8,533.3 533,531.5 533.2,531.2 533.5,531.8 533.7,529.5 533.9,531.6 534.1,532.9 534.4,531.3 534.6,530.9 534.8,530.6 535,528.3 535.2,529.2 535.5,528.1 535.7,528.6 535.9,529.7 536.1,527.5 536.4,529.5 536.6,528.4 536.8,530.3 537,528.3 537.2,528.8 537.5,527.4 537.7,524.7 537.9,523.5 538.1,525.6 538.4,527.1 538.6,525.4 538.8,526.2 539,527.4 539.3,526.2 539.5,526.3 539.7,526.6 539.9,522.9 540.1,525.9 540.4,525.6 540.6,523.2 540.8,525.3 541,525.8 541.3,524.9 541.5,522.3 541.7,522.1 541.9,521.9 542.1,522.9 542.4,523.3 542.6,519.7 542.8,523.5 543,520.9 543.3,522.5 543.5,520.5 543.7,519.7 543.9,516.8 544.1,523.8 544.4,515.7 544.6,519.5 544.8,516.9 545,515.5 545.3,518 545.5,516.4 545.7,514.9 545.9,515.6 546.2,516.3 546.4,514.1 546.6,513.8 546.8,516.4 547,510.5 547.3,512.2 547.5,516.7 547.7,513.2 547.9,507.7 548.2,507.4 548.4,509.4 548.6,512.7 548.8,509.2 549,506.1 549.3,506.8 549.5,507.6 549.7,507.7 549.9,503.9 550.2,505.4 550.4,503.6 550.6,502.5 550.8,499.4 551.1,501.6 551.3,500.7 551.5,504.1 551.7,497.2 551.9,496.8 552.2,497.8 552.4,501.6 552.6,496.9 552.8,494.4 553.1,488.7 553.3,490.7 553.5,488.7 553.7,487.1 553.9,484.3 554.2,488.3 554.4,485.9 554.6,484.9 554.8,481 555.1,479.3 555.3,476.3 555.5,477.1 555.7,472.4 556,472.8 556.2,463.5 556.4,468.3 556.6,458.6 556.8,459.2 557.1,464.8 557.3,457.4 557.5,456.4 557.7,460.1 558,452.3 558.2,451.8 558.4,448.1 558.6,448.2 558.8,438.8 559.1,429.6 559.3,427.3 559.5,425.7 559.7,421.5 560,421.4 560.2,414.5 560.4,421.1 560.6,405.2 560.8,406.9 561.1,402.7 561.3,398.6 561.5,402.8 561.7,388.1 562,396.9 562.2,388.6 562.4,386.3 562.6,379.9 562.9,381.6 563.1,383.7 563.3,374.3 563.5,381.5 563.7,370 564,368 564.2,357.3 564.4,361.4 564.6,359.3 564.9,357.8 565.1,355.7 565.3,352.3 565.5,345.6 565.7,351.5 566,345.5 566.2,349.2 566.4,342.9 566.6,340.6 566.9,345.6 567.1,342.5 567.3,339.5 567.5,336.7 567.8,336 568,340.6 568.2,344.7 568.4,347.9 568.6,339 568.9,337.6 569.1,343 569.3,339.6 569.5,349.3 569.8,350.9 570,345.2 570.2,357.5 570.4,353.5 570.6,356.8 570.9,360.3 571.1,357 571.3,369.7 571.5,370.9 571.8,380 572,379.2 572.2,380.3 572.4,382.9 572.6,385.2 572.9,386.4 573.1,392.6 573.3,400 573.5,395.6 573.8,397.6 574,405.9 574.2,407.7 574.4,402.4 574.7,408 574.9,410.9 575.1,415.2 575.3,420 575.5,425.3 575.8,425.5 576,432.2 576.2,438.6 576.4,444.1 576.7,451.5 576.9,456.4 577.1,468.4 577.3,466.4 577.5,480.5 577.8,483.2 578,483 578.2,489.9 578.4,491.6 578.7,492.9 578.9,501.7 579.1,498.5 579.3,501.5 579.6,502 579.8,502.3 580,503.9 580.2,504 580.4,506 580.7,508.6 580.9,512.3 581.1,511.9 581.3,517.2 581.6,517 581.8,515.5 582,517.9 582.2,523.1 582.4,522.8 582.7,521.1 582.9,522.7 583.1,522.8 583.3,528.7 583.6,528.7 583.8,528 584,530.2 584.2,529.6 584.5,530.4 584.7,530.8 584.9,532.5 585.1,532.2 585.3,532.6 585.6,534.3 585.8,537.1 586,533.7 586.2,535.9 586.5,536.1 586.7,536.9 586.9,540.1 587.1,537.2 587.3,539.5 587.6,540.7 587.8,537.2 588,540 588.2,539.4 588.5,538.8 588.7,538 588.9,543.4 589.1,542.1 589.3,540.2 589.6,542.5 589.8,546.6 590,541.7 590.2,541.9 590.5,541.3 590.7,542.3 590.9,543.6 591.1,542.8 591.4,543.5 591.6,544.4 591.8,543.6 592,543.7 592.2,545.9 592.5,543.3 592.7,543.8 592.9,544.1 593.1,549.4 593.4,545.6 593.6,546.2 593.8,547.7 594,545.7 594.2,548.9 594.5,545.3 594.7,546.7 594.9,548.1 595.1,545.6 595.4,547.1 595.6,547.4 595.8,549.8 596,547.4 596.3,546.2 596.5,546.7 596.7,550.1 596.9,546.5 597.1,546.3 597.4,547.4 597.6,549.1 597.8,550.7 598,550 598.3,549.6 598.5,548.5 598.7,548.2 598.9,550 599.1,551.3 599.4,549.7 599.6,551 599.8,547.4 600,550.9 600.3,548.7 600.5,548.2 600.7,550.7 600.9,548.1 601.1,549.7 601.4,550.6 601.6,550.9 601.8,549.5 602,548.2 602.3,552.3 602.5,548.9 602.7,550 602.9,550.9 603.2,550 603.4,549.9 603.6,550 603.8,548.9 604,551.3 604.3,547.4 604.5,548.9 604.7,550.9 604.9,552.8 605.2,550.2 605.4,550.8 605.6,549.3 605.8,549.3 606,547.7 606.3,550.5 606.5,549.3 606.7,551 606.9,550.9 607.2,548.4 607.4,550.7 607.6,550.7 607.8,551.1 608.1,550.2 608.3,549.8 608.5,550.8 608.7,552.3 608.9,550.3 609.2,551.9 609.4,551.3 609.6,550.6 609.8,550.6 610.1,554 610.3,548.7 610.5,549.9 610.7,548.5 610.9,547.7 611.2,552.4 611.4,551.9 611.6,550.9 611.8,550 612.1,552 612.3,551.8 612.5,550 612.7,552.6 613,551.2 613.2,550.1 613.4,551.9 613.6,550.6 613.8,551.8 614.1,553.8 614.3,552.5 614.5,552.1 614.7,552.3 615,551.9 615.2,551.4 615.4,551.6 615.6,551.8 615.8,552.7 616.1,552.4 616.3,552.7 616.5,553 616.7,550.5 617,554.9 617.2,552.1 617.4,554.6 617.6,553.3 617.8,551.5 618.1,553 618.3,550.8 618.5,554 618.7,553.2 619,553.7 619.2,552.9 619.4,553.4 619.6,553.5 619.9,552.9 620.1,551.7 620.3,553 620.5,553.2 620.7,553.7 621,554.3 621.2,555.3 621.4,554.8 621.6,553.5 621.9,556.1 622.1,552.8 622.3,554.3 622.5,555 622.7,554.5 623,553 623.2,553.5 623.4,553.7 623.6,551.8 623.9,551.1 624.1,555.8 624.3,553 624.5,555.2 624.8,556 625,555 625.2,553 625.4,554.8 625.6,555 625.9,552.7 626.1,553.8 626.3,554.6 626.5,552.3 626.8,554 627,555.6 627.2,556.1 627.4,555.3 627.6,554.6 627.9,553.7 628.1,553.9 628.3,554.9 628.5,556.6 628.8,554 629,555.1 629.2,556.7 629.4,556.9 629.7,555.2 629.9,555.1 630.1,554.6 630.3,557.2 630.5,553.3 630.8,558.1 631,555.9 631.2,554.3 631.4,554.7 631.7,557.3 631.9,555.4 632.1,554.7 632.3,555.4 632.5,557.6 632.8,554.4 633,558.6 633.2,556.6 633.4,558 633.7,557.3 633.9,557.3 634.1,556.3 634.3,558.6 634.5,556.8 634.8,555.6 635,557.2 635.2,556.7 635.4,556.9 635.7,558.4 635.9,558 636.1,557.6 636.3,557.1 636.6,555.3 636.8,555.9 637,558.5 637.2,558.6 637.4,559.4 637.7,561 637.9,556.7 638.1,557.7 638.3,560.8 638.6,558.5 638.8,555.8 639,558.1 639.2,558.2 639.4,558.6 639.7,559.9 639.9,560.4 640.1,560.1 640.3,559 640.6,559.6 640.8,558.5 641,557.3 641.2,558.8 641.5,558.6 641.7,560.1 641.9,561.3 642.1,557.3 642.3,559.1 642.6,558.6 642.8,560.6 643,562.2 643.2,558.8 643.5,563 643.7,560.7 643.9,561.2 644.1,560.4 644.3,559.8 644.6,559.9 644.8,563.4 645,559.9 645.2,563.4 645.5,560.5 645.7,561.9 645.9,562.8 646.1,562.1 646.3,563.2 646.6,561.7 646.8,560.7 647,561 647.2,562 647.5,560.8 647.7,561.6 647.9,559.8 648.1,561.8 648.4,563.2 648.6,563 648.8,563.6 649,563.2 649.2,563.1 649.5,562.3 649.7,562.3 649.9,563.2 650.1,562.9 650.4,564.3 650.6,564.2 650.8,566.5 651,564.7 651.2,564.5 651.5,561.2 651.7,565.7 651.9,564.2 652.1,564.8 652.4,566.3 652.6,564.4 652.8,564.8 653,566.5 653.3,567.6 653.5,565.2 653.7,566.8 653.9,564.6 654.1,565.8 654.4,565 654.6,566 654.8,564.1 655,565.1 655.3,564.3 655.5,565.9 655.7,567.3 655.9,567.8 656.1,566.9 656.4,566.1 656.6,567.2 656.8,564 657,566.8 657.3,566.3 657.5,566.8 657.7,568.3 657.9,565.9 658.2,566.5 658.4,566.3 658.6,568.3 658.8,567.4 659,567.5 659.3,566.3 659.5,569.1 659.7,567.1 659.9,566.5 660.2,568.4 660.4,568.9 660.6,566.7 660.8,567.9 661,567.1 661.3,567.6 661.5,567.3 661.7,568.7 661.9,570.8 662.2,568.1 662.4,569.5 662.6,568.1 662.8,569.3 663,567.1 663.3,569 663.5,567.9 663.7,567.5 663.9,568.7 664.2,568.3 664.4,568.6 664.6,569.5 664.8,567 665.1,569.4 665.3,570 665.5,568.8 665.7,568 665.9,568 666.2,568.3 666.4,568.3 666.6,569.9 666.8,566.8 667.1,565.5 667.3,568 667.5,569 667.7,566.1 667.9,567 668.2,571 668.4,567.4 668.6,568 668.8,567.6 669.1,564 669.3,565 669.5,566.2 669.7,565.9 670,564.2 670.2,567.1 670.4,565 670.6,566.5 670.8,564.9 671.1,565.5 671.3,566.6 671.5,564.6 671.7,565.1 672,563.7 672.2,566.1 672.4,565.5 672.6,566.4 672.8,564.2 673.1,566.3 673.3,565.4 673.5,563.8 673.7,564.5 674,564.7 674.2,564.6 674.4,564.4 674.6,563.9 674.9,564.9 675.1,566.8 675.3,563 675.5,565.6 675.7,562.3 676,564.1 676.2,560.8 676.4,563.1 676.6,564 676.9,563.5 677.1,566.1 677.3,564.4 677.5,565.1 677.7,564.8 678,567.2 678.2,567.4 678.4,564.1 678.6,564.9 678.9,565.5 679.1,565.1 679.3,565.8 679.5,565.7 679.7,564.5 680,565.8 680.2,565 680.4,566.9 680.6,568.4 680.9,567.4 681.1,567.2 681.3,568.6 681.5,568.2 681.8,568.7 682,567.5 682.2,568 682.4,568.1 682.6,570.4 682.9,569.7 683.1,569.1 683.3,570.6 683.5,571.2 683.8,572.3 684,571.1 684.2,572.1 684.4,571.7 684.6,573.2 684.9,571.4 685.1,573.8 685.3,575.3 685.5,574.3 685.8,574.4 686,573.9 686.2,575.9 686.4,576.2 686.7,576.3 686.9,576.6 687.1,578.4 687.3,576.1 687.5,575.9 687.8,577.9 688,578.3 688.2,577.8 688.4,578.7 688.7,577.5 688.9,578.9 689.1,578.1 689.3,579.9 689.5,580.2 689.8,580.5 690,580.6 690.2,579.3 690.4,579.1 690.7,579.8 690.9,579.9 691.1,582 691.3,579.5 691.5,581.5 691.8,579.6 692,578.9 692.2,580.9 692.4,580.6 692.7,580.7 692.9,582.3 693.1,582.3 693.3,582 693.6,581.5 693.8,581.1 694,581.7 694.2,581 694.4,582.3 694.7,583.1 694.9,582.1 695.1,582.2 695.3,583.3 695.6,581.5 695.8,583.1 696,583 696.2,582.4 696.4,583.4 696.7,582.2 696.9,582.4 697.1,582.5 697.3,582.9 697.6,583.3 697.8,583.6 698,582.9 698.2,582.2 698.5,582.7 698.7,583 698.9,582.6 699.1,582.5 699.3,584.4 699.6,583.6 699.8,582.8 700,584.2 700.2,584.1 700.5,583.4 700.7,584.1 700.9,583.1 701.1,584.3 701.3,583.7 701.6,582.4 701.8,583.4 702,585.2 702.2,585.1 702.5,585.1 702.7,584.5 702.9,585.5 703.1,584.2 703.4,583.5 703.6,583.7 703.8,585.3 704,585.1 704.2,585.1 704.5,585.6 704.7,583.9 704.9,585.6 705.1,585.9 705.4,585 705.6,585.1 705.8,584.3 706,584.4 706.2,585.5 706.5,586.9 706.7,585.1 706.9,585 707.1,584.4 707.4,586.7 707.6,586.4 707.8,584.7 708,584.7 708.2,585 708.5,585.9 708.7,585.1 708.9,586.3 709.1,586.8 709.4,586.1 709.6,586 709.8,585.6 710,585.4 710.3,587.3 710.5,586 710.7,586 710.9,587.1 711.1,586.5 711.4,586.3 711.6,586.1 711.8,587 712,586.9 712.3,587.2 712.5,586.4 712.7,586.8 712.9,587 713.1,586.3 713.4,586.8 713.6,587.5 713.8,586.1 714,586.2 714.3,586.5 714.5,587.5 714.7,586.2 714.9,587.3 715.2,588.1 715.4,587.1 715.6,585.9 715.8,587.3 716,586.7 716.3,586.3 716.5,587 716.7,587.4 716.9,587.2 717.2,586.9 717.4,587.6 717.6,587.1 717.8,587 718,587.6 718.3,587 718.5,587.1 718.7,587.6 718.9,587.6 719.2,587.4 719.4,587.6 719.6,587.7 719.8,588.2 720,587.6 720.3,587.2 720.5,587.3 720.7,588.2 720.9,587.4 721.2,587.5 721.4,588.4 721.6,587.6 721.8,588 722.1,588.2 722.3,587.9 722.5,588.1 722.7,589.3 722.9,588 723.2,588.8 723.4,588.2 723.6,587.8 723.8,588.4 724.1,588.5 724.3,588.2 724.5,588.1 724.7,588.9 724.9,588.8 725.2,588.2 725.4,587.6 725.6,588.5 725.8,588.1 726.1,589 726.3,588.6 726.5,588.6 726.7,589.4 727,588.7 727.2,588.9 727.4,590.2 727.6,588.9 727.8,588.7 728.1,588.8 728.3,588.8 728.5,589.6 728.7,589.4 729,589.1 729.2,589.5 729.4,589.3 729.6,588.5 729.8,589.6 730.1,589.4 730.3,588.2 730.5,589.3 730.7,589.8 731,589.2 731.2,589.2 731.4,589.3 731.6,590.2 731.9,589.2 732.1,589.2 732.3,588.4 732.5,589.1 732.7,589.7 733,589.4 733.2,589.2 733.4,589.6 733.6,589.6 733.9,588.9 734.1,589.4 734.3,589.4" fill="none" stroke="#383838" stroke-width="0.75"/>
<path d="M422.8,593.3 423.3,593.3 423.8,593.3 424.4,593.3 424.9,593.3 425.4,593.3 425.9,593.3 426.4,593.3 427,593.3 427.5,593.3 428,593.3 428.5,593.3 429,593.3 429.6,593.3 430.1,593.3 430.6,593.3 431.1,593.3 431.6,593.3 432.2,593.3 432.7,593.3 433.2,593.3 433.7,593.3 434.2,593.3 434.8,593.3 435.3,593.3 435.8,593.3 436.3,593.3 436.8,593.3 437.4,593.3 437.9,593.3 438.4,593.3 438.9,593.3 439.4,593.3 440,593.3 440.5,593.3 441,593.3 441.5,593.3 442,593.3 442.6,593.3 443.1,593.2 443.6,593.2 444.1,593.2 444.6,593.2 445.2,593.2 445.7,593.2 446.2,593.2 446.7,593.2 447.2,593.2 447.8,593.2 448.3,593.2 448.8,593.2 449.3,593.2 449.8,593.2 450.4,593.2 450.9,593.2 451.4,593.2 451.9,593.2 452.4,593.2 453,593.2 453.5,593.2 454,593.2 454.5,593.2 455,593.2 455.6,593.2 456.1,593.2 456.6,593.2 457.1,593.2 457.6,593.2 458.2,593.2 458.7,593.1 459.2,593.1 459.7,593.1 460.2,593.1 460.8,593.1 461.3,593.1 461.8,593.1 462.3,593.1 462.8,593.1 463.4,593.1 463.9,593.1 464.4,593.1 464.9,593.1 465.4,593.1 466,593.1 466.5,593.1 467,593 467.5,593 468,593 468.6,593 469.1,593 469.6,593 470.1,593 470.6,593 471.2,593 471.7,593 472.2,592.9 472.7,592.9 473.2,592.9 473.8,592.9 474.3,592.9 474.8,592.9 475.3,592.9 475.8,592.9 476.4,592.8 476.9,592.8 477.4,592.8 477.9,592.8 478.4,592.8 479,592.8 479.5,592.8 480,592.7 480.5,592.7 481,592.7 481.6,592.7 482.1,592.7 482.6,592.6 483.1,592.6 483.6,592.6 484.2,592.6 484.7,592.6 485.2,592.5 485.7,592.5 486.2,592.5 486.8,592.5 487.3,592.5 487.8,592.4 488.3,592.4 488.8,592.4 489.4,592.4 489.9,592.3 490.4,592.3 490.9,592.3 491.4,592.2 492,592.2 492.5,592.2 493,592.2 493.5,592.1 494,592.1 494.6,592.1 495.1,592 495.6,592 496.1,591.9 496.6,591.9 497.2,591.9 497.7,591.8 498.2,591.8 498.7,591.8 499.2,591.7 499.8,591.7 500.3,591.6 500.8,591.6 501.3,591.5 501.8,591.5 502.4,591.5 502.9,591.4 503.4,591.4 503.9,591.3 504.4,591.3 505,591.2 505.5,591.2 506,591.1 506.5,591.1 507,591 507.6,590.9 508.1,590.9 508.6,590.8 509.1,590.8 509.6,590.7 510.2,590.6 510.7,590.6 511.2,590.5 511.7,590.5 512.2,590.4 512.8,590.3 513.3,590.2 513.8,590.2 514.3,590.1 514.8,590 515.4,590 515.9,589.9 516.4,589.8 516.9,589.7 517.4,589.7 518,589.6 518.5,589.5 519,589.4 519.5,589.3 520,589.2 520.6,589.1 521.1,589.1 521.6,589 522.1,588.9 522.6,588.8 523.2,588.7 523.7,588.6 524.2,588.5 524.7,588.4 525.2,588.3 525.8,588.2 526.3,588.1 526.8,588 527.3,587.9 527.8,587.8 528.4,587.7 528.9,587.5 529.4,587.4 529.9,587.3 530.4,587.2 531,587.1 531.5,587 532,586.8 532.5,586.7 533,586.6 533.6,586.5 534.1,586.3 534.6,586.2 535.1,586.1 535.6,585.9 536.2,585.8 536.7,585.7 537.2,585.5 537.7,585.4 538.2,585.3 538.8,585.1 539.3,585 539.8,584.8 540.3,584.7 540.8,584.5 541.4,584.4 541.9,584.2 542.4,584.1 542.9,583.9 543.4,583.8 544,583.6 544.5,583.5 545,583.3 545.5,583.1 546,583 546.6,582.8 547.1,582.7 547.6,582.5 548.1,582.3 548.6,582.1 549.2,582 549.7,581.8 550.2,581.6 550.7,581.5 551.2,581.3 551.8,581.1 552.3,580.9 552.8,580.7 553.3,580.6 553.8,580.4 554.4,580.2 554.9,580 555.4,579.8 555.9,579.6 556.4,579.4 557,579.3 557.5,579.1 558,578.9 558.5,578.7 559,578.5 559.6,578.3 560.1,578.1 560.6,577.9 561.1,577.7 561.6,577.5 562.2,577.3 562.7,577.1 563.2,576.9 563.7,576.7 564.2,576.5 564.8,576.3 565.3,576.1 565.8,575.9 566.3,575.7 566.8,575.5 567.4,575.3 567.9,575.1 568.4,574.9 568.9,574.7 569.4,574.5 570,574.3 570.5,574.1 571,573.9 571.5,573.7 572,573.5 572.6,573.3 573.1,573.1 573.6,572.9 574.1,572.7 574.6,572.5 575.2,572.3 575.7,572.1 576.2,571.9 576.7,571.7 577.2,571.5 577.8,571.3 578.3,571.1 578.8,570.9 579.3,570.7 579.9,570.5 580.4,570.3 580.9,570.1 581.4,569.9 581.9,569.7 582.5,569.5 583,569.3 583.5,569.1 584,568.9 584.5,568.7 585.1,568.6 585.6,568.4 586.1,568.2 586.6,568 587.1,567.8 587.7,567.6 588.2,567.5 588.7,567.3 589.2,567.1 589.7,566.9 590.3,566.8 590.8,566.6 591.3,566.4 591.8,566.3 592.3,566.1 592.9,566 593.4,565.8 593.9,565.6 594.4,565.5 594.9,565.3 595.5,565.2 596,565 596.5,564.9 597,564.7 597.5,564.6 598.1,564.5 598.6,564.3 599.1,564.2 599.6,564.1 600.1,563.9 600.7,563.8 601.2,563.7 601.7,563.6 602.2,563.5 602.7,563.4 603.3,563.2 603.8,563.1 604.3,563 604.8,562.9 605.3,562.8 605.9,562.7 606.4,562.7 606.9,562.6 607.4,562.5 607.9,562.4 608.5,562.3 609,562.2 609.5,562.2 610,562.1 610.5,562 611.1,562 611.6,561.9 612.1,561.9 612.6,561.8 613.1,561.8 613.7,561.7 614.2,561.7 614.7,561.6 615.2,561.6 615.7,561.6 616.3,561.5 616.8,561.5 617.3,561.5 617.8,561.5 618.3,561.5 618.9,561.5 619.4,561.4 619.9,561.4 620.4,561.4 620.9,561.5 621.5,561.5 622,561.5 622.5,561.5 623,561.5 623.5,561.5 624.1,561.5 624.6,561.6 625.1,561.6 625.6,561.6 626.1,561.7 626.7,561.7 627.2,561.8 627.7,561.8 628.2,561.9 628.7,561.9 629.3,562 629.8,562.1 630.3,562.1 630.8,562.2 631.3,562.3 631.9,562.3 632.4,562.4 632.9,562.5 633.4,562.6 633.9,562.7 634.5,562.8 635,562.9 635.5,563 636,563.1 636.5,563.2 637.1,563.3 637.6,563.4 638.1,563.5 638.6,563.6 639.1,563.7 639.7,563.9 640.2,564 640.7,564.1 641.2,564.2 641.7,564.4 642.3,564.5 642.8,564.6 643.3,564.8 643.8,564.9 644.3,565.1 644.9,565.2 645.4,565.4 645.9,565.5 646.4,565.7 646.9,565.8 647.5,566 648,566.2 648.5,566.3 649,566.5 649.5,566.7 650.1,566.8 650.6,567 651.1,567.2 651.6,567.3 652.1,567.5 652.7,567.7 653.2,567.9 653.7,568.1 654.2,568.2 654.7,568.4 655.3,568.6 655.8,568.8 656.3,569 656.8,569.2 657.3,569.4 657.9,569.5 658.4,569.7 658.9,569.9 659.4,570.1 659.9,570.3 660.5,570.5 661,570.7 661.5,570.9 662,571.1 662.5,571.3 663.1,571.5 663.6,571.7 664.1,571.9 664.6,572.1 665.1,572.3 665.7,572.5 666.2,572.7 666.7,572.9 667.2,573.1 667.7,573.3 668.3,573.5 668.8,573.7 669.3,573.9 669.8,574.1 670.3,574.4 670.9,574.6 671.4,574.8 671.9,575 672.4,575.2 672.9,575.4 673.5,575.6 674,575.8 674.5,576 675,576.2 675.5,576.4 676.1,576.6 676.6,576.8 677.1,577 677.6,577.2 678.1,577.4 678.7,577.6 679.2,577.8 679.7,578 680.2,578.2 680.7,578.4 681.3,578.5 681.8,578.7 682.3,578.9 682.8,579.1 683.3,579.3 683.9,579.5 684.4,579.7 684.9,579.9 685.4,580.1 685.9,580.2 686.5,580.4 687,580.6 687.5,580.8 688,581 688.5,581.1 689.1,581.3 689.6,581.5 690.1,581.7 690.6,581.9 691.1,582 691.7,582.2 692.2,582.4 692.7,582.5 693.2,582.7 693.7,582.9 694.3,583 694.8,583.2 695.3,583.3 695.8,583.5 696.3,583.7 696.9,583.8 697.4,584 697.9,584.1 698.4,584.3 698.9,584.4 699.5,584.6 700,584.7 700.5,584.9 701,585 701.5,585.2 702.1,585.3 702.6,585.4 703.1,585.6 703.6,585.7 704.1,585.9 704.7,586 705.2,586.1 705.7,586.2 706.2,586.4 706.7,586.5 707.3,586.6 707.8,586.8 708.3,586.9 708.8,587 709.3,587.1 709.9,587.2 710.4,587.3 710.9,587.5 711.4,587.6 711.9,587.7 712.5,587.8 713,587.9 713.5,588 714,588.1 714.5,588.2 715.1,588.3 715.6,588.4 716.1,588.5 716.6,588.6 717.1,588.7 717.7,588.8 718.2,588.9 718.7,589 719.2,589.1 719.7,589.2 720.3,589.3 720.8,589.3 721.3,589.4 721.8,589.5 722.3,589.6 722.9,589.7 723.4,589.8 723.9,589.8 724.4,589.9 724.9,590 725.5,590.1 726,590.1 726.5,590.2 727,590.3 727.5,590.3 728.1,590.4 728.6,590.5 729.1,590.5 729.6,590.6 730.1,590.7 730.7,590.7 731.2,590.8 731.7,590.8 732.2,590.9 732.7,591 733.3,591 733.8,591.1 734.3,591.1" fill="none" stroke="#9ccde8" stroke-width="1.25" stroke-dasharray="6.4 2 1.1 2"/>
<path d="M422.8,593.3 423.3,593.3 423.8,593.3 424.4,593.3 424.9,593.3 425.4,593.3 425.9,593.3 426.4,593.3 427,593.3 427.5,593.3 428,593.3 428.5,593.3 429,593.3 429.6,593.3 430.1,593.3 430.6,593.3 431.1,593.3 431.6,593.3 432.2,593.3 432.7,593.3 433.2,593.3 433.7,593.3 434.2,593.3 434.8,593.3 435.3,593.3 435.8,593.3 436.3,593.3 436.8,593.3 437.4,593.3 437.9,593.3 438.4,593.3 438.9,593.3 439.4,593.3 440,593.3 440.5,593.3 441,593.3 441.5,593.3 442,593.3 442.6,593.3 443.1,593.3 443.6,593.3 444.1,593.3 444.6,593.3 445.2,593.3 445.7,593.3 446.2,593.3 446.7,593.3 447.2,593.3 447.8,593.3 448.3,593.3 448.8,593.3 449.3,593.3 449.8,593.3 450.4,593.3 450.9,593.3 451.4,593.3 451.9,593.3 452.4,593.3 453,593.3 453.5,593.3 454,593.3 454.5,593.3 455,593.3 455.6,593.3 456.1,593.3 456.6,593.3 457.1,593.3 457.6,593.3 458.2,593.3 458.7,593.3 459.2,593.3 459.7,593.3 460.2,593.3 460.8,593.3 461.3,593.3 461.8,593.3 462.3,593.3 462.8,593.3 463.4,593.3 463.9,593.3 464.4,593.3 464.9,593.3 465.4,593.3 466,593.3 466.5,593.3 467,593.3 467.5,593.3 468,593.3 468.6,593.3 469.1,593.3 469.6,593.3 470.1,593.3 470.6,593.3 471.2,593.3 471.7,593.3 472.2,593.3 472.7,593.3 473.2,593.3 473.8,593.3 474.3,593.3 474.8,593.3 475.3,593.3 475.8,593.3 476.4,593.3 476.9,593.3 477.4,593.3 477.9,593.3 478.4,593.3 479,593.3 479.5,593.3 480,593.3 480.5,593.3 481,593.3 481.6,593.3 482.1,593.3 482.6,593.3 483.1,593.3 483.6,593.3 484.2,593.3 484.7,593.3 485.2,593.3 485.7,593.3 486.2,593.3 486.8,593.3 487.3,593.3 487.8,593.3 488.3,593.3 488.8,593.3 489.4,593.3 489.9,593.3 490.4,593.3 490.9,593.3 491.4,593.3 492,593.3 492.5,593.3 493,593.3 493.5,593.3 494,593.3 494.6,593.3 495.1,593.3 495.6,593.3 496.1,593.3 496.6,593.3 497.2,593.3 497.7,593.3 498.2,593.3 498.7,593.3 499.2,593.3 499.8,593.3 500.3,593.3 500.8,593.3 501.3,593.3 501.8,593.3 502.4,593.3 502.9,593.3 503.4,593.3 503.9,593.3 504.4,593.3 505,593.3 505.5,593.3 506,593.3 506.5,593.3 507,593.3 507.6,593.3 508.1,593.3 508.6,593.3 509.1,593.3 509.6,593.3 510.2,593.3 510.7,593.3 511.2,593.3 511.7,593.3 512.2,593.3 512.8,593.3 513.3,593.3 513.8,593.3 514.3,593.3 514.8,593.3 515.4,593.3 515.9,593.3 516.4,593.3 516.9,593.3 517.4,593.3 518,593.3 518.5,593.3 519,593.3 519.5,593.3 520,593.3 520.6,593.3 521.1,593.3 521.6,593.3 522.1,593.3 522.6,593.3 523.2,593.3 523.7,593.3 524.2,593.3 524.7,593.3 525.2,593.3 525.8,593.3 526.3,593.3 526.8,593.3 527.3,593.3 527.8,593.3 528.4,593.3 528.9,593.3 529.4,593.3 529.9,593.3 530.4,593.3 531,593.3 531.5,593.3 532,593.3 532.5,593.3 533,593.3 533.6,593.3 534.1,593.3 534.6,593.3 535.1,593.3 535.6,593.3 536.2,593.3 536.7,593.3 537.2,593.3 537.7,593.3 538.2,593.3 538.8,593.3 539.3,593.3 539.8,593.3 540.3,593.3 540.8,593.3 541.4,593.3 541.9,593.3 542.4,593.3 542.9,593.3 543.4,593.3 544,593.3 544.5,593.3 545,593.3 545.5,593.3 546,593.3 546.6,593.3 547.1,593.3 547.6,593.3 548.1,593.3 548.6,593.3 549.2,593.3 549.7,593.3 550.2,593.3 550.7,593.3 551.2,593.3 551.8,593.3 552.3,593.3 552.8,593.3 553.3,593.3 553.8,593.3 554.4,593.3 554.9,593.3 555.4,593.3 555.9,593.3 556.4,593.3 557,593.3 557.5,593.3 558,593.3 558.5,593.3 559,593.3 559.6,593.3 560.1,593.3 560.6,593.3 561.1,593.3 561.6,593.3 562.2,593.3 562.7,593.3 563.2,593.3 563.7,593.3 564.2,593.3 564.8,593.3 565.3,593.3 565.8,593.3 566.3,593.3 566.8,593.3 567.4,593.3 567.9,593.3 568.4,593.3 568.9,593.3 569.4,593.3 570,593.3 570.5,593.3 571,593.3 571.5,593.3 572,593.3 572.6,593.3 573.1,593.3 573.6,593.3 574.1,593.3 574.6,593.3 575.2,593.3 575.7,593.3 576.2,593.3 576.7,593.3 577.2,593.3 577.8,593.3 578.3,593.3 578.8,593.3 579.3,593.3 579.9,593.3 580.4,593.3 580.9,593.3 581.4,593.3 581.9,593.3 582.5,593.3 583,593.3 583.5,593.3 584,593.3 584.5,593.3 585.1,593.3 585.6,593.3 586.1,593.3 586.6,593.3 587.1,593.3 587.7,593.3 588.2,593.3 588.7,593.3 589.2,593.3 589.7,593.3 590.3,593.3 590.8,593.3 591.3,593.3 591.8,593.3 592.3,593.3 592.9,593.3 593.4,593.3 593.9,593.3 594.4,593.3 594.9,593.3 595.5,593.3 596,593.3 596.5,593.3 597,593.3 597.5,593.3 598.1,593.3 598.6,593.3 599.1,593.3 599.6,593.3 600.1,593.3 600.7,593.3 601.2,593.3 601.7,593.3 602.2,593.3 602.7,593.3 603.3,593.3 603.8,593.3 604.3,593.3 604.8,593.3 605.3,593.3 605.9,593.3 606.4,593.3 606.9,593.3 607.4,593.3 607.9,593.3 608.5,593.3 609,593.3 609.5,593.3 610,593.3 610.5,593.3 611.1,593.3 611.6,593.3 612.1,593.3 612.6,593.3 613.1,593.3 613.7,593.3 614.2,593.3 614.7,593.3 615.2,593.3 615.7,593.3 616.3,593.3 616.8,593.3 617.3,593.3 617.8,593.3 618.3,593.3 618.9,593.3 619.4,593.3 619.9,593.3 620.4,593.3 620.9,593.3 621.5,593.3 622,593.3 622.5,593.3 623,593.3 623.5,593.3 624.1,593.3 624.6,593.3 625.1,593.3 625.6,593.3 626.1,593.3 626.7,593.3 627.2,593.3 627.7,593.3 628.2,593.3 628.7,593.3 629.3,593.3 629.8,593.3 630.3,593.3 630.8,593.3 631.3,593.3 631.9,593.3 632.4,593.3 632.9,593.3 633.4,593.3 633.9,593.3 634.5,593.3 635,593.3 635.5,593.3 636,593.3 636.5,593.3 637.1,593.3 637.6,593.3 638.1,593.3 638.6,593.3 639.1,593.3 639.7,593.3 640.2,593.3 640.7,593.3 641.2,593.3 641.7,593.3 642.3,593.3 642.8,593.3 643.3,593.3 643.8,593.3 644.3,593.3 644.9,593.3 645.4,593.3 645.9,593.3 646.4,593.3 646.9,593.3 647.5,593.3 648,593.3 648.5,593.3 649,593.3 649.5,593.3 650.1,593.3 650.6,593.3 651.1,593.3 651.6,593.3 652.1,593.3 652.7,593.3 653.2,593.3 653.7,593.3 654.2,593.3 654.7,593.3 655.3,593.3 655.8,593.3 656.3,593.3 656.8,593.3 657.3,593.3 657.9,593.3 658.4,593.3 658.9,593.3 659.4,593.3 659.9,593.3 660.5,593.3 661,593.3 661.5,593.3 662,593.3 662.5,593.3 663.1,593.3 663.6,593.3 664.1,593.3 664.6,593.2 665.1,593.2 665.7,593.2 666.2,593.1 666.7,593 667.2,592.9 667.7,592.8 668.3,592.6 668.8,592.4 669.3,592.1 669.8,591.7 670.3,591.3 670.9,590.8 671.4,590.2 671.9,589.5 672.4,588.7 672.9,587.9 673.5,587.1 674,586.2 674.5,585.4 675,584.6 675.5,583.9 676.1,583.4 676.6,582.9 677.1,582.6 677.6,582.5 678.1,582.6 678.7,582.8 679.2,583.3 679.7,583.8 680.2,584.5 680.7,585.3 681.3,586.1 681.8,586.9 682.3,587.8 682.8,588.6 683.3,589.3 683.9,590 684.4,590.6 684.9,591.2 685.4,591.6 685.9,592 686.5,592.3 687,592.6 687.5,592.8 688,592.9 688.5,593 689.1,593.1 689.6,593.2 690.1,593.2 690.6,593.2 691.1,593.3 691.7,593.3 692.2,593.3 692.7,593.3 693.2,593.3 693.7,593.3 694.3,593.3 694.8,593.3 695.3,593.3 695.8,593.3 696.3,593.3 696.9,593.3 697.4,593.3 697.9,593.3 698.4,593.3 698.9,593.3 699.5,593.3 700,593.3 700.5,593.3 701,593.3 701.5,593.3 702.1,593.3 702.6,593.3 703.1,593.3 703.6,593.3 704.1,593.3 704.7,593.3 705.2,593.3 705.7,593.3 706.2,593.3 706.7,593.3 707.3,593.3 707.8,593.3 708.3,593.3 708.8,593.3 709.3,593.3 709.9,593.3 710.4,593.3 710.9,593.3 711.4,593.3 711.9,593.3 712.5,593.3 713,593.3 713.5,593.3 714,593.3 714.5,593.3 715.1,593.3 715.6,593.3 716.1,593.3 716.6,593.3 717.1,593.3 717.7,593.3 718.2,593.3 718.7,593.3 719.2,593.3 719.7,593.3 720.3,593.3 720.8,593.3 721.3,593.3 721.8,593.3 722.3,593.3 722.9,593.3 723.4,593.3 723.9,593.3 724.4,593.3 724.9,593.3 725.5,593.3 726,593.3 726.5,593.3 727,593.3 727.5,593.3 728.1,593.3 728.6,593.3 729.1,593.3 729.6,593.3 730.1,593.3 730.7,593.3 731.2,593.3 731.7,593.3 732.2,593.3 732.7,593.3 733.3,593.3 733.8,593.3 734.3,593.3" fill="none" stroke="#80b658" stroke-width="1.4"/>
<path d="M422.8,592.1 423.3,592.1 423.8,592.1 424.4,592.1 424.9,592.1 425.4,592.1 425.9,592.1 426.4,592 427,592 427.5,592 428,592 428.5,592 429,592 429.6,592 430.1,592 430.6,592 431.1,592 431.6,591.9 432.2,591.9 432.7,591.9 433.2,591.9 433.7,591.9 434.2,591.9 434.8,591.9 435.3,591.9 435.8,591.8 436.3,591.8 436.8,591.8 437.4,591.8 437.9,591.8 438.4,591.8 438.9,591.8 439.4,591.8 440,591.7 440.5,591.7 441,591.7 441.5,591.7 442,591.7 442.6,591.7 443.1,591.7 443.6,591.6 444.1,591.6 444.6,591.6 445.2,591.6 445.7,591.6 446.2,591.6 446.7,591.5 447.2,591.5 447.8,591.5 448.3,591.5 448.8,591.5 449.3,591.5 449.8,591.4 450.4,591.4 450.9,591.4 451.4,591.4 451.9,591.4 452.4,591.4 453,591.3 453.5,591.3 454,591.3 454.5,591.3 455,591.3 455.6,591.2 456.1,591.2 456.6,591.2 457.1,591.2 457.6,591.1 458.2,591.1 458.7,591.1 459.2,591.1 459.7,591.1 460.2,591 460.8,591 461.3,591 461.8,591 462.3,590.9 462.8,590.9 463.4,590.9 463.9,590.8 464.4,590.8 464.9,590.8 465.4,590.8 466,590.7 466.5,590.7 467,590.7 467.5,590.6 468,590.6 468.6,590.6 469.1,590.6 469.6,590.5 470.1,590.5 470.6,590.5 471.2,590.4 471.7,590.4 472.2,590.4 472.7,590.3 473.2,590.3 473.8,590.2 474.3,590.2 474.8,590.2 475.3,590.1 475.8,590.1 476.4,590 476.9,590 477.4,590 477.9,589.9 478.4,589.9 479,589.8 479.5,589.8 480,589.7 480.5,589.7 481,589.6 481.6,589.6 482.1,589.5 482.6,589.5 483.1,589.4 483.6,589.4 484.2,589.3 484.7,589.3 485.2,589.2 485.7,589.2 486.2,589.1 486.8,589 487.3,589 487.8,588.9 488.3,588.9 488.8,588.8 489.4,588.7 489.9,588.7 490.4,588.6 490.9,588.5 491.4,588.4 492,588.4 492.5,588.3 493,588.2 493.5,588.1 494,588 494.6,588 495.1,587.9 495.6,587.8 496.1,587.7 496.6,587.6 497.2,587.5 497.7,587.4 498.2,587.3 498.7,587.2 499.2,587.1 499.8,587 500.3,586.9 500.8,586.8 501.3,586.7 501.8,586.6 502.4,586.4 502.9,586.3 503.4,586.2 503.9,586.1 504.4,585.9 505,585.8 505.5,585.6 506,585.5 506.5,585.3 507,585.2 507.6,585 508.1,584.9 508.6,584.7 509.1,584.5 509.6,584.4 510.2,584.2 510.7,584 511.2,583.8 511.7,583.6 512.2,583.4 512.8,583.2 513.3,583 513.8,582.7 514.3,582.5 514.8,582.3 515.4,582 515.9,581.8 516.4,581.5 516.9,581.3 517.4,581 518,580.7 518.5,580.4 519,580.1 519.5,579.8 520,579.5 520.6,579.1 521.1,578.8 521.6,578.4 522.1,578.1 522.6,577.7 523.2,577.3 523.7,576.9 524.2,576.4 524.7,576 525.2,575.5 525.8,575.1 526.3,574.6 526.8,574.1 527.3,573.6 527.8,573 528.4,572.5 528.9,571.9 529.4,571.3 529.9,570.7 530.4,570 531,569.3 531.5,568.7 532,567.9 532.5,567.2 533,566.4 533.6,565.6 534.1,564.8 534.6,564 535.1,563.1 535.6,562.2 536.2,561.3 536.7,560.3 537.2,559.3 537.7,558.3 538.2,557.2 538.8,556.1 539.3,555 539.8,553.8 540.3,552.7 540.8,551.5 541.4,550.2 541.9,549 542.4,547.7 542.9,546.4 543.4,545.1 544,543.8 544.5,542.4 545,541.1 545.5,539.8 546,538.4 546.6,537.1 547.1,535.8 547.6,534.6 548.1,533.3 548.6,532.1 549.2,531 549.7,529.9 550.2,528.9 550.7,528 551.2,527.1 551.8,526.4 552.3,525.7 552.8,525.2 553.3,524.8 553.8,524.4 554.4,524.2 554.9,524.2 555.4,524.2 555.9,524.4 556.4,524.7 557,525.1 557.5,525.6 558,526.2 558.5,527 559,527.8 559.6,528.7 560.1,529.7 560.6,530.7 561.1,531.9 561.6,533 562.2,534.3 562.7,535.5 563.2,536.8 563.7,538.1 564.2,539.4 564.8,540.8 565.3,542.1 565.8,543.4 566.3,544.8 566.8,546.1 567.4,547.4 567.9,548.7 568.4,549.9 568.9,551.2 569.4,552.4 570,553.6 570.5,554.7 571,555.8 571.5,556.9 572,558 572.6,559 573.1,560 573.6,561 574.1,562 574.6,562.9 575.2,563.8 575.7,564.6 576.2,565.4 576.7,566.2 577.2,567 577.8,567.8 578.3,568.5 578.8,569.2 579.3,569.9 579.9,570.5 580.4,571.1 580.9,571.7 581.4,572.3 581.9,572.9 582.5,573.4 583,574 583.5,574.5 584,575 584.5,575.4 585.1,575.9 585.6,576.3 586.1,576.8 586.6,577.2 587.1,577.6 587.7,578 588.2,578.3 588.7,578.7 589.2,579 589.7,579.4 590.3,579.7 590.8,580 591.3,580.3 591.8,580.6 592.3,580.9 592.9,581.2 593.4,581.5 593.9,581.7 594.4,582 594.9,582.2 595.5,582.5 596,582.7 596.5,582.9 597,583.1 597.5,583.3 598.1,583.6 598.6,583.8 599.1,583.9 599.6,584.1 600.1,584.3 600.7,584.5 601.2,584.7 601.7,584.8 602.2,585 602.7,585.2 603.3,585.3 603.8,585.5 604.3,585.6 604.8,585.7 605.3,585.9 605.9,586 606.4,586.2 606.9,586.3 607.4,586.4 607.9,586.5 608.5,586.6 609,586.8 609.5,586.9 610,587 610.5,587.1 611.1,587.2 611.6,587.3 612.1,587.4 612.6,587.5 613.1,587.6 613.7,587.7 614.2,587.8 614.7,587.9 615.2,587.9 615.7,588 616.3,588.1 616.8,588.2 617.3,588.3 617.8,588.3 618.3,588.4 618.9,588.5 619.4,588.6 619.9,588.6 620.4,588.7 620.9,588.8 621.5,588.8 622,588.9 622.5,589 623,589 623.5,589.1 624.1,589.2 624.6,589.2 625.1,589.3 625.6,589.3 626.1,589.4 626.7,589.4 627.2,589.5 627.7,589.5 628.2,589.6 628.7,589.6 629.3,589.7 629.8,589.7 630.3,589.8 630.8,589.8 631.3,589.9 631.9,589.9 632.4,590 632.9,590 633.4,590 633.9,590.1 634.5,590.1 635,590.2 635.5,590.2 636,590.2 636.5,590.3 637.1,590.3 637.6,590.3 638.1,590.4 638.6,590.4 639.1,590.4 639.7,590.5 640.2,590.5 640.7,590.5 641.2,590.6 641.7,590.6 642.3,590.6 642.8,590.7 643.3,590.7 643.8,590.7 644.3,590.8 644.9,590.8 645.4,590.8 645.9,590.8 646.4,590.9 646.9,590.9 647.5,590.9 648,590.9 648.5,591 649,591 649.5,591 650.1,591 650.6,591.1 651.1,591.1 651.6,591.1 652.1,591.1 652.7,591.2 653.2,591.2 653.7,591.2 654.2,591.2 654.7,591.2 655.3,591.3 655.8,591.3 656.3,591.3 656.8,591.3 657.3,591.3 657.9,591.4 658.4,591.4 658.9,591.4 659.4,591.4 659.9,591.4 660.5,591.5 661,591.5 661.5,591.5 662,591.5 662.5,591.5 663.1,591.5 663.6,591.6 664.1,591.6 664.6,591.6 665.1,591.6 665.7,591.6 666.2,591.6 666.7,591.7 667.2,591.7 667.7,591.7 668.3,591.7 668.8,591.7 669.3,591.7 669.8,591.7 670.3,591.8 670.9,591.8 671.4,591.8 671.9,591.8 672.4,591.8 672.9,591.8 673.5,591.8 674,591.8 674.5,591.9 675,591.9 675.5,591.9 676.1,591.9 676.6,591.9 677.1,591.9 677.6,591.9 678.1,591.9 678.7,591.9 679.2,592 679.7,592 680.2,592 680.7,592 681.3,592 681.8,592 682.3,592 682.8,592 683.3,592 683.9,592.1 684.4,592.1 684.9,592.1 685.4,592.1 685.9,592.1 686.5,592.1 687,592.1 687.5,592.1 688,592.1 688.5,592.1 689.1,592.1 689.6,592.2 690.1,592.2 690.6,592.2 691.1,592.2 691.7,592.2 692.2,592.2 692.7,592.2 693.2,592.2 693.7,592.2 694.3,592.2 694.8,592.2 695.3,592.2 695.8,592.3 696.3,592.3 696.9,592.3 697.4,592.3 697.9,592.3 698.4,592.3 698.9,592.3 699.5,592.3 700,592.3 700.5,592.3 701,592.3 701.5,592.3 702.1,592.3 702.6,592.3 703.1,592.4 703.6,592.4 704.1,592.4 704.7,592.4 705.2,592.4 705.7,592.4 706.2,592.4 706.7,592.4 707.3,592.4 707.8,592.4 708.3,592.4 708.8,592.4 709.3,592.4 709.9,592.4 710.4,592.4 710.9,592.4 711.4,592.4 711.9,592.5 712.5,592.5 713,592.5 713.5,592.5 714,592.5 714.5,592.5 715.1,592.5 715.6,592.5 716.1,592.5 716.6,592.5 717.1,592.5 717.7,592.5 718.2,592.5 718.7,592.5 719.2,592.5 719.7,592.5 720.3,592.5 720.8,592.5 721.3,592.5 721.8,592.6 722.3,592.6 722.9,592.6 723.4,592.6 723.9,592.6 724.4,592.6 724.9,592.6 725.5,592.6 726,592.6 726.5,592.6 727,592.6 727.5,592.6 728.1,592.6 728.6,592.6 729.1,592.6 729.6,592.6 730.1,592.6 730.7,592.6 731.2,592.6 731.7,592.6 732.2,592.6 732.7,592.6 733.3,592.6 733.8,592.6 734.3,592.7" fill="none" stroke="#4690c2" stroke-width="1.25" stroke-dasharray="5 2.2"/>
<path d="M422.8,591.8 423.3,591.8 423.8,591.7 424.4,591.7 424.9,591.7 425.4,591.7 425.9,591.7 426.4,591.6 427,591.6 427.5,591.6 428,591.6 428.5,591.6 429,591.5 429.6,591.5 430.1,591.5 430.6,591.5 431.1,591.4 431.6,591.4 432.2,591.4 432.7,591.4 433.2,591.3 433.7,591.3 434.2,591.3 434.8,591.3 435.3,591.2 435.8,591.2 436.3,591.2 436.8,591.1 437.4,591.1 437.9,591.1 438.4,591 438.9,591 439.4,591 440,590.9 440.5,590.9 441,590.9 441.5,590.8 442,590.8 442.6,590.8 443.1,590.7 443.6,590.7 444.1,590.6 444.6,590.6 445.2,590.6 445.7,590.5 446.2,590.5 446.7,590.4 447.2,590.4 447.8,590.3 448.3,590.3 448.8,590.2 449.3,590.2 449.8,590.1 450.4,590.1 450.9,590 451.4,590 451.9,589.9 452.4,589.8 453,589.8 453.5,589.7 454,589.7 454.5,589.6 455,589.5 455.6,589.4 456.1,589.4 456.6,589.3 457.1,589.2 457.6,589.1 458.2,589.1 458.7,589 459.2,588.9 459.7,588.8 460.2,588.7 460.8,588.6 461.3,588.5 461.8,588.4 462.3,588.3 462.8,588.2 463.4,588.1 463.9,588 464.4,587.9 464.9,587.8 465.4,587.6 466,587.5 466.5,587.4 467,587.2 467.5,587.1 468,587 468.6,586.8 469.1,586.6 469.6,586.5 470.1,586.3 470.6,586.1 471.2,586 471.7,585.8 472.2,585.6 472.7,585.4 473.2,585.2 473.8,585 474.3,584.7 474.8,584.5 475.3,584.2 475.8,584 476.4,583.7 476.9,583.5 477.4,583.2 477.9,582.9 478.4,582.6 479,582.2 479.5,581.9 480,581.5 480.5,581.2 481,580.8 481.6,580.4 482.1,579.9 482.6,579.5 483.1,579 483.6,578.6 484.2,578 484.7,577.5 485.2,576.9 485.7,576.4 486.2,575.7 486.8,575.1 487.3,574.4 487.8,573.7 488.3,572.9 488.8,572.1 489.4,571.3 489.9,570.4 490.4,569.5 490.9,568.5 491.4,567.4 492,566.4 492.5,565.2 493,564 493.5,562.7 494,561.4 494.6,559.9 495.1,558.4 495.6,556.9 496.1,555.2 496.6,553.4 497.2,551.6 497.7,549.7 498.2,547.7 498.7,545.6 499.2,543.4 499.8,541.2 500.3,538.8 500.8,536.4 501.3,534 501.8,531.5 502.4,529 502.9,526.4 503.4,523.9 503.9,521.5 504.4,519.1 505,516.8 505.5,514.7 506,512.7 506.5,511 507,509.5 507.6,508.3 508.1,507.4 508.6,506.9 509.1,506.7 509.6,506.8 510.2,507.3 510.7,508.1 511.2,509.3 511.7,510.7 512.2,512.4 512.8,514.3 513.3,516.4 513.8,518.7 514.3,521 514.8,523.5 515.4,526 515.9,528.5 516.4,531.1 516.9,533.6 517.4,536 518,538.4 518.5,540.8 519,543 519.5,545.2 520,547.3 520.6,549.4 521.1,551.3 521.6,553.1 522.1,554.9 522.6,556.6 523.2,558.2 523.7,559.7 524.2,561.1 524.7,562.5 525.2,563.8 525.8,565 526.3,566.2 526.8,567.3 527.3,568.3 527.8,569.3 528.4,570.2 528.9,571.1 529.4,572 529.9,572.8 530.4,573.5 531,574.3 531.5,575 532,575.6 532.5,576.2 533,576.8 533.6,577.4 534.1,578 534.6,578.5 535.1,579 535.6,579.4 536.2,579.9 536.7,580.3 537.2,580.7 537.7,581.1 538.2,581.5 538.8,581.8 539.3,582.2 539.8,582.5 540.3,582.8 540.8,583.1 541.4,583.4 541.9,583.7 542.4,583.9 542.9,584.2 543.4,584.5 544,584.7 544.5,584.9 545,585.1 545.5,585.3 546,585.5 546.6,585.7 547.1,585.9 547.6,586.1 548.1,586.3 548.6,586.5 549.2,586.6 549.7,586.8 550.2,586.9 550.7,587.1 551.2,587.2 551.8,587.4 552.3,587.5 552.8,587.6 553.3,587.7 553.8,587.9 554.4,588 554.9,588.1 555.4,588.2 555.9,588.3 556.4,588.4 557,588.5 557.5,588.6 558,588.7 558.5,588.8 559,588.9 559.6,589 560.1,589.1 560.6,589.1 561.1,589.2 561.6,589.3 562.2,589.4 562.7,589.4 563.2,589.5 563.7,589.6 564.2,589.6 564.8,589.7 565.3,589.8 565.8,589.8 566.3,589.9 566.8,590 567.4,590 567.9,590.1 568.4,590.1 568.9,590.2 569.4,590.2 570,590.3 570.5,590.3 571,590.4 571.5,590.4 572,590.5 572.6,590.5 573.1,590.6 573.6,590.6 574.1,590.6 574.6,590.7 575.2,590.7 575.7,590.8 576.2,590.8 576.7,590.8 577.2,590.9 577.8,590.9 578.3,590.9 578.8,591 579.3,591 579.9,591 580.4,591.1 580.9,591.1 581.4,591.1 581.9,591.2 582.5,591.2 583,591.2 583.5,591.3 584,591.3 584.5,591.3 585.1,591.3 585.6,591.4 586.1,591.4 586.6,591.4 587.1,591.4 587.7,591.5 588.2,591.5 588.7,591.5 589.2,591.5 589.7,591.6 590.3,591.6 590.8,591.6 591.3,591.6 591.8,591.6 592.3,591.7 592.9,591.7 593.4,591.7 593.9,591.7 594.4,591.7 594.9,591.8 595.5,591.8 596,591.8 596.5,591.8 597,591.8 597.5,591.8 598.1,591.9 598.6,591.9 599.1,591.9 599.6,591.9 600.1,591.9 600.7,591.9 601.2,592 601.7,592 602.2,592 602.7,592 603.3,592 603.8,592 604.3,592 604.8,592.1 605.3,592.1 605.9,592.1 606.4,592.1 606.9,592.1 607.4,592.1 607.9,592.1 608.5,592.1 609,592.2 609.5,592.2 610,592.2 610.5,592.2 611.1,592.2 611.6,592.2 612.1,592.2 612.6,592.2 613.1,592.2 613.7,592.3 614.2,592.3 614.7,592.3 615.2,592.3 615.7,592.3 616.3,592.3 616.8,592.3 617.3,592.3 617.8,592.3 618.3,592.3 618.9,592.3 619.4,592.4 619.9,592.4 620.4,592.4 620.9,592.4 621.5,592.4 622,592.4 622.5,592.4 623,592.4 623.5,592.4 624.1,592.4 624.6,592.4 625.1,592.4 625.6,592.5 626.1,592.5 626.7,592.5 627.2,592.5 627.7,592.5 628.2,592.5 628.7,592.5 629.3,592.5 629.8,592.5 630.3,592.5 630.8,592.5 631.3,592.5 631.9,592.5 632.4,592.5 632.9,592.5 633.4,592.6 633.9,592.6 634.5,592.6 635,592.6 635.5,592.6 636,592.6 636.5,592.6 637.1,592.6 637.6,592.6 638.1,592.6 638.6,592.6 639.1,592.6 639.7,592.6 640.2,592.6 640.7,592.6 641.2,592.6 641.7,592.6 642.3,592.7 642.8,592.7 643.3,592.7 643.8,592.7 644.3,592.7 644.9,592.7 645.4,592.7 645.9,592.7 646.4,592.7 646.9,592.7 647.5,592.7 648,592.7 648.5,592.7 649,592.7 649.5,592.7 650.1,592.7 650.6,592.7 651.1,592.7 651.6,592.7 652.1,592.7 652.7,592.7 653.2,592.7 653.7,592.7 654.2,592.8 654.7,592.8 655.3,592.8 655.8,592.8 656.3,592.8 656.8,592.8 657.3,592.8 657.9,592.8 658.4,592.8 658.9,592.8 659.4,592.8 659.9,592.8 660.5,592.8 661,592.8 661.5,592.8 662,592.8 662.5,592.8 663.1,592.8 663.6,592.8 664.1,592.8 664.6,592.8 665.1,592.8 665.7,592.8 666.2,592.8 666.7,592.8 667.2,592.8 667.7,592.8 668.3,592.8 668.8,592.8 669.3,592.9 669.8,592.9 670.3,592.9 670.9,592.9 671.4,592.9 671.9,592.9 672.4,592.9 672.9,592.9 673.5,592.9 674,592.9 674.5,592.9 675,592.9 675.5,592.9 676.1,592.9 676.6,592.9 677.1,592.9 677.6,592.9 678.1,592.9 678.7,592.9 679.2,592.9 679.7,592.9 680.2,592.9 680.7,592.9 681.3,592.9 681.8,592.9 682.3,592.9 682.8,592.9 683.3,592.9 683.9,592.9 684.4,592.9 684.9,592.9 685.4,592.9 685.9,592.9 686.5,592.9 687,592.9 687.5,592.9 688,592.9 688.5,592.9 689.1,592.9 689.6,592.9 690.1,592.9 690.6,592.9 691.1,593 691.7,593 692.2,593 692.7,593 693.2,593 693.7,593 694.3,593 694.8,593 695.3,593 695.8,593 696.3,593 696.9,593 697.4,593 697.9,593 698.4,593 698.9,593 699.5,593 700,593 700.5,593 701,593 701.5,593 702.1,593 702.6,593 703.1,593 703.6,593 704.1,593 704.7,593 705.2,593 705.7,593 706.2,593 706.7,593 707.3,593 707.8,593 708.3,593 708.8,593 709.3,593 709.9,593 710.4,593 710.9,593 711.4,593 711.9,593 712.5,593 713,593 713.5,593 714,593 714.5,593 715.1,593 715.6,593 716.1,593 716.6,593 717.1,593 717.7,593 718.2,593 718.7,593 719.2,593 719.7,593 720.3,593 720.8,593 721.3,593 721.8,593 722.3,593 722.9,593 723.4,593 723.9,593 724.4,593.1 724.9,593.1 725.5,593.1 726,593.1 726.5,593.1 727,593.1 727.5,593.1 728.1,593.1 728.6,593.1 729.1,593.1 729.6,593.1 730.1,593.1 730.7,593.1 731.2,593.1 731.7,593.1 732.2,593.1 732.7,593.1 733.3,593.1 733.8,593.1 734.3,593.1" fill="none" stroke="#1e1e1e" stroke-width="1.3" stroke-dasharray="1.3 1.95"/>
<path d="M422.8,591.8 423.3,591.8 423.8,591.8 424.4,591.8 424.9,591.8 425.4,591.7 425.9,591.7 426.4,591.7 427,591.7 427.5,591.6 428,591.6 428.5,591.6 429,591.6 429.6,591.5 430.1,591.5 430.6,591.5 431.1,591.4 431.6,591.4 432.2,591.4 432.7,591.3 433.2,591.3 433.7,591.3 434.2,591.2 434.8,591.2 435.3,591.2 435.8,591.1 436.3,591.1 436.8,591.1 437.4,591 437.9,591 438.4,590.9 438.9,590.9 439.4,590.8 440,590.8 440.5,590.7 441,590.7 441.5,590.6 442,590.6 442.6,590.5 443.1,590.5 443.6,590.4 444.1,590.4 444.6,590.3 445.2,590.2 445.7,590.2 446.2,590.1 446.7,590 447.2,590 447.8,589.9 448.3,589.8 448.8,589.7 449.3,589.6 449.8,589.6 450.4,589.5 450.9,589.4 451.4,589.3 451.9,589.2 452.4,589.1 453,589 453.5,588.9 454,588.8 454.5,588.6 455,588.5 455.6,588.4 456.1,588.3 456.6,588.1 457.1,588 457.6,587.8 458.2,587.7 458.7,587.5 459.2,587.4 459.7,587.2 460.2,587 460.8,586.8 461.3,586.6 461.8,586.4 462.3,586.2 462.8,586 463.4,585.7 463.9,585.5 464.4,585.2 464.9,585 465.4,584.7 466,584.4 466.5,584.1 467,583.7 467.5,583.4 468,583 468.6,582.6 469.1,582.2 469.6,581.8 470.1,581.4 470.6,580.9 471.2,580.4 471.7,579.8 472.2,579.3 472.7,578.7 473.2,578 473.8,577.4 474.3,576.6 474.8,575.9 475.3,575.1 475.8,574.2 476.4,573.3 476.9,572.3 477.4,571.3 477.9,570.1 478.4,569 479,567.7 479.5,566.3 480,564.9 480.5,563.4 481,561.7 481.6,560 482.1,558.1 482.6,556.1 483.1,554 483.6,551.8 484.2,549.5 484.7,547 485.2,544.4 485.7,541.7 486.2,538.9 486.8,536.1 487.3,533.2 487.8,530.2 488.3,527.3 488.8,524.5 489.4,521.8 489.9,519.3 490.4,517.1 490.9,515.1 491.4,513.6 492,512.5 492.5,511.8 493,511.6 493.5,511.9 494,512.7 494.6,514 495.1,515.6 495.6,517.6 496.1,520 496.6,522.5 497.2,525.3 497.7,528.1 498.2,531 498.7,533.9 499.2,536.8 499.8,539.7 500.3,542.4 500.8,545.1 501.3,547.7 501.8,550.1 502.4,552.4 502.9,554.6 503.4,556.7 503.9,558.6 504.4,560.4 505,562.2 505.5,563.8 506,565.3 506.5,566.7 507,568 507.6,569.3 508.1,570.5 508.6,571.5 509.1,572.6 509.6,573.5 510.2,574.4 510.7,575.3 511.2,576.1 511.7,576.8 512.2,577.5 512.8,578.2 513.3,578.8 513.8,579.4 514.3,580 514.8,580.5 515.4,581 515.9,581.5 516.4,581.9 516.9,582.3 517.4,582.7 518,583.1 518.5,583.5 519,583.8 519.5,584.2 520,584.5 520.6,584.8 521.1,585 521.6,585.3 522.1,585.6 522.6,585.8 523.2,586 523.7,586.3 524.2,586.5 524.7,586.7 525.2,586.9 525.8,587.1 526.3,587.2 526.8,587.4 527.3,587.6 527.8,587.7 528.4,587.9 528.9,588 529.4,588.2 529.9,588.3 530.4,588.4 531,588.6 531.5,588.7 532,588.8 532.5,588.9 533,589 533.6,589.1 534.1,589.2 534.6,589.3 535.1,589.4 535.6,589.5 536.2,589.6 536.7,589.7 537.2,589.7 537.7,589.8 538.2,589.9 538.8,590 539.3,590 539.8,590.1 540.3,590.2 540.8,590.2 541.4,590.3 541.9,590.4 542.4,590.4 542.9,590.5 543.4,590.5 544,590.6 544.5,590.6 545,590.7 545.5,590.8 546,590.8 546.6,590.8 547.1,590.9 547.6,590.9 548.1,591 548.6,591 549.2,591.1 549.7,591.1 550.2,591.1 550.7,591.2 551.2,591.2 551.8,591.2 552.3,591.3 552.8,591.3 553.3,591.4 553.8,591.4 554.4,591.4 554.9,591.4 555.4,591.5 555.9,591.5 556.4,591.5 557,591.6 557.5,591.6 558,591.6 558.5,591.6 559,591.7 559.6,591.7 560.1,591.7 560.6,591.7 561.1,591.8 561.6,591.8 562.2,591.8 562.7,591.8 563.2,591.9 563.7,591.9 564.2,591.9 564.8,591.9 565.3,591.9 565.8,592 566.3,592 566.8,592 567.4,592 567.9,592 568.4,592 568.9,592.1 569.4,592.1 570,592.1 570.5,592.1 571,592.1 571.5,592.1 572,592.2 572.6,592.2 573.1,592.2 573.6,592.2 574.1,592.2 574.6,592.2 575.2,592.2 575.7,592.3 576.2,592.3 576.7,592.3 577.2,592.3 577.8,592.3 578.3,592.3 578.8,592.3 579.3,592.3 579.9,592.3 580.4,592.4 580.9,592.4 581.4,592.4 581.9,592.4 582.5,592.4 583,592.4 583.5,592.4 584,592.4 584.5,592.4 585.1,592.5 585.6,592.5 586.1,592.5 586.6,592.5 587.1,592.5 587.7,592.5 588.2,592.5 588.7,592.5 589.2,592.5 589.7,592.5 590.3,592.5 590.8,592.5 591.3,592.6 591.8,592.6 592.3,592.6 592.9,592.6 593.4,592.6 593.9,592.6 594.4,592.6 594.9,592.6 595.5,592.6 596,592.6 596.5,592.6 597,592.6 597.5,592.6 598.1,592.6 598.6,592.7 599.1,592.7 599.6,592.7 600.1,592.7 600.7,592.7 601.2,592.7 601.7,592.7 602.2,592.7 602.7,592.7 603.3,592.7 603.8,592.7 604.3,592.7 604.8,592.7 605.3,592.7 605.9,592.7 606.4,592.7 606.9,592.7 607.4,592.7 607.9,592.8 608.5,592.8 609,592.8 609.5,592.8 610,592.8 610.5,592.8 611.1,592.8 611.6,592.8 612.1,592.8 612.6,592.8 613.1,592.8 613.7,592.8 614.2,592.8 614.7,592.8 615.2,592.8 615.7,592.8 616.3,592.8 616.8,592.8 617.3,592.8 617.8,592.8 618.3,592.8 618.9,592.8 619.4,592.8 619.9,592.9 620.4,592.9 620.9,592.9 621.5,592.9 622,592.9 622.5,592.9 623,592.9 623.5,592.9 624.1,592.9 624.6,592.9 625.1,592.9 625.6,592.9 626.1,592.9 626.7,592.9 627.2,592.9 627.7,592.9 628.2,592.9 628.7,592.9 629.3,592.9 629.8,592.9 630.3,592.9 630.8,592.9 631.3,592.9 631.9,592.9 632.4,592.9 632.9,592.9 633.4,592.9 633.9,592.9 634.5,592.9 635,592.9 635.5,592.9 636,592.9 636.5,592.9 637.1,593 637.6,593 638.1,593 638.6,593 639.1,593 639.7,593 640.2,593 640.7,593 641.2,593 641.7,593 642.3,593 642.8,593 643.3,593 643.8,593 644.3,593 644.9,593 645.4,593 645.9,593 646.4,593 646.9,593 647.5,593 648,593 648.5,593 649,593 649.5,593 650.1,593 650.6,593 651.1,593 651.6,593 652.1,593 652.7,593 653.2,593 653.7,593 654.2,593 654.7,593 655.3,593 655.8,593 656.3,593 656.8,593 657.3,593 657.9,593 658.4,593 658.9,593 659.4,593 659.9,593 660.5,593 661,593 661.5,593 662,593 662.5,593 663.1,593 663.6,593.1 664.1,593.1 664.6,593.1 665.1,593.1 665.7,593.1 666.2,593.1 666.7,593.1 667.2,593.1 667.7,593.1 668.3,593.1 668.8,593.1 669.3,593.1 669.8,593.1 670.3,593.1 670.9,593.1 671.4,593.1 671.9,593.1 672.4,593.1 672.9,593.1 673.5,593.1 674,593.1 674.5,593.1 675,593.1 675.5,593.1 676.1,593.1 676.6,593.1 677.1,593.1 677.6,593.1 678.1,593.1 678.7,593.1 679.2,593.1 679.7,593.1 680.2,593.1 680.7,593.1 681.3,593.1 681.8,593.1 682.3,593.1 682.8,593.1 683.3,593.1 683.9,593.1 684.4,593.1 684.9,593.1 685.4,593.1 685.9,593.1 686.5,593.1 687,593.1 687.5,593.1 688,593.1 688.5,593.1 689.1,593.1 689.6,593.1 690.1,593.1 690.6,593.1 691.1,593.1 691.7,593.1 692.2,593.1 692.7,593.1 693.2,593.1 693.7,593.1 694.3,593.1 694.8,593.1 695.3,593.1 695.8,593.1 696.3,593.1 696.9,593.1 697.4,593.1 697.9,593.1 698.4,593.1 698.9,593.1 699.5,593.1 700,593.1 700.5,593.1 701,593.1 701.5,593.1 702.1,593.1 702.6,593.1 703.1,593.1 703.6,593.1 704.1,593.1 704.7,593.1 705.2,593.1 705.7,593.1 706.2,593.1 706.7,593.1 707.3,593.1 707.8,593.1 708.3,593.1 708.8,593.1 709.3,593.1 709.9,593.1 710.4,593.1 710.9,593.1 711.4,593.1 711.9,593.1 712.5,593.1 713,593.1 713.5,593.2 714,593.2 714.5,593.2 715.1,593.2 715.6,593.2 716.1,593.2 716.6,593.2 717.1,593.2 717.7,593.2 718.2,593.2 718.7,593.2 719.2,593.2 719.7,593.2 720.3,593.2 720.8,593.2 721.3,593.2 721.8,593.2 722.3,593.2 722.9,593.2 723.4,593.2 723.9,593.2 724.4,593.2 724.9,593.2 725.5,593.2 726,593.2 726.5,593.2 727,593.2 727.5,593.2 728.1,593.2 728.6,593.2 729.1,593.2 729.6,593.2 730.1,593.2 730.7,593.2 731.2,593.2 731.7,593.2 732.2,593.2 732.7,593.2 733.3,593.2 733.8,593.2 734.3,593.2" fill="none" stroke="#80395a" stroke-width="1.25" stroke-dasharray="8.5 3"/>
<path d="M422.8,593.3 423.3,593.3 423.8,593.3 424.4,593.3 424.9,593.3 425.4,593.3 425.9,593.3 426.4,593.3 427,593.3 427.5,593.3 428,593.3 428.5,593.3 429,593.3 429.6,593.3 430.1,593.3 430.6,593.3 431.1,593.3 431.6,593.3 432.2,593.3 432.7,593.3 433.2,593.3 433.7,593.3 434.2,593.3 434.8,593.3 435.3,593.3 435.8,593.3 436.3,593.3 436.8,593.3 437.4,593.3 437.9,593.3 438.4,593.3 438.9,593.3 439.4,593.3 440,593.3 440.5,593.3 441,593.3 441.5,593.3 442,593.3 442.6,593.3 443.1,593.3 443.6,593.3 444.1,593.3 444.6,593.3 445.2,593.3 445.7,593.3 446.2,593.3 446.7,593.3 447.2,593.3 447.8,593.3 448.3,593.3 448.8,593.3 449.3,593.3 449.8,593.3 450.4,593.3 450.9,593.3 451.4,593.3 451.9,593.3 452.4,593.3 453,593.3 453.5,593.3 454,593.3 454.5,593.3 455,593.3 455.6,593.3 456.1,593.3 456.6,593.3 457.1,593.3 457.6,593.3 458.2,593.3 458.7,593.3 459.2,593.3 459.7,593.3 460.2,593.3 460.8,593.3 461.3,593.3 461.8,593.3 462.3,593.3 462.8,593.3 463.4,593.3 463.9,593.3 464.4,593.3 464.9,593.3 465.4,593.3 466,593.3 466.5,593.3 467,593.3 467.5,593.3 468,593.3 468.6,593.3 469.1,593.3 469.6,593.3 470.1,593.3 470.6,593.3 471.2,593.3 471.7,593.3 472.2,593.3 472.7,593.3 473.2,593.3 473.8,593.3 474.3,593.3 474.8,593.3 475.3,593.3 475.8,593.3 476.4,593.3 476.9,593.3 477.4,593.3 477.9,593.3 478.4,593.3 479,593.3 479.5,593.3 480,593.3 480.5,593.3 481,593.3 481.6,593.3 482.1,593.3 482.6,593.3 483.1,593.3 483.6,593.3 484.2,593.3 484.7,593.3 485.2,593.3 485.7,593.3 486.2,593.3 486.8,593.3 487.3,593.3 487.8,593.3 488.3,593.3 488.8,593.3 489.4,593.3 489.9,593.3 490.4,593.3 490.9,593.3 491.4,593.3 492,593.3 492.5,593.3 493,593.3 493.5,593.3 494,593.3 494.6,593.3 495.1,593.3 495.6,593.3 496.1,593.3 496.6,593.3 497.2,593.3 497.7,593.3 498.2,593.3 498.7,593.3 499.2,593.3 499.8,593.3 500.3,593.3 500.8,593.3 501.3,593.3 501.8,593.3 502.4,593.3 502.9,593.3 503.4,593.3 503.9,593.3 504.4,593.3 505,593.3 505.5,593.3 506,593.3 506.5,593.3 507,593.3 507.6,593.3 508.1,593.3 508.6,593.3 509.1,593.3 509.6,593.3 510.2,593.3 510.7,593.3 511.2,593.3 511.7,593.3 512.2,593.3 512.8,593.3 513.3,593.3 513.8,593.3 514.3,593.3 514.8,593.3 515.4,593.3 515.9,593.3 516.4,593.3 516.9,593.3 517.4,593.3 518,593.3 518.5,593.3 519,593.3 519.5,593.3 520,593.3 520.6,593.3 521.1,593.3 521.6,593.3 522.1,593.3 522.6,593.3 523.2,593.3 523.7,593.3 524.2,593.3 524.7,593.3 525.2,593.3 525.8,593.3 526.3,593.3 526.8,593.3 527.3,593.3 527.8,593.3 528.4,593.3 528.9,593.3 529.4,593.3 529.9,593.3 530.4,593.3 531,593.3 531.5,593.3 532,593.3 532.5,593.3 533,593.3 533.6,593.3 534.1,593.3 534.6,593.3 535.1,593.3 535.6,593.3 536.2,593.3 536.7,593.3 537.2,593.3 537.7,593.3 538.2,593.3 538.8,593.3 539.3,593.3 539.8,593.3 540.3,593.3 540.8,593.3 541.4,593.3 541.9,593.3 542.4,593.3 542.9,593.2 543.4,593.2 544,593.2 544.5,593.1 545,593.1 545.5,593 546,592.9 546.6,592.8 547.1,592.6 547.6,592.4 548.1,592.1 548.6,591.8 549.2,591.3 549.7,590.8 550.2,590.1 550.7,589.2 551.2,588.2 551.8,586.9 552.3,585.4 552.8,583.6 553.3,581.5 553.8,579 554.4,576.1 554.9,572.8 555.4,569 555.9,564.6 556.4,559.8 557,554.4 557.5,548.5 558,542 558.5,534.9 559,527.4 559.6,519.4 560.1,511.1 560.6,502.4 561.1,493.5 561.6,484.5 562.2,475.6 562.7,466.8 563.2,458.2 563.7,450.1 564.2,442.6 564.8,435.8 565.3,429.8 565.8,424.8 566.3,420.9 566.8,418.1 567.4,416.5 567.9,416.1 568.4,416.9 568.9,419 569.4,422.3 570,426.7 570.5,432 571,438.3 571.5,445.4 572,453.2 572.6,461.5 573.1,470.1 573.6,479 574.1,488 574.6,497 575.2,505.8 575.7,514.3 576.2,522.6 576.7,530.4 577.2,537.7 577.8,544.5 578.3,550.8 578.8,556.5 579.3,561.7 579.9,566.4 580.4,570.5 580.9,574.1 581.4,577.3 581.9,580 582.5,582.3 583,584.3 583.5,586 584,587.4 584.5,588.6 585.1,589.6 585.6,590.3 586.1,591 586.6,591.5 587.1,591.9 587.7,592.2 588.2,592.5 588.7,592.7 589.2,592.8 589.7,593 590.3,593 590.8,593.1 591.3,593.2 591.8,593.2 592.3,593.2 592.9,593.2 593.4,593.3 593.9,593.3 594.4,593.3 594.9,593.3 595.5,593.3 596,593.3 596.5,593.3 597,593.3 597.5,593.3 598.1,593.3 598.6,593.3 599.1,593.3 599.6,593.3 600.1,593.3 600.7,593.3 601.2,593.3 601.7,593.3 602.2,593.3 602.7,593.3 603.3,593.3 603.8,593.3 604.3,593.3 604.8,593.3 605.3,593.3 605.9,593.3 606.4,593.3 606.9,593.3 607.4,593.3 607.9,593.3 608.5,593.3 609,593.3 609.5,593.3 610,593.3 610.5,593.3 611.1,593.3 611.6,593.3 612.1,593.3 612.6,593.3 613.1,593.3 613.7,593.3 614.2,593.3 614.7,593.3 615.2,593.3 615.7,593.3 616.3,593.3 616.8,593.3 617.3,593.3 617.8,593.3 618.3,593.3 618.9,593.3 619.4,593.3 619.9,593.3 620.4,593.3 620.9,593.3 621.5,593.3 622,593.3 622.5,593.3 623,593.3 623.5,593.3 624.1,593.3 624.6,593.3 625.1,593.3 625.6,593.3 626.1,593.3 626.7,593.3 627.2,593.3 627.7,593.3 628.2,593.3 628.7,593.3 629.3,593.3 629.8,593.3 630.3,593.3 630.8,593.3 631.3,593.3 631.9,593.3 632.4,593.3 632.9,593.3 633.4,593.3 633.9,593.3 634.5,593.3 635,593.3 635.5,593.3 636,593.3 636.5,593.3 637.1,593.3 637.6,593.3 638.1,593.3 638.6,593.3 639.1,593.3 639.7,593.3 640.2,593.3 640.7,593.3 641.2,593.3 641.7,593.3 642.3,593.3 642.8,593.3 643.3,593.3 643.8,593.3 644.3,593.3 644.9,593.3 645.4,593.3 645.9,593.3 646.4,593.3 646.9,593.3 647.5,593.3 648,593.3 648.5,593.3 649,593.3 649.5,593.3 650.1,593.3 650.6,593.3 651.1,593.3 651.6,593.3 652.1,593.3 652.7,593.3 653.2,593.3 653.7,593.3 654.2,593.3 654.7,593.3 655.3,593.3 655.8,593.3 656.3,593.3 656.8,593.3 657.3,593.3 657.9,593.3 658.4,593.3 658.9,593.3 659.4,593.3 659.9,593.3 660.5,593.3 661,593.3 661.5,593.3 662,593.3 662.5,593.3 663.1,593.3 663.6,593.3 664.1,593.3 664.6,593.3 665.1,593.3 665.7,593.3 666.2,593.3 666.7,593.3 667.2,593.3 667.7,593.3 668.3,593.3 668.8,593.3 669.3,593.3 669.8,593.3 670.3,593.3 670.9,593.3 671.4,593.3 671.9,593.3 672.4,593.3 672.9,593.3 673.5,593.3 674,593.3 674.5,593.3 675,593.3 675.5,593.3 676.1,593.3 676.6,593.3 677.1,593.3 677.6,593.3 678.1,593.3 678.7,593.3 679.2,593.3 679.7,593.3 680.2,593.3 680.7,593.3 681.3,593.3 681.8,593.3 682.3,593.3 682.8,593.3 683.3,593.3 683.9,593.3 684.4,593.3 684.9,593.3 685.4,593.3 685.9,593.3 686.5,593.3 687,593.3 687.5,593.3 688,593.3 688.5,593.3 689.1,593.3 689.6,593.3 690.1,593.3 690.6,593.3 691.1,593.3 691.7,593.3 692.2,593.3 692.7,593.3 693.2,593.3 693.7,593.3 694.3,593.3 694.8,593.3 695.3,593.3 695.8,593.3 696.3,593.3 696.9,593.3 697.4,593.3 697.9,593.3 698.4,593.3 698.9,593.3 699.5,593.3 700,593.3 700.5,593.3 701,593.3 701.5,593.3 702.1,593.3 702.6,593.3 703.1,593.3 703.6,593.3 704.1,593.3 704.7,593.3 705.2,593.3 705.7,593.3 706.2,593.3 706.7,593.3 707.3,593.3 707.8,593.3 708.3,593.3 708.8,593.3 709.3,593.3 709.9,593.3 710.4,593.3 710.9,593.3 711.4,593.3 711.9,593.3 712.5,593.3 713,593.3 713.5,593.3 714,593.3 714.5,593.3 715.1,593.3 715.6,593.3 716.1,593.3 716.6,593.3 717.1,593.3 717.7,593.3 718.2,593.3 718.7,593.3 719.2,593.3 719.7,593.3 720.3,593.3 720.8,593.3 721.3,593.3 721.8,593.3 722.3,593.3 722.9,593.3 723.4,593.3 723.9,593.3 724.4,593.3 724.9,593.3 725.5,593.3 726,593.3 726.5,593.3 727,593.3 727.5,593.3 728.1,593.3 728.6,593.3 729.1,593.3 729.6,593.3 730.1,593.3 730.7,593.3 731.2,593.3 731.7,593.3 732.2,593.3 732.7,593.3 733.3,593.3 733.8,593.3 734.3,593.3" fill="none" stroke="#5a4e8e" stroke-width="1.25" stroke-dasharray="6.5 1.7 1.1 2.1 1.1 2.1"/>
<path d="M422.8,588.4 423.3,588.4 423.8,588.3 424.4,588.3 424.9,588.2 425.4,588.1 425.9,588.1 426.4,588 427,587.9 427.5,587.8 428,587.8 428.5,587.7 429,587.6 429.6,587.5 430.1,587.4 430.6,587.3 431.1,587.2 431.6,587.2 432.2,587.1 432.7,587 433.2,586.9 433.7,586.8 434.2,586.6 434.8,586.5 435.3,586.4 435.8,586.3 436.3,586.1 436.8,586 437.4,585.9 437.9,585.7 438.4,585.6 438.9,585.5 439.4,585.3 440,585.2 440.5,585 441,584.9 441.5,584.8 442,584.6 442.6,584.5 443.1,584.4 443.6,584.2 444.1,584.1 444.6,583.9 445.2,583.8 445.7,583.6 446.2,583.5 446.7,583.3 447.2,583.2 447.8,583 448.3,582.9 448.8,582.7 449.3,582.5 449.8,582.3 450.4,582.2 450.9,582 451.4,581.8 451.9,581.6 452.4,581.4 453,581.1 453.5,580.9 454,580.7 454.5,580.4 455,580.2 455.6,579.9 456.1,579.7 456.6,579.4 457.1,579.1 457.6,578.8 458.2,578.5 458.7,578.2 459.2,577.9 459.7,577.6 460.2,577.3 460.8,577 461.3,576.6 461.8,576.3 462.3,575.9 462.8,575.6 463.4,575.2 463.9,574.8 464.4,574.4 464.9,573.9 465.4,573.5 466,573 466.5,572.5 467,572 467.5,571.5 468,570.9 468.6,570.3 469.1,569.7 469.6,569.1 470.1,568.5 470.6,567.8 471.2,567.3 471.7,566.7 472.2,566.2 472.7,565.6 473.2,565 473.8,564.3 474.3,563.5 474.8,562.6 475.3,561.6 475.8,560.4 476.4,559.1 476.9,557.7 477.4,556.2 477.9,554.6 478.4,552.8 479,551 479.5,549.1 480,546.9 480.5,544.6 481,542.2 481.6,539.7 482.1,537.1 482.6,534.7 483.1,532.2 483.6,529.7 484.2,527.1 484.7,524.4 485.2,521.6 485.7,518.6 486.2,515.4 486.8,512 487.3,508.4 487.8,504.7 488.3,500.9 488.8,497.2 489.4,493.6 489.9,490.2 490.4,486.9 490.9,483.9 491.4,481.1 492,478.6 492.5,476.4 493,474.5 493.5,473.1 494,472 494.6,471.4 495.1,471 495.6,470.9 496.1,470.8 496.6,470.9 497.2,471 497.7,471.2 498.2,471.2 498.7,471.3 499.2,471.3 499.8,471.2 500.3,471 500.8,470.7 501.3,470.4 501.8,470.1 502.4,470.4 502.9,471.9 503.4,472.1 503.9,472.1 504.4,472 505,471.7 505.5,471.5 506,471.2 506.5,471 507,470.9 507.6,470.8 508.1,470.9 508.6,471 509.1,471.1 509.6,471.3 510.2,471.7 510.7,472.4 511.2,473.5 511.7,474.9 512.2,476.6 512.8,478.5 513.3,480.5 513.8,482.7 514.3,485 514.8,487.3 515.4,489.7 515.9,492 516.4,494.2 516.9,496.4 517.4,498.4 518,500.5 518.5,502.4 519,504.4 519.5,506.3 520,508.2 520.6,510.1 521.1,511.9 521.6,513.7 522.1,515.4 522.6,517.1 523.2,518.7 523.7,520.1 524.2,521.5 524.7,522.8 525.2,524 525.8,525.2 526.3,526.3 526.8,527.4 527.3,528.5 527.8,529.4 528.4,530.2 528.9,530.9 529.4,531.5 529.9,531.8 530.4,531.9 531,532 531.5,532 532,531.9 532.5,531.7 533,531.5 533.6,531.3 534.1,530.9 534.6,530.6 535.1,530.1 535.6,529.7 536.2,529.2 536.7,528.7 537.2,528.3 537.7,527.7 538.2,527.2 538.8,526.7 539.3,526.1 539.8,525.4 540.3,524.8 540.8,524.1 541.4,523.3 541.9,522.5 542.4,521.6 542.9,520.7 543.4,519.9 544,519 544.5,518 545,517.1 545.5,516.2 546,515.2 546.6,514.1 547.1,513 547.6,511.9 548.1,510.7 548.6,509.3 549.2,507.9 549.7,506.4 550.2,504.9 550.7,503.2 551.2,501.4 551.8,499.4 552.3,497.3 552.8,494.8 553.3,491.7 553.8,488.2 554.4,484.2 554.9,479.9 555.4,475.5 555.9,471 556.4,466.6 557,462.5 557.5,458.3 558,453.4 558.5,447.5 559,431.5 559.6,423.2 560.1,416.8 560.6,410.4 561.1,403.6 561.6,397.1 562.2,390.5 562.7,383.8 563.2,376.8 563.7,369.6 564.2,362.5 564.8,356 565.3,350.3 565.8,345.8 566.3,342.6 566.8,340.7 567.4,339.9 567.9,340.1 568.4,341.3 568.9,343.5 569.4,346.9 570,351.3 570.5,356.5 571,362.6 571.5,369.2 572,376.3 572.6,383.4 573.1,390.2 573.6,397 574.1,404 574.6,411.3 575.2,418.3 575.7,426 576.2,437.3 576.7,453.7 577.2,470.4 577.8,482.2 578.3,488.8 578.8,494.5 579.3,499.5 579.9,504 580.4,508.2 580.9,512.3 581.4,515.9 581.9,519 582.5,521.7 583,524.1 583.5,526.3 584,528.6 584.5,530.8 585.1,532.9 585.6,534.6 586.1,536 586.6,537.1 587.1,538.1 587.7,539 588.2,539.7 588.7,540.4 589.2,541.1 589.7,541.7 590.3,542.2 590.8,542.8 591.3,543.4 591.8,544 592.3,544.6 592.9,545.2 593.4,545.8 593.9,546.4 594.4,547 594.9,547.4 595.5,547.8 596,548.1 596.5,548.3 597,548.5 597.5,548.6 598.1,548.8 598.6,548.9 599.1,549 599.6,549.1 600.1,549.3 600.7,549.4 601.2,549.5 601.7,549.6 602.2,549.7 602.7,549.7 603.3,549.8 603.8,549.9 604.3,550 604.8,550.1 605.3,550.2 605.9,550.2 606.4,550.3 606.9,550.4 607.4,550.5 607.9,550.6 608.5,550.7 609,550.7 609.5,550.8 610,550.9 610.5,551 611.1,551.1 611.6,551.2 612.1,551.3 612.6,551.4 613.1,551.5 613.7,551.6 614.2,551.7 614.7,551.8 615.2,551.9 615.7,552 616.3,552.1 616.8,552.2 617.3,552.3 617.8,552.4 618.3,552.5 618.9,552.6 619.4,552.7 619.9,552.9 620.4,553 620.9,553.1 621.5,553.2 622,553.3 622.5,553.5 623,553.6 623.5,553.7 624.1,553.9 624.6,554 625.1,554.1 625.6,554.3 626.1,554.4 626.7,554.5 627.2,554.7 627.7,554.8 628.2,555 628.7,555.2 629.3,555.3 629.8,555.5 630.3,555.6 630.8,555.8 631.3,556 631.9,556.1 632.4,556.3 632.9,556.5 633.4,556.6 633.9,556.8 634.5,557 635,557.2 635.5,557.4 636,557.5 636.5,557.7 637.1,557.9 637.6,558.1 638.1,558.3 638.6,558.5 639.1,558.7 639.7,558.9 640.2,559.1 640.7,559.3 641.2,559.5 641.7,559.7 642.3,559.9 642.8,560.1 643.3,560.3 643.8,560.5 644.3,560.7 644.9,560.9 645.4,561.2 645.9,561.4 646.4,561.6 646.9,561.8 647.5,562.1 648,562.3 648.5,562.5 649,562.8 649.5,563 650.1,563.3 650.6,563.6 651.1,563.8 651.6,564.1 652.1,564.4 652.7,564.7 653.2,564.9 653.7,565.2 654.2,565.5 654.7,565.7 655.3,565.9 655.8,566.2 656.3,566.4 656.8,566.6 657.3,566.8 657.9,567 658.4,567.2 658.9,567.5 659.4,567.7 659.9,567.9 660.5,568.1 661,568.3 661.5,568.5 662,568.7 662.5,568.8 663.1,568.8 663.6,568.8 664.1,568.7 664.6,568.6 665.1,568.5 665.7,568.2 666.2,568 666.7,567.6 667.2,567.3 667.7,567 668.3,566.7 668.8,566.4 669.3,566.1 669.8,566 670.3,565.9 670.9,565.8 671.4,565.8 671.9,565.8 672.4,565.7 672.9,565.6 673.5,565.3 674,565.1 674.5,564.8 675,564.6 675.5,564.5 676.1,564.4 676.6,564.5 677.1,564.6 677.6,564.8 678.1,564.9 678.7,565 679.2,565 679.7,565.3 680.2,565.8 680.7,566.5 681.3,567.3 681.8,568.2 682.3,569 682.8,569.9 683.3,570.8 683.9,571.7 684.4,572.6 684.9,573.4 685.4,574.3 685.9,575 686.5,575.8 687,576.4 687.5,577 688,577.5 688.5,578.1 689.1,578.6 689.6,579.1 690.1,579.5 690.6,579.9 691.1,580.3 691.7,580.6 692.2,580.9 692.7,581.2 693.2,581.5 693.7,581.7 694.3,581.9 694.8,582 695.3,582.2 695.8,582.4 696.3,582.6 696.9,582.7 697.4,582.9 697.9,583.1 698.4,583.2 698.9,583.4 699.5,583.5 700,583.7 700.5,583.9 701,584 701.5,584.2 702.1,584.3 702.6,584.5 703.1,584.6 703.6,584.8 704.1,584.9 704.7,585.1 705.2,585.2 705.7,585.3 706.2,585.4 706.7,585.5 707.3,585.6 707.8,585.7 708.3,585.8 708.8,585.9 709.3,586 709.9,586.1 710.4,586.2 710.9,586.3 711.4,586.4 711.9,586.5 712.5,586.5 713,586.6 713.5,586.7 714,586.8 714.5,586.8 715.1,586.9 715.6,587 716.1,587.1 716.6,587.1 717.1,587.2 717.7,587.3 718.2,587.3 718.7,587.4 719.2,587.5 719.7,587.6 720.3,587.6 720.8,587.7 721.3,587.8 721.8,587.9 722.3,588 722.9,588.1 723.4,588.2 723.9,588.2 724.4,588.3 724.9,588.4 725.5,588.5 726,588.6 726.5,588.6 727,588.7 727.5,588.8 728.1,588.9 728.6,588.9 729.1,589 729.6,589.1 730.1,589.1 730.7,589.2 731.2,589.3 731.7,589.3 732.2,589.4 732.7,589.5 733.3,589.5 733.8,589.6 734.3,589.7" fill="none" stroke="#ee5c2e" stroke-width="1.45" stroke-dasharray="6.5 3.1"/>
</g>
<rect x="422.5" y="322.2" width="311.8" height="271.1" fill="none" stroke="#5a5a5a" stroke-width="1.15"/>
<line x1="422.8" y1="593.3" x2="426.3" y2="593.3" stroke="#555" stroke-width="1"/>
<text transform="translate(417.6,597.9) scale(1,1.05)" text-anchor="end" class="t">0</text>
<line x1="422.8" y1="576.36" x2="425" y2="576.36" stroke="#555" stroke-width="1"/>
<line x1="422.8" y1="559.41" x2="426.3" y2="559.41" stroke="#555" stroke-width="1"/>
<text transform="translate(417.6,564.01) scale(1,1.05)" text-anchor="end" class="t">1000</text>
<line x1="422.8" y1="542.47" x2="425" y2="542.47" stroke="#555" stroke-width="1"/>
<line x1="422.8" y1="525.52" x2="426.3" y2="525.52" stroke="#555" stroke-width="1"/>
<text transform="translate(417.6,530.12) scale(1,1.05)" text-anchor="end" class="t">2000</text>
<line x1="422.8" y1="508.58" x2="425" y2="508.58" stroke="#555" stroke-width="1"/>
<line x1="422.8" y1="491.64" x2="426.3" y2="491.64" stroke="#555" stroke-width="1"/>
<text transform="translate(417.6,496.24) scale(1,1.05)" text-anchor="end" class="t">3000</text>
<line x1="422.8" y1="474.69" x2="425" y2="474.69" stroke="#555" stroke-width="1"/>
<line x1="422.8" y1="457.75" x2="426.3" y2="457.75" stroke="#555" stroke-width="1"/>
<text transform="translate(417.6,462.35) scale(1,1.05)" text-anchor="end" class="t">4000</text>
<line x1="422.8" y1="440.81" x2="425" y2="440.81" stroke="#555" stroke-width="1"/>
<line x1="422.8" y1="423.86" x2="426.3" y2="423.86" stroke="#555" stroke-width="1"/>
<text transform="translate(417.6,428.46) scale(1,1.05)" text-anchor="end" class="t">5000</text>
<line x1="422.8" y1="406.92" x2="425" y2="406.92" stroke="#555" stroke-width="1"/>
<line x1="422.8" y1="389.98" x2="426.3" y2="389.98" stroke="#555" stroke-width="1"/>
<text transform="translate(417.6,394.58) scale(1,1.05)" text-anchor="end" class="t">6000</text>
<line x1="422.8" y1="373.03" x2="425" y2="373.03" stroke="#555" stroke-width="1"/>
<line x1="422.8" y1="356.09" x2="426.3" y2="356.09" stroke="#555" stroke-width="1"/>
<text transform="translate(417.6,360.69) scale(1,1.05)" text-anchor="end" class="t">7000</text>
<line x1="422.8" y1="339.14" x2="425" y2="339.14" stroke="#555" stroke-width="1"/>
<line x1="422.8" y1="322.2" x2="426.3" y2="322.2" stroke="#555" stroke-width="1"/>
<text transform="translate(417.6,326.8) scale(1,1.05)" text-anchor="end" class="t">8000</text>
<line x1="427.52" y1="593.3" x2="427.52" y2="591.3" stroke="#555" stroke-width="1"/>
<line x1="451.12" y1="593.3" x2="451.12" y2="590.3" stroke="#555" stroke-width="1"/>
<text transform="translate(451.12,610.6) scale(1,1.05)" text-anchor="middle" class="t">10</text>
<line x1="474.72" y1="593.3" x2="474.72" y2="591.3" stroke="#555" stroke-width="1"/>
<line x1="498.32" y1="593.3" x2="498.32" y2="590.3" stroke="#555" stroke-width="1"/>
<text transform="translate(498.32,610.6) scale(1,1.05)" text-anchor="middle" class="t">15</text>
<line x1="521.91" y1="593.3" x2="521.91" y2="591.3" stroke="#555" stroke-width="1"/>
<line x1="545.51" y1="593.3" x2="545.51" y2="590.3" stroke="#555" stroke-width="1"/>
<text transform="translate(545.51,610.6) scale(1,1.05)" text-anchor="middle" class="t">20</text>
<line x1="569.11" y1="593.3" x2="569.11" y2="591.3" stroke="#555" stroke-width="1"/>
<line x1="592.71" y1="593.3" x2="592.71" y2="590.3" stroke="#555" stroke-width="1"/>
<text transform="translate(592.71,610.6) scale(1,1.05)" text-anchor="middle" class="t">25</text>
<line x1="616.31" y1="593.3" x2="616.31" y2="591.3" stroke="#555" stroke-width="1"/>
<line x1="639.91" y1="593.3" x2="639.91" y2="590.3" stroke="#555" stroke-width="1"/>
<text transform="translate(639.91,610.6) scale(1,1.05)" text-anchor="middle" class="t">30</text>
<line x1="663.5" y1="593.3" x2="663.5" y2="591.3" stroke="#555" stroke-width="1"/>
<line x1="687.1" y1="593.3" x2="687.1" y2="590.3" stroke="#555" stroke-width="1"/>
<text transform="translate(687.1,610.6) scale(1,1.05)" text-anchor="middle" class="t">35</text>
<line x1="710.7" y1="593.3" x2="710.7" y2="591.3" stroke="#555" stroke-width="1"/>
<line x1="734.3" y1="593.3" x2="734.3" y2="590.3" stroke="#555" stroke-width="1"/>
<text transform="translate(734.3,610.6) scale(1,1.05)" text-anchor="middle" class="t">40</text>
<text x="569.3" y="617.6" text-anchor="middle" class="xl">2Θ/°</text>
<text transform="translate(390.3,457.45) rotate(-90)" text-anchor="middle" class="yl">Intensity/a.u.</text>
<line x1="612.7" y1="343.5" x2="641.7" y2="343.5" fill="none" stroke="#a0a0a0" stroke-width="1.0"/>
<text transform="translate(649.1,348.1) scale(1,1.05)" class="t">CNC_SA5:1</text>
<line x1="612.7" y1="363.2" x2="641.7" y2="363.2" fill="none" stroke="#80395a" stroke-width="1.25" stroke-dasharray="8.5 3"/>
<text transform="translate(649.1,367.8) scale(1,1.05)" class="t">101</text>
<line x1="612.7" y1="382.9" x2="641.7" y2="382.9" fill="none" stroke="#1e1e1e" stroke-width="1.3" stroke-dasharray="1.3 1.95"/>
<text transform="translate(649.1,387.5) scale(1,1.05)" class="t">10ī</text>
<line x1="612.7" y1="402.6" x2="641.7" y2="402.6" fill="none" stroke="#4690c2" stroke-width="1.25" stroke-dasharray="5 2.2"/>
<text transform="translate(649.1,407.2) scale(1,1.05)" class="t">021</text>
<line x1="612.7" y1="422.3" x2="641.7" y2="422.3" fill="none" stroke="#5a4e8e" stroke-width="1.25" stroke-dasharray="6.5 1.7 1.1 2.1 1.1 2.1"/>
<text transform="translate(649.1,426.9) scale(1,1.05)" class="t">002</text>
<line x1="612.7" y1="442" x2="641.7" y2="442" fill="none" stroke="#80b658" stroke-width="1.4"/>
<text transform="translate(649.1,446.6) scale(1,1.05)" class="t">040</text>
<line x1="612.7" y1="461.7" x2="641.7" y2="461.7" fill="none" stroke="#9ccde8" stroke-width="1.25" stroke-dasharray="6.4 2 1.1 2"/>
<text transform="translate(649.1,466.3) scale(1,1.05)" class="t">Amorphous</text>
<line x1="612.7" y1="481.4" x2="641.7" y2="481.4" fill="none" stroke="#ee5c2e" stroke-width="1.45" stroke-dasharray="6.5 3.1"/>
<text transform="translate(649.1,486) scale(1,1.05)" class="t">Fit</text>
</svg>
</body></html>
